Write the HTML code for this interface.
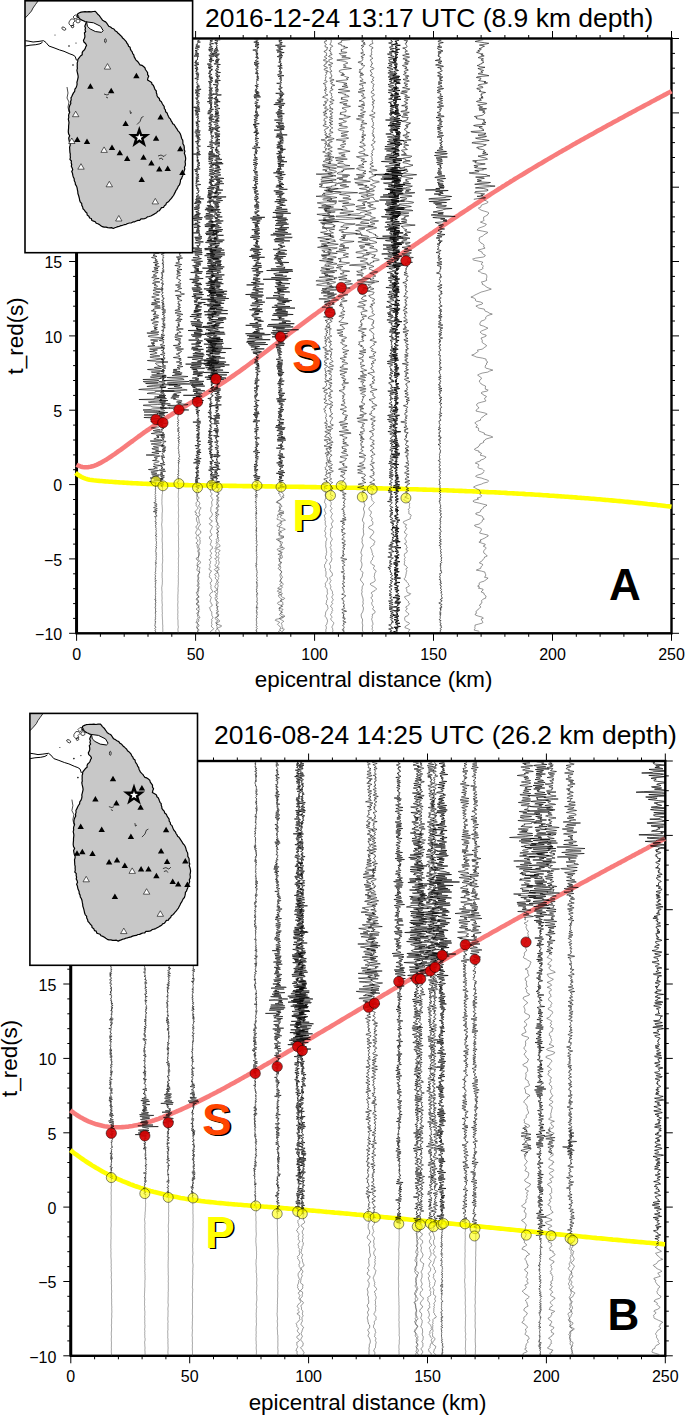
<!DOCTYPE html>
<html><head><meta charset="utf-8"><style>
html,body{margin:0;padding:0;background:#fff;overflow:hidden;width:685px;height:1415px;}
svg{display:block;}
text{font-family:"Liberation Sans", sans-serif;}
</style></head><body>
<svg width="685" height="1415" viewBox="0 0 685 1415" font-family='"Liberation Sans", sans-serif'>
<rect width="685" height="1415" fill="#fff"/>
<path d="M76.6 633.3v7.5M76.6 38.5v-7.5M100.4 633.3v3.5M100.4 38.5v-3.5M124.2 633.3v3.5M124.2 38.5v-3.5M148 633.3v3.5M148 38.5v-3.5M171.8 633.3v3.5M171.8 38.5v-3.5M195.6 633.3v7.5M195.6 38.5v-7.5M219.4 633.3v3.5M219.4 38.5v-3.5M243.2 633.3v3.5M243.2 38.5v-3.5M267 633.3v3.5M267 38.5v-3.5M290.8 633.3v3.5M290.8 38.5v-3.5M314.6 633.3v7.5M314.6 38.5v-7.5M338.4 633.3v3.5M338.4 38.5v-3.5M362.2 633.3v3.5M362.2 38.5v-3.5M385.9 633.3v3.5M385.9 38.5v-3.5M409.7 633.3v3.5M409.7 38.5v-3.5M433.5 633.3v7.5M433.5 38.5v-7.5M457.3 633.3v3.5M457.3 38.5v-3.5M481.1 633.3v3.5M481.1 38.5v-3.5M504.9 633.3v3.5M504.9 38.5v-3.5M528.7 633.3v3.5M528.7 38.5v-3.5M552.5 633.3v7.5M552.5 38.5v-7.5M576.3 633.3v3.5M576.3 38.5v-3.5M600.1 633.3v3.5M600.1 38.5v-3.5M623.9 633.3v3.5M623.9 38.5v-3.5M647.7 633.3v3.5M647.7 38.5v-3.5M671.5 633.3v7.5M671.5 38.5v-7.5M76.6 633.3h-7.5M671.5 633.3h7.5M76.6 618.4h-3.5M671.5 618.4h3.5M76.6 603.6h-3.5M671.5 603.6h3.5M76.6 588.7h-3.5M671.5 588.7h3.5M76.6 573.8h-3.5M671.5 573.8h3.5M76.6 558.9h-7.5M671.5 558.9h7.5M76.6 544.1h-3.5M671.5 544.1h3.5M76.6 529.2h-3.5M671.5 529.2h3.5M76.6 514.3h-3.5M671.5 514.3h3.5M76.6 499.5h-3.5M671.5 499.5h3.5M76.6 484.6h-7.5M671.5 484.6h7.5M76.6 469.7h-3.5M671.5 469.7h3.5M76.6 454.9h-3.5M671.5 454.9h3.5M76.6 440h-3.5M671.5 440h3.5M76.6 425.1h-3.5M671.5 425.1h3.5M76.6 410.2h-7.5M671.5 410.2h7.5M76.6 395.4h-3.5M671.5 395.4h3.5M76.6 380.5h-3.5M671.5 380.5h3.5M76.6 365.6h-3.5M671.5 365.6h3.5M76.6 350.8h-3.5M671.5 350.8h3.5M76.6 335.9h-7.5M671.5 335.9h7.5M76.6 321h-3.5M671.5 321h3.5M76.6 306.2h-3.5M671.5 306.2h3.5M76.6 291.3h-3.5M671.5 291.3h3.5M76.6 276.4h-3.5M671.5 276.4h3.5M76.6 261.5h-7.5M671.5 261.5h7.5M76.6 246.7h-3.5M671.5 246.7h3.5M76.6 231.8h-3.5M671.5 231.8h3.5M76.6 216.9h-3.5M671.5 216.9h3.5M76.6 202.1h-3.5M671.5 202.1h3.5M76.6 187.2h-7.5M671.5 187.2h7.5M76.6 172.3h-3.5M671.5 172.3h3.5M76.6 157.5h-3.5M671.5 157.5h3.5M76.6 142.6h-3.5M671.5 142.6h3.5M76.6 127.7h-3.5M671.5 127.7h3.5M76.6 112.9h-7.5M671.5 112.9h7.5M76.6 98h-3.5M671.5 98h3.5M76.6 83.1h-3.5M671.5 83.1h3.5M76.6 68.2h-3.5M671.5 68.2h3.5M76.6 53.4h-3.5M671.5 53.4h3.5M76.6 38.5h-7.5M671.5 38.5h7.5" stroke="#000" stroke-width="1" fill="none"/>
<rect x="76.6" y="38.5" width="594.9" height="594.8" fill="none" stroke="#000" stroke-width="2.4"/>
<path d="M76.6 38.5V633.3" stroke="#000" stroke-width="2.9"/>
<text x="76.6" y="659.8" text-anchor="middle" font-size="16">0</text>
<text x="195.6" y="659.8" text-anchor="middle" font-size="16">50</text>
<text x="314.6" y="659.8" text-anchor="middle" font-size="16">100</text>
<text x="433.5" y="659.8" text-anchor="middle" font-size="16">150</text>
<text x="552.5" y="659.8" text-anchor="middle" font-size="16">200</text>
<text x="671.5" y="659.8" text-anchor="middle" font-size="16">250</text>
<text x="62.2" y="640" text-anchor="end" font-size="16">−10</text>
<text x="62.2" y="565.6" text-anchor="end" font-size="16">−5</text>
<text x="62.2" y="491.3" text-anchor="end" font-size="16">0</text>
<text x="62.2" y="416.9" text-anchor="end" font-size="16">5</text>
<text x="62.2" y="342.6" text-anchor="end" font-size="16">10</text>
<text x="62.2" y="268.2" text-anchor="end" font-size="16">15</text>
<text x="373.6" y="687.2" text-anchor="middle" font-size="22.4">epicentral distance (km)</text>
<text transform="translate(22.5 335.8) rotate(-90)" text-anchor="middle" font-size="22.4">t_red(s)</text>
<path d="M70.8 1355.8v7.5M70.8 761v-7.5M94.6 1355.8v3.5M94.6 761v-3.5M118.4 1355.8v3.5M118.4 761v-3.5M142.1 1355.8v3.5M142.1 761v-3.5M165.9 1355.8v3.5M165.9 761v-3.5M189.7 1355.8v7.5M189.7 761v-7.5M213.5 1355.8v3.5M213.5 761v-3.5M237.3 1355.8v3.5M237.3 761v-3.5M261 1355.8v3.5M261 761v-3.5M284.8 1355.8v3.5M284.8 761v-3.5M308.6 1355.8v7.5M308.6 761v-7.5M332.4 1355.8v3.5M332.4 761v-3.5M356.2 1355.8v3.5M356.2 761v-3.5M379.9 1355.8v3.5M379.9 761v-3.5M403.7 1355.8v3.5M403.7 761v-3.5M427.5 1355.8v7.5M427.5 761v-7.5M451.3 1355.8v3.5M451.3 761v-3.5M475.1 1355.8v3.5M475.1 761v-3.5M498.8 1355.8v3.5M498.8 761v-3.5M522.6 1355.8v3.5M522.6 761v-3.5M546.4 1355.8v7.5M546.4 761v-7.5M570.2 1355.8v3.5M570.2 761v-3.5M594 1355.8v3.5M594 761v-3.5M617.7 1355.8v3.5M617.7 761v-3.5M641.5 1355.8v3.5M641.5 761v-3.5M665.3 1355.8v7.5M665.3 761v-7.5M70.8 1355.8h-7.5M665.3 1355.8h7.5M70.8 1340.9h-3.5M665.3 1340.9h3.5M70.8 1326.1h-3.5M665.3 1326.1h3.5M70.8 1311.2h-3.5M665.3 1311.2h3.5M70.8 1296.3h-3.5M665.3 1296.3h3.5M70.8 1281.5h-7.5M665.3 1281.5h7.5M70.8 1266.6h-3.5M665.3 1266.6h3.5M70.8 1251.7h-3.5M665.3 1251.7h3.5M70.8 1236.8h-3.5M665.3 1236.8h3.5M70.8 1222h-3.5M665.3 1222h3.5M70.8 1207.1h-7.5M665.3 1207.1h7.5M70.8 1192.2h-3.5M665.3 1192.2h3.5M70.8 1177.4h-3.5M665.3 1177.4h3.5M70.8 1162.5h-3.5M665.3 1162.5h3.5M70.8 1147.6h-3.5M665.3 1147.6h3.5M70.8 1132.8h-7.5M665.3 1132.8h7.5M70.8 1117.9h-3.5M665.3 1117.9h3.5M70.8 1103h-3.5M665.3 1103h3.5M70.8 1088.1h-3.5M665.3 1088.1h3.5M70.8 1073.3h-3.5M665.3 1073.3h3.5M70.8 1058.4h-7.5M665.3 1058.4h7.5M70.8 1043.5h-3.5M665.3 1043.5h3.5M70.8 1028.7h-3.5M665.3 1028.7h3.5M70.8 1013.8h-3.5M665.3 1013.8h3.5M70.8 998.9h-3.5M665.3 998.9h3.5M70.8 984h-7.5M665.3 984h7.5M70.8 969.2h-3.5M665.3 969.2h3.5M70.8 954.3h-3.5M665.3 954.3h3.5M70.8 939.4h-3.5M665.3 939.4h3.5M70.8 924.6h-3.5M665.3 924.6h3.5M70.8 909.7h-7.5M665.3 909.7h7.5M70.8 894.8h-3.5M665.3 894.8h3.5M70.8 880h-3.5M665.3 880h3.5M70.8 865.1h-3.5M665.3 865.1h3.5M70.8 850.2h-3.5M665.3 850.2h3.5M70.8 835.4h-7.5M665.3 835.4h7.5M70.8 820.5h-3.5M665.3 820.5h3.5M70.8 805.6h-3.5M665.3 805.6h3.5M70.8 790.7h-3.5M665.3 790.7h3.5M70.8 775.9h-3.5M665.3 775.9h3.5M70.8 761h-7.5M665.3 761h7.5" stroke="#000" stroke-width="1" fill="none"/>
<rect x="70.8" y="761" width="594.5" height="594.8" fill="none" stroke="#000" stroke-width="2.4"/>
<path d="M70.8 761V1355.8" stroke="#000" stroke-width="2.9"/>
<text x="70.8" y="1382.3" text-anchor="middle" font-size="16">0</text>
<text x="189.7" y="1382.3" text-anchor="middle" font-size="16">50</text>
<text x="308.6" y="1382.3" text-anchor="middle" font-size="16">100</text>
<text x="427.5" y="1382.3" text-anchor="middle" font-size="16">150</text>
<text x="546.4" y="1382.3" text-anchor="middle" font-size="16">200</text>
<text x="665.3" y="1382.3" text-anchor="middle" font-size="16">250</text>
<text x="56.4" y="1362.5" text-anchor="end" font-size="16">−10</text>
<text x="56.4" y="1288.2" text-anchor="end" font-size="16">−5</text>
<text x="56.4" y="1213.8" text-anchor="end" font-size="16">0</text>
<text x="56.4" y="1139.5" text-anchor="end" font-size="16">5</text>
<text x="56.4" y="1065.1" text-anchor="end" font-size="16">10</text>
<text x="56.4" y="990.8" text-anchor="end" font-size="16">15</text>
<text x="367.5" y="1409.7" text-anchor="middle" font-size="22.4">epicentral distance (km)</text>
<text transform="translate(16.7 1058.3) rotate(-90)" text-anchor="middle" font-size="22.4">t_red(s)</text>
<path d="M76.5 464.7 L78.5 465.7 L80.5 466.4 L82.5 466.9 L84.5 467.2 L86.5 467.2 L88.5 467.1 L90.5 466.8 L92.5 466.3 L94.5 465.6 L96.5 464.8 L98.5 463.9 L100.5 462.9 L102.5 461.8 L104.5 460.6 L106.6 459.4 L108.6 458.1 L110.6 456.8 L112.6 455.4 L114.6 454.1 L116.6 452.7 L118.6 451.2 L120.6 449.8 L122.6 448.3 L124.6 446.9 L126.6 445.4 L128.6 443.9 L130.6 442.4 L132.6 441.0 L134.6 439.5 L136.6 438.0 L138.6 436.5 L140.6 435.1 L142.6 433.7 L144.6 432.2 L146.6 430.8 L148.6 429.5 L150.6 428.1 L152.6 426.7 L154.6 425.4 L156.6 424.1 L158.6 422.7 L160.6 421.4 L162.6 420.2 L164.6 418.9 L166.7 417.6 L168.7 416.3 L170.7 415.1 L172.7 413.8 L174.7 412.6 L176.7 411.4 L178.7 410.1 L180.7 408.9 L182.7 407.7 L184.7 406.5 L186.7 405.2 L188.7 404.0 L190.7 402.8 L192.7 401.6 L194.7 400.4 L196.7 399.2 L198.7 397.9 L200.7 396.7 L202.7 395.5 L204.7 394.3 L206.7 393.0 L208.7 391.8 L210.7 390.5 L212.7 389.3 L214.7 388.0 L216.7 386.7 L218.7 385.4 L220.7 384.1 L222.7 382.8 L224.7 381.5 L226.8 380.1 L228.8 378.8 L230.8 377.4 L232.8 376.0 L234.8 374.6 L236.8 373.2 L238.8 371.8 L240.8 370.4 L242.8 368.9 L244.8 367.5 L246.8 366.0 L248.8 364.5 L250.8 363.0 L252.8 361.6 L254.8 360.1 L256.8 358.6 L258.8 357.0 L260.8 355.5 L262.8 354.0 L264.8 352.5 L266.8 351.0 L268.8 349.4 L270.8 347.9 L272.8 346.4 L274.8 344.8 L276.8 343.3 L278.8 341.7 L280.8 340.2 L282.8 338.6 L284.9 337.1 L286.9 335.6 L288.9 334.0 L290.9 332.5 L292.9 331.0 L294.9 329.4 L296.9 327.9 L298.9 326.4 L300.9 324.9 L302.9 323.4 L304.9 321.9 L306.9 320.4 L308.9 318.9 L310.9 317.4 L312.9 315.9 L314.9 314.5 L316.9 313.0 L318.9 311.5 L320.9 310.1 L322.9 308.6 L324.9 307.2 L326.9 305.7 L328.9 304.3 L330.9 302.8 L332.9 301.4 L334.9 300.0 L336.9 298.6 L338.9 297.1 L340.9 295.7 L342.9 294.3 L345.0 292.9 L347.0 291.5 L349.0 290.1 L351.0 288.7 L353.0 287.3 L355.0 285.9 L357.0 284.5 L359.0 283.1 L361.0 281.7 L363.0 280.3 L365.0 278.9 L367.0 277.5 L369.0 276.2 L371.0 274.8 L373.0 273.4 L375.0 272.0 L377.0 270.6 L379.0 269.3 L381.0 267.9 L383.0 266.5 L385.0 265.2 L387.0 263.8 L389.0 262.4 L391.0 261.0 L393.0 259.7 L395.0 258.3 L397.0 256.9 L399.0 255.6 L401.0 254.2 L403.0 252.8 L405.1 251.5 L407.1 250.1 L409.1 248.7 L411.1 247.4 L413.1 246.0 L415.1 244.6 L417.1 243.3 L419.1 241.9 L421.1 240.5 L423.1 239.2 L425.1 237.8 L427.1 236.4 L429.1 235.1 L431.1 233.7 L433.1 232.4 L435.1 231.0 L437.1 229.6 L439.1 228.3 L441.1 226.9 L443.1 225.6 L445.1 224.2 L447.1 222.9 L449.1 221.6 L451.1 220.2 L453.1 218.9 L455.1 217.5 L457.1 216.2 L459.1 214.9 L461.1 213.5 L463.1 212.2 L465.2 210.9 L467.2 209.6 L469.2 208.2 L471.2 206.9 L473.2 205.6 L475.2 204.3 L477.2 203.0 L479.2 201.7 L481.2 200.4 L483.2 199.1 L485.2 197.8 L487.2 196.5 L489.2 195.2 L491.2 193.9 L493.2 192.6 L495.2 191.4 L497.2 190.1 L499.2 188.8 L501.2 187.6 L503.2 186.3 L505.2 185.1 L507.2 183.8 L509.2 182.6 L511.2 181.3 L513.2 180.1 L515.2 178.8 L517.2 177.6 L519.2 176.4 L521.2 175.2 L523.3 174.0 L525.3 172.7 L527.3 171.5 L529.3 170.3 L531.3 169.1 L533.3 167.9 L535.3 166.7 L537.3 165.5 L539.3 164.3 L541.3 163.2 L543.3 162.0 L545.3 160.8 L547.3 159.6 L549.3 158.4 L551.3 157.3 L553.3 156.1 L555.3 154.9 L557.3 153.8 L559.3 152.6 L561.3 151.5 L563.3 150.3 L565.3 149.2 L567.3 148.0 L569.3 146.9 L571.3 145.7 L573.3 144.6 L575.3 143.5 L577.3 142.3 L579.3 141.2 L581.3 140.1 L583.4 138.9 L585.4 137.8 L587.4 136.7 L589.4 135.6 L591.4 134.5 L593.4 133.4 L595.4 132.2 L597.4 131.1 L599.4 130.0 L601.4 128.9 L603.4 127.8 L605.4 126.7 L607.4 125.6 L609.4 124.5 L611.4 123.4 L613.4 122.3 L615.4 121.2 L617.4 120.2 L619.4 119.1 L621.4 118.0 L623.4 116.9 L625.4 115.8 L627.4 114.7 L629.4 113.6 L631.4 112.6 L633.4 111.5 L635.4 110.4 L637.4 109.3 L639.4 108.3 L641.4 107.2 L643.5 106.1 L645.5 105.0 L647.5 104.0 L649.5 102.9 L651.5 101.8 L653.5 100.8 L655.5 99.7 L657.5 98.6 L659.5 97.6 L661.5 96.5 L663.5 95.4 L665.5 94.4 L667.5 93.3 L669.5 92.3 L671.5 91.2" fill="none" stroke="#f87c7c" stroke-width="4.6" stroke-linecap="butt" stroke-linejoin="round" stroke-opacity="1.0"/>
<path d="M75.5 472.9 L77.5 474.5 L79.5 475.8 L81.5 477.0 L83.5 477.9 L85.5 478.6 L87.5 479.2 L89.5 479.7 L91.5 480.0 L93.5 480.3 L95.5 480.5 L97.5 480.7 L99.5 480.9 L101.5 481.0 L103.5 481.2 L105.5 481.4 L107.5 481.5 L109.5 481.7 L111.5 481.8 L113.5 482.0 L115.5 482.1 L117.5 482.2 L119.5 482.4 L121.5 482.5 L123.5 482.6 L125.5 482.8 L127.5 482.9 L129.5 483.0 L131.5 483.1 L133.5 483.2 L135.5 483.3 L137.5 483.4 L139.5 483.5 L141.5 483.6 L143.5 483.7 L145.5 483.8 L147.5 483.9 L149.5 484.0 L151.5 484.0 L153.5 484.1 L155.5 484.2 L157.5 484.3 L159.5 484.3 L161.5 484.4 L163.5 484.5 L165.5 484.5 L167.5 484.6 L169.5 484.7 L171.5 484.7 L173.5 484.8 L175.5 484.8 L177.5 484.9 L179.5 484.9 L181.5 485.0 L183.5 485.0 L185.5 485.1 L187.5 485.1 L189.5 485.2 L191.5 485.2 L193.5 485.3 L195.5 485.3 L197.5 485.3 L199.5 485.4 L201.5 485.4 L203.5 485.4 L205.5 485.5 L207.5 485.5 L209.5 485.5 L211.5 485.6 L213.5 485.6 L215.5 485.6 L217.5 485.7 L219.5 485.7 L221.5 485.7 L223.5 485.8 L225.5 485.8 L227.5 485.8 L229.5 485.9 L231.5 485.9 L233.5 485.9 L235.5 485.9 L237.5 486.0 L239.5 486.0 L241.5 486.0 L243.5 486.1 L245.5 486.1 L247.5 486.1 L249.5 486.1 L251.5 486.2 L253.5 486.2 L255.5 486.2 L257.5 486.3 L259.5 486.3 L261.5 486.3 L263.5 486.3 L265.5 486.4 L267.5 486.4 L269.5 486.4 L271.5 486.4 L273.5 486.5 L275.5 486.5 L277.5 486.5 L279.5 486.6 L281.5 486.6 L283.5 486.6 L285.5 486.7 L287.5 486.7 L289.5 486.7 L291.5 486.7 L293.5 486.8 L295.5 486.8 L297.5 486.8 L299.5 486.9 L301.5 486.9 L303.5 486.9 L305.5 487.0 L307.5 487.0 L309.5 487.0 L311.5 487.1 L313.5 487.1 L315.5 487.1 L317.5 487.2 L319.5 487.2 L321.5 487.2 L323.5 487.3 L325.5 487.3 L327.5 487.3 L329.5 487.4 L331.5 487.4 L333.5 487.4 L335.5 487.5 L337.5 487.5 L339.5 487.5 L341.5 487.6 L343.5 487.6 L345.5 487.7 L347.5 487.7 L349.5 487.7 L351.5 487.8 L353.5 487.8 L355.5 487.8 L357.5 487.9 L359.5 487.9 L361.5 488.0 L363.5 488.0 L365.5 488.1 L367.5 488.1 L369.5 488.1 L371.5 488.2 L373.5 488.2 L375.5 488.3 L377.5 488.3 L379.5 488.4 L381.5 488.4 L383.5 488.5 L385.5 488.5 L387.5 488.6 L389.5 488.6 L391.5 488.7 L393.5 488.7 L395.5 488.8 L397.5 488.8 L399.5 488.9 L401.5 488.9 L403.5 489.0 L405.5 489.0 L407.5 489.1 L409.5 489.2 L411.5 489.2 L413.5 489.3 L415.5 489.3 L417.5 489.4 L419.5 489.5 L421.5 489.5 L423.5 489.6 L425.5 489.6 L427.5 489.7 L429.5 489.8 L431.5 489.8 L433.5 489.9 L435.5 490.0 L437.5 490.0 L439.5 490.1 L441.5 490.2 L443.5 490.2 L445.5 490.3 L447.5 490.4 L449.5 490.5 L451.5 490.5 L453.5 490.6 L455.5 490.7 L457.5 490.8 L459.5 490.9 L461.5 490.9 L463.5 491.0 L465.5 491.1 L467.5 491.2 L469.5 491.3 L471.5 491.3 L473.5 491.4 L475.5 491.5 L477.5 491.6 L479.5 491.7 L481.5 491.8 L483.5 491.9 L485.5 492.0 L487.5 492.1 L489.5 492.2 L491.5 492.2 L493.5 492.3 L495.5 492.4 L497.5 492.5 L499.5 492.6 L501.5 492.7 L503.5 492.8 L505.5 492.9 L507.5 493.1 L509.5 493.2 L511.5 493.3 L513.5 493.4 L515.5 493.5 L517.5 493.6 L519.5 493.7 L521.5 493.8 L523.5 493.9 L525.5 494.1 L527.5 494.2 L529.5 494.3 L531.5 494.4 L533.5 494.5 L535.5 494.7 L537.5 494.8 L539.5 494.9 L541.5 495.0 L543.5 495.2 L545.5 495.3 L547.5 495.4 L549.5 495.6 L551.5 495.7 L553.5 495.8 L555.5 496.0 L557.5 496.1 L559.5 496.2 L561.5 496.4 L563.5 496.5 L565.5 496.7 L567.5 496.8 L569.5 497.0 L571.5 497.1 L573.5 497.3 L575.5 497.4 L577.5 497.6 L579.5 497.7 L581.5 497.9 L583.5 498.0 L585.5 498.2 L587.5 498.3 L589.5 498.5 L591.5 498.7 L593.5 498.8 L595.5 499.0 L597.5 499.2 L599.5 499.3 L601.5 499.5 L603.5 499.7 L605.5 499.9 L607.5 500.0 L609.5 500.2 L611.5 500.4 L613.5 500.6 L615.5 500.8 L617.5 501.0 L619.5 501.1 L621.5 501.3 L623.5 501.5 L625.5 501.7 L627.5 501.9 L629.5 502.1 L631.5 502.3 L633.5 502.5 L635.5 502.7 L637.5 502.9 L639.5 503.1 L641.5 503.3 L643.5 503.5 L645.5 503.7 L647.5 504.0 L649.5 504.2 L651.5 504.4 L653.5 504.6 L655.5 504.8 L657.5 505.1 L659.5 505.3 L661.5 505.5 L663.5 505.7 L665.5 506.0 L667.5 506.2 L669.5 506.4 L671.5 506.7" fill="none" stroke="#ffff00" stroke-width="4.6" stroke-linecap="butt" stroke-linejoin="round" stroke-opacity="1.0"/>
<path d="M70.4 1110.3 L72.4 1111.8 L74.4 1113.3 L76.4 1114.7 L78.4 1116.0 L80.4 1117.2 L82.4 1118.3 L84.4 1119.4 L86.4 1120.4 L88.4 1121.3 L90.4 1122.1 L92.4 1122.9 L94.4 1123.6 L96.4 1124.3 L98.4 1124.8 L100.4 1125.3 L102.4 1125.8 L104.4 1126.2 L106.4 1126.5 L108.4 1126.8 L110.4 1127.0 L112.4 1127.1 L114.4 1127.2 L116.4 1127.3 L118.4 1127.3 L120.5 1127.2 L122.5 1127.1 L124.5 1127.0 L126.5 1126.8 L128.5 1126.6 L130.5 1126.3 L132.5 1126.0 L134.5 1125.6 L136.5 1125.2 L138.5 1124.8 L140.5 1124.3 L142.5 1123.8 L144.5 1123.3 L146.5 1122.7 L148.5 1122.1 L150.5 1121.5 L152.5 1120.8 L154.5 1120.2 L156.5 1119.5 L158.5 1118.8 L160.5 1118.0 L162.5 1117.3 L164.5 1116.5 L166.5 1115.7 L168.5 1114.9 L170.5 1114.1 L172.5 1113.2 L174.5 1112.4 L176.5 1111.5 L178.5 1110.7 L180.5 1109.8 L182.5 1108.9 L184.5 1108.0 L186.5 1107.1 L188.5 1106.2 L190.5 1105.2 L192.5 1104.3 L194.5 1103.3 L196.5 1102.4 L198.5 1101.4 L200.5 1100.4 L202.5 1099.4 L204.5 1098.4 L206.5 1097.4 L208.5 1096.4 L210.5 1095.3 L212.5 1094.3 L214.5 1093.2 L216.5 1092.2 L218.5 1091.1 L220.6 1090.1 L222.6 1089.0 L224.6 1087.9 L226.6 1086.8 L228.6 1085.7 L230.6 1084.6 L232.6 1083.5 L234.6 1082.4 L236.6 1081.3 L238.6 1080.2 L240.6 1079.1 L242.6 1077.9 L244.6 1076.8 L246.6 1075.7 L248.6 1074.5 L250.6 1073.4 L252.6 1072.3 L254.6 1071.1 L256.6 1070.0 L258.6 1068.8 L260.6 1067.7 L262.6 1066.5 L264.6 1065.3 L266.6 1064.2 L268.6 1063.0 L270.6 1061.9 L272.6 1060.7 L274.6 1059.5 L276.6 1058.4 L278.6 1057.2 L280.6 1056.0 L282.6 1054.9 L284.6 1053.7 L286.6 1052.5 L288.6 1051.3 L290.6 1050.2 L292.6 1049.0 L294.6 1047.8 L296.6 1046.6 L298.6 1045.4 L300.6 1044.3 L302.6 1043.1 L304.6 1041.9 L306.6 1040.7 L308.6 1039.5 L310.6 1038.4 L312.6 1037.2 L314.6 1036.0 L316.6 1034.8 L318.7 1033.6 L320.7 1032.4 L322.7 1031.2 L324.7 1030.0 L326.7 1028.8 L328.7 1027.7 L330.7 1026.5 L332.7 1025.3 L334.7 1024.1 L336.7 1022.9 L338.7 1021.7 L340.7 1020.5 L342.7 1019.3 L344.7 1018.1 L346.7 1016.9 L348.7 1015.7 L350.7 1014.6 L352.7 1013.4 L354.7 1012.2 L356.7 1011.0 L358.7 1009.8 L360.7 1008.6 L362.7 1007.4 L364.7 1006.2 L366.7 1005.0 L368.7 1003.8 L370.7 1002.7 L372.7 1001.5 L374.7 1000.3 L376.7 999.1 L378.7 997.9 L380.7 996.7 L382.7 995.5 L384.7 994.3 L386.7 993.2 L388.7 992.0 L390.7 990.8 L392.7 989.6 L394.7 988.4 L396.7 987.3 L398.7 986.1 L400.7 984.9 L402.7 983.7 L404.7 982.6 L406.7 981.4 L408.7 980.2 L410.7 979.0 L412.7 977.9 L414.7 976.7 L416.7 975.5 L418.8 974.4 L420.8 973.2 L422.8 972.0 L424.8 970.9 L426.8 969.7 L428.8 968.6 L430.8 967.4 L432.8 966.3 L434.8 965.1 L436.8 963.9 L438.8 962.8 L440.8 961.6 L442.8 960.5 L444.8 959.3 L446.8 958.2 L448.8 957.0 L450.8 955.9 L452.8 954.8 L454.8 953.6 L456.8 952.5 L458.8 951.3 L460.8 950.2 L462.8 949.1 L464.8 947.9 L466.8 946.8 L468.8 945.6 L470.8 944.5 L472.8 943.4 L474.8 942.3 L476.8 941.1 L478.8 940.0 L480.8 938.9 L482.8 937.7 L484.8 936.6 L486.8 935.5 L488.8 934.4 L490.8 933.2 L492.8 932.1 L494.8 931.0 L496.8 929.9 L498.8 928.8 L500.8 927.6 L502.8 926.5 L504.8 925.4 L506.8 924.3 L508.8 923.2 L510.8 922.1 L512.8 920.9 L514.8 919.8 L516.9 918.7 L518.9 917.6 L520.9 916.5 L522.9 915.4 L524.9 914.3 L526.9 913.2 L528.9 912.1 L530.9 911.0 L532.9 909.9 L534.9 908.8 L536.9 907.7 L538.9 906.6 L540.9 905.5 L542.9 904.4 L544.9 903.3 L546.9 902.2 L548.9 901.1 L550.9 900.0 L552.9 898.9 L554.9 897.8 L556.9 896.7 L558.9 895.6 L560.9 894.5 L562.9 893.4 L564.9 892.3 L566.9 891.2 L568.9 890.1 L570.9 889.1 L572.9 888.0 L574.9 886.9 L576.9 885.8 L578.9 884.7 L580.9 883.6 L582.9 882.5 L584.9 881.5 L586.9 880.4 L588.9 879.3 L590.9 878.2 L592.9 877.1 L594.9 876.1 L596.9 875.0 L598.9 873.9 L600.9 872.8 L602.9 871.7 L604.9 870.7 L606.9 869.6 L608.9 868.5 L610.9 867.4 L612.9 866.4 L614.9 865.3 L617.0 864.2 L619.0 863.1 L621.0 862.1 L623.0 861.0 L625.0 859.9 L627.0 858.8 L629.0 857.8 L631.0 856.7 L633.0 855.6 L635.0 854.6 L637.0 853.5 L639.0 852.4 L641.0 851.4 L643.0 850.3 L645.0 849.2 L647.0 848.2 L649.0 847.1 L651.0 846.0 L653.0 845.0 L655.0 843.9 L657.0 842.8 L659.0 841.8 L661.0 840.7 L663.0 839.6 L665.0 838.6" fill="none" stroke="#f87c7c" stroke-width="4.6" stroke-linecap="butt" stroke-linejoin="round" stroke-opacity="1.0"/>
<path d="M70.4 1150.2 L72.4 1151.7 L74.4 1153.3 L76.4 1154.7 L78.4 1156.2 L80.4 1157.6 L82.4 1159.0 L84.4 1160.4 L86.4 1161.7 L88.4 1163.0 L90.4 1164.3 L92.4 1165.6 L94.4 1166.8 L96.4 1168.0 L98.4 1169.1 L100.4 1170.3 L102.4 1171.4 L104.4 1172.5 L106.4 1173.5 L108.4 1174.5 L110.4 1175.6 L112.4 1176.5 L114.4 1177.5 L116.4 1178.4 L118.4 1179.3 L120.5 1180.2 L122.5 1181.1 L124.5 1181.9 L126.5 1182.7 L128.5 1183.5 L130.5 1184.3 L132.5 1185.0 L134.5 1185.8 L136.5 1186.5 L138.5 1187.2 L140.5 1187.9 L142.5 1188.5 L144.5 1189.2 L146.5 1189.8 L148.5 1190.4 L150.5 1191.0 L152.5 1191.5 L154.5 1192.1 L156.5 1192.6 L158.5 1193.1 L160.5 1193.6 L162.5 1194.1 L164.5 1194.6 L166.5 1195.0 L168.5 1195.5 L170.5 1195.9 L172.5 1196.3 L174.5 1196.7 L176.5 1197.1 L178.5 1197.5 L180.5 1197.9 L182.5 1198.2 L184.5 1198.6 L186.5 1198.9 L188.5 1199.2 L190.5 1199.5 L192.5 1199.8 L194.5 1200.1 L196.5 1200.4 L198.5 1200.7 L200.5 1200.9 L202.5 1201.2 L204.5 1201.4 L206.5 1201.7 L208.5 1201.9 L210.5 1202.1 L212.5 1202.3 L214.5 1202.5 L216.5 1202.8 L218.5 1203.0 L220.6 1203.1 L222.6 1203.3 L224.6 1203.5 L226.6 1203.7 L228.6 1203.9 L230.6 1204.0 L232.6 1204.2 L234.6 1204.4 L236.6 1204.5 L238.6 1204.7 L240.6 1204.8 L242.6 1205.0 L244.6 1205.2 L246.6 1205.3 L248.6 1205.5 L250.6 1205.6 L252.6 1205.8 L254.6 1205.9 L256.6 1206.1 L258.6 1206.2 L260.6 1206.4 L262.6 1206.5 L264.6 1206.7 L266.6 1206.8 L268.6 1207.0 L270.6 1207.1 L272.6 1207.3 L274.6 1207.5 L276.6 1207.6 L278.6 1207.8 L280.6 1207.9 L282.6 1208.1 L284.6 1208.3 L286.6 1208.4 L288.6 1208.6 L290.6 1208.8 L292.6 1208.9 L294.6 1209.1 L296.6 1209.3 L298.6 1209.4 L300.6 1209.6 L302.6 1209.8 L304.6 1209.9 L306.6 1210.1 L308.6 1210.3 L310.6 1210.5 L312.6 1210.6 L314.6 1210.8 L316.6 1211.0 L318.7 1211.1 L320.7 1211.3 L322.7 1211.5 L324.7 1211.7 L326.7 1211.9 L328.7 1212.0 L330.7 1212.2 L332.7 1212.4 L334.7 1212.6 L336.7 1212.7 L338.7 1212.9 L340.7 1213.1 L342.7 1213.3 L344.7 1213.5 L346.7 1213.6 L348.7 1213.8 L350.7 1214.0 L352.7 1214.2 L354.7 1214.4 L356.7 1214.6 L358.7 1214.7 L360.7 1214.9 L362.7 1215.1 L364.7 1215.3 L366.7 1215.5 L368.7 1215.7 L370.7 1215.9 L372.7 1216.1 L374.7 1216.2 L376.7 1216.4 L378.7 1216.6 L380.7 1216.8 L382.7 1217.0 L384.7 1217.2 L386.7 1217.4 L388.7 1217.6 L390.7 1217.8 L392.7 1218.0 L394.7 1218.1 L396.7 1218.3 L398.7 1218.5 L400.7 1218.7 L402.7 1218.9 L404.7 1219.1 L406.7 1219.3 L408.7 1219.5 L410.7 1219.7 L412.7 1219.9 L414.7 1220.1 L416.7 1220.3 L418.8 1220.5 L420.8 1220.7 L422.8 1220.9 L424.8 1221.1 L426.8 1221.3 L428.8 1221.5 L430.8 1221.7 L432.8 1221.9 L434.8 1222.1 L436.8 1222.2 L438.8 1222.4 L440.8 1222.6 L442.8 1222.8 L444.8 1223.0 L446.8 1223.2 L448.8 1223.4 L450.8 1223.6 L452.8 1223.8 L454.8 1224.0 L456.8 1224.2 L458.8 1224.4 L460.8 1224.6 L462.8 1224.8 L464.8 1225.0 L466.8 1225.2 L468.8 1225.4 L470.8 1225.6 L472.8 1225.8 L474.8 1226.0 L476.8 1226.2 L478.8 1226.4 L480.8 1226.6 L482.8 1226.8 L484.8 1227.0 L486.8 1227.2 L488.8 1227.4 L490.8 1227.6 L492.8 1227.8 L494.8 1228.0 L496.8 1228.2 L498.8 1228.4 L500.8 1228.6 L502.8 1228.8 L504.8 1229.0 L506.8 1229.2 L508.8 1229.4 L510.8 1229.6 L512.8 1229.8 L514.8 1230.0 L516.9 1230.2 L518.9 1230.4 L520.9 1230.6 L522.9 1230.8 L524.9 1231.0 L526.9 1231.2 L528.9 1231.4 L530.9 1231.6 L532.9 1231.8 L534.9 1232.0 L536.9 1232.2 L538.9 1232.4 L540.9 1232.6 L542.9 1232.8 L544.9 1233.0 L546.9 1233.2 L548.9 1233.4 L550.9 1233.6 L552.9 1233.8 L554.9 1234.0 L556.9 1234.2 L558.9 1234.4 L560.9 1234.6 L562.9 1234.8 L564.9 1235.0 L566.9 1235.2 L568.9 1235.4 L570.9 1235.6 L572.9 1235.8 L574.9 1235.9 L576.9 1236.1 L578.9 1236.3 L580.9 1236.5 L582.9 1236.7 L584.9 1236.9 L586.9 1237.1 L588.9 1237.3 L590.9 1237.5 L592.9 1237.7 L594.9 1237.9 L596.9 1238.1 L598.9 1238.2 L600.9 1238.4 L602.9 1238.6 L604.9 1238.8 L606.9 1239.0 L608.9 1239.2 L610.9 1239.4 L612.9 1239.6 L614.9 1239.7 L617.0 1239.9 L619.0 1240.1 L621.0 1240.3 L623.0 1240.5 L625.0 1240.7 L627.0 1240.9 L629.0 1241.0 L631.0 1241.2 L633.0 1241.4 L635.0 1241.6 L637.0 1241.8 L639.0 1242.0 L641.0 1242.1 L643.0 1242.3 L645.0 1242.5 L647.0 1242.7 L649.0 1242.8 L651.0 1243.0 L653.0 1243.2 L655.0 1243.4 L657.0 1243.6 L659.0 1243.7 L661.0 1243.9 L663.0 1244.1 L665.0 1244.2" fill="none" stroke="#ffff00" stroke-width="4.6" stroke-linecap="butt" stroke-linejoin="round" stroke-opacity="1.0"/>
<clipPath id="ca"><rect x="76.6" y="39.7" width="594.9" height="593.5999999999999"/></clipPath>
<g clip-path="url(#ca)">
<path d="M1562 4831l-10 5 0 5 4 5 4 5 -6 5 -5 5 9 5 0 5 -4 5 -3 5 7 5 1 5 -8 5 4 5 2 5 -6 5 3 5 0 5 -1 5 -1 5 5 5 -3 5 -6 5 5 5 5 5 -3 5 -3 5 5 5 1 5 -7 5 -1 5 4 5 7 5 -3 5 -8 5 5 5 3 5 -1 5 -18 5 4 5 22 5 2 5 2 5 -23 5 9 5 16 5 -6 5 -16 5 -14 5 20 5 18 5 -10 5 -15 5 -4 5 27 5 -3 5 -35 5 23 5 11 5 -16 5 12 5 -6 5 2 5 0 5 9 5 3 5 -26 5 9 5 3 5 2 5 -3 5 2 5 1 5 -1 5 2 5 -6 5 -5 5 11 5 5 5 -10 5 1 5 10 5 -5 5 -6 5 -1 5 6 5 1 5 -7 5 7 5 5 5 -4 5 -6 5 4 5 0 5 4 5 0 5 -3 5 0 5 -2 5 5 5 -3 5 -4 5 9 5 -6 5 -9 5 11 5 6 5 -4 5 -6 5 2 5 0 5 0 5 3 5 1 5 -6 5 3 5 4 5 0 5 0 5 2 5 -4 5 -3 5 2 5 4 5 -1 5 -3 5 -5 5 2 5 9 5 -7 5 -1 5 1 5 -2 5 -1 5 1 5 1 5 -5 5 5 5 3 5 -6 5 6 5 4 5 -8 5 1 5 0 5 2 5 2 5 -5 5 2 5 0 5 1 5 -2 5 3 5 -1 5 -5 5 0 5 3 5 -4 5 -3 5 14 5 -11 5 -4 5 6 5 -1 5 2 5 2 5 -2 5 -3 5 2 5 -3 5 2 5 3 5 -5 5 3 5 0 5 -6 5 4 5 0 5 -5 5 4 5 3 5 -4 5 -6 5 4 5 4 5 -3 5 3 5 -1 5 -7 5 7 5 -1 5 0 5 -6 5 6 5 10 5 -11 5 -4 5 6 5 6 5 -1 5 -7 5 -4 5 7 5 -2 5 2 5 1 5 -5 5 -4 5 9 5 1 5 2 5 -7 5 3 5 0 5 -2 5 -1 5 5 5 -5 5 6 5 -6 5 5 5 -1 5 -1 5 -1 5 -5 5 7 5 -1 5 -3 5 2 5 1 5 1 5 -9 5 0 5 14 5 -4 5 -8 5 6 5 2 5 3 5 -9 5 2 5 5 5 -7 5 0 5 7 5 0 5 -5 5 2 5 -8 5 4 5 7 5 -1 5 -7 5 6 5 -6 5 7 5 4 5 -11 5 3 5 -3 5 4 5 -2 5 6 5 -3 5 -1 5 2 5 -1 5 -2 5 -1 5 -2 5 6 5 -5 5 1 5 1 5 -6 5 6 5 3 5 -8 5 6 5 -4 5 2 5 2 5 -5 5 -2 5 1 5 4 5 -2 5 9 5 -3 5 -5 5 -4 5 5 5 5 5 -6 5 -2 5 3 5 4 5 -6 5 1 5 2 5" transform="scale(.1)" fill="none" stroke="#111" stroke-width="5.9"/>
<path d="M1573 385l-24 5 8 5 22 5 -5 5 -5 5 -20 5 0 5 14 5 4 5 10 5 -18 5 6 5 4 5 -35 5 4 5 20 5 35 5 -18 5 -24 5 -7 5 -4 5 6 5 14 5 -5 5 -7 5 9 5 -3 5 0 5 5 5 -11 5 0 5 -7 5 20 5 -6 5 3 5 2 5 -15 5 -10 5 3 5 41 5 4 5 -8 5 -48 5 9 5 35 5 13 5 -14 5 -13 5 -7 5 33 5 -28 5 -21 5 18 5 16 5 -27 5 -17 5 24 5 10 5 3 5 -8 5 -2 5 0 5 5 5 9 5 -15 5 5 5 -27 5 10 5 24 5 15 5 5 5 -29 5 -10 5 20 5 -3 5 -31 5 19 5 22 5 -2 5 -11 5 -10 5 4 5 27 5 -5 5 -26 5 -5 5 9 5 22 5 -26 5 3 5 14 5 13 5 -30 5 -3 5 9 5 15 5 -8 5 -10 5 -5 5 -4 5 25 5 -3 5 -17 5 -6 5 1 5 23 5 -1 5 -13 5 3 5 -5 5 4 5 4 5 9 5 6 5 -10 5 -14 5 3 5 -1 5 5 5 4 5 -25 5 -9 5 20 5 10 5 9 5 5 5 -16 5 9 5 -20 5 16 5 -1 5 -6 5 3 5 3 5 -4 5 -5 5 4 5 -8 5 0 5 6 5 -14 5 19 5 32 5 -30 5 -23 5 7 5 28 5 -18 5 5 5 14 5 -12 5 -8 5 3 5 3 5 9 5 -23 5 16 5 11 5 18 5 -10 5 -29 5 9 5 6 5 -5 5 1 5 -1 5 -1 5 -3 5 25 5 5 5 -2 5 -28 5 -11 5 19 5 -6 5 -28 5 15 5 9 5 -1 5 -1 5 4 5 15 5 -18 5 3 5 -6 5 7 5 -5 5 24 5 5 5 -16 5 3 5 -20 5 8 5 17 5 19 5 -7 5 -38 5 3 5 13 5 31 5 -6 5 -13 5 -8 5 4 5 4 5 14 5 -15 5 -10 5 -8 5 -8 5 9 5 3 5 14 5 -19 5 -14 5 11 5 8 5 -9 5 1 5 7 5 1 5 -5 5 2 5 1 5 -16 5 13 5 23 5 -5 5 -27 5 -4 5 46 5 -8 5 -25 5 -17 5 12 5 15 5 7 5 2 5 -22 5 5 5 8 5 5 5 -20 5 -15 5 23 5 -1 5 3 5 17 5 6 5 2 5 -5 5 -14 5 -25 5 11 5 25 5 0 5 -22 5 23 5 -2 5 -17 5 13 5 -5 5 -1 5 18 5 -12 5 2 5 -8 5 11 5 5 5 -22 5 6 5 -1 5 2 5 18 5 -13 5 -20 5 35 5 1 5 1 5 -12 5 -24 5 11 5 21 5 -2 5 8 5 -23 5 -11 5 -4 5 24 5 3 5 -16 5 12 5 -5 5 -25 5 2 5 38 5 -15 5 -20 5 -9 5 14 5 -3 5 16 5 7 5 4 5 -10 5 -24 5 -19 5 18 5 41 5 -19 5 -33 5 -7 5 40 5 14 5 -34 5 -26 5 39 5 15 5 -8 5 -20 5 19 5 2 5 -53 5 27 5 44 5 -11 5 -5 5 -2 5 -32 5 -28 5 25 5 45 5 1 5 -18 5 -15 5 -8 5 18 5 -4 5 18 5 7 5 -49 5 -11 5 25 5 25 5 -20 5 18 5 -7 5 8 5 -11 5 5 5 -8 5 8 5 -7 5 29 5 -1 5 -10 5 -19 5 -10 5 26 5 -3 5 -23 5 -14 5 35 5 20 5 -27 5 -29 5 6 5 26 5 17 5 -18 5 -14 5 38 5 -8 5 -6 5 -11 5 -16 5 8 5 -13 5 21 5 2 5 -6 5 3 5 3 5 -2 5 -6 5 -10 5 18 5 11 5 -1 5 -16 5 -5 5 9 5 24 5 -7 5 -22 5 33 5 -26 5 -31 5 15 5 29 5 7 5 -29 5 7 5 -9 5 -1 5 -1 5 11 5 27 5 -30 5 -38 5 11 5 49 5 6 5 -13 5 -17 5 14 5 -7 5 -24 5 5 5 24 5 0 5 0 5 1 5 3 5 -1 5 -13 5 -19 5 14 5 46 5 -30 5 -27 5 8 5 3 5 -16 5 29 5 11 5 -34 5 -21 5 22 5 23 5 -8 5 4 5 16 5 -22 5 2 5 25 5 -1 5 -42 5 29 5 22 5 -11 5 -25 5 22 5 -22 5 18 5 27 5 -10 5 -46 5 9 5 33 5 -37 5 4 5 19 5 17 5 -38 5 -23 5 27 5 32 5 -13 5 -11 5 -11 5 5 5 -20 5 15 5 22 5 -11 5 -32 5 -8 5 29 5 46 5 -44 5 -1 5 -8 5 -6 5 5 5 31 5 30 5 -52 5 -22 5 2 5 33 5 -1 5 -19 5 17 5 19 5 -2 5 -7 5 -26 5 -2 5 25 5 38 5 -28 5 -43 5 2 5 27 5 1 5 42 5 -12 5 -45 5 -16 5 6 5 31 5 25 5 -24 5 -9 5 -27 5 -15 5 12 5 26 5 15 5 26 5 -17 5 -41 5 20 5 -9 5 16 5 34 5 -67 5 -16 5 45 5 14 5 -62 5 33 5 40 5 16 5 -41 5 -16 5 32 5 28 5 -37 5 -29 5 -7 5 11 5 -26 5 -4 5 48 5 -3 5 -3 5 -13 5 16 5 -20 5 -9 5 44 5 14 5 -5 5 -44 5 4 5 41 5 1 5 -54 5 21 5 -26 5 -16 5 15 5 12 5 38 5 11 5 -45 5 -17 5 1 5 15 5 36 5 2 5 -15 5 -20 5 -6 5 10 5 28 5 -33 5 21 5 -19 5 30 5 -10 5 -15 5 -24 5 -16 5 82 5 -21 5 -100 5 39 5 68 5 9 5 -23 5 -57 5 -23 5 2 5 27 5 79 5 39 5 -11 5 -33 5 -56 5 -24 5 34 5 39 5 -42 5 5 5 1 5 -32 5 35 5 -23 5 11 5 -6 5 23 5 -70 5 -2 5 71 5 79 5 18 5 -57 5 -93 5 24 5 55 5 -39 5 7 5 -49 5 62 5 -1 5 16 5 -22 5 -19 5 -29 5 27 5 38 5 33 5 -55 5 -45 5 13 5 36 5 56 5 30 5 -65 5 -17 5 -79 5 39 5 107 5 61 5 -57 5 -66 5 -2 5 8 5 3 5 6 5 16 5 -2 5 28 5 -33 5 -38 5 24 5 48 5 -71 5 -70 5 48 5 86 5 34 5 -38 5 -91 5 22 5 62 5 -29 5 39 5 -52 5 -39 5 31 5 117 5 -84 5 -77 5 21 5 50 5 33 5 -23 5 -155 5 106 5 53 5 -23 5 -133 5 12 5 139 5 -3 5 -124 5 101 5 217 5 -132 5 -109 5 -43 5 -21 5 118 5 68 5 -80 5 -39 5 -107 5 -42 5 83 5 154 5 119 5 -187 5 2 5 -22 5 -51 5 -14 5 93 5 52 5 3 5 40 5 -38 5 -33 5 -43 5 108 5 -17 5 -94 5 1 5 -154 5 204 5 86 5 -64 5 -93 5 -38 5 7 5 123 5 71 5 19 5 -127 5 -140 5 -6 5 75 5 7 5 16 5 90 5 77 5 -48 5 -125 5 -22 5 -71 5 127 5 42 5 -4 5 -155 5 137 5 74 5 -82 5 12 5 -60 5 -80 5 105 5 70 5 -64 5 2 5 -115 5 99 5 53 5 -70 5 -14 5 60 5 27 5 -22 5 -64 5 53 5 22 5 8 5 -27 5 -3 5 14 5 54 5 -24 5 -5 5 -3 5 -5 5 -70 5 -9 5 29 5 20 5 25 5 18 5 -74 5 9 5 46 5 14 5 -49 5 -9 5 -30 5 61 5 47 5 17 5 -72 5 1 5 23 5 -18 5 20 5 -35 5 0 5 -18 5 26 5 50 5 -21 5 -91 5 37 5 71 5 3 5 -2 5 -75 5 -24 5 47 5 42 5 31 5 -53 5 -46 5 7 5 30 5 17 5 -67 5 1 5 19 5 47 5 -13 5 -20 5 54 5 -54 5 -36 5 43 5 29 5 -38 5 -21 5 -70 5 64 5 74 5 -21 5 -31 5 -6 5 34 5 -12 5 -10 5 10 5 2 5 -40 5 62 5 4 5 -7 5 -21 5 -18 5 -8 5 6 5 -4 5 34 5 33 5 -39 5 -35 5 21 5 0 5 22 5 -35 5 4 5 -60 5 33 5 69 5 -14 5 -32 5 -31 5 13 5 47 5 -4 5 -50 5 24 5 51 5 -17 5 -49 5 15 5 47 5 -25 5 -60 5 55 5 77 5 -58 5 -38 5 71 5 -47 5 -65 5 18 5 10 5 41 5" transform="scale(.1)" fill="none" stroke="#000" stroke-width="5.9"/>
<path d="M1626 4868l-1 10 0 10 0 10 1 10 -1 10 -1 10 1 10 -4 10 0 10 0 10 -1 10 0 10 -1 10 0 10 1 10 -1 10 0 10 1 10 2 10 0 10 1 10 0 10 1 10 0 10 0 10 -2 10 -1 10 0 10 0 10 0 10 -1 10 0 10 2 10 -1 10 -1 10 -1 10 -2 10 -1 10 2 10 1 10 1 10 0 10 1 10 1 10 1 10 -1 10 -1 10 2 10 0 10 0 10 -1 10 -1 10 0 10 1 10 0 10 2 10 0 10 1 10 -2 10 1 10 -1 10 1 10 2 10 -1 10 0 10 0 10 -1 10 2 10 0 10 1 10 -1 10 -1 10 2 10 0 10 -1 10 -1 10 -2 10 -1 10 1 10 1 10 -1 10 0 10 1 10 1 10 -1 10 -3 10 0 10 0 10 0 10 1 10 -1 10 3 10 -1 10 1 10 0 10 -1 10 0 10 -1 10 -2 10 -1 10 -2 10 1 10 0 10 1 10 2 10 0 10 -2 10 0 10 1 10 0 10 1 10 0 10 -1 10 -1 10 2 10 0 10 1 10 2 10 -1 10 -2 10 0 10 1 10 0 10 1 10 -1 10 2 10 0 10 -3 10 2 10 0 10 1 10 0 10 1 10 1 10 0 10 0 10 0 10 1 10 1 10 0 10 -1 10 1 10 0 10 0 10 0 10 1 10" transform="scale(.1)" fill="none" stroke="#555" stroke-width="5.5"/>
<path d="M1619 385l4 4 -12 4 4 4 0 4 8 4 11 4 -22 4 -8 4 19 4 2 4 1 4 2 4 -12 4 2 4 7 4 0 4 4 4 -8 4 3 4 5 4 3 4 -7 4 -9 4 -4 4 6 4 12 4 -1 4 -10 4 -4 4 1 4 -1 4 3 4 16 4 -8 4 -9 4 -7 4 2 4 17 4 -12 4 -3 4 8 4 -10 4 2 4 6 4 2 4 -1 4 -1 4 5 4 -1 4 -3 4 -3 4 0 4 -1 4 15 4 -5 4 -22 4 -10 4 17 4 18 4 -15 4 -6 4 8 4 13 4 3 4 -18 4 -2 4 0 4 5 4 4 4 9 4 -7 4 -13 4 -3 4 13 4 2 4 -2 4 -4 4 13 4 -10 4 2 4 2 4 3 4 -5 4 1 4 1 4 -2 4 -3 4 0 4 4 4 -2 4 -5 4 -1 4 -4 4 6 4 14 4 -7 4 -9 4 4 4 13 4 1 4 4 4 -11 4 -8 4 -8 4 24 4 -6 4 -1 4 -10 4 5 4 2 4 11 4 -2 4 -6 4 -7 4 -4 4 8 4 4 4 1 4 -6 4 5 4 -4 4 1 4 1 4 -4 4 4 4 -4 4 -7 4 3 4 8 4 3 4 3 4 -3 4 -15 4 13 4 4 4 -8 4 0 4 13 4 -4 4 -12 4 7 4 2 4 -21 4 1 4 23 4 -1 4 -15 4 4 4 7 4 -4 4 2 4 5 4 -6 4 -13 4 11 4 7 4 -7 4 -7 4 2 4 3 4 4 4 -13 4 4 4 12 4 -6 4 -12 4 -4 4 4 4 3 4 16 4 -14 4 2 4 13 4 -7 4 -8 4 -3 4 5 4 4 4 -1 4 -4 4 -6 4 13 4 -4 4 3 4 4 4 -13 4 6 4 -3 4 -5 4 9 4 -3 4 2 4 2 4 -7 4 -3 4 5 4 3 4 0 4 -6 4 9 4 8 4 1 4 -15 4 -2 4 14 4 -8 4 -13 4 -2 4 4 4 14 4 11 4 -17 4 -3 4 8 4 1 4 0 4 -10 4 0 4 14 4 -7 4 -8 4 -2 4 10 4 -1 4 -4 4 -7 4 19 4 -9 4 3 4 2 4 -7 4 3 4 10 4 5 4 -15 4 -1 4 15 4 -2 4 -14 4 -4 4 13 4 0 4 -2 4 3 4 -7 4 -6 4 0 4 6 4 3 4 6 4 0 4 -14 4 -2 4 24 4 -5 4 -12 4 7 4 -2 4 -4 4 -2 4 1 4 -8 4 15 4 0 4 -19 4 -3 4 19 4 13 4 -10 4 -8 4 -1 4 11 4 6 4 -7 4 -1 4 -10 4 11 4 5 4 3 4 -4 4 -10 4 6 4 6 4 0 4 4 4 -16 4 -3 4 13 4 3 4 0 4 -4 4 7 4 4 4 -12 4 2 4 5 4 4 4 -25 4 8 4 7 4 1 4 -3 4 3 4 3 4 -4 4 -3 4 1 4 2 4 9 4 -5 4 -13 4 7 4 13 4 -5 4 -13 4 3 4 6 4 -1 4 3 4 -7 4 -1 4 -8 4 4 4 13 4 7 4 -18 4 -2 4 9 4 9 4 -10 4 -15 4 9 4 9 4 -10 4 -23 4 17 4 19 4 -12 4 -7 4 12 4 1 4 -19 4 0 4 7 4 8 4 -13 4 -2 4 3 4 1 4 6 4 -7 4 -6 4 7 4 8 4 -9 4 7 4 -10 4 0 4 2 4 11 4 -13 4 1 4 8 4 -4 4 -13 4 17 4 -2 4 -11 4 6 4 -1 4 12 4 -1 4 -8 4 -2 4 8 4 9 4 -16 4 9 4 -4 4 -1 4 2 4 11 4 -11 4 -3 4 11 4 0 4 -5 4 -7 4 15 4 -1 4 8 4 -6 4 -21 4 0 4 19 4 2 4 -8 4 -9 4 1 4 7 4 1 4 7 4 -4 4 -15 4 16 4 13 4 -17 4 -12 4 23 4 -3 4 -8 4 -6 4 15 4 9 4 -21 4 1 4 2 4 0 4 -8 4 10 4 3 4 7 4 -9 4 -5 4 9 4 -2 4 -10 4 1 4 22 4 -9 4 -3 4 -13 4 18 4 16 4 -20 4 -19 4 1 4 9 4 12 4 -7 4 -7 4 -1 4 12 4 4 4 -13 4 -4 4 3 4 6 4 -4 4 -9 4 -5 4 24 4 -1 4 -26 4 15 4 18 4 -16 4 -18 4 14 4 18 4 4 4 -18 4 -1 4 -3 4 2 4 11 4 -4 4 -14 4 8 4 13 4 -10 4 1 4 11 4 -15 4 -5 4 3 4 18 4 -6 4 -6 4 -5 4 5 4 8 4 3 4 7 4 -29 4 0 4 15 4 5 4 2 4 -6 4 -10 4 12 4 3 4 -22 4 7 4 14 4 1 4 2 4 -18 4 5 4 11 4 2 4 -20 4 5 4 5 4 4 4 -6 4 8 4 -2 4 -5 4 -16 4 10 4 18 4 -10 4 -11 4 0 4 15 4 -7 4 -5 4 -1 4 2 4 5 4 -5 4 -2 4 5 4 8 4 -14 4 -10 4 20 4 13 4 -10 4 -25 4 24 4 -5 4 -12 4 2 4 27 4 -6 4 -25 4 4 4 8 4 11 4 2 4 -4 4 -5 4 6 4 4 4 -10 4 2 4 -1 4 2 4 -4 4 -3 4 11 4 -11 4 2 4 7 4 -1 4 4 4 -10 4 9 4 -3 4 -13 4 11 4 10 4 -7 4 -3 4 -1 4 9 4 -8 4 3 4 2 4 5 4 -15 4 -1 4 8 4 -2 4 2 4 10 4 -9 4 -12 4 3 4 17 4 0 4 -24 4 -8 4 7 4 10 4 2 4 -11 4 9 4 3 4 -9 4 -2 4 7 4 1 4 -16 4 3 4 18 4 -4 4 -2 4 -10 4 -10 4 18 4 4 4 0 4 0 4 3 4 0 4 -6 4 -10 4 -1 4 20 4 6 4 -13 4 -6 4 7 4 -8 4 3 4 4 4 4 4 -13 4 -8 4 6 4 17 4 -16 4 -14 4 29 4 -1 4 -14 4 0 4 7 4 -6 4 5 4 10 4 -1 4 -11 4 2 4 -3 4 -4 4 2 4 3 4 14 4 -4 4 -11 4 3 4 8 4 -2 4 14 4 0 4 -13 4 0 4 6 4 -9 4 -10 4 9 4 10 4 2 4 -6 4 -15 4 8 4 17 4 -11 4 -10 4 18 4 5 4 -19 4 -5 4 4 4 21 4 -10 4 -16 4 7 4 16 4 -1 4 -15 4 -9 4 31 4 10 4 -21 4 -10 4 6 4 14 4 11 4 -35 4 5 4 16 4 0 4 -11 4 -9 4 18 4 6 4 0 4 -13 4 4 4 -5 4 5 4 14 4 -1 4 -11 4 -24 4 11 4 9 4 15 4 -9 4 -17 4 4 4 10 4 -1 4 3 4 -8 4 -8 4 8 4 20 4 -23 4 -1 4 10 4 12 4 0 4 -33 4 1 4 12 4 22 4 -15 4 -4 4 0 4 -3 4 1 4 9 4 -25 4 6 4 16 4 -6 4 -5 4 3 4 -1 4 4 4 -3 4 -4 4 -14 4 20 4 15 4 -25 4 -13 4 12 4 6 4 14 4 -19 4 -5 4 8 4 -5 4 11 4 11 4 -30 4 -20 4 26 4 18 4 -1 4 4 4 -11 4 9 4 -3 4 -6 4 -6 4 -11 4 -9 4 32 4 15 4 -16 4 -14 4 -9 4 15 4 -1 4 10 4 7 4 2 4 -11 4 8 4 -7 4 -19 4 12 4 12 4 0 4 -13 4 1 4 17 4 8 4 -13 4 -17 4 -17 4 22 4 21 4 -7 4 0 4 -10 4 6 4 -6 4 15 4 7 4 -6 4 4 4 -40 4 24 4 -16 4 19 4 3 4 -13 4 1 4 5 4 2 4 -14 4 8 4 -6 4 17 4 -8 4 -9 4 3 4 28 4 4 4 -15 4 -26 4 15 4 16 4 10 4 -13 4 -10 4 5 4 -19 4 14 4 11 4 -12 4 -21 4 5 4 24 4 -9 4 3 4 2 4 -32 4 10 4 5 4 5 4 32 4 -7 4 -29 4 14 4 -18 4 42 4 -49 4 -13 4 45 4 -15 4 10 4 -17 4 11 4 -8 4 30 4 -16 4 -50 4 19 4 20 4 21 4 2 4 -10 4 -21 4 2 4 14 4 1 4 -22 4 -16 4 1 4 62 4 -15 4 -38 4 5 4 10 4 -5 4 -9 4 4 4 13 4 13 4 -20 4 0 4 -5 4 26 4 -34 4 -1 4 9 4 24 4 9 4 -11 4 4 4 -9 4 -41 4 39 4 21 4 -27 4 -52 4 35 4 31 4 28 4 -24 4 -41 4 12 4 8 4 -28 4 61 4 5 4 -28 4 -33 4 15 4 41 4 -18 4 -20 4 9 4 -7 4 3 4 28 4 -32 4 11 4 15 4 -21 4 -21 4 29 4 34 4 -40 4 -18 4 10 4 13 4 14 4 3 4 -8 4 -49 4 13 4 18 4 59 4 -53 4 -33 4 16 4 33 4 -25 4 -28 4 58 4 4 4 -35 4 3 4 3 4 -13 4 22 4 8 4 -15 4 2 4 8 4 -10 4 -22 4 31 4 5 4 -13 4 -26 4 34 4 -37 4 14 4 57 4 -34 4 -29 4 22 4 0 4 -15 4 0 4 22 4 17 4 -30 4 12 4 -9 4 5 4 12 4 -18 4 -9 4 12 4 2 4 -8 4 -2 4 5 4 -7 4 -16 4 33 4 7 4 -14 4 4 4 14 4 5 4 -12 4 -29 4 30 4 13 4 -21 4 -19 4 0 4 37 4 -4 4 -22 4 5 4 4 4 9 4 -17 4 -12 4 13 4 37 4 0 4 -24 4 -7 4 5 4 0 4 2 4 -4 4 -13 4 4 4 22 4 -2 4 -23 4 -5 4 44 4 -1 4 -18 4 -12 4 7 4 21 4 -26 4 -8 4 17 4 18 4 -28 4 -12 4 33 4 -6 4 -7 4 -5 4 -10 4 -2 4 7 4 7 4 4 4 3 4 -14 4 -19 4 13 4 19 4 10 4 -33 4 10 4 0 4 -11 4 14 4 -4 4 10 4 -8 4 0 4 8 4 5 4 -12 4 17 4 -5 4 -7 4 -32 4 25 4 25 4 -10 4 -29 4 1 4 5 4 -10 4 14 4 8 4 -12 4 1 4 -8 4 23 4 15 4 -26 4 -31 4 18 4 34 4 12 4 -33 4 -18 4 3 4 19 4 -16 4 -6 4 25 4 -15 4 -21 4 23 4 27 4 -18 4 -19 4 11 4 26 4 -9 4 -23 4 -5 4 20 4 -7 4 -3 4 -6 4 -3 4 4 4 11 4 -10 4 16 4 11 4 -2 4 -22 4 -25 4 35 4 6 4 3 4 -28 4 16 4 -8 4 -2 4 17 4" transform="scale(.1)" fill="none" stroke="#000" stroke-width="5.9"/>
<path d="M1785 4846l0 10 -1 10 0 10 1 10 1 10 0 10 -1 10 -1 10 -1 10 0 10 0 10 -1 10 1 10 3 10 -1 10 -1 10 -1 10 1 10 1 10 -2 10 0 10 1 10 1 10 0 10 1 10 -1 10 -1 10 -1 10 1 10 1 10 1 10 0 10 -1 10 -2 10 1 10 1 10 -1 10 -1 10 0 10 1 10 2 10 0 10 -1 10 0 10 0 10 1 10 1 10 -1 10 -3 10 0 10 0 10 2 10 0 10 1 10 0 10 -2 10 1 10 0 10 0 10 1 10 -1 10 0 10 1 10 1 10 -1 10 -2 10 -1 10 2 10 0 10 1 10 1 10 -1 10 -1 10 -2 10 1 10 1 10 0 10 -1 10 0 10 1 10 0 10 -1 10 0 10 1 10 -1 10 1 10 0 10 -2 10 1 10 1 10 -3 10 1 10 0 10 1 10 0 10 -1 10 0 10 1 10 -1 10 0 10 -1 10 0 10 -1 10 -1 10 1 10 1 10 -1 10 -1 10 0 10 -1 10 -1 10 1 10 0 10 -1 10 0 10 0 10 2 10 -1 10 -1 10 -1 10 0 10 1 10 1 10 0 10 -2 10 1 10 1 10 0 10 -1 10 -1 10 2 10 -1 10 0 10 -1 10 2 10 1 10 0 10 0 10 0 10 0 10 1 10 2 10 0 10 -3 10 -1 10 1 10 1 10 1 10 0 10" transform="scale(.1)" fill="none" stroke="#555" stroke-width="5.5"/>
<path d="M1764 385l2 5 14 5 14 5 -15 5 3 5 11 5 -24 5 19 5 7 5 -13 5 -32 5 -1 5 38 5 19 5 -11 5 -5 5 -2 5 -11 5 -27 5 32 5 39 5 -38 5 -30 5 38 5 -12 5 10 5 -9 5 -11 5 11 5 14 5 -11 5 -1 5 -9 5 -13 5 26 5 5 5 -21 5 -4 5 34 5 -8 5 -7 5 -7 5 20 5 -12 5 -6 5 -23 5 10 5 20 5 6 5 -20 5 0 5 11 5 26 5 -8 5 -28 5 17 5 30 5 -16 5 -45 5 9 5 12 5 25 5 -14 5 -17 5 11 5 5 5 -10 5 10 5 4 5 6 5 -21 5 -14 5 28 5 5 5 -25 5 17 5 1 5 -13 5 -6 5 -4 5 18 5 28 5 -13 5 -41 5 -3 5 47 5 16 5 -41 5 -15 5 11 5 31 5 6 5 -31 5 -26 5 19 5 43 5 -17 5 -27 5 9 5 20 5 -12 5 0 5 0 5 7 5 -15 5 5 5 9 5 9 5 -34 5 6 5 18 5 8 5 -10 5 -7 5 8 5 3 5 0 5 -17 5 9 5 17 5 4 5 -34 5 -20 5 38 5 10 5 -11 5 -9 5 -4 5 3 5 7 5 -9 5 -5 5 25 5 3 5 -40 5 22 5 24 5 -15 5 0 5 -4 5 15 5 -29 5 0 5 28 5 0 5 -12 5 -19 5 13 5 6 5 -7 5 -6 5 17 5 5 5 -11 5 -7 5 8 5 22 5 -26 5 -29 5 35 5 16 5 -9 5 -22 5 17 5 2 5 -22 5 4 5 13 5 20 5 -15 5 -16 5 7 5 -8 5 3 5 16 5 10 5 -34 5 10 5 39 5 -25 5 -1 5 1 5 -9 5 -8 5 -10 5 27 5 22 5 -30 5 -4 5 -5 5 -1 5 -1 5 10 5 8 5 4 5 1 5 -12 5 21 5 7 5 -7 5 -19 5 8 5 2 5 -10 5 -8 5 13 5 -18 5 9 5 7 5 -10 5 7 5 14 5 5 5 -13 5 -27 5 -5 5 39 5 23 5 -14 5 -40 5 -18 5 28 5 42 5 -5 5 -17 5 -11 5 2 5 12 5 -6 5 -17 5 -10 5 30 5 -10 5 -17 5 29 5 13 5 -19 5 -26 5 -8 5 44 5 -1 5 -35 5 4 5 4 5 6 5 9 5 -19 5 -13 5 33 5 -11 5 -17 5 8 5 20 5 -4 5 -38 5 24 5 -11 5 10 5 -20 5 6 5 4 5 -3 5 29 5 9 5 2 5 -19 5 -7 5 -5 5 28 5 8 5 -48 5 -9 5 46 5 26 5 -30 5 -26 5 -3 5 13 5 1 5 10 5 0 5 -30 5 27 5 -7 5 -8 5 -8 5 15 5 2 5 6 5 -3 5 2 5 0 5 -12 5 21 5 -19 5 -1 5 9 5 8 5 -6 5 -16 5 16 5 22 5 -1 5 -39 5 -8 5 14 5 8 5 -10 5 -9 5 9 5 15 5 -10 5 -7 5 8 5 10 5 -3 5 -3 5 -7 5 -6 5 3 5 -2 5 15 5 -8 5 -38 5 23 5 39 5 -7 5 -46 5 21 5 26 5 -18 5 -13 5 -8 5 24 5 -11 5 -13 5 25 5 23 5 7 5 -29 5 -17 5 3 5 19 5 -27 5 14 5 7 5 20 5 -31 5 -5 5 1 5 21 5 9 5 -21 5 -13 5 -7 5 19 5 -9 5 -3 5 24 5 24 5 -24 5 -16 5 -6 5 44 5 12 5 -34 5 -41 5 51 5 -1 5 -31 5 -7 5 23 5 12 5 -18 5 -5 5 1 5 3 5 18 5 -11 5 -22 5 0 5 42 5 -7 5 -26 5 -12 5 -14 5 25 5 27 5 19 5 -28 5 -51 5 4 5 40 5 37 5 -17 5 -47 5 1 5 35 5 3 5 -23 5 -1 5 8 5 6 5 2 5 6 5 7 5 -7 5 -6 5 15 5 19 5 -19 5 -18 5 -1 5 -14 5 -1 5 22 5 8 5 -19 5 5 5 5 5 -13 5 -2 5 20 5 27 5 -23 5 -26 5 16 5 15 5 7 5 -14 5 -4 5 10 5 -4 5 2 5 15 5 -21 5 -29 5 7 5 56 5 -20 5 -32 5 24 5 -18 5 9 5 1 5 -6 5 12 5 -14 5 -24 5 19 5 17 5 23 5 -30 5 -39 5 27 5 28 5 -2 5 -11 5 -4 5 -15 5 6 5 43 5 -31 5 -21 5 1 5 24 5 -23 5 19 5 16 5 -21 5 -17 5 2 5 11 5 26 5 -18 5 -18 5 4 5 0 5 -10 5 11 5 4 5 17 5 -1 5 13 5 -10 5 -5 5 -6 5 -3 5 16 5 9 5 1 5 -34 5 -21 5 19 5 32 5 -20 5 -11 5 1 5 29 5 12 5 -31 5 4 5 -9 5 -10 5 -22 5 45 5 17 5 -12 5 7 5 15 5 24 5 -19 5 -24 5 -46 5 35 5 21 5 -31 5 -10 5 15 5 2 5 -15 5 24 5 9 5 13 5 -21 5 -18 5 1 5 5 5 -8 5 0 5 19 5 -11 5 18 5 -11 5 -11 5 -4 5 19 5 10 5 -28 5 3 5 18 5 -4 5 -42 5 -3 5 43 5 17 5 -34 5 -16 5 -11 5 42 5 27 5 10 5 -51 5 -10 5 29 5 9 5 -17 5 4 5 -9 5 -11 5 32 5 17 5 -57 5 -8 5 53 5 -6 5 -13 5 -14 5 3 5 7 5 8 5 -17 5 16 5 -13 5 16 5 -26 5 -6 5 13 5 -9 5 28 5 36 5 -60 5 -9 5 25 5 0 5 6 5 13 5 0 5 -39 5 1 5 11 5 -16 5 -15 5 44 5 30 5 -16 5 -61 5 10 5 19 5 15 5 18 5 -58 5 12 5 28 5 14 5 -14 5 -5 5 12 5 13 5 -25 5 -7 5 20 5 -17 5 -49 5 42 5 35 5 -9 5 -31 5 -15 5 33 5 47 5 -32 5 -35 5 24 5 24 5 -3 5 -2 5 -11 5 -17 5 11 5 -32 5 10 5 10 5 12 5 4 5 0 5 -26 5 -39 5 35 5 43 5 -24 5 9 5 17 5 -9 5 -12 5 4 5 -33 5 54 5 -14 5 -8 5 24 5 -11 5 -3 5 -30 5 15 5 39 5 -23 5 -36 5 21 5 -2 5 12 5 -67 5 36 5 -16 5 -24 5 71 5 -42 5 -31 5 94 5 -48 5 -27 5 67 5 -65 5 -28 5 81 5 78 5 -49 5 -163 5 48 5 111 5 10 5 3 5 -81 5 -121 5 109 5 145 5 -66 5 -98 5 -56 5 168 5 92 5 -148 5 -97 5 116 5 -11 5 -51 5 30 5 50 5 -27 5 -116 5 118 5 57 5 19 5 -62 5 -174 5 98 5 69 5 8 5 -36 5 -26 5 -13 5 31 5 -39 5 66 5 -76 5 5 5 66 5 -62 5 -19 5 48 5 -23 5 29 5 13 5 32 5 14 5 -38 5 -19 5 49 5 -37 5 4 5 52 5 49 5 -20 5 -185 5 44 5 91 5 -11 5 -20 5 -90 5 37 5 5 5 128 5 28 5 -59 5 -56 5 11 5 -1 5 -4 5 -1 5 4 5 5 5 -3 5 -1 5 -2 5 -3 5 3 5 0 5 -4 5 4 5 -3 5 4 5 -2 5 2 5 5 5 -4 5 -9 5 5 5 10 5 -7 5 -7 5 2 5 6 5 1 5 -8 5 -2 5 6 5 0 5 5 5 9 5 -9 5 -12 5 7 5 11 5 -3 5 -15 5 7 5 13 5 0 5 -4 5 -4 5 0 5 6 5 -2 5 -9 5 4 5 8 5 6 5 -6 5 -16 5 3 5 12 5 4 5 -4 5 -10 5 -1 5 11 5 3 5 -8 5 -1 5 8 5 -5 5 -5 5 6 5 0 5 -5 5 0 5 3 5 -3 5 -1 5 -2 5 2 5 6 5 -2 5 -1 5 4 5 -1 5 -1 5 0 5 -5 5 7 5 2 5 0 5 2 5 -3 5 3 5 2 5 1 5 -6 5 -8 5 4 5 5 5 6 5 -5 5 -13 5 4 5 10 5 0 5 -13 5 -1 5 9 5 2 5 -6 5 3 5 -4 5 1 5 0 5 2 5 -1 5 2 5 -1 5 -1 5 -3 5 1 5 3 5 -8 5 9 5 -4 5 -1 5 -1 5 4 5 0 5 -11 5 7 5 8 5 -4 5 -4 5 -7 5 7 5 7 5 -6 5 2 5 0 5 0 5 3 5 -2 5 -2 5 -13 5 -1 5 6 5 6 5 4 5 -6 5" transform="scale(.1)" fill="none" stroke="#000" stroke-width="5.9"/>
<path d="M1958 4891l16 10 -1 10 -10 10 -4 10 12 10 7 10 -8 10 -1 10 -1 10 0 10 6 10 2 10 -9 10 -10 10 8 10 -6 10 6 10 9 10 7 10 -6 10 -11 10 -11 10 -4 10 19 10 -12 10 4 10 20 10 -9 10 -6 10 -2 10 4 10 -1 10 8 10 6 10 -3 10 -2 10 -13 10 -4 10 8 10 7 10 -2 10 -8 10 -3 10 -6 10 10 10 5 10 4 10 -11 10 -2 10 7 10 11 10 2 10 -10 10 -11 10 17 10 -4 10 -2 10 3 10 3 10 7 10 0 10 -8 10 8 10 1 10 1 10 0 10 1 10 -3 10 -20 10 0 10 8 10 16 10 -6 10 -9 10 4 10 -10 10 8 10 3 10 -4 10 -1 10 -6 10 14 10 20 10 -10 10 -8 10 0 10 -2 10 0 10 0 10 2 10 6 10 3 10 -7 10 -6 10 7 10 -15 10 2 10 9 10 12 10 -12 10 -7 10 7 10 -3 10 5 10 -8 10 -7 10 10 10 14 10 -20 10 -11 10 4 10 16 10 10 10 -18 10 -13 10 11 10 13 10 7 10 -19 10 -12 10 13 10 15 10 -5 10 1 10 -2 10 -5 10 -5 10 11 10 -3 10 -10 10 1 10 -1 10 -11 10 7 10 14 10 10 10 0 10 -16 10 -2 10 10 10 -7 10 3 10 -7 10 -3 10" transform="scale(.1)" fill="none" stroke="#333" stroke-width="5.0"/>
<path d="M1972 4891l0 10 7 10 11 10 -7 10 -10 10 -9 10 7 10 16 10 4 10 -9 10 -10 10 11 10 9 10 6 10 0 10 -7 10 -8 10 14 10 15 10 -12 10 -4 10 -2 10 0 10 -9 10 15 10 2 10 -14 10 -6 10 3 10 4 10 0 10 3 10 -2 10 5 10 11 10 -6 10 -8 10 -7 10 -4 10 6 10 6 10 14 10 1 10 -1 10 -12 10 -15 10 4 10 11 10 7 10 -7 10 5 10 3 10 -5 10 6 10 -9 10 -6 10 -2 10 0 10 2 10 12 10 -10 10 -5 10 6 10 4 10 -1 10 -1 10 -6 10 -5 10 2 10 -8 10 9 10 13 10 7 10 -4 10 -9 10 -16 10 -1 10 17 10 10 10 -12 10 2 10 -3 10 7 10 -5 10 -4 10 -4 10 -9 10 13 10 2 10 -9 10 -5 10 -4 10 8 10 10 10 1 10 -7 10 1 10 10 10 -11 10 -8 10 14 10 -6 10 -19 10 -3 10 11 10 7 10 8 10 -4 10 -14 10 -2 10 17 10 -5 10 3 10 -17 10 4 10 19 10 0 10 -1 10 -1 10 9 10 -10 10 5 10 -4 10 -20 10 5 10 12 10 6 10 8 10 -1 10 -12 10 2 10 3 10 -16 10 -2 10 11 10 -7 10 -8 10 -1 10 0 10 17 10 7 10 -10 10 -3 10 -6 10" transform="scale(.1)" fill="none" stroke="#333" stroke-width="5.0"/>
<path d="M1982 385l2 4 12 4 2 4 -2 4 -18 4 6 4 -10 4 14 4 16 4 -27 4 -3 4 -2 4 2 4 6 4 -10 4 -12 4 3 4 16 4 19 4 -38 4 8 4 29 4 -13 4 -32 4 16 4 13 4 5 4 -2 4 -10 4 -22 4 20 4 -11 4 -2 4 18 4 -12 4 -9 4 13 4 21 4 -39 4 9 4 30 4 -5 4 -31 4 -12 4 47 4 -4 4 -13 4 6 4 -5 4 4 4 -5 4 9 4 -9 4 -1 4 -11 4 9 4 -15 4 14 4 -8 4 -12 4 41 4 -10 4 -23 4 8 4 27 4 -25 4 -20 4 23 4 5 4 -8 4 -8 4 6 4 18 4 -17 4 -14 4 32 4 0 4 -21 4 9 4 -7 4 12 4 -19 4 7 4 11 4 4 4 6 4 -26 4 18 4 16 4 -11 4 -19 4 24 4 -6 4 9 4 -10 4 -12 4 13 4 6 4 -24 4 -13 4 23 4 14 4 -15 4 -3 4 5 4 0 4 -1 4 4 4 -6 4 -5 4 -1 4 14 4 5 4 -7 4 -4 4 -1 4 23 4 -3 4 -18 4 -5 4 30 4 -32 4 11 4 3 4 -11 4 11 4 32 4 -30 4 -30 4 35 4 9 4 -36 4 0 4 26 4 -12 4 -23 4 37 4 11 4 -33 4 4 4 12 4 -19 4 19 4 13 4 -16 4 -9 4 8 4 6 4 -29 4 18 4 8 4 -6 4 -11 4 12 4 12 4 -5 4 3 4 -20 4 2 4 22 4 8 4 -35 4 5 4 6 4 12 4 7 4 -19 4 0 4 0 4 18 4 -19 4 -37 4 46 4 17 4 -26 4 -18 4 41 4 3 4 -28 4 -22 4 43 4 10 4 -48 4 13 4 15 4 -23 4 -3 4 18 4 17 4 -22 4 -14 4 29 4 -6 4 -6 4 7 4 11 4 -26 4 4 4 17 4 1 4 2 4 -16 4 5 4 -3 4 10 4 -9 4 27 4 -10 4 -34 4 19 4 -11 4 18 4 -24 4 5 4 22 4 2 4 -15 4 -12 4 25 4 6 4 -16 4 -8 4 11 4 10 4 -14 4 -6 4 2 4 16 4 -33 4 13 4 37 4 -15 4 -31 4 -11 4 48 4 5 4 -28 4 -16 4 11 4 -2 4 39 4 -13 4 -32 4 -4 4 34 4 -21 4 -1 4 30 4 0 4 -26 4 2 4 29 4 4 4 -34 4 -1 4 18 4 4 4 -40 4 26 4 9 4 -6 4 -16 4 17 4 -8 4 1 4 -7 4 17 4 -9 4 28 4 -18 4 -12 4 -10 4 14 4 9 4 -8 4 -13 4 9 4 15 4 -9 4 -7 4 5 4 16 4 5 4 -32 4 15 4 -18 4 31 4 -11 4 -53 4 73 4 -7 4 -31 4 -2 4 10 4 -6 4 -2 4 15 4 -15 4 6 4 -3 4 6 4 -8 4 3 4 17 4 -22 4 20 4 -13 4 -6 4 19 4 9 4 -18 4 6 4 14 4 -24 4 2 4 -1 4 24 4 -10 4 -18 4 -1 4 20 4 1 4 -12 4 -12 4 -4 4 39 4 -12 4 -46 4 12 4 19 4 -4 4 -21 4 28 4 -4 4 0 4 -1 4 -10 4 -7 4 23 4 11 4 -27 4 3 4 16 4 6 4 -1 4 -21 4 -8 4 24 4 9 4 -4 4 -29 4 19 4 -9 4 1 4 -10 4 28 4 5 4 -34 4 15 4 -7 4 2 4 -12 4 8 4 5 4 39 4 -23 4 -29 4 13 4 3 4 -1 4 -12 4 16 4 3 4 0 4 -14 4 26 4 -14 4 -1 4 -1 4 -1 4 21 4 -8 4 4 4 -9 4 7 4 -9 4 -15 4 5 4 9 4 6 4 4 4 0 4 -18 4 1 4 -9 4 43 4 -6 4 -11 4 -28 4 38 4 40 4 -81 4 -1 4 32 4 10 4 -39 4 15 4 37 4 -61 4 25 4 37 4 -70 4 22 4 4 4 8 4 23 4 -20 4 8 4 -32 4 25 4 17 4 0 4 -56 4 13 4 40 4 -13 4 -38 4 38 4 2 4 9 4 -12 4 -8 4 -15 4 31 4 3 4 -28 4 8 4 34 4 -18 4 -31 4 40 4 -52 4 23 4 24 4 -1 4 -56 4 26 4 65 4 -36 4 -65 4 53 4 42 4 -23 4 -58 4 27 4 17 4 -11 4 -1 4 20 4 12 4 -25 4 -29 4 28 4 8 4 -49 4 9 4 50 4 -17 4 -7 4 35 4 -31 4 -34 4 50 4 4 4 -13 4 -12 4 23 4 -8 4 -21 4 14 4 21 4 -36 4 0 4 34 4 -4 4 -59 4 58 4 7 4 -11 4 3 4 13 4 -18 4 3 4 11 4 19 4 -26 4 -46 4 43 4 31 4 -46 4 -23 4 45 4 10 4 -10 4 -38 4 21 4 4 4 49 4 2 4 -75 4 -11 4 45 4 11 4 -11 4 2 4 6 4 -2 4 -32 4 2 4 16 4 -7 4 11 4 4 4 -67 4 61 4 32 4 -21 4 -48 4 -6 4 64 4 12 4 -50 4 -43 4 83 4 13 4 -79 4 20 4 3 4 49 4 6 4 -74 4 20 4 12 4 8 4 -6 4 12 4 -25 4 -40 4 32 4 53 4 -13 4 -12 4 -27 4 -46 4 42 4 14 4 55 4 -27 4 -62 4 37 4 29 4 4 4 -48 4 -5 4 36 4 18 4 -35 4 -49 4 49 4 15 4 -43 4 -8 4 24 4 -5 4 30 4 -41 4 16 4 26 4 -24 4 24 4 -46 4 2 4 82 4 -63 4 -56 4 65 4 46 4 -46 4 -19 4 10 4 -1 4 12 4 -22 4 -2 4 28 4 15 4 -34 4 -12 4 6 4 79 4 -58 4 -78 4 73 4 20 4 0 4 -61 4 11 4 38 4 -4 4 -55 4 27 4 66 4 -57 4 16 4 49 4 -28 4 -48 4 43 4 -1 4 -19 4 13 4 26 4 -54 4 -33 4 65 4 35 4 1 4 -96 4 11 4 51 4 19 4 -72 4 50 4 44 4 -35 4 30 4 -61 4 -16 4 -13 4 106 4 -37 4 -62 4 21 4 0 4 -40 4 56 4 47 4 -60 4 -20 4 60 4 -38 4 -7 4 20 4 -7 4 3 4 -34 4 14 4 16 4 -27 4 112 4 -74 4 0 4 35 4 -18 4 -52 4 18 4 32 4 -33 4 22 4 -27 4 61 4 -38 4 -27 4 21 4 3 4 -28 4 22 4 42 4 -33 4 -41 4 67 4 -63 4 43 4 -50 4 11 4 17 4 13 4 41 4 -48 4 -55 4 98 4 -46 4 20 4 -29 4 -59 4 104 4 11 4 -53 4 -6 4 7 4 -24 4 41 4 18 4 -10 4 -17 4 25 4 10 4 -99 4 26 4 91 4 6 4 -25 4 -90 4 -4 4 73 4 37 4 -68 4 -33 4 96 4 -64 4 50 4 44 4 -75 4 -10 4 21 4 -20 4 52 4 -43 4 53 4 -143 4 105 4 41 4 -48 4 -27 4 -12 4 67 4 7 4 -72 4 48 4 71 4 -149 4 88 4 18 4 -79 4 -13 4 86 4 -30 4 -8 4 -20 4 26 4 4 4 8 4 -12 4 -93 4 105 4 35 4 -42 4 -17 4 20 4 23 4 -53 4 50 4 -49 4 -44 4 62 4 17 4 0 4 -1 4 -37 4 65 4 -53 4 -49 4 21 4 38 4 3 4 -67 4 122 4 -78 4 -26 4 51 4 28 4 -4 4 -22 4 -11 4 -25 4 25 4 62 4 -107 4 26 4 63 4 27 4 -56 4 -59 4 26 4 78 4 -92 4 -65 4 63 4 90 4 -22 4 -36 4 -49 4 39 4 18 4 11 4 21 4 -26 4 -11 4 41 4 -99 4 9 4 175 4 -103 4 -141 4 106 4 54 4 -74 4 -30 4 50 4 47 4 -40 4 -69 4 49 4 99 4 -7 4 -125 4 55 4 -43 4 32 4 4 4 15 4 -7 4 -39 4 107 4 -53 4 -55 4 27 4 66 4 -76 4 -21 4 76 4 -29 4 51 4 -50 4 11 4 -10 4 -8 4 -26 4 -21 4 55 4 13 4 -37 4 12 4 19 4 -90 4 36 4 109 4 -21 4 -121 4 81 4 33 4 19 4 -12 4 -94 4 109 4 -77 4 -46 4 77 4 61 4 -122 4 -5 4 32 4 -19 4 30 4 -6 4 14 4 35 4 -74 4 -3 4 83 4 36 4 -120 4 47 4 -10 4 -7 4 56 4 8 4 -82 4 54 4 10 4 -25 4 -147 4 139 4 50 4 -60 4 40 4 -33 4 -41 4 43 4 14 4 -25 4 -37 4 39 4 17 4 57 4 -35 4 -67 4 31 4 17 4 45 4 -80 4 34 4 3 4 -23 4 10 4 -9 4 8 4 0 4 6 4 -8 4 15 4 -2 4 -23 4 23 4 0 4 -4 4 -12 4 -8 4 24 4 18 4 -17 4 -19 4 20 4 -16 4 20 4 -13 4 -14 4 13 4 14 4 -12 4 0 4 -1 4 14 4 -2 4 -10 4 3 4 4 4 -3 4 -1 4 -1 4 15 4 -21 4 4 4 -10 4 19 4 -9 4 30 4 -23 4 -54 4 44 4 35 4 -29 4 -2 4 -8 4 17 4 11 4 -23 4 -15 4 12 4 24 4 -21 4 2 4 22 4 -11 4 -22 4 8 4 11 4 13 4 -8 4 -26 4 9 4 15 4 5 4 -10 4 7 4 8 4 -2 4 -21 4 12 4 -20 4 30 4 -17 4 8 4 -22 4 13 4 13 4 6 4 -32 4 4 4 25 4 -15 4 5 4 -11 4 8 4 -16 4 18 4 24 4 -32 4 1 4 6 4 7 4 -5 4 -14 4 11 4 24 4 -15 4 -10 4 -31 4 46 4 -16 4 -3 4 8 4 4 4 -15 4 -15 4 28 4 11 4 7 4 -22 4 -8 4 27 4 -3 4 -35 4 10 4 38 4 -43 4 14 4 -11 4 4 4 23 4 -21 4 -19 4 12 4 15 4 6 4 0 4 -31 4 20 4 -5 4 37 4 -16 4 -52 4 19 4 18 4 16 4 -32 4 -8 4 46 4 -10 4 -33 4 -26 4 51 4 14 4 -33 4 7 4 5 4 1 4 9 4 -21 4 6 4 -9 4 20 4 5 4 -35 4 28 4 -19 4 8 4 -2 4 1 4 16 4 -10 4 -10 4 6 4 19 4 -35 4 15 4 -10 4 5 4 18 4 -9 4 -13 4 5 4 20 4 -25 4 14 4 -12 4 3 4 -14 4 37 4 7 4 -37 4 -7 4 23 4 4 4 -18 4 -11 4 27 4 -16 4 -9 4 22 4 -3 4 -1 4 -8 4 -1 4 0 4 -3 4 19 4 19 4 -17 4 -22 4 1 4 11 4 15 4 -4 4 8 4 -20 4" transform="scale(.1)" fill="none" stroke="#000" stroke-width="6.5"/>
<path d="M2113 4868l10 10 -9 10 -11 10 0 10 3 10 5 10 10 10 -2 10 -14 10 5 10 10 10 0 10 10 10 -8 10 -6 10 1 10 1 10 2 10 1 10 -6 10 -7 10 1 10 0 10 -2 10 3 10 8 10 5 10 1 10 -7 10 -4 10 -17 10 0 10 7 10 20 10 -5 10 -12 10 -14 10 8 10 20 10 4 10 -5 10 -4 10 -6 10 -7 10 1 10 3 10 9 10 4 10 -6 10 -19 10 1 10 2 10 14 10 6 10 -6 10 0 10 -7 10 -3 10 12 10 13 10 -3 10 -1 10 -16 10 -5 10 4 10 9 10 3 10 -12 10 -3 10 9 10 4 10 -10 10 -15 10 10 10 8 10 -6 10 1 10 -10 10 7 10 1 10 -2 10 -10 10 5 10 20 10 -2 10 -13 10 -1 10 -4 10 5 10 -9 10 15 10 5 10 7 10 1 10 -4 10 -14 10 4 10 4 10 5 10 -6 10 4 10 -2 10 9 10 6 10 5 10 -18 10 -11 10 -3 10 0 10 13 10 4 10 -6 10 -3 10 -2 10 -1 10 9 10 0 10 14 10 -5 10 -14 10 -13 10 8 10 2 10 2 10 13 10 0 10 -1 10 2 10 0 10 8 10 4 10 -12 10 -5 10 7 10 -4 10 -1 10 1 10 4 10 -8 10 3 10 13 10 9 10 -10 10 -16 10 -7 10 14 10" transform="scale(.1)" fill="none" stroke="#333" stroke-width="5.0"/>
<path d="M2103 385l7 4 19 4 -4 4 -13 4 -13 4 27 4 -6 4 -18 4 -2 4 2 4 0 4 16 4 18 4 -41 4 10 4 -8 4 11 4 1 4 -5 4 18 4 -2 4 -30 4 3 4 20 4 18 4 -19 4 -27 4 28 4 16 4 -41 4 6 4 7 4 19 4 -2 4 -3 4 0 4 -13 4 1 4 7 4 25 4 -27 4 -20 4 21 4 35 4 -37 4 -12 4 10 4 -1 4 19 4 -22 4 13 4 6 4 -31 4 39 4 11 4 -40 4 -8 4 27 4 -13 4 4 4 -4 4 2 4 -12 4 -23 4 36 4 7 4 -16 4 -15 4 15 4 27 4 -13 4 -33 4 31 4 -7 4 -17 4 22 4 17 4 -16 4 12 4 -14 4 -15 4 17 4 -17 4 -2 4 13 4 1 4 -22 4 15 4 12 4 9 4 -19 4 -8 4 12 4 0 4 -16 4 21 4 16 4 -31 4 0 4 34 4 -23 4 -7 4 17 4 -3 4 -5 4 22 4 -31 4 -15 4 27 4 8 4 -28 4 5 4 11 4 -12 4 4 4 15 4 -7 4 -11 4 7 4 6 4 -2 4 -18 4 9 4 30 4 -26 4 -6 4 24 4 -10 4 -18 4 -1 4 35 4 -15 4 -16 4 0 4 2 4 22 4 -23 4 2 4 42 4 -13 4 -41 4 15 4 24 4 -17 4 -3 4 -12 4 15 4 22 4 -48 4 33 4 11 4 -11 4 -11 4 -13 4 28 4 -10 4 -7 4 -29 4 51 4 -23 4 -5 4 -6 4 33 4 -5 4 -14 4 17 4 -17 4 10 4 -10 4 18 4 -14 4 -2 4 16 4 -20 4 7 4 -12 4 40 4 -29 4 -5 4 -17 4 38 4 -4 4 -19 4 -23 4 34 4 -8 4 -7 4 -20 4 29 4 24 4 -13 4 -17 4 3 4 33 4 -22 4 -21 4 -4 4 36 4 -14 4 -22 4 38 4 17 4 -44 4 -9 4 29 4 -4 4 1 4 11 4 -28 4 -7 4 21 4 -7 4 -21 4 10 4 21 4 -9 4 -2 4 11 4 -4 4 -25 4 14 4 15 4 11 4 -36 4 18 4 -13 4 41 4 -24 4 -28 4 18 4 30 4 -6 4 -24 4 16 4 -14 4 18 4 -8 4 -10 4 1 4 4 4 -2 4 9 4 -5 4 28 4 -17 4 -15 4 9 4 4 4 10 4 -11 4 -8 4 -3 4 3 4 -3 4 4 4 14 4 -13 4 3 4 -24 4 27 4 13 4 -17 4 -3 4 -17 4 2 4 30 4 -6 4 1 4 -27 4 -23 4 51 4 -8 4 26 4 -38 4 2 4 10 4 7 4 6 4 -12 4 7 4 -8 4 12 4 -37 4 34 4 6 4 -41 4 -6 4 46 4 18 4 -62 4 23 4 63 4 -43 4 -44 4 46 4 40 4 -77 4 7 4 -17 4 42 4 7 4 -47 4 19 4 13 4 12 4 -14 4 -31 4 8 4 28 4 -9 4 -3 4 16 4 -37 4 18 4 23 4 6 4 1 4 -34 4 6 4 16 4 -14 4 -18 4 17 4 28 4 7 4 -3 4 -13 4 -35 4 21 4 23 4 -7 4 -36 4 1 4 36 4 -3 4 18 4 -46 4 -6 4 41 4 5 4 -44 4 -7 4 8 4 7 4 24 4 -21 4 30 4 -26 4 3 4 -3 4 13 4 -28 4 -5 4 43 4 -24 4 -12 4 44 4 -36 4 -14 4 24 4 -28 4 19 4 12 4 -18 4 2 4 26 4 -22 4 37 4 -30 4 -2 4 -25 4 19 4 42 4 -46 4 -29 4 68 4 -23 4 -3 4 2 4 -37 4 39 4 10 4 -21 4 -29 4 73 4 8 4 -77 4 20 4 20 4 -45 4 33 4 3 4 -35 4 -6 4 93 4 -63 4 -28 4 45 4 -28 4 20 4 -25 4 29 4 2 4 19 4 -20 4 -32 4 35 4 -38 4 -12 4 37 4 -13 4 9 4 -1 4 1 4 -1 4 8 4 3 4 -44 4 39 4 21 4 -50 4 54 4 11 4 -86 4 11 4 77 4 7 4 -104 4 46 4 37 4 -59 4 8 4 70 4 10 4 -72 4 5 4 4 4 -39 4 28 4 27 4 13 4 -71 4 38 4 59 4 -53 4 -59 4 39 4 31 4 21 4 -23 4 -53 4 36 4 20 4 9 4 -18 4 -8 4 35 4 -45 4 1 4 47 4 -12 4 -47 4 -10 4 58 4 24 4 -99 4 30 4 77 4 -41 4 -64 4 50 4 35 4 -25 4 14 4 -35 4 42 4 -32 4 -9 4 -6 4 90 4 -31 4 -57 4 -20 4 60 4 16 4 -54 4 -34 4 92 4 25 4 -110 4 47 4 39 4 -7 4 -47 4 15 4 1 4 -24 4 19 4 54 4 2 4 -82 4 39 4 -12 4 14 4 -49 4 42 4 3 4 45 4 -102 4 -2 4 51 4 54 4 -53 4 -13 4 20 4 19 4 -33 4 21 4 -1 4 -29 4 -9 4 53 4 35 4 -67 4 -57 4 74 4 -36 4 -37 4 78 4 36 4 -19 4 -43 4 28 4 -23 4 3 4 27 4 -21 4 -50 4 17 4 71 4 -54 4 -48 4 -4 4 97 4 -6 4 -22 4 -43 4 16 4 47 4 50 4 -56 4 -56 4 41 4 3 4 -31 4 43 4 1 4 -51 4 23 4 16 4 6 4 -52 4 69 4 17 4 -48 4 -4 4 55 4 -86 4 60 4 -1 4 -50 4 41 4 27 4 -127 4 59 4 82 4 -22 4 -27 4 -26 4 -13 4 36 4 16 4 -67 4 38 4 31 4 0 4 -30 4 -41 4 75 4 -20 4 -1 4 24 4 -31 4 44 4 -64 4 -31 4 71 4 -18 4 4 4 -28 4 30 4 1 4 -25 4 32 4 -20 4 55 4 -69 4 6 4 -17 4 71 4 0 4 -92 4 45 4 14 4 27 4 -22 4 -55 4 46 4 8 4 5 4 -21 4 45 4 -58 4 8 4 44 4 -104 4 99 4 17 4 -60 4 -30 4 47 4 -26 4 27 4 46 4 -67 4 67 4 -58 4 18 4 -20 4 -7 4 53 4 -39 4 -36 4 20 4 31 4 18 4 -6 4 -25 4 9 4 24 4 -6 4 -60 4 23 4 59 4 1 4 -83 4 15 4 55 4 32 4 -55 4 -26 4 2 4 12 4 36 4 -109 4 89 4 75 4 -130 4 14 4 43 4 -12 4 -15 4 -3 4 67 4 -34 4 -34 4 54 4 -67 4 8 4 -11 4 22 4 53 4 -116 4 50 4 29 4 48 4 -42 4 -9 4 43 4 -94 4 -18 4 89 4 -35 4 -19 4 50 4 -12 4 12 4 -58 4 37 4 0 4 -23 4 41 4 3 4 -45 4 4 4 17 4 0 4 50 4 -2 4 -74 4 -9 4 49 4 -53 4 68 4 2 4 20 4 5 4 -75 4 5 4 -66 4 122 4 -46 4 -58 4 104 4 -4 4 -37 4 -33 4 -15 4 74 4 -54 4 23 4 2 4 -2 4 49 4 -49 4 -14 4 -40 4 101 4 -29 4 -33 4 -28 4 66 4 -12 4 -14 4 -27 4 19 4 18 4 -19 4 27 4 58 4 -126 4 -11 4 187 4 -70 4 -98 4 22 4 115 4 -123 4 37 4 8 4 -19 4 48 4 24 4 -132 4 45 4 75 4 -39 4 -14 4 23 4 -11 4 31 4 -6 4 -47 4 32 4 54 4 -88 4 -16 4 66 4 -15 4 -14 4 47 4 -31 4 -71 4 24 4 17 4 27 4 -32 4 32 4 -20 4 -47 4 42 4 5 4 -30 4 4 4 64 4 -29 4 -25 4 72 4 -15 4 -85 4 72 4 2 4 -50 4 -83 4 157 4 -2 4 -83 4 43 4 70 4 -123 4 7 4 107 4 -64 4 -7 4 9 4 -39 4 -11 4 63 4 13 4 -47 4 -6 4 49 4 -85 4 48 4 -2 4 18 4 28 4 -74 4 21 4 74 4 -35 4 12 4 -18 4 -16 4 -74 4 110 4 33 4 -52 4 -25 4 27 4 -1 4 -25 4 7 4 51 4 -9 4 -92 4 -13 4 86 4 22 4 -60 4 16 4 -46 4 98 4 -51 4 36 4 -15 4 -29 4 15 4 7 4 -19 4 3 4 25 4 -4 4 -24 4 13 4 2 4 -15 4 11 4 4 4 4 4 12 4 -30 4 23 4 -24 4 -6 4 26 4 7 4 -20 4 1 4 20 4 -26 4 -24 4 33 4 5 4 0 4 -7 4 -3 4 2 4 -3 4 -6 4 11 4 14 4 -11 4 5 4 -10 4 3 4 -11 4 -4 4 6 4 -33 4 30 4 -4 4 10 4 -17 4 6 4 2 4 1 4 8 4 -11 4 3 4 -1 4 18 4 -11 4 -20 4 20 4 -14 4 14 4 17 4 -36 4 22 4 -23 4 11 4 4 4 4 4 -8 4 7 4 -10 4 5 4 -13 4 0 4 19 4 -2 4 1 4 -18 4 -13 4 38 4 -10 4 -14 4 13 4 3 4 -11 4 14 4 0 4 1 4 -9 4 -23 4 37 4 -11 4 -9 4 33 4 -31 4 11 4 0 4 -9 4 -2 4 -10 4 18 4 6 4 -14 4 7 4 0 4 8 4 10 4 -15 4 -4 4 -10 4 1 4 15 4 -14 4 7 4 10 4 5 4 -1 4 -16 4 -7 4 -1 4 19 4 -2 4 -10 4 -6 4 7 4 -21 4 41 4 -32 4 3 4 15 4 -2 4 -16 4 12 4 -6 4 -12 4 39 4 -32 4 3 4 9 4 -6 4 -17 4 7 4 31 4 -20 4 -6 4 26 4 3 4 -10 4 -15 4 -17 4 26 4 23 4 -29 4 -22 4 40 4 -1 4 -13 4 5 4 -20 4 30 4 -5 4 -7 4 20 4 -5 4 -28 4 4 4 16 4 2 4 -25 4 -8 4 17 4 23 4 -3 4 -15 4 2 4 -17 4 21 4 -11 4 17 4 -8 4 -18 4 17 4 -2 4 23 4 -31 4 16 4 12 4 -21 4 7 4 15 4 -27 4 22 4 -3 4 -10 4 5 4 1 4 6 4 6 4 -6 4 17 4 -16 4 -25 4 19 4 -10 4 17 4 1 4 -25 4 17 4 -6 4 -3 4 9 4 5 4 -2 4 -5 4 -19 4 12 4 15 4 -4 4 10 4 -31 4 23 4 23 4 -58 4 9 4 18 4 7 4 -12 4 10 4 11 4 0 4 -19 4 10 4 -9 4 -9 4 52 4 -33 4 -14 4 -4 4 36 4 -7 4 1 4 2 4 -31 4 19 4 13 4 -18 4 4 4 15 4 -21 4 5 4 5 4 -15 4 -25 4 56 4 -22 4 -30 4 19 4 25 4 6 4 -19 4 -26 4 14 4 36 4 -16 4 -12 4" transform="scale(.1)" fill="none" stroke="#000" stroke-width="6.5"/>
<path d="M2171 4876l8 10 12 10 -16 10 -4 10 5 10 8 10 0 10 -10 10 -8 10 15 10 -8 10 -5 10 24 10 -9 10 -7 10 -7 10 -5 10 19 10 -7 10 -10 10 9 10 8 10 -6 10 -6 10 -20 10 20 10 20 10 -30 10 -7 10 17 10 0 10 -4 10 -3 10 -2 10 9 10 7 10 -6 10 -1 10 -9 10 10 10 1 10 -4 10 8 10 11 10 -20 10 -3 10 11 10 -2 10 1 10 5 10 -12 10 -6 10 7 10 -6 10 2 10 -4 10 10 10 -4 10 -9 10 0 10 -10 10 16 10 -7 10 -7 10 17 10 -3 10 -5 10 -3 10 13 10 4 10 -26 10 10 10 8 10 -4 10 2 10 -1 10 -10 10 -1 10 6 10 21 10 -22 10 -13 10 10 10 19 10 6 10 -22 10 -11 10 14 10 2 10 -8 10 2 10 11 10 4 10 -2 10 -1 10 -11 10 5 10 -8 10 -5 10 3 10 14 10 12 10 -13 10 -22 10 13 10 11 10 -10 10 -1 10 7 10 -10 10 -1 10 4 10 7 10 7 10 -2 10 -4 10 1 10 0 10 20 10 -15 10 5 10 -1 10 -9 10 10 10 -9 10 -3 10 16 10 12 10 -20 10 -19 10 -1 10 11 10 17 10 -6 10 -16 10 14 10 5 10 -13 10 11 10 -3 10 2 10 -7 10 -8 10 2 10 8 10 3 10" transform="scale(.1)" fill="none" stroke="#333" stroke-width="5.0"/>
<path d="M2186 4876l7 10 -4 10 -11 10 -3 10 5 10 13 10 -12 10 -17 10 14 10 11 10 -5 10 -6 10 -7 10 -1 10 -1 10 12 10 4 10 1 10 6 10 -22 10 -12 10 16 10 4 10 -1 10 -6 10 -7 10 -7 10 12 10 6 10 -11 10 -7 10 5 10 5 10 2 10 4 10 6 10 -1 10 8 10 7 10 -4 10 -5 10 -15 10 9 10 11 10 -16 10 4 10 3 10 1 10 -6 10 9 10 -2 10 2 10 5 10 -6 10 -8 10 6 10 9 10 12 10 -5 10 -30 10 -1 10 20 10 16 10 -8 10 -14 10 7 10 4 10 -8 10 -3 10 9 10 -1 10 -4 10 -4 10 12 10 -1 10 -3 10 -2 10 -10 10 3 10 10 10 -3 10 6 10 -22 10 2 10 6 10 4 10 4 10 3 10 -1 10 -8 10 6 10 -6 10 -4 10 2 10 9 10 -14 10 5 10 3 10 -1 10 -4 10 0 10 -7 10 5 10 3 10 -1 10 -4 10 0 10 -4 10 3 10 -4 10 10 10 -12 10 -3 10 9 10 14 10 -6 10 -13 10 -1 10 8 10 -2 10 0 10 6 10 2 10 7 10 -18 10 13 10 6 10 -10 10 -1 10 -13 10 14 10 4 10 15 10 -2 10 -22 10 -13 10 25 10 30 10 -2 10 -27 10 -13 10 7 10 13 10 0 10 -9 10 3 10" transform="scale(.1)" fill="none" stroke="#333" stroke-width="5.0"/>
<path d="M2155 385l4 4 -6 4 50 4 -38 4 -17 4 31 4 -7 4 0 4 0 4 -13 4 -14 4 31 4 -19 4 1 4 7 4 -4 4 6 4 8 4 -9 4 -4 4 6 4 -8 4 13 4 1 4 -23 4 13 4 15 4 -18 4 -23 4 21 4 26 4 -30 4 -18 4 12 4 22 4 -18 4 -36 4 46 4 32 4 -17 4 -45 4 13 4 38 4 -9 4 -24 4 15 4 9 4 -14 4 12 4 4 4 6 4 12 4 -36 4 17 4 12 4 -38 4 12 4 21 4 -28 4 13 4 16 4 -21 4 -22 4 1 4 62 4 -29 4 -2 4 0 4 9 4 -16 4 20 4 5 4 -18 4 -4 4 -7 4 17 4 7 4 -2 4 -32 4 8 4 -1 4 22 4 -16 4 6 4 34 4 -45 4 -5 4 12 4 1 4 13 4 -23 4 -2 4 6 4 38 4 -37 4 18 4 -6 4 -7 4 20 4 -5 4 -15 4 -6 4 -7 4 30 4 19 4 -55 4 27 4 5 4 -32 4 33 4 -7 4 6 4 3 4 2 4 -54 4 17 4 31 4 -3 4 -16 4 9 4 10 4 -12 4 -19 4 18 4 11 4 0 4 -22 4 29 4 1 4 -20 4 -15 4 22 4 9 4 -21 4 1 4 -5 4 14 4 4 4 -41 4 28 4 52 4 -28 4 -21 4 -2 4 -1 4 7 4 -17 4 18 4 -20 4 -14 4 33 4 13 4 -34 4 17 4 18 4 -25 4 5 4 39 4 -61 4 33 4 2 4 -16 4 -12 4 -8 4 20 4 19 4 -14 4 19 4 -5 4 -36 4 16 4 -7 4 2 4 25 4 21 4 -25 4 -26 4 17 4 10 4 3 4 -18 4 -12 4 16 4 24 4 -33 4 -2 4 32 4 -36 4 35 4 -13 4 -24 4 24 4 22 4 -10 4 -35 4 -7 4 42 4 0 4 9 4 -26 4 11 4 -22 4 2 4 25 4 -31 4 42 4 -3 4 -39 4 -21 4 30 4 17 4 -1 4 0 4 -27 4 -6 4 3 4 38 4 -18 4 -5 4 -9 4 24 4 24 4 -35 4 -42 4 60 4 0 4 -39 4 21 4 13 4 -21 4 22 4 16 4 -24 4 1 4 -12 4 -17 4 6 4 34 4 17 4 -52 4 8 4 29 4 8 4 -38 4 42 4 -16 4 -28 4 -7 4 35 4 -8 4 -3 4 -4 4 33 4 -44 4 25 4 -4 4 -21 4 -1 4 39 4 5 4 -68 4 25 4 44 4 -33 4 -20 4 11 4 36 4 -8 4 10 4 -17 4 -9 4 -11 4 13 4 -1 4 -11 4 -3 4 16 4 -24 4 35 4 -5 4 -27 4 27 4 14 4 1 4 -34 4 13 4 1 4 15 4 8 4 4 4 -16 4 5 4 -17 4 8 4 10 4 -25 4 14 4 7 4 13 4 -12 4 -32 4 63 4 -8 4 -66 4 11 4 16 4 4 4 -4 4 -14 4 63 4 -94 4 6 4 99 4 -33 4 -76 4 42 4 20 4 -34 4 17 4 27 4 -27 4 -1 4 32 4 -48 4 11 4 10 4 37 4 -1 4 -49 4 -13 4 46 4 -50 4 22 4 5 4 34 4 -15 4 -28 4 -20 4 16 4 43 4 10 4 -9 4 -25 4 -37 4 39 4 5 4 -29 4 0 4 67 4 19 4 -101 4 -5 4 68 4 -40 4 8 4 47 4 7 4 -51 4 13 4 15 4 -37 4 65 4 10 4 -91 4 29 4 19 4 -51 4 -3 4 29 4 21 4 -25 4 26 4 -16 4 -24 4 10 4 33 4 -36 4 6 4 64 4 -70 4 -1 4 17 4 -23 4 22 4 -21 4 59 4 -41 4 -28 4 23 4 25 4 -10 4 -4 4 1 4 -35 4 16 4 102 4 -66 4 -69 4 28 4 60 4 -25 4 -18 4 -8 4 15 4 49 4 -32 4 -72 4 32 4 38 4 9 4 -73 4 53 4 0 4 -38 4 6 4 39 4 -10 4 -25 4 -9 4 48 4 -30 4 -9 4 33 4 -16 4 -1 4 -13 4 -6 4 51 4 -93 4 53 4 25 4 0 4 -11 4 1 4 35 4 -55 4 9 4 -1 4 -22 4 43 4 15 4 -38 4 21 4 -2 4 -8 4 49 4 -43 4 -34 4 32 4 -25 4 20 4 5 4 18 4 -41 4 0 4 78 4 -27 4 -92 4 55 4 12 4 27 4 7 4 -52 4 12 4 1 4 -64 4 67 4 13 4 -1 4 -86 4 52 4 56 4 -21 4 -41 4 3 4 4 4 37 4 34 4 -68 4 -70 4 99 4 27 4 -89 4 62 4 -32 4 16 4 -40 4 38 4 1 4 -51 4 34 4 79 4 -68 4 -6 4 15 4 -5 4 -29 4 24 4 18 4 -43 4 30 4 -33 4 45 4 60 4 -83 4 -85 4 79 4 73 4 -27 4 -14 4 -2 4 -38 4 52 4 -31 4 -32 4 -5 4 27 4 35 4 -18 4 -25 4 29 4 -24 4 -1 4 55 4 10 4 -50 4 -69 4 73 4 70 4 -112 4 -35 4 112 4 0 4 -93 4 67 4 67 4 -58 4 -117 4 69 4 62 4 45 4 -130 4 -17 4 104 4 16 4 -110 4 -9 4 108 4 -14 4 -80 4 58 4 19 4 -67 4 41 4 28 4 18 4 -61 4 55 4 -47 4 -35 4 83 4 -46 4 -11 4 41 4 23 4 -45 4 38 4 -42 4 -43 4 61 4 58 4 -90 4 0 4 15 4 61 4 -6 4 -134 4 59 4 58 4 -8 4 -72 4 -17 4 62 4 41 4 -42 4 9 4 7 4 -58 4 9 4 56 4 51 4 -45 4 -81 4 13 4 -10 4 98 4 -14 4 -51 4 29 4 -27 4 -1 4 72 4 -83 4 31 4 -28 4 34 4 1 4 -91 4 125 4 -14 4 -97 4 96 4 33 4 -80 4 -50 4 97 4 2 4 -50 4 -49 4 100 4 -41 4 26 4 5 4 -60 4 -16 4 74 4 -3 4 37 4 -66 4 -71 4 102 4 80 4 -92 4 -97 4 159 4 -109 4 -27 4 75 4 85 4 -107 4 58 4 -106 4 121 4 -64 4 5 4 87 4 -158 4 3 4 128 4 56 4 -183 4 -98 4 182 4 62 4 -3 4 -136 4 -5 4 81 4 27 4 -67 4 10 4 83 4 -53 4 -42 4 57 4 -20 4 -53 4 81 4 -18 4 -11 4 -68 4 105 4 15 4 -60 4 -78 4 94 4 34 4 -66 4 45 4 73 4 -71 4 -74 4 57 4 25 4 -39 4 -34 4 70 4 68 4 -202 4 52 4 66 4 -7 4 -19 4 -29 4 -19 4 34 4 47 4 57 4 -29 4 -49 4 83 4 -18 4 -135 4 101 4 22 4 -65 4 -14 4 -29 4 69 4 44 4 -67 4 -17 4 49 4 -19 4 -38 4 28 4 19 4 -79 4 70 4 -41 4 -17 4 37 4 73 4 -64 4 -26 4 16 4 21 4 -3 4 -35 4 -6 4 -3 4 61 4 -45 4 91 4 -1 4 -149 4 -14 4 150 4 23 4 -40 4 -83 4 10 4 30 4 -4 4 -15 4 -18 4 64 4 7 4 -89 4 88 4 -30 4 -5 4 61 4 -36 4 -37 4 -83 4 158 4 -23 4 -83 4 -44 4 87 4 69 4 -115 4 -24 4 65 4 58 4 -60 4 -21 4 -57 4 86 4 61 4 -34 4 -135 4 115 4 139 4 -185 4 -6 4 66 4 28 4 -107 4 -48 4 144 4 -86 4 34 4 103 4 -110 4 -47 4 96 4 0 4 -32 4 -19 4 -27 4 2 4 11 4 74 4 -78 4 35 4 53 4 33 4 -52 4 -91 4 13 4 41 4 33 4 -48 4 -104 4 108 4 93 4 20 4 -117 4 -61 4 144 4 17 4 -207 4 138 4 119 4 -168 4 -75 4 160 4 35 4 -94 4 -33 4 85 4 -31 4 -89 4 37 4 37 4 28 4 45 4 -106 4 -16 4 37 4 34 4 30 4 79 4 -177 4 56 4 -21 4 -26 4 19 4 129 4 -118 4 -70 4 92 4 45 4 -57 4 -75 4 153 4 21 4 -141 4 8 4 111 4 -37 4 -31 4 13 4 -18 4 19 4 0 4 -5 4 4 4 -3 4 -8 4 24 4 -8 4 -20 4 14 4 -14 4 1 4 -3 4 10 4 -6 4 -15 4 26 4 -44 4 33 4 35 4 -47 4 -19 4 67 4 -10 4 -42 4 -21 4 56 4 6 4 -26 4 20 4 -11 4 -30 4 31 4 19 4 -14 4 -21 4 8 4 -1 4 22 4 24 4 -68 4 19 4 40 4 -13 4 -40 4 33 4 -7 4 -29 4 12 4 38 4 -23 4 3 4 -19 4 4 4 10 4 0 4 -9 4 -10 4 1 4 56 4 -67 4 -20 4 50 4 -5 4 15 4 -31 4 25 4 -24 4 19 4 10 4 -6 4 1 4 -3 4 -22 4 25 4 -6 4 -15 4 -4 4 -3 4 12 4 2 4 24 4 -19 4 -9 4 -4 4 42 4 -65 4 8 4 34 4 17 4 -40 4 -7 4 51 4 -47 4 -23 4 32 4 1 4 -23 4 11 4 38 4 -4 4 -37 4 -7 4 13 4 29 4 11 4 -58 4 18 4 10 4 4 4 -5 4 17 4 -16 4 -1 4 7 4 4 4 6 4 2 4 -22 4 -17 4 41 4 1 4 -10 4 -40 4 53 4 -16 4 -19 4 30 4 -14 4 -12 4 18 4 5 4 -12 4 2 4 5 4 7 4 -46 4 12 4 45 4 -23 4 -16 4 17 4 -5 4 -10 4 5 4 0 4 7 4 -2 4 -5 4 22 4 1 4 -16 4 -22 4 18 4 15 4 -7 4 1 4 -1 4 -2 4 -12 4 10 4 15 4 -1 4 5 4 -10 4 -16 4 -11 4 35 4 -6 4 -11 4 -10 4 8 4 13 4 -5 4 14 4 -18 4 4 4 2 4 15 4 -25 4 11 4 6 4 -9 4 12 4 -51 4 38 4 31 4 -3 4 -66 4 51 4 -12 4 4 4 -10 4 3 4 -4 4 -5 4 13 4 -10 4 7 4 3 4 0 4 7 4 -17 4 -23 4 47 4 12 4 -14 4 -28 4 -13 4 30 4 10 4 -27 4 27 4 3 4 -26 4 -37 4 50 4 14 4 -18 4 -2 4 34 4 -44 4 -14 4 30 4 -4 4 -3 4 -22 4 22 4 4 4 -29 4 22 4 14 4 -8 4 -14 4 -2 4 17 4 20 4 -22 4 -26 4 26 4 0 4 -34 4 24 4 17 4 -12 4 -2 4 4 4 -3 4 -5 4 2 4 6 4 29 4 -28 4 -25 4 37 4 -20 4 -7 4 34 4 0 4 -32 4 3 4 23 4 -8 4 -15 4 13 4 9 4 -18 4" transform="scale(.1)" fill="none" stroke="#000" stroke-width="6.5"/>
<path d="M2553 4868l11 5 0 5 4 5 -2 5 -12 5 7 5 6 5 2 5 -10 5 -4 5 12 5 -2 5 -6 5 -4 5 7 5 13 5 -23 5 -1 5 13 5 9 5 -19 5 2 5 3 5 5 5 -2 5 -5 5 4 5 5 5 -5 5 -12 5 9 5 9 5 -7 5 -4 5 4 5 3 5 -4 5 -2 5 7 5 1 5 -12 5 7 5 9 5 -9 5 -3 5 8 5 3 5 -7 5 -3 5 2 5 9 5 -12 5 -2 5 16 5 -9 5 -6 5 3 5 -1 5 1 5 6 5 -2 5 -9 5 10 5 2 5 -5 5 -3 5 5 5 -1 5 4 5 0 5 -9 5 5 5 7 5 -6 5 -2 5 5 5 -1 5 -6 5 -2 5 7 5 4 5 -8 5 0 5 10 5 -3 5 -9 5 10 5 -11 5 12 5 -4 5 -5 5 4 5 0 5 6 5 -6 5 -7 5 10 5 3 5 -8 5 5 5 -3 5 6 5 -10 5 0 5 8 5 -4 5 -3 5 1 5 11 5 -8 5 3 5 -4 5 -4 5 4 5 8 5 -1 5 -3 5 4 5 -3 5 -10 5 5 5 6 5 -2 5 -6 5 3 5 4 5 -10 5 9 5 -5 5 2 5 3 5 -3 5 -4 5 7 5 2 5 -1 5 -6 5 4 5 3 5 -2 5 -4 5 9 5 -3 5 -6 5 2 5 1 5 1 5 -4 5 2 5 -2 5 0 5 3 5 -1 5 -10 5 12 5 2 5 -5 5 -10 5 11 5 -3 5 -1 5 1 5 1 5 5 5 0 5 -7 5 4 5 5 5 -5 5 8 5 -1 5 -3 5 -4 5 4 5 -1 5 2 5 -7 5 4 5 -1 5 0 5 5 5 1 5 -1 5 -6 5 0 5 5 5 4 5 -5 5 -5 5 3 5 5 5 -13 5 6 5 9 5 -4 5 -1 5 5 5 -8 5 -2 5 10 5 -6 5 -3 5 5 5 -2 5 -8 5 4 5 6 5 0 5 -10 5 7 5 2 5 -2 5 9 5 -3 5 -10 5 11 5 -5 5 -4 5 -1 5 5 5 1 5 -2 5 3 5 0 5 1 5 -5 5 4 5 -1 5 0 5 -7 5 9 5 -3 5 1 5 6 5 -4 5 -5 5 1 5 1 5 -6 5 8 5 5 5 -18 5 10 5 6 5 -4 5 -1 5 -7 5 2 5 2 5 -3 5 10 5 -10 5 5 5 -2 5 2 5 5 5 -3 5 -7 5 0 5 4 5 6 5 -4 5 -8 5 3 5 0 5 -2 5 2 5 -3 5 2 5 4 5 -1 5 -2 5 4 5 -5 5 0 5 -1 5 0 5 5 5 4 5 -5 5 -5 5 4 5 4 5 2 5 -6 5 -3 5 -5 5 10 5 -1 5 2 5 -7 5 -6 5 6 5" transform="scale(.1)" fill="none" stroke="#111" stroke-width="5.9"/>
<path d="M2578 385l-37 4 16 4 26 4 -1 4 -19 4 -6 4 1 4 17 4 -37 4 35 4 17 4 -33 4 9 4 6 4 19 4 -40 4 27 4 5 4 -17 4 -16 4 17 4 23 4 -16 4 -5 4 9 4 2 4 -15 4 -14 4 -23 4 37 4 12 4 -9 4 -13 4 10 4 7 4 -10 4 19 4 -11 4 -13 4 20 4 4 4 -18 4 4 4 -5 4 6 4 12 4 -25 4 18 4 15 4 -18 4 -2 4 0 4 0 4 -2 4 -12 4 -2 4 32 4 -15 4 2 4 -31 4 14 4 38 4 -8 4 -44 4 29 4 13 4 -22 4 -8 4 27 4 5 4 -19 4 2 4 10 4 6 4 -14 4 -15 4 2 4 12 4 -6 4 17 4 1 4 -4 4 -11 4 -7 4 21 4 -5 4 -21 4 32 4 -6 4 -10 4 1 4 5 4 6 4 -14 4 2 4 19 4 -20 4 3 4 16 4 0 4 -17 4 -6 4 16 4 5 4 -18 4 3 4 -1 4 -5 4 0 4 5 4 -3 4 -1 4 -4 4 6 4 17 4 -6 4 -5 4 -24 4 23 4 11 4 -23 4 9 4 -2 4 1 4 6 4 -1 4 -20 4 7 4 10 4 -12 4 -10 4 12 4 24 4 -31 4 7 4 33 4 -33 4 19 4 6 4 -39 4 -2 4 53 4 -33 4 -27 4 34 4 35 4 -33 4 -33 4 19 4 1 4 7 4 -4 4 6 4 19 4 -18 4 -7 4 -1 4 -8 4 3 4 23 4 -3 4 -31 4 10 4 16 4 -3 4 2 4 -11 4 -10 4 51 4 -44 4 1 4 4 4 34 4 -34 4 6 4 -12 4 6 4 7 4 -9 4 4 4 -9 4 9 4 -11 4 25 4 -26 4 5 4 11 4 11 4 -11 4 -13 4 31 4 5 4 -52 4 11 4 31 4 -5 4 -5 4 -21 4 4 4 20 4 -9 4 -13 4 -13 4 23 4 12 4 -11 4 -19 4 10 4 8 4 -10 4 -9 4 23 4 27 4 -19 4 -44 4 31 4 -24 4 7 4 17 4 13 4 -31 4 18 4 -13 4 0 4 12 4 17 4 -8 4 -13 4 -1 4 22 4 -15 4 -15 4 28 4 -4 4 -34 4 51 4 1 4 -28 4 18 4 -18 4 -7 4 13 4 -14 4 15 4 5 4 -9 4 -3 4 -2 4 -7 4 35 4 -34 4 -3 4 8 4 6 4 11 4 -12 4 -11 4 3 4 22 4 6 4 0 4 -15 4 -16 4 14 4 13 4 -19 4 17 4 -4 4 -34 4 1 4 12 4 37 4 12 4 -78 4 12 4 29 4 5 4 -8 4 -11 4 21 4 7 4 -5 4 -23 4 -3 4 22 4 -16 4 17 4 0 4 -22 4 -9 4 10 4 -7 4 7 4 10 4 -5 4 -5 4 -6 4 30 4 -26 4 3 4 4 4 23 4 -15 4 -30 4 25 4 8 4 3 4 -1 4 -8 4 -24 4 28 4 -8 4 25 4 -27 4 -23 4 32 4 8 4 -12 4 -9 4 -8 4 6 4 19 4 -5 4 -12 4 -6 4 21 4 -4 4 -8 4 -7 4 -14 4 15 4 14 4 15 4 -35 4 26 4 9 4 -17 4 -8 4 -3 4 8 4 24 4 0 4 -13 4 -10 4 -10 4 -9 4 42 4 -15 4 -14 4 -11 4 17 4 23 4 -34 4 -8 4 -4 4 19 4 26 4 -27 4 11 4 -3 4 -9 4 11 4 20 4 -13 4 -22 4 12 4 -16 4 16 4 10 4 -3 4 -10 4 17 4 -47 4 41 4 3 4 -21 4 8 4 -19 4 10 4 13 4 21 4 -2 4 -38 4 12 4 11 4 -21 4 6 4 18 4 21 4 -22 4 3 4 -17 4 9 4 0 4 20 4 -23 4 -13 4 13 4 28 4 -12 4 5 4 -37 4 30 4 -7 4 5 4 -19 4 4 4 28 4 5 4 5 4 -32 4 5 4 10 4 -9 4 -9 4 30 4 -45 4 3 4 45 4 -7 4 -41 4 15 4 27 4 6 4 -11 4 -19 4 -9 4 9 4 4 4 8 4 20 4 -3 4 -26 4 -20 4 31 4 -9 4 -10 4 -8 4 22 4 4 4 10 4 -16 4 28 4 -30 4 -36 4 -1 4 120 4 -72 4 -74 4 69 4 47 4 -44 4 -54 4 -3 4 63 4 22 4 -35 4 17 4 -2 4 -56 4 27 4 42 4 -27 4 -23 4 26 4 6 4 -30 4 31 4 -11 4 -15 4 37 4 -41 4 0 4 10 4 8 4 29 4 -31 4 -47 4 47 4 30 4 -35 4 -20 4 38 4 -18 4 -13 4 42 4 10 4 -55 4 14 4 21 4 10 4 -53 4 -19 4 15 4 68 4 -9 4 -89 4 43 4 24 4 26 4 -18 4 -44 4 31 4 6 4 6 4 -17 4 27 4 -25 4 17 4 -24 4 8 4 13 4 -20 4 25 4 -9 4 -4 4 -32 4 16 4 43 4 -44 4 3 4 44 4 -11 4 -33 4 -41 4 26 4 86 4 -102 4 -23 4 83 4 10 4 -24 4 -37 4 51 4 24 4 -40 4 -22 4 32 4 -6 4 37 4 -67 4 -29 4 81 4 -14 4 -86 4 62 4 93 4 -102 4 -25 4 49 4 29 4 -26 4 17 4 -5 4 -46 4 23 4 19 4 1 4 5 4 -12 4 -16 4 53 4 -37 4 -21 4 9 4 9 4 -25 4 70 4 -88 4 8 4 33 4 47 4 -33 4 7 4 -74 4 58 4 9 4 -26 4 29 4 -19 4 -42 4 38 4 68 4 -26 4 -41 4 -4 4 44 4 -14 4 4 4 -25 4 -33 4 56 4 -30 4 10 4 7 4 -1 4 -28 4 -7 4 -12 4 38 4 33 4 -62 4 -11 4 54 4 -19 4 -12 4 28 4 22 4 -23 4 -66 4 51 4 -32 4 60 4 47 4 -90 4 -83 4 78 4 30 4 10 4 8 4 -46 4 15 4 -28 4 -1 4 50 4 52 4 -47 4 -61 4 34 4 26 4 -33 4 22 4 38 4 17 4 -100 4 -15 4 63 4 5 4 -45 4 -82 4 164 4 16 4 -117 4 -19 4 96 4 28 4 -43 4 -68 4 37 4 27 4 -31 4 -3 4 43 4 35 4 -60 4 23 4 -2 4 -34 4 101 4 -58 4 -67 4 -5 4 66 4 3 4 39 4 -86 4 -36 4 5 4 88 4 -26 4 5 4 -3 4 -2 4 3 4 -52 4 99 4 -4 4 -124 4 28 4 78 4 -33 4 -19 4 80 4 -88 4 2 4 8 4 10 4 32 4 -68 4 60 4 -25 4 -44 4 12 4 7 4 -8 4 10 4 41 4 30 4 -64 4 26 4 3 4 6 4 -37 4 72 4 -36 4 42 4 17 4 -53 4 0 4 -27 4 24 4 -2 4 -81 4 85 4 31 4 -5 4 -151 4 101 4 56 4 -15 4 -76 4 19 4 44 4 -10 4 19 4 36 4 -77 4 22 4 17 4 0 4 -29 4 13 4 -38 4 58 4 -70 4 44 4 74 4 -190 4 76 4 174 4 -41 4 -176 4 -19 4 152 4 -114 4 -17 4 100 4 -37 4 71 4 -125 4 -24 4 106 4 121 4 -134 4 -7 4 -48 4 -41 4 73 4 -81 4 193 4 -12 4 -122 4 -43 4 72 4 125 4 -184 4 10 4 42 4 17 4 34 4 -88 4 52 4 -5 4 20 4 -29 4 97 4 -106 4 -24 4 45 4 4 4 21 4 18 4 15 4 -88 4 76 4 -5 4 -66 4 36 4 -12 4 24 4 -3 4 6 4 -11 4 -1 4 -10 4 -1 4 25 4 -24 4 11 4 8 4 -8 4 -26 4 1 4 27 4 1 4 -25 4 -2 4 33 4 -2 4 -23 4 -15 4 26 4 22 4 -26 4 -4 4 32 4 -19 4 18 4 -25 4 17 4 11 4 -13 4 -28 4 10 4 30 4 1 4 -39 4 3 4 21 4 -9 4 7 4 26 4 -6 4 -32 4 -8 4 19 4 4 4 -9 4 -5 4 19 4 -17 4 11 4 -5 4 -12 4 8 4 7 4 -2 4 -11 4 14 4 -1 4 -25 4 9 4 8 4 25 4 -24 4 -23 4 17 4 13 4 -12 4 -16 4 27 4 -3 4 -28 4 13 4 4 4 10 4 -1 4 -9 4 29 4 -28 4 -3 4 16 4 -25 4 -11 4 36 4 -1 4 -14 4 13 4 3 4 -31 4 -6 4 28 4 -1 4 0 4 -14 4 -4 4 27 4 -1 4 -9 4 -4 4 17 4 -34 4 21 4 -5 4 5 4 -25 4 17 4 2 4 -1 4 -8 4 -3 4 16 4 -3 4 1 4 31 4 -32 4 -17 4 9 4 5 4 12 4 0 4 -19 4 7 4 -1 4 17 4 -18 4 9 4 20 4 -25 4 -22 4 34 4 6 4 -5 4 -11 4 8 4 -21 4 -6 4 27 4 3 4 -19 4 12 4 -9 4 5 4 28 4 -18 4 -31 4 21 4 32 4 -32 4 -31 4 50 4 -5 4 -34 4 8 4 27 4 -3 4 -23 4 22 4 -6 4 -8 4 7 4 5 4 -21 4 -13 4 15 4 47 4 -35 4 -35 4 35 4 1 4 12 4 -7 4 -9 4 0 4 9 4 -13 4 3 4 17 4 -19 4 4 4 -4 4 4 4 25 4 -29 4 -6 4 -8 4 24 4 17 4 -29 4 0 4 15 4 2 4 -30 4 26 4 -5 4 -4 4 -4 4 15 4 -1 4 -7 4 9 4 -8 4 1 4 3 4 -14 4 -7 4 24 4 19 4 5 4 -46 4 17 4 -7 4 10 4 -2 4 0 4 -4 4 -1 4 -7 4 18 4 3 4 -21 4 5 4 3 4 28 4 -26 4 -10 4 15 4 6 4 -15 4 15 4 -9 4 -17 4 -1 4 20 4 0 4 -10 4 10 4 -15 4 -5 4 33 4 -2 4 -40 4 -7 4 32 4 33 4 -35 4 -8 4 -5 4 29 4 -17 4 4 4 4 4 -17 4 3 4 25 4 5 4 -34 4 11 4 -6 4 11 4 15 4 -19 4 -3 4 -5 4 5 4 13 4 -12 4 -11 4 20 4 1 4 -4 4 -10 4 2 4 12 4 -31 4 19 4 12 4 7 4 -28 4 -12 4 29 4 -8 4 -14 4 7 4 3 4 -12 4 23 4 14 4 -39 4 18 4 13 4 -9 4 -11 4 -7 4 11 4 -1 4 15 4 -8 4 -2 4 -13 4 15 4 10 4 -39 4 16 4 30 4 22 4 -59 4 14 4 5 4 34 4 -28 4 -21 4 -1 4 41 4 -8 4 -10 4 -10 4 -6 4 9 4 2 4 19 4 -6 4 0 4 1 4 -10 4 7 4 -30 4 5 4 27 4 -3 4 -20 4" transform="scale(.1)" fill="none" stroke="#000" stroke-width="6.5"/>
<path d="M2789 4883l-8 10 9 10 1 10 4 10 -13 10 20 10 -4 10 8 10 8 10 -3 10 4 10 -17 10 -25 10 -9 10 31 10 14 10 -7 10 -9 10 -1 10 13 10 -2 10 -14 10 -7 10 18 10 39 10 -47 10 -22 10 11 10 1 10 -10 10 -2 10 34 10 13 10 0 10 -11 10 -22 10 -14 10 2 10 33 10 29 10 19 10 -26 10 -18 10 -21 10 2 10 6 10 -9 10 19 10 33 10 -15 10 -27 10 -19 10 18 10 29 10 -4 10 -8 10 1 10 -19 10 17 10 33 10 -12 10 -35 10 -6 10 19 10 0 10 3 10 5 10 4 10 2 10 -7 10 -28 10 5 10 1 10 11 10 5 10 -11 10 -1 10 -1 10 11 10 -3 10 -9 10 3 10 13 10 1 10 -8 10 2 10 5 10 7 10 4 10 -9 10 -2 10 -11 10 4 10 14 10 -13 10 -10 10 6 10 14 10 8 10 -15 10 -9 10 -23 10 -6 10 28 10 22 10 -3 10 -36 10 2 10 7 10 13 10 16 10 -13 10 4 10 -33 10 -6 10 8 10 26 10 20 10 -28 10 -12 10 6 10 -4 10 23 10 13 10 -20 10 -11 10 6 10 10 10 24 10 -19 10 -57 10 -7 10 25 10 20 10 -13 10 -10 10 10 10 14 10 7 10 4 10 -14 10 13 10 -22 10 0 10 -4 10" transform="scale(.1)" fill="none" stroke="#333" stroke-width="5.0"/>
<path d="M2814 4883l-4 10 5 10 -6 10 4 10 16 10 5 10 7 10 -19 10 19 10 -22 10 -11 10 -20 10 -14 10 -8 10 21 10 15 10 6 10 14 10 -21 10 -4 10 0 10 -3 10 41 10 1 10 -48 10 4 10 30 10 -20 10 1 10 12 10 28 10 12 10 -42 10 -15 10 12 10 10 10 -13 10 -12 10 3 10 -4 10 3 10 -15 10 23 10 11 10 -25 10 -2 10 17 10 33 10 -14 10 -31 10 -31 10 22 10 18 10 -1 10 1 10 9 10 -1 10 8 10 9 10 -32 10 -25 10 6 10 17 10 30 10 -15 10 -30 10 34 10 -19 10 19 10 -28 10 10 10 -1 10 -3 10 27 10 -15 10 -16 10 -3 10 18 10 -9 10 -13 10 8 10 18 10 9 10 2 10 -9 10 -7 10 -2 10 3 10 3 10 8 10 -6 10 -1 10 -11 10 18 10 14 10 7 10 -11 10 -18 10 -15 10 -14 10 35 10 1 10 0 10 -8 10 -19 10 10 10 19 10 -2 10 13 10 23 10 -9 10 -36 10 9 10 17 10 -2 10 6 10 -22 10 5 10 -10 10 -16 10 41 10 -8 10 -10 10 5 10 -15 10 9 10 24 10 14 10 -38 10 -19 10 9 10 21 10 15 10 -13 10 -13 10 5 10 4 10 -2 10 9 10 -11 10 27 10 -12 10 -6 10 -19 10 2 10" transform="scale(.1)" fill="none" stroke="#333" stroke-width="5.0"/>
<path d="M2805 385l-16 4 8 4 -5 4 28 4 -19 4 -14 4 14 4 -6 4 13 4 16 4 -30 4 4 4 2 4 21 4 -10 4 -32 4 -25 4 38 4 62 4 -33 4 -48 4 19 4 17 4 1 4 -24 4 6 4 35 4 -24 4 -39 4 28 4 8 4 14 4 -32 4 -12 4 72 4 -22 4 -21 4 -4 4 18 4 7 4 -30 4 -2 4 40 4 -16 4 -41 4 10 4 40 4 -16 4 -12 4 3 4 18 4 -23 4 8 4 5 4 -3 4 -9 4 18 4 -3 4 -22 4 4 4 18 4 8 4 -2 4 -13 4 12 4 -12 4 1 4 21 4 -45 4 28 4 -2 4 -8 4 23 4 6 4 -34 4 12 4 5 4 -6 4 8 4 -11 4 0 4 -11 4 31 4 -5 4 3 4 -22 4 8 4 13 4 -20 4 -14 4 -7 4 43 4 22 4 -42 4 -16 4 32 4 -11 4 5 4 11 4 -14 4 -11 4 17 4 6 4 -10 4 9 4 -9 4 -3 4 8 4 -5 4 8 4 2 4 -49 4 22 4 20 4 -1 4 1 4 -3 4 -9 4 12 4 0 4 -15 4 11 4 19 4 -5 4 -6 4 -29 4 19 4 -9 4 15 4 -5 4 10 4 3 4 -18 4 23 4 3 4 7 4 -75 4 27 4 58 4 -28 4 -21 4 5 4 32 4 -31 4 16 4 1 4 -16 4 14 4 -27 4 7 4 22 4 18 4 -33 4 -32 4 26 4 36 4 -14 4 -33 4 27 4 -25 4 -32 4 89 4 8 4 -61 4 -52 4 77 4 25 4 -34 4 -16 4 -5 4 35 4 -29 4 17 4 11 4 -5 4 -20 4 8 4 -20 4 5 4 36 4 -6 4 -40 4 -3 4 49 4 -30 4 -35 4 17 4 69 4 -60 4 -14 4 34 4 12 4 7 4 -50 4 35 4 17 4 -39 4 -7 4 13 4 31 4 4 4 -7 4 -17 4 -59 4 77 4 1 4 -5 4 2 4 -31 4 -25 4 55 4 18 4 -56 4 13 4 2 4 -8 4 51 4 -23 4 -57 4 41 4 48 4 -58 4 -19 4 69 4 -11 4 -33 4 47 4 -44 4 -57 4 31 4 44 4 -10 4 -1 4 -1 4 -6 4 21 4 1 4 -18 4 -35 4 60 4 45 4 -83 4 -22 4 61 4 -18 4 -52 4 34 4 40 4 -21 4 -20 4 44 4 -4 4 -16 4 -18 4 32 4 7 4 -36 4 13 4 -36 4 12 4 44 4 -19 4 -30 4 21 4 -6 4 -32 4 57 4 -20 4 2 4 -33 4 56 4 -21 4 -42 4 4 4 58 4 -27 4 54 4 -54 4 8 4 24 4 -16 4 -39 4 15 4 36 4 -40 4 13 4 12 4 -49 4 36 4 4 4 9 4 -28 4 19 4 15 4 -42 4 -7 4 79 4 -74 4 -3 4 23 4 23 4 -41 4 14 4 44 4 -6 4 -52 4 -1 4 93 4 -61 4 -10 4 10 4 -32 4 27 4 -23 4 60 4 -53 4 -3 4 28 4 25 4 -57 4 28 4 -4 4 -4 4 9 4 -34 4 38 4 2 4 -45 4 15 4 14 4 -7 4 -33 4 65 4 16 4 -66 4 -41 4 87 4 -44 4 -3 4 80 4 -24 4 -32 4 19 4 -31 4 -30 4 18 4 45 4 14 4 -57 4 23 4 5 4 25 4 -36 4 -12 4 0 4 6 4 25 4 -18 4 -1 4 -6 4 15 4 26 4 -18 4 -20 4 50 4 -28 4 -46 4 44 4 -20 4 30 4 -62 4 55 4 22 4 -28 4 -1 4 -17 4 85 4 -59 4 -16 4 -18 4 -43 4 43 4 44 4 -27 4 -41 4 59 4 27 4 -33 4 -53 4 72 4 -3 4 -35 4 17 4 7 4 -8 4 -33 4 39 4 -11 4 -2 4 45 4 7 4 -43 4 -47 4 107 4 0 4 -78 4 16 4 -60 4 99 4 -29 4 -22 4 -20 4 37 4 13 4 6 4 -36 4 60 4 -53 4 -1 4 -28 4 -10 4 29 4 28 4 -30 4 -25 4 41 4 67 4 -66 4 -57 4 1 4 49 4 76 4 -46 4 -48 4 -53 4 119 4 59 4 -149 4 29 4 42 4 5 4 -3 4 -19 4 -51 4 66 4 -1 4 -101 4 84 4 57 4 -83 4 -10 4 70 4 35 4 -70 4 -55 4 105 4 -45 4 -15 4 -22 4 57 4 36 4 -109 4 8 4 118 4 -55 4 -23 4 -56 4 83 4 -17 4 -6 4 7 4 -23 4 93 4 -38 4 -101 4 11 4 108 4 -91 4 6 4 55 4 14 4 -102 4 38 4 63 4 26 4 -92 4 -54 4 12 4 169 4 -115 4 -91 4 120 4 20 4 -83 4 9 4 17 4 133 4 -7 4 -96 4 -66 4 79 4 10 4 -104 4 7 4 88 4 65 4 -100 4 -52 4 70 4 16 4 7 4 -26 4 -5 4 -11 4 -11 4 -7 4 38 4 -22 4 53 4 0 4 -44 4 23 4 -7 4 -27 4 -12 4 13 4 -63 4 14 4 104 4 18 4 -58 4 -23 4 16 4 -27 4 16 4 55 4 -75 4 -12 4 108 4 -73 4 -26 4 -26 4 41 4 -20 4 93 4 -99 4 -9 4 34 4 49 4 -50 4 -43 4 71 4 -28 4 -14 4 10 4 41 4 -15 4 -25 4 17 4 93 4 -137 4 17 4 59 4 -29 4 1 4 35 4 -16 4 0 4 4 4 -59 4 10 4 77 4 -11 4 2 4 4 4 -137 4 111 4 105 4 -97 4 -162 4 248 4 15 4 -85 4 -53 4 92 4 -109 4 -16 4 -21 4 2 4 65 4 26 4 -3 4 -77 4 118 4 -17 4 -7 4 -39 4 -92 4 108 4 90 4 -156 4 -124 4 216 4 37 4 -128 4 46 4 4 4 4 4 -23 4 35 4 -67 4 111 4 34 4 -135 4 43 4 -24 4 -5 4 68 4 1 4 -99 4 11 4 30 4 95 4 -37 4 -80 4 39 4 57 4 -94 4 39 4 -24 4 52 4 -63 4 116 4 8 4 -157 4 6 4 50 4 -16 4 14 4 48 4 0 4 -58 4 -55 4 66 4 -8 4 42 4 10 4 -77 4 -103 4 139 4 83 4 -88 4 -28 4 58 4 94 4 -134 4 34 4 77 4 -72 4 35 4 -57 4 -27 4 47 4 26 4 2 4 -88 4 -16 4 29 4 -11 4 137 4 -93 4 -88 4 147 4 84 4 -169 4 -7 4 47 4 -66 4 103 4 -84 4 -23 4 49 4 77 4 -106 4 -5 4 112 4 -9 4 -134 4 119 4 78 4 -146 4 -63 4 152 4 -28 4 -33 4 -38 4 40 4 -28 4 16 4 -15 4 55 4 -39 4 -91 4 35 4 125 4 17 4 14 4 -83 4 -2 4 40 4 -40 4 -32 4 155 4 -174 4 -87 4 107 4 116 4 -56 4 -179 4 58 4 204 4 -66 4 -137 4 118 4 -44 4 -42 4 85 4 140 4 -62 4 -200 4 7 4 163 4 -116 4 27 4 -65 4 -31 4 166 4 -30 4 -119 4 67 4 4 4 -50 4 5 4 126 4 -142 4 -16 4 41 4 105 4 -104 4 -3 4 59 4 -20 4 12 4 -36 4 -2 4 30 4 -19 4 22 4 32 4 -30 4 -25 4 12 4 53 4 -50 4 -41 4 7 4 78 4 -62 4 -17 4 23 4 21 4 -4 4 -43 4 37 4 -2 4 19 4 -42 4 11 4 17 4 8 4 -37 4 16 4 29 4 6 4 -28 4 -17 4 21 4 6 4 -18 4 30 4 -17 4 -15 4 8 4 5 4 7 4 -9 4 -8 4 27 4 -5 4 -9 4 -14 4 -24 4 37 4 28 4 -8 4 9 4 -51 4 19 4 -18 4 14 4 34 4 -25 4 -23 4 49 4 -54 4 2 4 48 4 -6 4 -52 4 25 4 32 4 -48 4 6 4 39 4 -18 4 -30 4 50 4 2 4 -28 4 -12 4 42 4 -8 4 -36 4 31 4 30 4 -44 4 -22 4 24 4 32 4 -51 4 21 4 20 4 -36 4 23 4 1 4 2 4 1 4 -2 4 -9 4 -1 4 25 4 -10 4 -22 4 13 4 -15 4 52 4 -9 4 -50 4 -3 4 34 4 -1 4 -3 4 -37 4 60 4 0 4 -46 4 -1 4 20 4 -10 4 1 4 12 4 -3 4 -25 4 15 4 12 4 14 4 -18 4 2 4 -22 4 7 4 30 4 -29 4 -4 4 13 4 -21 4 35 4 33 4 -35 4 -29 4 9 4 27 4 18 4 -49 4 16 4 18 4 -15 4 -18 4 22 4 9 4 -28 4 -30 4 97 4 -23 4 -62 4 -1 4 69 4 1 4 -71 4 29 4 -8 4 12 4 20 4 -25 4 -14 4 21 4 26 4 -12 4 -15 4 -2 4 2 4 14 4 -16 4 22 4 -20 4 -23 4 19 4 -2 4 38 4 -44 4 3 4 19 4 11 4 -50 4 10 4 26 4 -15 4 -18 4 3 4 29 4 -24 4 26 4 4 4 -31 4 -8 4 38 4 -9 4 -25 4 -5 4 29 4 1 4 -13 4 29 4 15 4 -67 4 9 4 7 4 10 4 -7 4 -1 4 44 4 -50 4 15 4 32 4 4 4 -55 4 20 4 -3 4 -39 4 61 4 -10 4 -21 4 -36 4 98 4 -2 4 -37 4 -36 4 67 4 -18 4 -36 4 -22 4 25 4 32 4 -17 4 -14 4 19 4 17 4 -16 4 -29 4 22 4 21 4 -20 4 -30 4 -8 4 49 4 7 4 -15 4 36 4 -65 4 36 4 35 4 -55 4 -27 4 60 4 27 4 -65 4 -20 4 37 4 22 4 -2 4 -9 4 7 4 -8 4 -4 4 -12 4 3 4 14 4 -40 4 40 4 11 4 -4 4 -28 4 21 4 -16 4 -42 4 29 4 52 4 -32 4 1 4 -5 4 -8 4 -6 4 8 4 1 4 2 4 -9 4 -7 4 8 4 27 4 -1 4 6 4 -43 4 -8 4 37 4 18 4 -34 4 -7 4 55 4 -19 4 -44 4 26 4 -20 4 21 4 1 4 -7 4 1 4 23 4 -17 4 -25 4 18 4 18 4 -57 4 44 4 13 4 -17 4 -9 4 -18 4 60 4 -6 4 -42 4 3 4 36 4 -5 4 -7 4 -17 4 6 4 3 4 -18 4 13 4 7 4 2 4 23 4 -38 4 -19 4 20 4 49 4 -32 4 -54 4 30 4 36 4 -40 4 30 4 2 4 18 4 -33 4 -15 4 29 4 -10 4 -20 4 31 4 -19 4 1 4 1 4 -19 4 10 4 38 4 -27 4 -14 4 0 4 23 4 3 4 -16 4 -2 4 -2 4 20 4 1 4 9 4 -23 4 8 4 -17 4 17 4 33 4 -31 4 -22 4 -16 4 20 4" transform="scale(.1)" fill="none" stroke="#000" stroke-width="6.5"/>
<path d="M3244 4883l-1 10 3 10 6 10 5 10 -1 10 -3 10 -1 10 5 10 3 10 -4 10 -4 10 -3 10 -2 10 -3 10 8 10 6 10 0 10 2 10 -2 10 -5 10 -11 10 5 10 2 10 5 10 6 10 -5 10 -13 10 3 10 3 10 4 10 -3 10 0 10 6 10 -3 10 1 10 -1 10 5 10 7 10 -7 10 -4 10 1 10 -6 10 -1 10 8 10 3 10 -2 10 -5 10 2 10 5 10 9 10 0 10 -2 10 -6 10 0 10 -1 10 1 10 -2 10 0 10 2 10 3 10 1 10 0 10 3 10 1 10 -5 10 2 10 -3 10 -6 10 1 10 -3 10 13 10 5 10 -7 10 -6 10 -1 10 -10 10 -1 10 0 10 0 10 8 10 3 10 -4 10 6 10 1 10 0 10 0 10 -2 10 0 10 9 10 8 10 1 10 -2 10 -5 10 -8 10 -8 10 1 10 3 10 -6 10 7 10 8 10 6 10 1 10 -1 10 1 10 4 10 -4 10 -7 10 0 10 3 10 4 10 3 10 -9 10 -1 10 -1 10 -5 10 1 10 14 10 1 10 2 10 3 10 -6 10 -6 10 -7 10 -5 10 -1 10 -1 10 -3 10 -1 10 9 10 6 10 5 10 3 10 2 10 -4 10 -2 10 -3 10 -10 10 4 10 2 10 1 10 -5 10 0 10 -1 10 -1 10 3 10" transform="scale(.1)" fill="none" stroke="#333" stroke-width="5.0"/>
<path d="M3265 385l-15 6 2 6 11 6 5 6 -22 6 -5 6 8 6 -1 6 11 6 5 6 -6 6 -10 6 3 6 1 6 23 6 3 6 -10 6 1 6 2 6 -16 6 -12 6 -3 6 19 6 4 6 4 6 -7 6 4 6 7 6 -15 6 -9 6 -3 6 11 6 14 6 -10 6 -8 6 -18 6 8 6 31 6 6 6 -19 6 0 6 5 6 -16 6 0 6 -11 6 3 6 20 6 9 6 7 6 -28 6 -4 6 -4 6 20 6 15 6 9 6 -28 6 5 6 10 6 -7 6 -4 6 -1 6 -6 6 4 6 7 6 -9 6 -3 6 4 6 0 6 -5 6 -5 6 23 6 2 6 -6 6 -13 6 -19 6 8 6 16 6 -5 6 2 6 -4 6 13 6 -1 6 -11 6 13 6 0 6 -23 6 10 6 12 6 -6 6 -5 6 4 6 -2 6 10 6 15 6 -15 6 -20 6 -14 6 -5 6 26 6 10 6 12 6 8 6 0 6 -9 6 -25 6 -1 6 21 6 -11 6 4 6 -16 6 -14 6 19 6 8 6 11 6 -6 6 -18 6 8 6 32 6 -6 6 -14 6 -16 6 14 6 -30 6 3 6 33 6 -14 6 -15 6 -1 6 13 6 20 6 3 6 0 6 -20 6 -13 6 1 6 -2 6 -1 6 19 6 5 6 -13 6 -6 6 8 6 11 6 -21 6 -13 6 12 6 19 6 27 6 -11 6 -3 6 -22 6 -4 6 -4 6 9 6 3 6 -9 6 6 6 13 6 3 6 -20 6 2 6 19 6 9 6 -8 6 -15 6 12 6 -10 6 -9 6 -37 6 22 6 30 6 -5 6 9 6 -13 6 -8 6 27 6 -16 6 -1 6 -2 6 -2 6 -5 6 -1 6 13 6 10 6 -18 6 8 6 -1 6 -6 6 -25 6 19 6 11 6 18 6 20 6 -11 6 -30 6 -9 6 22 6 40 6 -10 6 -31 6 -14 6 47 6 -17 6 -40 6 -10 6 24 6 15 6 38 6 -16 6 -60 6 -11 6 23 6 7 6 23 6 18 6 7 6 -17 6 -26 6 -31 6 44 6 -20 6 17 6 43 6 14 6 -53 6 -110 6 66 6 113 6 20 6 -92 6 -53 6 7 6 1 6 -8 6 -4 6 3 6 107 6 5 6 -1 6 -24 6 -30 6 -61 6 -19 6 36 6 -18 6 10 6 -26 6 29 6 56 6 26 6 -5 6 -20 6 -17 6 -4 6 43 6 25 6 -33 6 -61 6 19 6 -28 6 8 6 -13 6 -58 6 70 6 56 6 27 6 -76 6 -10 6 8 6 109 6 24 6 -52 6 -104 6 -40 6 27 6 31 6 29 6 1 6 32 6 19 6 -68 6 -59 6 73 6 41 6 -60 6 33 6 -24 6 21 6 84 6 -25 6 -62 6 -24 6 -72 6 33 6 70 6 69 6 -40 6 -54 6 -14 6 4 6 21 6 -9 6 -19 6 30 6 14 6 23 6 26 6 -48 6 -56 6 26 6 -1 6 -7 6 -1 6 -14 6 29 6 4 6 3 6 3 6 9 6 6 6 -7 6 -16 6 -48 6 27 6 29 6 33 6 17 6 -15 6 14 6 -56 6 -22 6 -55 6 50 6 51 6 14 6 -53 6 -40 6 3 6 67 6 26 6 -18 6 -61 6 1 6 50 6 -29 6 41 6 -77 6 -27 6 38 6 63 6 31 6 -6 6 -83 6 8 6 24 6 -16 6 42 6 28 6 -20 6 13 6 -20 6 -50 6 -8 6 49 6 -6 6 -31 6 -6 6 100 6 -26 6 -105 6 39 6 13 6 85 6 -11 6 -20 6 -42 6 -8 6 -4 6 26 6 6 6 -34 6 -33 6 11 6 54 6 22 6 -87 6 -7 6 22 6 89 6 31 6 -81 6 -25 6 12 6 5 6 33 6 44 6 -99 6 -44 6 68 6 31 6 27 6 9 6 -150 6 -17 6 56 6 53 6 26 6 -54 6 -29 6 -42 6 -6 6 64 6 75 6 57 6 43 6 -134 6 -48 6 46 6 -43 6 -8 6 48 6 35 6 -33 6 -55 6 52 6 104 6 -24 6 -81 6 -27 6 70 6 43 6 5 6 -80 6 -83 6 75 6 28 6 8 6 -18 6 -36 6 -3 6 29 6 34 6 -59 6 25 6 -8 6 -8 6 -23 6 -14 6 76 6 12 6 -20 6 11 6 -15 6 -20 6 38 6 -4 6 -55 6 13 6 9 6 -2 6 35 6 6 6 -41 6 -26 6 28 6 26 6 6 6 -5 6 -20 6 -21 6 24 6 -1 6 -10 6 9 6 6 6 6 6 -11 6 -3 6 0 6 -12 6 31 6 6 6 -41 6 -4 6 0 6 21 6 7 6 -15 6 0 6 17 6 -16 6 -5 6 5 6 -4 6 10 6 -15 6 -10 6 8 6 4 6 -10 6 16 6 12 6 -15 6 -14 6 19 6 -8 6 5 6 -9 6 1 6 9 6 6 6 -8 6 2 6 -16 6 -19 6 15 6 20 6 2 6 -19 6 15 6 25 6 -11 6 -23 6 -4 6 21 6 18 6 -32 6 -4 6 -6 6 20 6 -4 6 -14 6 22 6 18 6 -13 6 -16 6 -12 6 3 6 -8 6 9 6 19 6 -9 6 -12 6 -3 6 18 6 14 6 -6 6 -6 6 -11 6 -6 6 5 6 -2 6 0 6 2 6 11 6 -13 6 7 6 6 6 1 6 -15 6 -1 6 20 6 -10 6 -7 6 9 6 -6 6 -4 6 5 6 0 6 21 6 5 6 -35 6 7 6 8 6 5 6 -7 6 6 6 0 6 -1 6 -11 6 -4 6 -5 6 -19 6 20 6 28 6 -8 6 -26 6 0 6 -2 6 12 6 26 6 -3 6 -15 6 -1 6 -5 6 -4 6 8 6 0 6 4 6 -8 6 -14 6 12 6 17 6 -8 6 -1 6 -5 6 -11 6 10 6 33 6 -2 6 -8 6 -7 6 -13 6 -1 6 6 6 -13 6 -6 6 -4 6 10 6 10 6 -12 6 3 6 2 6 3 6 6 6 4 6 1 6 -4 6 4 6 -1 6 -5 6 -7 6 9 6 3 6 -3 6 7 6 -3 6 9 6 -9 6 -15 6 -5 6 28 6 -3 6 6 6 -21 6 3 6 8 6 5 6 -16 6 5 6 8 6 15 6 10 6 -13 6 -31 6 7 6 18 6 15 6 -6 6 -19 6 -3 6 2 6 -15 6 2 6 38 6 -2 6 11 6 -12 6 -43 6 5 6 28 6 0 6 -5 6 2 6 7 6 2 6 -10 6 -11 6 -19 6 15 6 47 6 16 6 -32 6 -28 6 14 6 -4 6 5 6 2 6 14 6 -26 6 -11 6 1 6 17 6 16 6 -19 6 -6 6 10 6 1 6 0 6 -4 6 9 6 -5 6 -2 6 6 6 10 6 -13 6 -12 6 -2 6 14 6 -4 6 -2 6 3 6 -5 6 -8 6 -6 6 1 6 4 6 -4 6 13 6 13 6 -9 6 -9 6 4 6 -5 6 14 6 0 6 -17 6 -5 6 7 6 9 6 9 6 6 6 -14 6 -30 6 2 6 16 6 14 6 -9 6 12 6 9 6 -10 6 -28 6 -20 6 29 6 23 6 -15 6 -20 6 0 6 8 6 19 6" transform="scale(.1)" fill="none" stroke="#000" stroke-width="5.2"/>
<path d="M3302 4965l12 10 -2 10 -6 10 -8 10 5 10 8 10 0 10 1 10 -8 10 1 10 9 10 6 10 -6 10 -14 10 8 10 6 10 10 10 -3 10 -6 10 -4 10 -2 10 7 10 5 10 9 10 1 10 -12 10 -6 10 2 10 3 10 6 10 0 10 -17 10 -3 10 3 10 5 10 -6 10 0 10 -3 10 2 10 1 10 6 10 7 10 4 10 -7 10 -6 10 -5 10 0 10 4 10 4 10 -5 10 -7 10 7 10 2 10 3 10 7 10 -3 10 -7 10 1 10 1 10 -5 10 7 10 5 10 -1 10 -3 10 -2 10 -13 10 -6 10 3 10 7 10 1 10 1 10 -4 10 -5 10 6 10 3 10 13 10 4 10 1 10 0 10 -16 10 -10 10 1 10 3 10 9 10 -7 10 -3 10 -8 10 8 10 3 10 5 10 -2 10 -3 10 7 10 6 10 7 10 1 10 -1 10 7 10 -4 10 -7 10 -1 10 6 10 7 10 -4 10 -8 10 -4 10 12 10 -10 10 -7 10 -6 10 13 10 5 10 -1 10 5 10 -9 10 1 10 -6 10 -8 10 5 10 7 10 2 10 -10 10 0 10 7 10 10 10 10 10 1 10 -5 10 -5 10 -6 10 -1 10 6 10 1 10 2 10 -2 10 -5 10 -19 10" transform="scale(.1)" fill="none" stroke="#333" stroke-width="5.0"/>
<path d="M3295 385l-9 6 30 6 -5 6 3 6 -2 6 -3 6 1 6 -4 6 -7 6 0 6 13 6 12 6 3 6 -9 6 -12 6 2 6 -4 6 3 6 -1 6 -17 6 17 6 -1 6 6 6 -6 6 -3 6 20 6 -3 6 -18 6 -11 6 -5 6 17 6 15 6 6 6 0 6 -26 6 -11 6 7 6 -7 6 8 6 10 6 23 6 -2 6 -22 6 -19 6 19 6 12 6 -2 6 -15 6 1 6 3 6 -1 6 2 6 10 6 4 6 0 6 -21 6 9 6 2 6 5 6 -1 6 0 6 10 6 -5 6 4 6 -13 6 -13 6 7 6 23 6 17 6 -31 6 -11 6 7 6 21 6 -7 6 -13 6 10 6 17 6 14 6 -26 6 -2 6 -9 6 7 6 -11 6 14 6 11 6 -11 6 -18 6 -1 6 -4 6 0 6 11 6 10 6 -5 6 4 6 -4 6 1 6 9 6 -3 6 -2 6 -15 6 4 6 22 6 12 6 -13 6 -31 6 2 6 7 6 25 6 -10 6 -14 6 -15 6 1 6 8 6 3 6 2 6 -12 6 33 6 2 6 -13 6 -15 6 -10 6 17 6 18 6 0 6 -15 6 -12 6 15 6 0 6 10 6 -6 6 -25 6 4 6 28 6 -16 6 -14 6 -2 6 19 6 16 6 -9 6 -28 6 16 6 -8 6 25 6 -17 6 -13 6 5 6 7 6 8 6 13 6 -11 6 -6 6 -13 6 9 6 -12 6 8 6 26 6 -1 6 -33 6 -5 6 -2 6 13 6 11 6 -13 6 -33 6 11 6 49 6 16 6 -14 6 -48 6 -6 6 45 6 4 6 -24 6 -9 6 2 6 -12 6 17 6 6 6 -33 6 18 6 35 6 -4 6 -17 6 -25 6 4 6 21 6 5 6 16 6 -15 6 -32 6 12 6 21 6 6 6 -7 6 -28 6 -3 6 49 6 15 6 -20 6 -24 6 -8 6 22 6 13 6 -11 6 -24 6 17 6 -8 6 -16 6 22 6 52 6 16 6 -31 6 -103 6 -9 6 85 6 51 6 -27 6 -44 6 -3 6 36 6 32 6 6 6 -13 6 -13 6 -61 6 7 6 24 6 10 6 10 6 -12 6 -37 6 -57 6 48 6 32 6 58 6 0 6 -83 6 -35 6 -34 6 131 6 35 6 4 6 -26 6 -3 6 12 6 -49 6 3 6 -55 6 8 6 114 6 -30 6 -16 6 -94 6 21 6 80 6 62 6 5 6 -62 6 -23 6 -35 6 -42 6 -14 6 32 6 71 6 32 6 -29 6 -34 6 13 6 -35 6 -15 6 31 6 -3 6 67 6 -10 6 5 6 -17 6 -9 6 -96 6 -22 6 66 6 53 6 -73 6 -18 6 83 6 100 6 -65 6 -113 6 3 6 20 6 36 6 -25 6 -8 6 19 6 2 6 -72 6 114 6 9 6 -60 6 5 6 54 6 -14 6 -98 6 -47 6 49 6 150 6 -52 6 -129 6 16 6 44 6 69 6 3 6 16 6 -24 6 20 6 -44 6 -83 6 79 6 45 6 -47 6 -10 6 14 6 -2 6 21 6 13 6 -37 6 -59 6 38 6 6 6 51 6 -36 6 44 6 -23 6 -7 6 -28 6 -26 6 88 6 -8 6 19 6 -44 6 -14 6 -25 6 72 6 37 6 -48 6 -60 6 -66 6 22 6 49 6 93 6 -16 6 -41 6 -29 6 21 6 8 6 -39 6 -1 6 42 6 55 6 -54 6 -64 6 -44 6 63 6 52 6 36 6 -1 6 -50 6 -35 6 54 6 6 6 -15 6 -25 6 -31 6 60 6 10 6 32 6 2 6 -58 6 -35 6 16 6 -8 6 50 6 7 6 -12 6 -74 6 20 6 -9 6 104 6 -37 6 -36 6 -47 6 -35 6 32 6 21 6 13 6 -32 6 52 6 -9 6 41 6 39 6 -31 6 11 6 -65 6 -30 6 38 6 32 6 30 6 -9 6 -24 6 -56 6 17 6 33 6 -1 6 -23 6 30 6 11 6 -68 6 -11 6 33 6 74 6 -47 6 -65 6 -24 6 35 6 78 6 -35 6 -32 6 24 6 49 6 -37 6 0 6 -29 6 -3 6 46 6 10 6 41 6 11 6 -64 6 -77 6 35 6 61 6 4 6 -25 6 24 6 -40 6 -25 6 10 6 15 6 25 6 -50 6 -13 6 57 6 21 6 -30 6 -31 6 -30 6 32 6 37 6 33 6 -3 6 1 6 -30 6 -14 6 -18 6 -6 6 2 6 30 6 15 6 -29 6 -5 6 4 6 21 6 -6 6 -9 6 -20 6 1 6 0 6 0 6 11 6 -3 6 3 6 -13 6 4 6 13 6 11 6 -18 6 -4 6 10 6 -4 6 -3 6 3 6 3 6 -2 6 -9 6 4 6 11 6 13 6 -11 6 -30 6 -6 6 22 6 2 6 2 6 2 6 5 6 11 6 -31 6 15 6 10 6 0 6 5 6 -15 6 5 6 -9 6 2 6 2 6 4 6 10 6 13 6 -20 6 -17 6 4 6 20 6 4 6 -6 6 3 6 6 6 -16 6 8 6 -1 6 -11 6 10 6 1 6 5 6 -6 6 -6 6 9 6 6 6 12 6 -5 6 -17 6 -15 6 3 6 0 6 21 6 14 6 5 6 -37 6 -17 6 7 6 19 6 22 6 -7 6 -29 6 -21 6 31 6 10 6 -7 6 -16 6 -5 6 23 6 3 6 2 6 -2 6 -1 6 -3 6 -6 6 -11 6 28 6 -8 6 -29 6 -1 6 -2 6 13 6 26 6 1 6 -27 6 0 6 5 6 17 6 -11 6 4 6 -5 6 -24 6 21 6 0 6 12 6 12 6 2 6 -24 6 -6 6 8 6 -8 6 10 6 5 6 -24 6 -5 6 22 6 14 6 -4 6 -20 6 -5 6 -2 6 4 6 6 6 16 6 11 6 1 6 -18 6 -7 6 -7 6 35 6 -3 6 -10 6 -11 6 11 6 -19 6 -2 6 14 6 2 6 -8 6 7 6 1 6 -4 6 7 6 12 6 -2 6 -12 6 -2 6 -15 6 3 6 21 6 8 6 -3 6 0 6 -7 6 -4 6 -2 6 -5 6 3 6 -7 6 5 6 -1 6 8 6 22 6 -5 6 -22 6 -30 6 14 6 23 6 11 6 -8 6 -24 6 2 6 12 6 -8 6 -3 6 -10 6 -1 6 20 6 -4 6 -2 6 -2 6 4 6 3 6 12 6 -3 6 -3 6 -3 6 -18 6 1 6 24 6 11 6 5 6 -36 6 -13 6 28 6 11 6 -3 6 -15 6 -15 6 5 6 14 6 0 6 -2 6 -11 6 9 6 11 6 -2 6 -10 6 -16 6 -9 6 22 6 3 6 16 6 0 6 -12 6 -2 6 -7 6 -4 6 4 6 1 6 -1 6 -13 6 22 6 6 6 -24 6 -6 6 22 6 10 6 10 6 -2 6 -10 6 -27 6 -1 6 25 6 12 6 -16 6 -14 6 4 6 19 6 20 6 -9 6 -13 6 -32 6 6 6 22 6 -5 6 -4 6 3 6 -2 6 -5 6 4 6 7 6 11 6 -14 6 -10 6 4 6 9 6 8 6 12 6 -8 6 -6 6 -7 6 -8 6 2 6 12 6 5 6 3 6 8 6 -1 6 -11 6 -1 6 6 6 -5 6 -7 6 -5 6 5 6 2 6 -9 6 3 6 6 6 17 6 3 6" transform="scale(.1)" fill="none" stroke="#000" stroke-width="5.2"/>
<path d="M3422 4868l1 5 8 5 0 5 2 5 4 5 -10 5 -17 5 -8 5 26 5 7 5 -5 5 -5 5 27 5 10 5 -22 5 -15 5 7 5 12 5 7 5 -2 5 -16 5 -4 5 -3 5 27 5 4 5 -7 5 -8 5 2 5 -1 5 -3 5 -9 5 9 5 9 5 -5 5 -2 5 -7 5 -3 5 13 5 6 5 -2 5 -12 5 4 5 -14 5 -5 5 -5 5 19 5 5 5 -8 5 0 5 0 5 12 5 -9 5 -4 5 2 5 18 5 -4 5 -10 5 -6 5 5 5 2 5 15 5 5 5 -15 5 -21 5 17 5 22 5 -16 5 -22 5 -20 5 27 5 13 5 -14 5 -9 5 15 5 12 5 -14 5 -3 5 -7 5 -5 5 1 5 9 5 0 5 7 5 11 5 -17 5 -18 5 12 5 5 5 -11 5 -1 5 2 5 17 5 16 5 1 5 -13 5 -16 5 -3 5 9 5 6 5 5 5 1 5 -3 5 -13 5 -6 5 -2 5 12 5 17 5 4 5 -1 5 0 5 -11 5 -20 5 14 5 0 5 21 5 -1 5 -20 5 -4 5 16 5 -4 5 -8 5 -8 5 14 5 11 5 -10 5 0 5 -8 5 -7 5 3 5 12 5 -10 5 -2 5 1 5 11 5 4 5 -3 5 -20 5 17 5 -2 5 -7 5 -14 5 -8 5 17 5 25 5 19 5 -14 5 -34 5 -5 5 16 5 12 5 3 5 -8 5 -12 5 8 5 4 5 8 5 3 5 -8 5 -12 5 -7 5 9 5 0 5 5 5 -11 5 8 5 7 5 3 5 -4 5 1 5 -28 5 3 5 18 5 12 5 -5 5 1 5 -5 5 2 5 -8 5 -1 5 20 5 -4 5 -14 5 0 5 18 5 -10 5 -3 5 -1 5 -6 5 0 5 4 5 13 5 -2 5 -14 5 -8 5 10 5 2 5 1 5 0 5 14 5 -17 5 -7 5 -5 5 13 5 1 5 -2 5 5 5 -4 5 9 5 -2 5 3 5 -1 5 -4 5 -4 5 -4 5 -13 5 21 5 12 5 8 5 -6 5 -9 5 -4 5 -7 5 -1 5 -15 5 10 5 5 5 -1 5 3 5 10 5 -8 5 -1 5 -2 5 -3 5 12 5 2 5 -1 5 -2 5 5 5 -15 5 12 5 -1 5 1 5 5 5 -10 5 -19 5 1 5 18 5 21 5 8 5 -28 5 -10 5 -9 5 15 5 6 5 4 5 -12 5 8 5 -10 5 1 5 11 5 3 5 -20 5 9 5 20 5 -6 5 -7 5 -7 5 -5 5 2 5 24 5 4 5 -15 5 -14 5 6 5 8 5 -6 5 -12 5 5 5 5 5 2 5 1 5 5 5 -6 5 -7 5 5 5 -15 5 5 5 16 5 -1 5 -1 5 -13 5 4 5 22 5" transform="scale(.1)" fill="none" stroke="#111" stroke-width="5.9"/>
<path d="M3431 385l71 6 0 6 -71 6 -21 6 3 6 6 6 -19 6 -16 6 -4 6 33 6 2 6 -3 6 36 6 -12 6 41 6 -23 6 -11 6 -17 6 -18 6 12 6 -10 6 2 6 57 6 -6 6 -70 6 4 6 8 6 10 6 47 6 -21 6 -23 6 69 6 17 6 -28 6 -74 6 -34 6 38 6 39 6 15 6 12 6 7 6 -20 6 -14 6 -12 6 18 6 11 6 -7 6 -21 6 49 6 32 6 -41 6 -52 6 -21 6 -10 6 1 6 7 6 17 6 18 6 -12 6 23 6 -37 6 29 6 10 6 16 6 25 6 -14 6 -10 6 17 6 -11 6 -66 6 -45 6 25 6 35 6 33 6 18 6 -33 6 16 6 19 6 -26 6 -25 6 60 6 -20 6 -18 6 -9 6 -50 6 54 6 58 6 1 6 -58 6 -59 6 37 6 9 6 31 6 -10 6 33 6 7 6 4 6 -55 6 -26 6 13 6 -14 6 42 6 23 6 7 6 -40 6 -21 6 -23 6 38 6 36 6 -38 6 10 6 30 6 32 6 -21 6 -41 6 -23 6 12 6 13 6 13 6 5 6 -7 6 6 6 -43 6 -18 6 11 6 -14 6 30 6 28 6 -13 6 61 6 -21 6 -1 6 -44 6 -49 6 35 6 12 6 0 6 29 6 -7 6 -27 6 -23 6 -21 6 30 6 6 6 -31 6 25 6 55 6 3 6 -10 6 -66 6 -12 6 -7 6 6 6 35 6 64 6 -10 6 -39 6 -25 6 17 6 29 6 16 6 -59 6 -2 6 42 6 9 6 24 6 -20 6 -83 6 -22 6 46 6 48 6 -25 6 -6 6 18 6 5 6 11 6 -46 6 -9 6 4 6 35 6 -1 6 -19 6 -12 6 -35 6 36 6 35 6 30 6 24 6 -44 6 -34 6 -36 6 6 6 58 6 -6 6 -31 6 33 6 7 6 -70 6 -33 6 62 6 60 6 -70 6 -44 6 26 6 48 6 -30 6 -9 6 -18 6 65 6 3 6 14 6 42 6 -101 6 -30 6 42 6 31 6 104 6 -72 6 -45 6 12 6 -27 6 16 6 -40 6 -12 6 -8 6 15 6 99 6 14 6 -76 6 56 6 -5 6 -83 6 -22 6 63 6 -38 6 73 6 -37 6 -5 6 83 6 -78 6 -48 6 15 6 28 6 42 6 -65 6 15 6 73 6 -31 6 -16 6 -25 6 -69 6 -22 6 -46 6 22 6 36 6 141 6 98 6 -109 6 -39 6 -34 6 57 6 34 6 15 6 -11 6 -16 6 -46 6 64 6 19 6 -34 6 -38 6 -55 6 31 6 73 6 -5 6 -56 6 107 6 15 6 -47 6 -73 6 -9 6 37 6 3 6 6 6 7 6 -59 6 -2 6 22 6 102 6 -32 6 -76 6 -30 6 47 6 59 6 0 6 -26 6 -120 6 2 6 94 6 78 6 82 6 -80 6 -194 6 -112 6 90 6 53 6 33 6 34 6 11 6 103 6 -24 6 -96 6 1 6 -7 6 -19 6 79 6 -26 6 12 6 -18 6 -61 6 -1 6 32 6 11 6 -20 6 113 6 46 6 -71 6 -76 6 5 6 27 6 -47 6 38 6 -21 6 19 6 -38 6 -14 6 7 6 38 6 100 6 -18 6 -54 6 -38 6 -7 6 -21 6 31 6 12 6 -52 6 51 6 -15 6 60 6 -60 6 -41 6 15 6 53 6 -51 6 -45 6 61 6 17 6 27 6 20 6 -35 6 -21 6 23 6 5 6 26 6 -44 6 -25 6 -34 6 28 6 0 6 -10 6 14 6 -23 6 49 6 57 6 -28 6 -13 6 -73 6 -11 6 9 6 48 6 -35 6 -30 6 49 6 -8 6 -3 6 5 6 66 6 25 6 -72 6 13 6 1 6 -38 6 14 6 8 6 49 6 -20 6 -41 6 -28 6 53 6 33 6 -44 6 -36 6 87 6 35 6 -9 6 -42 6 -14 6 52 6 28 6 -32 6 -61 6 -30 6 12 6 40 6 22 6 25 6 -75 6 -51 6 1 6 46 6 30 6 -6 6 -20 6 -3 6 0 6 11 6 45 6 -19 6 -72 6 -11 6 55 6 5 6 6 6 -23 6 -9 6 15 6 45 6 -13 6 -43 6 -9 6 1 6 7 6 -15 6 25 6 -33 6 8 6 22 6 15 6 -2 6 0 6 -9 6 -1 6 3 6 10 6 13 6 -38 6 -2 6 -3 6 13 6 23 6 -2 6 -47 6 -6 6 24 6 26 6 -11 6 -6 6 -2 6 -7 6 -6 6 -6 6 -13 6 22 6 38 6 33 6 -23 6 -55 6 -3 6 16 6 14 6 -4 6 5 6 14 6 -1 6 -24 6 -52 6 31 6 21 6 10 6 -22 6 -33 6 22 6 23 6 10 6 -38 6 12 6 34 6 24 6 4 6 -15 6 -18 6 -16 6 0 6 31 6 -10 6 -21 6 -12 6 12 6 11 6 -2 6 23 6 22 6 -12 6 -11 6 -15 6 -6 6 -3 6 4 6 24 6 36 6 -13 6 -26 6 -21 6 17 6 22 6 5 6 -22 6 -12 6 -1 6 4 6 24 6 -32 6 -32 6 13 6 21 6 17 6 -9 6 -16 6 -8 6 42 6 11 6 6 6 -33 6 -18 6 -4 6 12 6 -13 6 -23 6 14 6 45 6 20 6 -41 6 -36 6 -4 6 32 6 39 6 -23 6 3 6 -38 6 -10 6 24 6 21 6 3 6 -7 6 -25 6 4 6 26 6 15 6 -7 6 -25 6 22 6 -10 6 -7 6 52 6 -19 6 -46 6 0 6 3 6 9 6 18 6 0 6 -22 6 13 6 4 6 -5 6 -30 6 -20 6 14 6 15 6 14 6 -6 6 14 6 9 6 -3 6 -21 6 -4 6 17 6 -2 6 -10 6 -7 6 15 6 12 6 -5 6 -18 6 4 6 21 6 -4 6 2 6 -3 6 -31 6 -4 6 32 6 9 6 11 6 2 6 -20 6 -10 6 -32 6 24 6 19 6 19 6 -21 6 -11 6 5 6 -15 6 7 6 16 6 29 6 2 6 -17 6 -7 6 17 6 -24 6 6 6 14 6 -20 6 7 6 -22 6 -33 6 -5 6 53 6 34 6 -26 6 -52 6 11 6 20 6 37 6 -31 6 -16 6 5 6 24 6 21 6 13 6 -46 6 -48 6 29 6 84 6 7 6 -61 6 -17 6 -36 6 32 6 -3 6 16 6 28 6 -1 6 -14 6 -27 6 14 6 -1 6 1 6 -15 6 18 6 20 6 -37 6 27 6 21 6 9 6 -20 6 -39 6 -9 6 11 6 -8 6 38 6 7 6 -16 6 -13 6 31 6 -27 6 -25 6 11 6 31 6 14 6 7 6 1 6 -56 6 -22 6 7 6 31 6 28 6 -8 6 -7 6 2 6 -14 6 -18 6 -27 6 23 6 7 6 19 6 -19 6 14 6 -6 6 22 6 17 6 -3 6 -54 6 -20 6 -10 6 48 6 34 6 -33 6 -26 6 15 6 27 6 -2 6 -8 6 1 6 -26 6 -12 6 24 6 -5 6 19 6 6 6 4 6 -5 6 -7 6 -11 6 0 6 -6 6 6 6 -31 6 -11 6 32 6 -4 6 22 6 3 6 7 6" transform="scale(.1)" fill="none" stroke="#000" stroke-width="5.2"/>
<path d="M3631 4980l0 10 1 10 5 10 2 10 3 10 1 10 7 10 -2 10 -8 10 -3 10 -4 10 5 10 2 10 5 10 -2 10 -2 10 -2 10 -1 10 -4 10 -4 10 -5 10 -1 10 1 10 8 10 8 10 -2 10 -3 10 -1 10 3 10 -5 10 -2 10 3 10 1 10 -2 10 3 10 2 10 -1 10 -8 10 -1 10 -8 10 0 10 3 10 0 10 -5 10 5 10 3 10 7 10 -2 10 -2 10 -5 10 -5 10 -4 10 -1 10 -5 10 0 10 5 10 6 10 1 10 -9 10 -1 10 4 10 -6 10 1 10 2 10 8 10 -2 10 3 10 -3 10 -3 10 -2 10 -9 10 0 10 12 10 10 10 6 10 -8 10 1 10 -2 10 -3 10 -7 10 -8 10 -1 10 8 10 9 10 7 10 8 10 -3 10 -8 10 -4 10 1 10 0 10 -5 10 2 10 4 10 -7 10 1 10 3 10 1 10 5 10 3 10 1 10 2 10 0 10 -5 10 6 10 -1 10 -6 10 -2 10 9 10 0 10 2 10 -4 10 -1 10 -4 10 -6 10 -7 10 -2 10 2 10 0 10 5 10 5 10 4 10 -3 10 -1 10 -2 10 4 10 2 10 1 10 -4 10 1 10 -1 10 1 10 1 10 6 10 -6 10" transform="scale(.1)" fill="none" stroke="#333" stroke-width="5.0"/>
<path d="M3635 385l-25 6 -3 6 27 6 1 6 -18 6 18 6 14 6 -17 6 21 6 -2 6 -27 6 -13 6 27 6 -11 6 -1 6 -10 6 -2 6 4 6 12 6 -3 6 -2 6 8 6 0 6 -26 6 3 6 27 6 13 6 -19 6 -1 6 -21 6 10 6 15 6 -17 6 8 6 3 6 -5 6 0 6 -12 6 -28 6 0 6 27 6 20 6 -16 6 0 6 31 6 -1 6 -7 6 -4 6 -6 6 -7 6 -1 6 -25 6 9 6 -5 6 6 6 -15 6 16 6 21 6 -25 6 34 6 -2 6 -33 6 4 6 -7 6 8 6 12 6 6 6 3 6 5 6 -27 6 -4 6 21 6 20 6 18 6 -38 6 -28 6 4 6 34 6 -4 6 -7 6 8 6 6 6 1 6 -37 6 -5 6 22 6 34 6 -30 6 -39 6 12 6 39 6 1 6 1 6 8 6 -27 6 6 6 3 6 27 6 5 6 -25 6 -5 6 -9 6 -3 6 -23 6 40 6 11 6 -2 6 3 6 -2 6 -25 6 35 6 -19 6 -47 6 28 6 24 6 -2 6 2 6 -19 6 -12 6 17 6 7 6 27 6 -10 6 -27 6 -15 6 14 6 25 6 -13 6 -50 6 40 6 16 6 -14 6 -25 6 -33 6 14 6 42 6 20 6 -6 6 -17 6 1 6 30 6 21 6 -51 6 -10 6 14 6 -10 6 -5 6 30 6 10 6 -37 6 -9 6 -3 6 35 6 4 6 2 6 -11 6 1 6 6 6 -10 6 -2 6 36 6 -18 6 -25 6 22 6 -21 6 18 6 12 6 -10 6 -19 6 17 6 -13 6 -6 6 -17 6 15 6 27 6 -5 6 2 6 17 6 -14 6 -47 6 6 6 26 6 7 6 0 6 15 6 4 6 -7 6 -23 6 -21 6 -15 6 10 6 51 6 -10 6 28 6 18 6 -62 6 -57 6 10 6 23 6 27 6 22 6 -20 6 -15 6 2 6 53 6 -30 6 -1 6 -8 6 -6 6 19 6 -39 6 -16 6 28 6 19 6 9 6 -66 6 -10 6 25 6 -1 6 47 6 24 6 -18 6 -3 6 -11 6 31 6 -27 6 -69 6 39 6 42 6 -3 6 -62 6 51 6 -22 6 -67 6 12 6 54 6 62 6 33 6 -51 6 -102 6 8 6 32 6 45 6 -57 6 94 6 -24 6 3 6 41 6 -37 6 -61 6 26 6 49 6 -2 6 32 6 -36 6 -2 6 -58 6 -14 6 32 6 58 6 -2 6 -17 6 -49 6 22 6 0 6 28 6 38 6 -9 6 -98 6 -15 6 49 6 46 6 -22 6 -23 6 -2 6 26 6 -16 6 17 6 -73 6 -20 6 31 6 67 6 -11 6 -50 6 -31 6 41 6 60 6 0 6 -22 6 -37 6 1 6 -16 6 -93 6 -20 6 86 6 89 6 -6 6 -20 6 -33 6 -39 6 40 6 80 6 22 6 -53 6 -27 6 -11 6 1 6 82 6 -78 6 -21 6 -34 6 69 6 108 6 -16 6 -87 6 -45 6 64 6 -11 6 -38 6 -45 6 28 6 14 6 9 6 0 6 5 6 -54 6 66 6 -12 6 58 6 18 6 -4 6 -98 6 54 6 28 6 -49 6 61 6 -49 6 -20 6 -31 6 50 6 63 6 12 6 -5 6 -58 6 -40 6 -10 6 58 6 -10 6 -37 6 20 6 11 6 12 6 28 6 -46 6 -40 6 -29 6 3 6 59 6 11 6 62 6 -25 6 -40 6 9 6 -20 6 -50 6 62 6 45 6 -2 6 -14 6 -31 6 -25 6 29 6 28 6 22 6 1 6 -39 6 -128 6 -21 6 116 6 51 6 -48 6 24 6 25 6 -6 6 -45 6 1 6 11 6 -57 6 14 6 1 6 46 6 8 6 -17 6 -51 6 58 6 -12 6 7 6 16 6 6 6 64 6 -58 6 -65 6 -12 6 35 6 47 6 92 6 -78 6 -62 6 -30 6 90 6 -19 6 -52 6 4 6 14 6 47 6 -30 6 56 6 -61 6 8 6 11 6 -31 6 -2 6 14 6 -7 6 -22 6 11 6 25 6 17 6 14 6 -24 6 -13 6 2 6 -13 6 0 6 15 6 12 6 26 6 -13 6 -54 6 -14 6 26 6 21 6 2 6 21 6 -6 6 -65 6 -10 6 37 6 30 6 -8 6 -8 6 9 6 27 6 11 6 -38 6 -22 6 -4 6 3 6 6 6 -8 6 37 6 16 6 2 6 -44 6 1 6 8 6 11 6 -3 6 -25 6 2 6 -15 6 9 6 -1 6 3 6 10 6 5 6 -20 6 14 6 0 6 -14 6 -13 6 -6 6 34 6 43 6 -30 6 -34 6 -17 6 24 6 14 6 22 6 -24 6 -1 6 11 6 19 6 13 6 -46 6 20 6 -19 6 17 6 -5 6 -4 6 -6 6 18 6 4 6 -26 6 -27 6 7 6 0 6 0 6 -10 6 16 6 23 6 -18 6 23 6 10 6 -7 6 -4 6 5 6 27 6 -16 6 -47 6 12 6 51 6 -31 6 -36 6 17 6 21 6 10 6 -8 6 -6 6 6 6 -20 6 -26 6 18 6 19 6 11 6 -11 6 12 6 -12 6 -18 6 1 6 5 6 -8 6 12 6 32 6 -18 6 -21 6 1 6 7 6 2 6 19 6 11 6 19 6 -27 6 -35 6 25 6 -4 6 9 6 -11 6 29 6 14 6 -62 6 0 6 44 6 7 6 -51 6 -24 6 37 6 31 6 5 6 -40 6 -8 6 33 6 -7 6 -8 6 0 6 -3 6 8 6 24 6 -3 6 -24 6 -38 6 38 6 35 6 -30 6 -33 6 8 6 50 6 -10 6 -24 6 -6 6 -10 6 29 6 14 6 7 6 -9 6 -24 6 14 6 -2 6 -7 6 5 6 -13 6 4 6 3 6 -13 6 1 6 3 6 16 6 15 6 -7 6 -3 6 -31 6 -17 6 38 6 -32 6 6 6 35 6 -31 6 -6 6 11 6 -8 6 27 6 -2 6 9 6 26 6 -13 6 -46 6 -8 6 41 6 -11 6 3 6 -35 6 -26 6 35 6 50 6 21 6 -45 6 -53 6 10 6 29 6 25 6 6 6 -23 6 0 6 1 6 13 6 -11 6 -19 6 2 6 22 6 12 6 -8 6 3 6 7 6 -19 6 -27 6 15 6 18 6 -6 6 -36 6 10 6 9 6 13 6 -17 6 20 6 -22 6 35 6 4 6 -32 6 -10 6 15 6 14 6 -4 6 -16 6 0 6 -6 6 14 6 -5 6 -4 6 14 6 18 6 -25 6 0 6 -5 6 -3 6 13 6 11 6 -12 6 -7 6 -10 6 -12 6 37 6 12 6 2 6 16 6 -29 6 -39 6 14 6 44 6 5 6 -8 6 4 6 -4 6 -5 6 2 6 -16 6 -10 6 -22 6 20 6 22 6 1 6 -21 6 -40 6 33 6 40 6 5 6 -19 6 -39 6 -21 6 31 6 8 6 11 6 -32 6 -16 6 36 6 34 6 0 6 10 6 -10 6 -2 6 -7 6 -24 6 13 6 15 6 10 6 -22 6 -7 6 9 6 11 6 16 6 -26 6 -37 6 -14 6 35 6 23 6 -10 6 -22 6 -32 6 25 6 36 6 9 6 2 6 8 6 -27 6 -9 6 7 6 16 6 -24 6 -8 6 3 6 17 6 -10 6 2 6 0 6 7 6 12 6" transform="scale(.1)" fill="none" stroke="#000" stroke-width="5.2"/>
<path d="M3714 4905l9 10 0 10 -1 10 -6 10 1 10 -6 10 4 10 4 10 -1 10 4 10 10 10 10 10 -7 10 -9 10 -9 10 -12 10 -12 10 -4 10 2 10 6 10 16 10 0 10 -2 10 -6 10 -6 10 5 10 13 10 5 10 -3 10 -5 10 12 10 3 10 -1 10 0 10 -15 10 -23 10 -5 10 5 10 21 10 19 10 6 10 1 10 -6 10 -5 10 -14 10 -2 10 -13 10 15 10 11 10 19 10 6 10 -2 10 -7 10 3 10 -14 10 -13 10 -11 10 4 10 5 10 4 10 2 10 1 10 6 10 -4 10 11 10 5 10 -11 10 -2 10 0 10 -10 10 -6 10 -1 10 3 10 10 10 22 10 1 10 -8 10 0 10 6 10 16 10 2 10 -7 10 -6 10 -1 10 -1 10 -4 10 4 10 2 10 4 10 1 10 -6 10 -18 10 -23 10 -1 10 12 10 22 10 12 10 14 10 -3 10 -10 10 -20 10 -16 10 -2 10 11 10 -1 10 1 10 -15 10 5 10 9 10 2 10 2 10 -9 10 -1 10 3 10 4 10 10 10 1 10 -8 10 2 10 16 10 5 10 1 10 -12 10 -18 10 4 10 -4 10 2 10 -5 10 -1 10 4 10 2 10 4 10 2 10 0 10 -7 10 -1 10 4 10 -3 10 0 10 8 10 -5 10 -4 10 -23 10" transform="scale(.1)" fill="none" stroke="#333" stroke-width="5.0"/>
<path d="M3720 385l-1 6 2 6 2 6 0 6 -1 6 0 6 7 6 2 6 -11 6 -19 6 -5 6 -3 6 12 6 12 6 11 6 3 6 -15 6 -3 6 3 6 -2 6 4 6 -1 6 -1 6 0 6 -3 6 3 6 4 6 -13 6 -10 6 6 6 12 6 7 6 7 6 -10 6 -12 6 -5 6 7 6 3 6 5 6 1 6 0 6 9 6 -14 6 3 6 -2 6 -6 6 -4 6 13 6 18 6 5 6 -7 6 -17 6 -11 6 -5 6 10 6 -1 6 9 6 5 6 -5 6 -1 6 -14 6 4 6 13 6 10 6 9 6 -5 6 -3 6 -8 6 5 6 9 6 -11 6 -13 6 0 6 7 6 8 6 10 6 4 6 -9 6 -3 6 3 6 1 6 -8 6 1 6 2 6 7 6 4 6 -15 6 -9 6 -2 6 -1 6 3 6 20 6 5 6 4 6 -4 6 -19 6 -6 6 3 6 4 6 3 6 0 6 0 6 19 6 1 6 -12 6 -13 6 15 6 2 6 -2 6 -16 6 6 6 2 6 3 6 10 6 -9 6 2 6 -2 6 -4 6 -1 6 -5 6 -6 6 15 6 6 6 15 6 -5 6 -11 6 -21 6 -20 6 16 6 24 6 12 6 -14 6 -11 6 -8 6 9 6 5 6 -2 6 -1 6 1 6 9 6 2 6 -5 6 0 6 3 6 -1 6 -13 6 -4 6 4 6 16 6 5 6 -4 6 -6 6 -3 6 4 6 -2 6 6 6 -8 6 -9 6 2 6 10 6 9 6 -16 6 6 6 12 6 7 6 -8 6 -7 6 -1 6 -6 6 -3 6 13 6 15 6 -6 6 -2 6 -12 6 -8 6 -11 6 0 6 12 6 7 6 -5 6 2 6 4 6 9 6 -4 6 -12 6 -7 6 -1 6 5 6 2 6 -9 6 -3 6 3 6 12 6 -10 6 -6 6 -2 6 5 6 4 6 0 6 1 6 -2 6 7 6 -9 6 -6 6 5 6 15 6 -7 6 -23 6 0 6 14 6 4 6 18 6 -25 6 -8 6 -3 6 -1 6 24 6 44 6 1 6 -57 6 -23 6 24 6 9 6 1 6 -6 6 9 6 34 6 -20 6 -9 6 -19 6 -17 6 -6 6 10 6 22 6 10 6 -5 6 58 6 10 6 -25 6 -23 6 -15 6 -11 6 -17 6 11 6 34 6 9 6 -17 6 -3 6 -11 6 -35 6 17 6 34 6 1 6 -25 6 -43 6 -11 6 18 6 29 6 31 6 -7 6 -57 6 -11 6 20 6 44 6 10 6 -5 6 9 6 2 6 8 6 33 6 -41 6 -45 6 -31 6 32 6 -6 6 36 6 -21 6 -34 6 27 6 -10 6 32 6 31 6 -3 6 -37 6 -20 6 -20 6 -13 6 2 6 43 6 5 6 -4 6 -64 6 24 6 25 6 15 6 1 6 21 6 22 6 -21 6 -32 6 1 6 33 6 50 6 -27 6 -59 6 13 6 19 6 18 6 -38 6 -7 6 -27 6 5 6 39 6 41 6 4 6 -33 6 -32 6 -25 6 -14 6 19 6 15 6 -5 6 31 6 6 6 8 6 23 6 -10 6 22 6 6 6 -2 6 -54 6 -37 6 -15 6 26 6 -4 6 26 6 25 6 17 6 10 6 -23 6 -36 6 -60 6 17 6 23 6 36 6 12 6 -27 6 -16 6 34 6 23 6 17 6 -5 6 11 6 -8 6 -52 6 -55 6 25 6 25 6 13 6 33 6 -15 6 7 6 -12 6 -21 6 22 6 18 6 30 6 7 6 -13 6 -51 6 12 6 -21 6 -17 6 5 6 -15 6 -19 6 32 6 23 6 10 6 -19 6 -27 6 2 6 -6 6 18 6 11 6 13 6 11 6 35 6 -20 6 -60 6 12 6 29 6 -3 6 13 6 11 6 -25 6 -7 6 7 6 7 6 -25 6 -16 6 25 6 31 6 34 6 -32 6 -12 6 -26 6 0 6 -42 6 3 6 5 6 22 6 -2 6 -21 6 34 6 21 6 -10 6 -27 6 -7 6 -23 6 42 6 27 6 -4 6 -5 6 1 6 -15 6 -27 6 -6 6 14 6 0 6 8 6 19 6 14 6 7 6 -9 6 -15 6 2 6 10 6 4 6 7 6 -13 6 -26 6 18 6 1 6 -17 6 -12 6 17 6 8 6 -2 6 1 6 -1 6 6 6 6 6 -12 6 -3 6 5 6 2 6 12 6 9 6 -7 6 -10 6 -27 6 -14 6 -1 6 -8 6 16 6 26 6 11 6 4 6 6 6 -10 6 -6 6 14 6 -8 6 -12 6 -1 6 -3 6 9 6 9 6 3 6 4 6 -10 6 -24 6 -7 6 -7 6 11 6 10 6 1 6 4 6 13 6 5 6 2 6 -4 6 -4 6 0 6 5 6 1 6 -7 6 14 6 -19 6 -20 6 -4 6 26 6 21 6 17 6 -22 6 -4 6 -3 6 11 6 -7 6 -17 6 -5 6 -12 6 -5 6 10 6 15 6 7 6 -10 6 -10 6 2 6 28 6 18 6 -10 6 -14 6 -8 6 5 6 9 6 7 6 -33 6 -27 6 9 6 33 6 13 6 5 6 8 6 -15 6 -18 6 0 6 13 6 4 6 -31 6 9 6 -1 6 2 6 9 6 -1 6 -6 6 -13 6 -3 6 13 6 4 6 16 6 -6 6 7 6 5 6 -41 6 -27 6 20 6 7 6 14 6 7 6 5 6 15 6 -11 6 -15 6 9 6 15 6 2 6 1 6 -13 6 -14 6 12 6 11 6 -13 6 -16 6 -15 6 -2 6 14 6 12 6 -14 6 2 6 10 6 19 6 31 6 -18 6 -33 6 -13 6 -5 6 25 6 5 6 0 6 3 6 -12 6 7 6 9 6 0 6 14 6 -4 6 -8 6 -31 6 -20 6 11 6 10 6 14 6 4 6 -5 6 3 6 20 6 2 6 20 6 -3 6 -35 6 -14 6 2 6 11 6 20 6 -3 6 -14 6 -8 6 -10 6 -3 6 -1 6 6 6 0 6 -24 6 12 6 7 6 9 6 16 6 15 6 -7 6 -21 6 -19 6 4 6 21 6 25 6 -6 6 -16 6 -11 6 5 6 3 6 -16 6 15 6 16 6 -8 6 -14 6 -5 6 9 6 1 6 17 6 -5 6 -3 6 -27 6 -16 6 22 6 5 6 2 6 12 6 -10 6 3 6 7 6 -11 6 -16 6 -1 6 -2 6 -8 6 16 6 9 6 18 6 3 6 -6 6 -15 6 2 6 11 6 9 6 -17 6 -18 6 -6 6 17 6 14 6 2 6 5 6 -15 6 -4 6 -11 6 -8 6 21 6 5 6 -8 6 15 6 9 6 5 6 -11 6 -24 6 -2 6 -5 6 13 6 3 6 8 6 -8 6 -4 6 -1 6 -5 6 -3 6 14 6 20 6 -7 6 -24 6 -13 6 6 6 16 6 9 6 -11 6 11 6 10 6 -6 6 -4 6 -26 6 13 6 13 6 0 6 11 6 -4 6 -11 6 16 6 -7 6 -1 6 -18 6 -21 6 8 6 16 6 6 6 10 6 3 6 7 6 -18 6 -6 6 -6 6 -20 6 14 6 32 6 2 6 -8 6 -1 6 -10 6 -23 6 -5 6 15 6 16 6 -1 6 12 6 -6 6" transform="scale(.1)" fill="none" stroke="#000" stroke-width="5.2"/>
<path d="M3922 385l-13 5 -4 5 1 5 11 5 -8 5 17 5 -6 5 -1 5 -33 5 24 5 8 5 18 5 -24 5 12 5 8 5 -7 5 -30 5 4 5 -2 5 49 5 -31 5 -13 5 15 5 15 5 4 5 -23 5 -22 5 8 5 22 5 -14 5 -33 5 6 5 42 5 -15 5 17 5 18 5 -19 5 -39 5 24 5 52 5 -37 5 -13 5 -23 5 7 5 1 5 0 5 40 5 -12 5 -26 5 -15 5 38 5 -1 5 -14 5 -16 5 33 5 -1 5 -14 5 -35 5 11 5 28 5 19 5 0 5 -29 5 -14 5 19 5 -4 5 34 5 -43 5 -14 5 43 5 30 5 -36 5 -22 5 46 5 -13 5 -36 5 -10 5 29 5 9 5 8 5 -5 5 -33 5 20 5 12 5 -1 5 -27 5 22 5 -4 5 32 5 -38 5 0 5 -25 5 12 5 42 5 -1 5 -45 5 5 5 14 5 15 5 46 5 -51 5 12 5 -46 5 15 5 53 5 -28 5 -10 5 -31 5 23 5 17 5 -7 5 16 5 -24 5 0 5 -3 5 29 5 -7 5 0 5 -22 5 17 5 -35 5 46 5 11 5 -11 5 6 5 -17 5 -15 5 -21 5 28 5 -12 5 15 5 6 5 -20 5 37 5 3 5 -43 5 29 5 17 5 -36 5 -5 5 25 5 4 5 -33 5 0 5 29 5 9 5 -38 5 54 5 -14 5 -18 5 -31 5 30 5 -18 5 4 5 -1 5 29 5 4 5 -15 5 -27 5 8 5 38 5 -30 5 -58 5 47 5 36 5 -10 5 -27 5 0 5 40 5 -7 5 -39 5 25 5 21 5 5 5 -17 5 -8 5 -17 5 38 5 5 5 -36 5 -6 5 44 5 -54 5 27 5 8 5 -26 5 7 5 20 5 -28 5 2 5 -47 5 54 5 25 5 -6 5 8 5 -36 5 -30 5 52 5 34 5 -16 5 -32 5 -25 5 7 5 82 5 -27 5 -75 5 19 5 19 5 44 5 -9 5 -57 5 -16 5 65 5 7 5 -14 5 -82 5 34 5 59 5 23 5 -53 5 -65 5 87 5 26 5 -85 5 -11 5 47 5 35 5 -8 5 -26 5 5 5 6 5 -48 5 -10 5 77 5 -42 5 -40 5 -11 5 117 5 -22 5 -40 5 -56 5 50 5 54 5 3 5 -55 5 -87 5 77 5 77 5 -34 5 -40 5 32 5 54 5 -16 5 -29 5 -78 5 -2 5 24 5 44 5 42 5 -53 5 -34 5 -12 5 103 5 30 5 -135 5 16 5 74 5 37 5 -55 5 -84 5 38 5 -143 5 56 5 153 5 22 5 -62 5 -93 5 56 5 135 5 -89 5 -116 5 57 5 144 5 -44 5 -45 5 7 5 41 5 -56 5 -78 5 14 5 76 5 -19 5 -22 5 83 5 37 5 -120 5 15 5 51 5 -13 5 -26 5 -62 5 44 5 58 5 -9 5 -22 5 11 5 -25 5 -3 5 50 5 -71 5 80 5 -82 5 -49 5 132 5 -24 5 -79 5 -56 5 85 5 73 5 32 5 -36 5 -43 5 -120 5 109 5 143 5 -38 5 -148 5 68 5 37 5 -61 5 -54 5 88 5 -46 5 -24 5 23 5 24 5 38 5 -22 5 -55 5 56 5 -45 5 -41 5 57 5 22 5 25 5 -78 5 -11 5 29 5 51 5 -22 5 -42 5 -25 5 71 5 75 5 -31 5 -152 5 2 5 78 5 28 5 7 5 -61 5 62 5 -17 5 3 5 12 5 -7 5 -66 5 -1 5 74 5 1 5 -5 5 -55 5 25 5 -5 5 37 5 -41 5 -38 5 98 5 -50 5 56 5 5 5 -61 5 -34 5 51 5 29 5 58 5 -41 5 31 5 -96 5 20 5 4 5 -11 5 55 5 -13 5 -125 5 5 5 125 5 11 5 -121 5 -80 5 189 5 -30 5 18 5 -87 5 25 5 70 5 -3 5 -36 5 14 5 63 5 26 5 -72 5 -111 5 56 5 74 5 -46 5 -50 5 6 5 74 5 14 5 -127 5 59 5 49 5 -13 5 -49 5 12 5 6 5 -5 5 86 5 -124 5 -35 5 92 5 47 5 4 5 -82 5 15 5 25 5 -11 5 -8 5 -55 5 22 5 69 5 -4 5 1 5 -23 5 -41 5 17 5 52 5 -23 5 -40 5 32 5 -14 5 40 5 25 5 -46 5 -47 5 51 5 45 5 -13 5 -58 5 17 5 9 5 6 5 15 5 18 5 -37 5 -21 5 -25 5 39 5 14 5 -21 5 33 5 2 5 -18 5 -18 5 30 5 3 5 -43 5 -11 5 35 5 22 5 10 5 -29 5 -34 5 32 5 -9 5 -8 5 1 5 54 5 1 5 0 5 -8 5 -54 5 -2 5 58 5 -24 5 5 5 -72 5 40 5 35 5 -1 5 -13 5 37 5 -29 5 4 5 -42 5 9 5 -6 5 28 5 15 5 -19 5 -40 5 43 5 8 5 -18 5 13 5 -38 5 67 5 -16 5 -29 5 -9 5 31 5 10 5 0 5 -23 5 -47 5 18 5 0 5 23 5 2 5 -1 5 22 5 -20 5 -21 5 16 5 9 5 -56 5 24 5 23 5 34 5 -36 5 -10 5 7 5 38 5 -27 5 -17 5 0 5 8 5 -32 5 25 5 14 5 -31 5 40 5 7 5 -30 5 -15 5 52 5 -15 5 -14 5 8 5 -8 5 -23 5 -14 5 43 5 41 5 -11 5 -52 5 -3 5 37 5 -3 5 -13 5 11 5 5 5 -4 5 2 5 27 5 -26 5 -13 5 -2 5 10 5 28 5 -30 5 -18 5 14 5 27 5 -22 5 -25 5 46 5 14 5 -34 5 0 5 2 5 -9 5 5 5 8 5 -30 5 23 5 17 5 -21 5 7 5 30 5 -3 5 -38 5 -9 5 17 5 7 5 -15 5 6 5 6 5 -6 5 1 5 -4 5 11 5 -1 5 -7 5 -2 5 14 5 -9 5 -8 5 16 5 8 5 1 5 -35 5 10 5 31 5 -24 5 -5 5 1 5 2 5 -16 5 24 5 23 5 -20 5 -33 5 0 5 29 5 -6 5 -10 5 14 5 33 5 -48 5 -2 5 42 5 -9 5 -43 5 -21 5 46 5 20 5 -21 5 -43 5 22 5 24 5 7 5 -7 5 -21 5 0 5 -4 5 6 5 6 5 -2 5 10 5 6 5 -21 5 14 5 13 5 9 5 -23 5 -10 5 13 5 13 5 -29 5 3 5 -10 5 24 5 -2 5 7 5 -14 5 1 5 -18 5 21 5 -11 5 8 5 21 5 5 5 -23 5 29 5 -23 5 -24 5 -8 5 12 5 7 5 -4 5 13 5 7 5 -11 5 4 5 5 5 12 5 -28 5 5 5 3 5 11 5 14 5 -6 5 -52 5 9 5 50 5 -7 5 -31 5 2 5 34 5 -17 5 -21 5 -2 5 18 5 -5 5 2 5 4 5 -13 5 30 5 -4 5 -27 5 -1 5 6 5 6 5 4 5 -1 5 1 5 -21 5 0 5 2 5 26 5 -12 5 9 5 7 5 -19 5 -19 5 23 5 18 5 -16 5 -3 5 -2 5 11 5 -1 5 -16 5 2 5 5 5 -1 5 4 5 11 5 9 5 -14 5 -27 5 -15 5 63 5 -4 5 -46 5 14 5 10 5 29 5 -31 5 -37 5 30 5 45 5 -24 5 -38 5 8 5 26 5 3 5 4 5 -3 5 -21 5 1 5 38 5 -14 5 -34 5 24 5 -8 5 -11 5 -7 5 18 5 27 5 -3 5 -9 5 -8 5 -39 5 25 5 28 5 -1 5 -16 5 -17 5 14 5 10 5 13 5 -3 5 0 5 -19 5 1 5 -8 5 1 5 -1 5 17 5 9 5 -13 5 -23 5 26 5 18 5 -23 5 3 5 -18 5 17 5 13 5 -19 5 3 5 -4 5 2 5 -2 5 -5 5 7 5 37 5 -45 5 -2 5 -7 5 29 5 3 5 -15 5 0 5 6 5 -4 5 0 5 -7 5 19 5 -14 5 -8 5 -5 5 3 5 13 5 27 5 -37 5 -8 5 7 5 25 5 1 5 1 5 -24 5 -18 5 28 5 3 5 -24 5 -12 5 43 5 6 5 -28 5 -1 5 -5 5 17 5 20 5 -21 5 -10 5 10 5 -17 5 -6 5 19 5 17 5 -18 5 -9 5 -9 5 30 5 0 5 -27 5 0 5 13 5 26 5 -43 5 -1 5 36 5 -13 5 -23 5 11 5 7 5 17 5 -3 5 -12 5 -5 5 -1 5 -5 5 6 5 15 5 -5 5 -17 5 -10 5 13 5 14 5 -6 5 1 5 -4 5 6 5 5 5 -12 5 -16 5 12 5 0 5 -13 5 -8 5 35 5 6 5 -38 5 12 5 22 5 -7 5 -9 5 20 5 -18 5 1 5 -5 5 2 5 28 5 -21 5 -14 5 13 5 7 5 -21 5 23 5 0 5 -18 5 -25 5 36 5 12 5 -6 5 0 5 -6 5 -6 5 1 5 -8 5 -1 5 7 5 21 5 2 5 -15 5 -11 5 9 5 9 5 -10 5 18 5 -32 5 8 5 7 5 20 5 -22 5 -2 5 23 5 -10 5 -20 5 14 5 -1 5 -15 5 2 5 16 5 4 5 10 5 -7 5 -19 5 12 5 12 5 28 5 -20 5 -32 5 4 5 27 5 -17 5 23 5 -10 5 3 5 -11 5 2 5 18 5 -3 5 -19 5 9 5 -8 5 9 5 -21 5 13 5 0 5 0 5 13 5 7 5 -5 5 -12 5 -12 5 1 5 27 5 -12 5 5 5 2 5 11 5 -9 5 -17 5 15 5 -7 5 -5 5 6 5 -12 5 14 5 8 5 -5 5 -23 5 -5 5 15 5 12 5 -19 5 -17 5 27 5 -19 5 -19 5 30 5 21 5 -31 5 7 5 0 5 -27 5 17 5 21 5 -5 5 -1 5 23 5 -18 5 -38 5 9 5 17 5 7 5 -3 5 -16 5 18 5 0 5 -16 5 -24 5 20 5 36 5 -10 5 -11 5 -1 5 -7 5 -5 5 -2 5 16 5 -19 5 8 5 -8 5 15 5 12 5 -16 5 -7 5 -8 5 19 5 3 5 -12 5 -22 5 18 5 8 5 -16 5 10 5 1 5 6 5 4 5 -12 5 12 5 -1 5 2 5 9 5 -5 5 -11 5 16 5 5 5 -1 5 -8 5 -4 5 -5 5 1 5 12 5 13 5 -11 5 -6 5 -15 5 14 5 10 5 -1 5 -18 5 6 5 3 5 -8 5 -12 5 15 5 -2 5 15 5 -29 5 1 5 -1 5 11 5 9 5 -3 5 9 5 -11 5 -14 5 -2 5 5 5 13 5 2 5 -5 5 -6 5 -11 5 22 5 0 5 -20 5 20 5 4 5 1 5 -5 5 -16 5 7 5 12 5 0 5 11 5 -13 5 -29 5 8 5 31 5 5 5 -29 5 -10 5 29 5 12 5 -18 5 -19 5 -2 5 16 5 35 5 -31 5 -22 5 34 5 -17 5 -14 5 34 5 18 5 -27 5 -17 5 19 5 13 5 -15 5 -10 5 16 5 18 5 -31 5 -10 5 21 5 9 5 -25 5 -8 5 27 5 5 5 -15 5 -8 5 3 5 6 5 10 5 -8 5 17 5 -19 5 -5 5 6 5 0 5 -16 5 -14 5 11 5 13 5 0 5 6 5 -2 5 19 5 -16 5 -32 5 21 5 6 5 2 5 -15 5 1 5 23 5 4 5 -9 5 -13 5" transform="scale(.1)" fill="none" stroke="#000" stroke-width="6.5"/>
<path d="M3995 385l-45 4 -21 4 61 4 0 4 -16 4 -10 4 -15 4 17 4 5 4 -11 4 2 4 -6 4 20 4 -33 4 -11 4 35 4 36 4 -35 4 -9 4 -9 4 9 4 14 4 -14 4 -9 4 6 4 -1 4 42 4 -38 4 -5 4 16 4 6 4 -14 4 -46 4 45 4 23 4 -35 4 2 4 -3 4 15 4 15 4 -25 4 10 4 4 4 -18 4 4 4 13 4 12 4 -28 4 2 4 15 4 -8 4 -28 4 18 4 20 4 -37 4 15 4 9 4 -13 4 20 4 -27 4 -11 4 39 4 0 4 11 4 -17 4 -17 4 20 4 -5 4 16 4 -17 4 1 4 14 4 -35 4 30 4 -14 4 -5 4 5 4 9 4 21 4 4 4 -28 4 -14 4 -1 4 12 4 -4 4 4 4 14 4 0 4 -25 4 16 4 -4 4 -26 4 4 4 57 4 8 4 -60 4 -14 4 67 4 -15 4 -22 4 -55 4 53 4 56 4 -21 4 -50 4 16 4 13 4 -30 4 59 4 -32 4 5 4 35 4 -50 4 -5 4 12 4 3 4 -8 4 2 4 -2 4 8 4 7 4 -37 4 38 4 15 4 -34 4 18 4 -31 4 3 4 29 4 29 4 -31 4 -39 4 17 4 3 4 17 4 -13 4 32 4 -44 4 4 4 41 4 -21 4 -59 4 22 4 56 4 17 4 -57 4 -6 4 43 4 -11 4 -24 4 -7 4 70 4 -51 4 -27 4 18 4 19 4 -17 4 -2 4 18 4 -17 4 -18 4 28 4 -2 4 -19 4 17 4 32 4 -39 4 -41 4 69 4 -1 4 -28 4 8 4 -6 4 31 4 -26 4 2 4 14 4 -2 4 18 4 -39 4 29 4 -13 4 -18 4 41 4 -19 4 -64 4 28 4 63 4 -30 4 -20 4 31 4 32 4 -20 4 -24 4 15 4 2 4 -28 4 -15 4 4 4 56 4 -21 4 -40 4 5 4 38 4 37 4 -77 4 -7 4 51 4 -20 4 37 4 7 4 -34 4 -52 4 12 4 69 4 -4 4 -70 4 -50 4 87 4 36 4 -57 4 18 4 0 4 26 4 6 4 -51 4 -6 4 39 4 -48 4 48 4 -29 4 35 4 14 4 -22 4 -20 4 52 4 -46 4 28 4 5 4 -34 4 41 4 -13 4 -12 4 -36 4 19 4 42 4 -18 4 1 4 -31 4 21 4 23 4 -18 4 -49 4 47 4 58 4 -44 4 -37 4 -16 4 32 4 31 4 -44 4 -54 4 63 4 54 4 -75 4 20 4 34 4 -21 4 -29 4 8 4 29 4 -12 4 1 4 -24 4 -36 4 48 4 23 4 -33 4 -7 4 45 4 3 4 -24 4 -38 4 25 4 -2 4 -27 4 56 4 -35 4 42 4 -52 4 -6 4 44 4 15 4 -17 4 -1 4 -32 4 -48 4 47 4 10 4 8 4 59 4 -58 4 -34 4 23 4 70 4 -43 4 -49 4 20 4 8 4 -19 4 43 4 23 4 -12 4 8 4 -28 4 -16 4 43 4 -37 4 -16 4 5 4 -3 4 55 4 -65 4 -20 4 47 4 13 4 -36 4 -37 4 25 4 116 4 -92 4 -75 4 70 4 64 4 -80 4 -16 4 72 4 43 4 -110 4 -84 4 111 4 72 4 -101 4 18 4 42 4 -26 4 -18 4 -16 4 67 4 -41 4 -107 4 117 4 44 4 -10 4 -51 4 71 4 -12 4 -49 4 -33 4 76 4 6 4 -16 4 -30 4 -11 4 109 4 -29 4 -106 4 -1 4 60 4 55 4 -88 4 1 4 14 4 30 4 37 4 -46 4 -107 4 41 4 123 4 -62 4 -72 4 118 4 1 4 -86 4 -32 4 98 4 35 4 -45 4 -56 4 3 4 25 4 30 4 -20 4 -30 4 46 4 -100 4 20 4 60 4 22 4 -15 4 -5 4 -45 4 -15 4 47 4 34 4 -74 4 22 4 54 4 -6 4 -69 4 23 4 -4 4 32 4 1 4 -49 4 3 4 72 4 -7 4 -7 4 -59 4 -23 4 110 4 35 4 -113 4 -33 4 86 4 55 4 -130 4 -54 4 25 4 70 4 22 4 32 4 -81 4 -14 4 73 4 28 4 -83 4 0 4 -33 4 59 4 51 4 -75 4 -2 4 63 4 -73 4 33 4 29 4 -76 4 30 4 24 4 -6 4 24 4 -31 4 -25 4 -12 4 29 4 58 4 -41 4 -15 4 -12 4 69 4 20 4 -37 4 -60 4 9 4 47 4 26 4 -37 4 -33 4 0 4 46 4 -26 4 46 4 -45 4 -69 4 52 4 30 4 -22 4 54 4 -60 4 -33 4 51 4 -17 4 31 4 65 4 -61 4 -42 4 60 4 -42 4 -12 4 40 4 8 4 -12 4 37 4 -81 4 -30 4 74 4 61 4 -92 4 -44 4 28 4 60 4 3 4 -57 4 12 4 26 4 -33 4 5 4 29 4 68 4 -77 4 -25 4 2 4 82 4 -69 4 -21 4 -15 4 77 4 0 4 -29 4 -40 4 58 4 -13 4 2 4 -11 4 -25 4 24 4 38 4 -17 4 -51 4 52 4 19 4 -40 4 36 4 -60 4 36 4 -49 4 46 4 19 4 -54 4 3 4 12 4 71 4 -35 4 -30 4 -25 4 21 4 45 4 -37 4 -18 4 29 4 19 4 -14 4 6 4 -31 4 -7 4 21 4 3 4 -21 4 30 4 49 4 -42 4 -50 4 13 4 99 4 -35 4 -82 4 -2 4 80 4 -65 4 8 4 21 4 25 4 -33 4 8 4 19 4 -30 4 20 4 -3 4 -19 4 -3 4 7 4 2 4 -16 4 19 4 21 4 -38 4 29 4 -5 4 1 4 -10 4 0 4 -42 4 28 4 31 4 -47 4 13 4 28 4 -21 4 45 4 -5 4 -45 4 7 4 -7 4 34 4 -1 4 -22 4 -7 4 -13 4 42 4 11 4 -72 4 2 4 49 4 5 4 -38 4 24 4 -21 4 0 4 52 4 -39 4 -25 4 15 4 42 4 -30 4 4 4 33 4 -56 4 3 4 49 4 -43 4 -15 4 65 4 -31 4 -19 4 15 4 15 4 -11 4 9 4 -40 4 40 4 -15 4 -21 4 52 4 -15 4 -14 4 -9 4 8 4 6 4 5 4 5 4 -12 4 -8 4 44 4 -33 4 -19 4 18 4 -8 4 9 4 -18 4 41 4 -6 4 -26 4 -30 4 69 4 -2 4 -50 4 35 4 -4 4 -5 4 -1 4 13 4 -32 4 -18 4 69 4 -25 4 -35 4 51 4 -21 4 -26 4 35 4 -29 4 -24 4 45 4 14 4 -25 4 -9 4 28 4 -4 4 -25 4 17 4 -1 4 -15 4 25 4 -11 4 2 4 -23 4 28 4 3 4 -28 4 -4 4 41 4 8 4 -48 4 12 4 22 4 40 4 -46 4 -19 4 17 4 4 4 -31 4 8 4 47 4 -29 4 0 4 20 4 -51 4 4 4 37 4 -18 4 4 4 2 4 -27 4 -18 4 37 4 18 4 -28 4 -1 4 15 4 -17 4 8 4 -17 4 28 4 34 4 -48 4 6 4 26 4 -27 4 6 4 2 4 -2 4 -15 4 28 4 15 4 -31 4 3 4 -1 4 5 4 -17 4 15 4 -3 4 8 4 21 4 -36 4 11 4 0 4 10 4 -17 4 -6 4 -1 4 -11 4 16 4 6 4 -12 4 33 4 -4 4 -28 4 -9 4 7 4 2 4 13 4 -20 4 -17 4 45 4 9 4 -51 4 7 4 19 4 7 4 -16 4 -5 4 16 4 -25 4 13 4 17 4 11 4 -10 4 0 4 -48 4 35 4 23 4 -45 4 -4 4 38 4 -22 4 4 4 35 4 -34 4 24 4 -22 4 -3 4 40 4 -40 4 11 4 4 4 -9 4 -10 4 8 4 -4 4 1 4 19 4 5 4 -28 4 7 4 26 4 -14 4 1 4 8 4 -28 4 35 4 9 4 -38 4 9 4 27 4 -11 4 -30 4 1 4 23 4 8 4 -6 4 -15 4 2 4 -15 4 14 4 37 4 -39 4 -14 4 54 4 1 4 -53 4 -4 4 44 4 -7 4 -6 4 -23 4 20 4 5 4 2 4 -4 4 -6 4 6 4 -19 4 2 4 16 4 -19 4 19 4 -13 4 2 4 -1 4 3 4 31 4 -33 4 1 4 19 4 -16 4 -1 4 2 4 4 4 20 4 -17 4 -34 4 26 4 36 4 -9 4 -46 4 13 4 13 4 -24 4 22 4 -3 4 11 4 -13 4 -27 4 10 4 36 4 -16 4 3 4 -19 4 7 4 20 4 4 4 -5 4 -14 4 -16 4 18 4 14 4 9 4 -43 4 1 4 30 4 -1 4 -14 4 -14 4 23 4 -6 4 -6 4 -2 4 30 4 -29 4 0 4 28 4 -7 4 -26 4 8 4 0 4 -16 4 14 4 13 4 -5 4 -34 4 43 4 2 4 -23 4 -1 4 32 4 -15 4 -41 4 37 4 14 4 -43 4 -10 4 46 4 1 4 -9 4 -17 4 -9 4 14 4 -8 4 11 4 42 4 -14 4 -36 4 1 4 28 4 -13 4 -3 4 2 4 17 4 -15 4 -27 4 -3 4 44 4 -13 4 -12 4 -6 4 18 4 3 4 -20 4 4 4 -3 4 22 4 9 4 -23 4 -23 4 15 4 8 4 -2 4 -5 4 -20 4 19 4 25 4 -22 4 -3 4 10 4 -4 4 1 4 13 4 -3 4 -31 4 19 4 55 4 -28 4 -36 4 16 4 6 4 -34 4 7 4 21 4 -7 4 14 4 -9 4 -19 4 6 4 26 4 -12 4 -5 4 9 4 -7 4 18 4 -31 4 3 4 -7 4 37 4 2 4 -32 4 -13 4 27 4 17 4 -24 4 -13 4 10 4 37 4 -32 4 15 4 -17 4 27 4 15 4 -69 4 20 4 30 4 0 4 -16 4 -12 4 23 4 -18 4 32 4 -19 4 -6 4 1 4 -17 4 27 4 7 4 -25 4 -3 4 47 4 4 4 -80 4 1 4 74 4 -19 4 -23 4 -26 4 23 4 24 4 8 4 -39 4 17 4 3 4 11 4 -4 4 -2 4 -14 4 8 4 8 4 4 4 -27 4 9 4 10 4 2 4 -1 4 -39 4 34 4 27 4 -47 4 18 4 5 4 0 4 5 4 -16 4 14 4 9 4 -38 4 5 4 18 4 1 4 -4 4 14 4 -18 4 1 4 1 4 -9 4 10 4 14 4 -2 4 -16 4 3 4 15 4 4 4 -5 4 -22 4 33 4 -18 4 -11 4 1 4 32 4 -18 4 -11 4 5 4 23 4 -21 4 8 4 -21 4 6 4 -9 4 33 4 14 4 -40 4 -4 4 17 4 9 4 -6 4 -18 4 25 4 19 4 -48 4 -13 4 20 4 35 4 2 4 -64 4 26 4 52 4 -34 4 -18 4 15 4 -4 4 16 4 -22 4 -2 4 28 4 0 4 -28 4 -20 4 21 4 15 4 -11 4 -10 4 0 4 10 4 10 4 2 4 6 4 -23 4 3 4 -11 4 9 4 12 4 -5 4 20 4 -4 4 -22 4 -9 4 15 4 7 4 -1 4 10 4 -25 4 11 4 -4 4 1 4 -9 4 4 4 -5 4 4 4 4 4 7 4 -12 4 -2 4 10 4 17 4 -11 4 -6 4 -5 4 -8 4 27 4 -24 4 19 4 11 4 -34 4 17 4 11 4 -13 4 -2 4 1 4 9 4 -5 4 -3 4 15 4 -3 4 -22 4 -11 4 19 4 -19 4 4 4 10 4 23 4 -10 4 -23 4 3 4 12 4 -3 4 37 4 -11 4 -17 4 -2 4 7 4 9 4 -14 4 -6 4 1 4 6 4 2 4 0 4 -3 4 1 4 -16 4 4 4 3 4 12 4 4 4 -55 4 20 4 47 4 -15 4 -22 4 21 4 5 4 -30 4 1 4 17 4 21 4 -26 4 -11 4 1 4 18 4 7 4 -23 4 -1 4 16 4 3 4 8 4 -35 4 23 4 12 4 -18 4 5 4 1 4 14 4 -24 4 -6 4 8 4 24 4 -2 4 -50 4 25 4 44 4 -28 4 -18 4 19 4 -12 4 -3 4 11 4 -1 4 -2 4 -3 4 18 4 -17 4 -9 4 -15 4 19 4 49 4 -46 4 -11 4 6 4 9 4 -9 4 17 4 4 4 -7 4 -24 4 19 4 19 4 -14 4 -6 4 -6 4 9 4 9 4 3 4 11 4 -12 4 -11 4 -26 4 29 4 7 4 -26 4 36 4 -8 4 -13 4 -12 4 0 4 13 4 1 4 -22 4 -2 4 32 4 20 4 -22 4 -29 4 -13 4 42 4 -2 4 -38 4 19 4 26 4 -6 4 -24 4 20 4 -1 4 -8 4 -3 4 -16 4 6 4 31 4 3 4 -23 4 -19 4 37 4 -33 4 -3 4 18 4 32 4 -12 4 -33 4 -3 4 13 4 -16 4 20 4 17 4 -37 4 36 4 2 4 -29 4 16 4 -6 4 -17 4 24 4 37 4 -42 4 -19 4 -2 4 14 4 14 4 -16 4 8 4 -3 4 0 4 -4 4 45 4 -37 4 -18 4 24 4 -5 4 -22 4 3 4 13 4 19 4 9 4 -14 4 0 4 5 4 -32 4 29 4 2 4 2 4 -22 4 -8 4 36 4 7 4 -25 4 11 4 -20 4 5 4 10 4 5 4 2 4 6 4 -7 4 -1 4 -6 4 -19 4 39 4 4 4 5 4 -20 4 -37 4 -14 4 56 4 14 4 -34 4 7 4 21 4 -12 4 -14 4 6 4 -21 4 2 4 53 4 -15 4 -46 4 24 4 27 4 -13 4 -2 4 -8 4 9 4 -12 4 -2 4 0 4 -27 4 31 4 22 4 -19 4 6 4 -18 4 11 4 -7 4 31 4 -26 4 -30 4 41 4 -5 4 -11 4 -6 4 -3 4 15 4 5 4 -13 4 14 4 -18 4 -32 4 26 4 34 4 -20 4 -14 4 -12 4 33 4 -10 4 6 4 9 4 -16 4 -26 4 13 4 35 4 -11 4 -20 4 18 4 -10 4 -14 4 13 4 35 4 -28 4 -15 4 18 4 7 4 -6 4 -3 4 0 4 33 4 -31 4 -34 4 41 4 0 4 -31 4 11 4 13 4 -7 4 -7 4 9 4 7 4 -20 4 -21 4 17 4 19 4 6 4 -6 4" transform="scale(.1)" fill="none" stroke="#000" stroke-width="8.5"/>
<path d="M4044 4987l-7 10 17 10 21 10 14 10 11 10 -6 10 0 10 -1 10 7 10 -13 10 -5 10 11 10 -7 10 3 10 -1 10 20 10 4 10 -6 10 -4 10 2 10 -24 10 -23 10 -22 10 -1 10 7 10 25 10 -5 10 -12 10 15 10 5 10 -13 10 -3 10 -9 10 1 10 17 10 10 10 -11 10 0 10 -9 10 -4 10 5 10 8 10 3 10 -2 10 -18 10 16 10 6 10 0 10 8 10 -15 10 1 10 15 10 -4 10 -5 10 -20 10 -2 10 -1 10 4 10 7 10 -9 10 -1 10 6 10 -7 10 3 10 -3 10 -2 10 18 10 7 10 10 10 -16 10 1 10 7 10 -2 10 -4 10 0 10 -3 10 -1 10 -4 10 -2 10 -10 10 2 10 20 10 0 10 10 10 11 10 -1 10 11 10 -13 10 -21 10 1 10 6 10 0 10 1 10 7 10 31 10 -8 10 -23 10 -30 10 3 10 8 10 8 10 11 10 11 10 -4 10 14 10 -7 10 -12 10 -18 10 -2 10 16 10 -12 10 -6 10 6 10 14 10 12 10 -1 10 -11 10 -24 10 -4 10 -2 10 2 10 4 10 10 10 27 10 6 10 -12 10 -19 10 -14 10 -1 10 30 10 20 10 -9 10 -7 10 -2 10 -9 10" transform="scale(.1)" fill="none" stroke="#333" stroke-width="5.0"/>
<path d="M4073 385l-26 6 -10 6 4 6 37 6 -10 6 -9 6 11 6 -16 6 -1 6 5 6 4 6 7 6 2 6 -1 6 -8 6 -35 6 21 6 7 6 -4 6 15 6 9 6 -24 6 0 6 6 6 1 6 34 6 -37 6 -29 6 17 6 27 6 26 6 -13 6 -46 6 -8 6 33 6 11 6 -21 6 41 6 -5 6 -39 6 -6 6 39 6 -4 6 -31 6 -23 6 10 6 29 6 -5 6 13 6 -24 6 15 6 19 6 1 6 -31 6 -9 6 0 6 24 6 -6 6 -18 6 -8 6 14 6 37 6 4 6 -36 6 10 6 17 6 -9 6 -41 6 10 6 46 6 7 6 -26 6 -20 6 -7 6 1 6 36 6 -16 6 -12 6 14 6 13 6 -21 6 -30 6 30 6 44 6 -6 6 -29 6 -21 6 -27 6 58 6 -13 6 -55 6 25 6 21 6 14 6 8 6 -27 6 5 6 45 6 -37 6 -15 6 12 6 24 6 -5 6 -18 6 -15 6 5 6 22 6 7 6 -22 6 5 6 -20 6 -24 6 59 6 -11 6 -13 6 28 6 -8 6 -16 6 17 6 -9 6 -50 6 -4 6 84 6 -13 6 -32 6 -17 6 37 6 8 6 -40 6 -20 6 4 6 64 6 -8 6 -8 6 8 6 -4 6 -35 6 -21 6 44 6 8 6 38 6 -16 6 1 6 -32 6 -5 6 28 6 -18 6 10 6 0 6 -24 6 -1 6 -6 6 16 6 6 6 3 6 -2 6 30 6 -31 6 2 6 4 6 -39 6 -2 6 58 6 -6 6 -32 6 5 6 12 6 15 6 29 6 -63 6 -17 6 14 6 25 6 -27 6 0 6 -6 6 34 6 16 6 -45 6 1 6 -8 6 18 6 1 6 14 6 6 6 -58 6 1 6 5 6 22 6 4 6 -11 6 23 6 6 6 -53 6 44 6 61 6 -5 6 -9 6 -61 6 -20 6 32 6 2 6 -2 6 47 6 -62 6 -10 6 -1 6 42 6 13 6 13 6 33 6 -15 6 -15 6 -61 6 7 6 -49 6 1 6 74 6 -33 6 10 6 32 6 -14 6 -9 6 -24 6 -6 6 74 6 65 6 -55 6 -79 6 -20 6 47 6 18 6 51 6 -31 6 -42 6 10 6 -10 6 23 6 8 6 -46 6 -11 6 76 6 -77 6 -45 6 88 6 52 6 -14 6 -38 6 -15 6 -90 6 131 6 10 6 -50 6 34 6 -12 6 -31 6 100 6 -31 6 -84 6 -58 6 67 6 70 6 8 6 -60 6 -61 6 53 6 15 6 -9 6 -38 6 -16 6 49 6 57 6 26 6 -5 6 -57 6 -84 6 5 6 30 6 59 6 29 6 -41 6 -28 6 5 6 -79 6 56 6 87 6 15 6 -111 6 -72 6 59 6 84 6 -63 6 -50 6 39 6 70 6 3 6 -43 6 -6 6 16 6 -14 6 -28 6 52 6 3 6 -13 6 -41 6 54 6 -29 6 -24 6 35 6 36 6 66 6 -57 6 -83 6 15 6 2 6 4 6 5 6 17 6 15 6 -23 6 4 6 15 6 41 6 -40 6 -16 6 18 6 -32 6 42 6 -31 6 -52 6 12 6 71 6 21 6 -73 6 42 6 -2 6 -35 6 -16 6 15 6 71 6 -3 6 -46 6 4 6 10 6 27 6 11 6 -33 6 -52 6 26 6 34 6 -36 6 30 6 43 6 -38 6 -41 6 42 6 33 6 -2 6 -93 6 37 6 43 6 -67 6 3 6 43 6 57 6 -26 6 -27 6 -6 6 -1 6 5 6 -4 6 -2 6 52 6 -52 6 -23 6 7 6 -2 6 7 6 1 6 18 6 -13 6 -8 6 7 6 -13 6 11 6 -10 6 5 6 1 6 4 6 -24 6 18 6 15 6 -31 6 -1 6 22 6 20 6 -4 6 -13 6 -6 6 3 6 -7 6 2 6 19 6 -14 6 -2 6 -19 6 -15 6 30 6 3 6 7 6 -7 6 -15 6 11 6 13 6 -14 6 0 6 6 6 -8 6 4 6 -3 6 17 6 3 6 -15 6 -6 6 -2 6 12 6 -9 6 -7 6 -8 6 -2 6 37 6 4 6 -8 6 -10 6 -11 6 -4 6 17 6 7 6 -7 6 -15 6 10 6 2 6 -4 6 16 6 -9 6 -13 6 6 6 -18 6 11 6 22 6 -17 6 -14 6 -9 6 6 6 27 6 2 6 7 6 -32 6 11 6 -3 6 0 6 11 6 4 6 -9 6 -17 6 6 6 9 6 14 6 6 6 -24 6 -13 6 17 6 25 6 -9 6 -11 6 -4 6 -17 6 12 6 6 6 2 6 -13 6 22 6 -9 6 -26 6 3 6 37 6 16 6 -16 6 -42 6 13 6 25 6 12 6 -18 6 -12 6 22 6 -15 6 -3 6 5 6 8 6 14 6 -21 6 -20 6 4 6 38 6 -11 6 -19 6 4 6 6 6 4 6 19 6 -21 6 -7 6 9 6 12 6 -12 6 4 6 16 6 -16 6 -14 6 17 6 -8 6 -7 6 1 6 16 6 6 6 -1 6 -33 6 8 6 28 6 -20 6 -16 6 7 6 18 6 4 6 -13 6 -15 6 19 6 -8 6 10 6 16 6 -18 6 -43 6 26 6 34 6 -8 6 -16 6 -1 6 13 6 1 6 -16 6 4 6 25 6 -10 6 -19 6 -13 6 14 6 21 6 5 6 -29 6 10 6 6 6 -10 6 -12 6 17 6 12 6 12 6 -23 6 -22 6 10 6 5 6 28 6 13 6 -19 6 -8 6 -5 6 -13 6 4 6 13 6 -7 6 8 6 4 6 0 6 -10 6 -2 6 9 6 -2 6 -24 6 -2 6 25 6 6 6 -2 6 -25 6 28 6 6 6 -11 6 -4 6 -21 6 16 6 28 6 -6 6 -12 6 -12 6 33 6 -19 6 -16 6 20 6 1 6 -9 6 8 6 -16 6 -9 6 -21 6 15 6 26 6 1 6 -9 6 -6 6 4 6 7 6 -18 6 8 6 12 6 -5 6 -19 6 -1 6 0 6 -1 6 16 6 10 6 -7 6 -16 6 14 6 4 6 -16 6 -5 6 7 6 11 6 -21 6 -37 6 25 6 34 6 -10 6 -3 6 -3 6 3 6 15 6 -10 6 -20 6 19 6 20 6 0 6 -32 6 -3 6 15 6 -12 6 0 6 36 6 -3 6 -11 6 -7 6 10 6 -13 6 -7 6 19 6 -10 6 2 6 -7 6 -12 6 8 6 9 6 23 6 -20 6 2 6 3 6 -5 6 -9 6 2 6 4 6 23 6 -1 6 5 6 -24 6 -12 6 13 6 14 6 -20 6 29 6 -18 6 -16 6 -4 6 32 6 1 6 -6 6 8 6 -16 6 -11 6 16 6 3 6 -10 6 12 6 -2 6 -7 6 10 6 5 6 -2 6 2 6 -25 6 5 6 25 6 -4 6 4 6 -10 6 -32 6 5 6 23 6 13 6 -17 6 -5 6 0 6 22 6 0 6 -18 6 -16 6 -9 6 23 6 24 6 -21 6 -10 6 6 6 3 6 20 6 -13 6 -22 6 1 6 -3 6 23 6 21 6 -16 6 -28 6 -3 6 40 6 7 6 -10 6 -17 6 0 6 2 6 -15 6 10 6 4 6 14 6 -18 6 -2 6 23 6 -8 6 -21 6 -6 6 12 6 13 6 -1 6 -13 6 1 6 8 6 -11 6 -14 6 3 6 21 6 15 6" transform="scale(.1)" fill="none" stroke="#000" stroke-width="5.9"/>
<path d="M4387 385l18 5 -13 5 21 5 -15 5 -13 5 -6 5 21 5 33 5 -21 5 -20 5 -9 5 7 5 9 5 0 5 -3 5 -19 5 42 5 -10 5 -36 5 4 5 5 5 2 5 28 5 -2 5 20 5 -31 5 -20 5 29 5 5 5 -23 5 -9 5 12 5 -10 5 -3 5 13 5 -8 5 18 5 5 5 -6 5 -10 5 11 5 -3 5 -31 5 -16 5 61 5 6 5 -33 5 -6 5 31 5 -3 5 -17 5 -17 5 -19 5 43 5 34 5 0 5 -35 5 -22 5 27 5 10 5 -13 5 7 5 8 5 7 5 0 5 -20 5 -1 5 -24 5 1 5 25 5 -5 5 16 5 -3 5 -32 5 -4 5 23 5 31 5 -11 5 -26 5 20 5 0 5 -14 5 -1 5 27 5 -20 5 -15 5 -7 5 4 5 34 5 -20 5 -19 5 11 5 8 5 10 5 10 5 0 5 -37 5 -9 5 14 5 48 5 -9 5 -41 5 -5 5 -9 5 33 5 -2 5 -24 5 -6 5 22 5 6 5 12 5 -3 5 -11 5 3 5 4 5 22 5 -35 5 -16 5 9 5 39 5 -27 5 -2 5 9 5 21 5 -8 5 -24 5 -13 5 -7 5 52 5 -3 5 -17 5 -15 5 -4 5 21 5 29 5 -24 5 -41 5 7 5 35 5 -2 5 4 5 -19 5 -3 5 13 5 0 5 -5 5 -15 5 -16 5 11 5 22 5 -4 5 4 5 -25 5 0 5 56 5 7 5 -39 5 -43 5 31 5 17 5 -6 5 -7 5 19 5 -37 5 9 5 38 5 -4 5 -12 5 -16 5 5 5 21 5 -4 5 -26 5 -12 5 20 5 31 5 -18 5 -36 5 24 5 9 5 -33 5 22 5 11 5 5 5 -9 5 -22 5 -4 5 31 5 21 5 -26 5 -18 5 1 5 2 5 48 5 -7 5 -43 5 -14 5 38 5 10 5 -9 5 8 5 -10 5 -12 5 17 5 8 5 5 5 -13 5 7 5 -24 5 11 5 -2 5 16 5 -6 5 -15 5 8 5 2 5 19 5 -20 5 -18 5 13 5 21 5 3 5 -42 5 -16 5 31 5 64 5 -43 5 -73 5 18 5 106 5 -4 5 -51 5 -25 5 -49 5 38 5 41 5 51 5 -66 5 -48 5 37 5 23 5 0 5 -52 5 25 5 32 5 -15 5 -27 5 -18 5 46 5 16 5 -42 5 -11 5 39 5 -4 5 -14 5 15 5 -9 5 8 5 9 5 -38 5 7 5 11 5 10 5 -17 5 -12 5 10 5 28 5 -25 5 -21 5 40 5 8 5 -37 5 6 5 43 5 19 5 -51 5 -40 5 -11 5 59 5 50 5 -54 5 -8 5 -25 5 49 5 8 5 8 5 -47 5 -14 5 20 5 -13 5 51 5 -44 5 -8 5 60 5 -44 5 -7 5 55 5 -47 5 43 5 -82 5 42 5 -52 5 -94 5 228 5 -73 5 -53 5 73 5 -33 5 23 5 14 5 -92 5 65 5 -21 5 18 5 75 5 39 5 -62 5 -1 5 -65 5 -82 5 -20 5 215 5 -32 5 -68 5 -26 5 -85 5 121 5 54 5 -131 5 53 5 29 5 -63 5 10 5 98 5 3 5 -9 5 -81 5 -13 5 26 5 133 5 -57 5 -28 5 -8 5 -26 5 -26 5 -14 5 -31 5 103 5 -7 5 -46 5 52 5 -93 5 -29 5 56 5 127 5 58 5 -180 5 -44 5 48 5 73 5 -44 5 28 5 35 5 -36 5 39 5 -26 5 -33 5 -60 5 16 5 9 5 20 5 33 5 6 5 -50 5 25 5 12 5 -4 5 -25 5 3 5 18 5 31 5 -44 5 -20 5 3 5 1 5 35 5 -15 5 3 5 1 5 -35 5 23 5 52 5 -20 5 -55 5 -1 5 43 5 2 5 -38 5 -19 5 33 5 -1 5 -1 5 4 5 -16 5 42 5 -11 5 -20 5 18 5 -21 5 9 5 -27 5 7 5 20 5 -7 5 -7 5 -8 5 5 5 7 5 1 5 -3 5 -14 5 3 5 14 5 20 5 -3 5 -8 5 -20 5 -17 5 34 5 5 5 -10 5 3 5 -1 5 -3 5 -10 5 20 5 -10 5 -2 5 -9 5 37 5 -5 5 -13 5 -13 5 8 5 2 5 10 5 15 5 -49 5 3 5 21 5 24 5 -2 5 -43 5 2 5 15 5 19 5 -3 5 6 5 -13 5 13 5 -9 5 -1 5 -5 5 2 5 1 5 1 5 -13 5 -2 5 -21 5 15 5 25 5 1 5 -3 5 4 5 -6 5 12 5 5 5 -21 5 5 5 -1 5 -6 5 -1 5 1 5 8 5 -1 5 3 5 -4 5 -3 5 -2 5 -4 5 5 5 9 5 15 5 -12 5 -21 5 -12 5 21 5 21 5 -10 5 -1 5 -20 5 -4 5 10 5 4 5 8 5 16 5 -14 5 6 5 -7 5 17 5 -7 5 -8 5 -10 5 -10 5 7 5 -3 5 9 5 5 5 6 5 -6 5 -15 5 0 5 11 5 -3 5 -2 5 6 5 -2 5 9 5 -8 5 -8 5 2 5 5 5 3 5 3 5 15 5 -19 5 -2 5 -13 5 1 5 12 5 0 5 2 5 14 5 -21 5 -3 5 23 5 -4 5 -9 5 6 5 -8 5 -4 5 18 5 -4 5 -23 5 -4 5 34 5 3 5 -33 5 0 5 20 5 -5 5 2 5 8 5 -4 5 -19 5 -1 5 -1 5 17 5 7 5 -16 5 -12 5 9 5 35 5 -10 5 -18 5 -9 5 -10 5 27 5 20 5 -13 5 -17 5 10 5 4 5 5 5 -21 5 -4 5 10 5 17 5 -6 5 -8 5 -18 5 27 5 -3 5 -2 5 -19 5 5 5 1 5 12 5 18 5 -12 5 -14 5 -13 5 13 5 0 5 8 5 -18 5 13 5 -9 5 -3 5 -3 5 8 5 5 5 8 5 -11 5 -7 5 -2 5 10 5 -1 5 5 5 -9 5 1 5 12 5 -4 5 4 5 -9 5 -10 5 2 5 4 5 3 5 0 5 -2 5 -8 5 -1 5 19 5 -5 5 3 5 -2 5 -3 5 -2 5 5 5 -7 5 9 5 8 5 -3 5 -12 5 -3 5 7 5 -2 5 13 5 -12 5 -7 5 5 5 -1 5 6 5 -7 5 6 5 4 5 10 5 -21 5 1 5 14 5 3 5 -10 5 -3 5 -10 5 0 5 8 5 -1 5 -3 5 3 5 7 5 0 5 4 5 -5 5 5 5 3 5 -23 5 0 5 21 5 1 5 -13 5 -9 5 11 5 6 5 5 5 -1 5 -10 5 3 5 -7 5 9 5 -4 5 -13 5 -1 5 17 5 0 5 4 5 -16 5 -3 5 10 5 23 5 -23 5 -10 5 11 5 21 5 -6 5 -18 5 -4 5 11 5 6 5 -7 5 -2 5 -10 5 -1 5 12 5 3 5 -6 5 9 5 12 5 -18 5 -7 5 18 5 3 5 -1 5 -13 5 11 5 -6 5 -12 5 0 5 12 5 13 5 -11 5 -7 5 3 5 2 5 5 5 2 5 3 5 1 5 -10 5 -7 5 9 5 -4 5 -3 5 5 5 1 5 -3 5 -8 5 9 5 8 5 4 5 -20 5 -7 5 3 5 21 5 0 5 -14 5 -7 5 6 5 -4 5 3 5 2 5 6 5 4 5 -3 5 -18 5 1 5 -1 5 4 5 -1 5 0 5 7 5 3 5 -1 5 -4 5 -3 5 2 5 -6 5 -3 5 18 5 -1 5 -13 5 -10 5 16 5 7 5 3 5 -5 5 2 5 -16 5 6 5 -4 5 4 5 6 5 -6 5 5 5 -15 5 6 5 16 5 7 5 -15 5 4 5 2 5 -16 5 -4 5 12 5 10 5 -7 5 -6 5 6 5 6 5 0 5 -9 5 -16 5 15 5 3 5 5 5 -1 5 -3 5 3 5 -6 5 -1 5 2 5 2 5 -1 5 8 5 -5 5 1 5 6 5 -9 5 1 5 -2 5 -2 5 -2 5 0 5 5 5 -1 5 -3 5 0 5 0 5 1 5 2 5 1 5 1 5 -3 5 -14 5 4 5 14 5 -1 5 1 5 -2 5 -1 5 -2 5 -4 5 10 5 2 5 -6 5 -6 5 -5 5 5 5 2 5 3 5 10 5 -8 5 -8 5 -2 5 12 5 7 5 -3 5 -3 5 2 5 -2 5 -5 5 -1 5 1 5 5 5 -4 5 -5 5 3 5 9 5 5 5 -4 5 -10 5 -3 5 2 5 -2 5 4 5 2 5 -8 5 6 5 8 5 -5 5 -8 5 -1 5 4 5 6 5 4 5 -6 5 -4 5 6 5 3 5 -6 5 1 5 -1 5 7 5 5 5 -12 5 -6 5 8 5 6 5 -8 5 -3 5 2 5 10 5 1 5 -8 5 -2 5 3 5 2 5 5 5 -9 5 -1 5 -5 5 6 5 8 5 -9 5 -9 5 3 5 9 5 -2 5 0 5 0 5 2 5 0 5 6 5 1 5 -6 5 4 5 -6 5 -2 5 10 5 1 5 -5 5 -3 5 -6 5 10 5 8 5 -7 5 -3 5 -7 5 5 5 12 5 3 5 -5 5 -11 5 4 5 5 5 5 5 0 5 -1 5 -11 5 0 5 4 5 0 5 -9 5 1 5 10 5 2 5 -8 5 -1 5 1 5 5 5 0 5 -5 5 -1 5 -2 5 7 5 -3 5 -2 5 6 5 -2 5 -13 5 2 5 10 5 -2 5 6 5 2 5 3 5 -8 5 -3 5 -8 5 8 5 6 5 -7 5 -5 5 -3 5 6 5 11 5 -6 5 -8 5 0 5 1 5 7 5 8 5 -1 5 -15 5 4 5 12 5 -5 5 -12 5 0 5 10 5 9 5 -8 5 -11 5 -3 5 14 5 0 5 2 5 -7 5 5 5 -4 5 6 5 5 5 -3 5 -5 5 -5 5 5 5 10 5 -5 5 2 5 -7 5 4 5 4 5 2 5 -3 5 1 5 -8 5 6 5 6 5 4 5 -9 5 -5 5 3 5 6 5 -1 5 -2 5 -6 5 5 5 5 5 -3 5 -10 5 -5 5 11 5 2 5 -4 5 -10 5 6 5 6 5 -3 5 -4 5 3 5 1 5 2 5 -6 5 1 5 12 5 -6 5 1 5 6 5 -2 5 -10 5 -11 5 6 5 6 5 -2 5 -6 5 -2 5 7 5 -4 5 2 5 2 5 -6 5 -4 5 16 5 -6 5 4 5 4 5 -12 5 3 5 12 5 0 5 -9 5 -8 5 9 5 -1 5 9 5 -1 5 -7 5 0 5 6 5 -7 5 5 5 6 5 -7 5 -3 5 5 5 5 5 4 5 -9 5 -5 5 7 5 3 5 5 5 -2 5 -6 5 -3 5 5 5 4 5 0 5 6 5 -11 5 0 5 -10 5 1 5 14 5 3 5 -8 5 -7 5 -7 5 -12 5 6 5 17 5 9 5 -5 5 -9 5 3 5 1 5 11 5 -10 5 -15 5 4 5 13 5 -11 5 9 5 -4 5 -2 5 -4 5 0 5 -3 5 14 5 -7 5 -10 5 13 5 2 5 -7 5 -2 5 0 5 1 5 0 5 2 5 -1 5 -6 5 -3 5 0 5 16 5 -4 5 -6 5 3 5 -4 5 9 5 1 5 -5 5 2 5 -8 5 9 5 9 5 -7 5 2 5 5 5 -8 5 -7 5 4 5 5 5 1 5 -10 5 0 5 -1 5 8 5 4 5 -8 5 2 5" transform="scale(.1)" fill="none" stroke="#000" stroke-width="6.5"/>
<path d="M4835 1991l12 10 19 10 16 10 -12 10 -30 10 -26 10 -4 10 -1 10 -25 10 12 10 15 10 30 10 34 10 15 10 -12 10 -3 10 -19 10 -20 10 2 10 -6 10 11 10 -14 10 -25 10 27 10 32 10 -4 10 -15 10 -26 10 -30 10 -11 10 -4 10 51 10 51 10 -2 10 -23 10 -12 10 -11 10 -24 10 -14 10 9 10 -10 10 3 10 13 10 6 10 22 10 9 10 -3 10 -1 10 14 10 -34 10 -37 10 18 10 24 10 -2 10 10 10 22 10 -1 10 -19 10 -75 10 -31 10 11 10 46 10 44 10 -4 10 -12 10 13 10 11 10 -11 10 7 10 -7 10 -27 10 -16 10 24 10 12 10 42 10 7 10 2 10 1 10 -4 10 -3 10 8 10 -20 10 -37 10 12 10 -5 10 21 10 15 10 8 10 25 10 24 10 -30 10 -34 10 -38 10 -21 10 -21 10 -21 10 -16 10 -23 10 32 10 15 10 -4 10 9 10 47 10 20 10 -7 10 -38 10 -24 10 18 10 11 10 55 10 3 10 5 10 28 10 13 10 31 10 -33 10 -22 10 -11 10 2 10 -4 10 -14 10 -30 10 -5 10 -7 10 0 10 1 10 36 10 20 10 23 10 -18 10 -24 10 -24 10 -12 10 10 10 15 10 35 10 0 10 -22 10 -29 10 5 10 7 10 2 10 -6 10 12 10 16 10 16 10 3 10 -15 10 -16 10 -8 10 -53 10 10 10 -8 10 -21 10 -8 10 -29 10 26 10 24 10 57 10 37 10 -1 10 4 10 15 10 -16 10 6 10 -13 10 -2 10 -4 10 8 10 37 10 33 10 -33 10 -17 10 -57 10 -27 10 -18 10 14 10 17 10 7 10 -2 10 -14 10 -4 10 1 10 12 10 6 10 20 10 23 10 -2 10 -1 10 0 10 29 10 -11 10 -49 10 -12 10 19 10 6 10 27 10 1 10 -16 10 -1 10 10 10 1 10 -39 10 -37 10 -13 10 -2 10 6 10 13 10 3 10 -15 10 -12 10 0 10 47 10 44 10 20 10 -23 10 -9 10 -18 10 -7 10 -11 10 3 10 -29 10 -21 10 -9 10 15 10 10 10 -2 10 -13 10 27 10 2 10 -6 10 10 10 26 10 28 10 -5 10 31 10 38 10 19 10 -37 10 -33 10 -7 10 -18 10 7 10 -18 10 -24 10 2 10 -15 10 -3 10 -21 10 -17 10 8 10 40 10 -6 10 28 10 -2 10 -11 10 39 10 21 10 -12 10 -13 10 -30 10 -4 10 -34 10 -15 10 30 10 7 10 -8 10 -3 10 5 10 40 10 11 10 9 10 -11 10 -4 10 -19 10 -34 10 -20 10 10 10 50 10 27 10 34 10 10 10 -12 10 -39 10 -21 10 -35 10 -28 10 -17 10 19 10 17 10 25 10 -1 10 13 10 -1 10 -11 10 15 10 5 10 -12 10 -33 10 15 10 -40 10 -17 10 14 10 48 10 39 10 40 10 -12 10 -23 10 -2 10 -10 10 -16 10 0 10 -8 10 -39 10 -3 10 25 10 36 10 12 10 -2 10 15 10 -21 10 2 10 -9 10 -10 10 -15 10 -44 10 3 10 24 10 34 10 7 10 -1 10 -6 10 -8 10 -2 10 41 10 42 10 2 10 -19 10 -16 10 -22 10 -25 10 12 10 -23 10 27 10 35 10 1 10 -20 10 20 10 11 10 -12 10 -8 10 -7 10 1 10 2 10 14 10 13 10 6 10 -28 10 1 10 -13 10 -6 10 -7 10 -20 10 -4 10 29 10 4 10 -12 10 -7 10 1 10 -22 10 -25 10 52 10 35 10 0 10 6 10 1 10 0 10 -13 10 37 10 -12 10 -16 10 -9 10 -35 10 -18 10 1 10 0 10 -16 10 21 10 -13 10 45 10 2 10 -14 10 -4 10 27 10 1 10 6 10 15 10 -6 10 2 10 -27 10 -10 10 -9 10 11 10 -13 10 1 10 -18 10 8 10 8 10 -14 10 -13 10 -5 10 -16 10 -2 10 9 10 -18 10 5 10 28 10 38 10 13 10 -23 10 6 10 5 10 8 10 -7 10 -37 10 -37 10 4 10 -8 10 8 10 -7 10 -5 10 44 10 11 10 4 10" transform="scale(.1)" fill="none" stroke="#333" stroke-width="5.0"/>
<path d="M4806 385l6 6 20 6 -31 6 -27 6 -23 6 45 6 47 6 45 6 -21 6 -40 6 -33 6 36 6 15 6 -21 6 -2 6 -13 6 -18 6 22 6 -8 6 -27 6 17 6 -3 6 -27 6 16 6 21 6 29 6 -22 6 5 6 28 6 -27 6 -23 6 -10 6 32 6 21 6 -20 6 -5 6 23 6 1 6 -8 6 11 6 -20 6 1 6 -22 6 0 6 -24 6 15 6 15 6 48 6 -29 6 -42 6 17 6 4 6 35 6 -3 6 -23 6 9 6 9 6 -36 6 -10 6 49 6 36 6 23 6 -68 6 -51 6 -7 6 45 6 2 6 -9 6 -2 6 -14 6 30 6 44 6 -19 6 36 6 -13 6 -38 6 -39 6 -6 6 12 6 29 6 9 6 -2 6 -59 6 0 6 28 6 9 6 -2 6 -14 6 32 6 34 6 -29 6 -12 6 7 6 -16 6 8 6 -1 6 15 6 -18 6 22 6 -37 6 -1 6 16 6 4 6 -35 6 -15 6 20 6 43 6 40 6 -2 6 -47 6 -41 6 21 6 -3 6 31 6 -13 6 -25 6 78 6 -28 6 -48 6 40 6 19 6 -21 6 -1 6 25 6 -9 6 -4 6 -5 6 -13 6 -34 6 -43 6 12 6 16 6 -10 6 14 6 66 6 6 6 -16 6 11 6 -1 6 18 6 -38 6 5 6 28 6 -86 6 -33 6 21 6 67 6 -34 6 11 6 11 6 21 6 -4 6 11 6 -33 6 -97 6 4 6 66 6 79 6 -14 6 8 6 -73 6 11 6 75 6 -16 6 -34 6 -61 6 17 6 43 6 52 6 25 6 -46 6 -38 6 -75 6 -14 6 44 6 58 6 42 6 -11 6 -17 6 -11 6 -45 6 -13 6 24 6 -5 6 42 6 17 6 3 6 -2 6 -16 6 32 6 -17 6 -19 6 55 6 -20 6 -30 6 -50 6 19 6 20 6 34 6 14 6 8 6 -31 6 -58 6 -60 6 38 6 -15 6 2 6 44 6 57 6 -31 6 -51 6 -31 6 38 6 -8 6 -24 6 35 6 85 6 -38 6 6 6 -85 6 37 6 4 6 -42 6 -56 6 23 6 87 6 68 6 2 6 29 6 -54 6 -90 6 72 6 16 6 -40 6 -31 6 8 6 33 6 -43 6 32 6 102 6 -26 6 -99 6 -33 6 81 6 68 6 55 6 -59 6 -97 6 -41 6 80 6 25 6 20 6 2 6 -12 6 -113 6 -1 6 -9 6 54 6 46 6 -12 6 -26 6 24 6 -62 6 35 6 48 6 1 6 -80 6 -36 6" transform="scale(.1)" fill="none" stroke="#000" stroke-width="5.9"/>
</g>
<clipPath id="cb"><rect x="70.8" y="762.2" width="594.5" height="593.5999999999999"/></clipPath>
<g clip-path="url(#cb)">
<path d="M1113 11788l1 10 0 10 -2 10 0 10 1 10 1 10 0 10 -2 10 -1 10 0 10 2 10 0 10 -1 10 -1 10 0 10 1 10 1 10 -1 10 0 10 1 10 -1 10 -1 10 1 10 0 10 -1 10 0 10 0 10 1 10 0 10 0 10 0 10 0 10 0 10 1 10 -1 10 1 10 -2 10 0 10 0 10 1 10 0 10 0 10 -2 10 1 10 1 10 0 10 0 10 -1 10 -1 10 -1 10 1 10 0 10 0 10 0 10 0 10 0 10 0 10 0 10 0 10 1 10 -2 10 0 10 0 10 0 10 0 10 -1 10 0 10 1 10 -1 10 2 10 0 10 -2 10 1 10 1 10 0 10 -1 10 0 10 0 10 1 10 1 10 1 10 0 10 0 10 -1 10 1 10 1 10 -1 10 -1 10 2 10 0 10 -2 10 1 10 1 10 1 10 1 10 -2 10 1 10 -2 10 0 10 2 10 1 10 0 10 -1 10 0 10 0 10 1 10 1 10 -1 10 0 10 0 10 0 10 2 10 0 10 -1 10 -1 10 0 10 1 10 0 10 -1 10 1 10 1 10 -1 10 1 10 -1 10 0 10 1 10 0 10 1 10 0 10 -1 10 1 10 0 10 1 10 -1 10 -1 10 0 10 1 10 0 10 -1 10 -1 10 -1 10 1 10 0 10 0 10 0 10 -2 10 0 10 1 10 0 10 1 10 0 10 -1 10 -1 10 -1 10 0 10 0 10 1 10 1 10 -1 10 -1 10 0 10 0 10 1 10 1 10 -1 10 0 10 0 10 0 10 -1 10 1 10 0 10 -1 10 0 10 1 10 1 10 0 10 -1 10" transform="scale(.1)" fill="none" stroke="#555" stroke-width="5.5"/>
<path d="M1105 7610l1 4 -2 4 4 4 -2 4 2 4 1 4 4 4 -8 4 7 4 -6 4 0 4 2 4 -2 4 0 4 -1 4 0 4 7 4 -11 4 10 4 2 4 -2 4 -13 4 8 4 10 4 3 4 -17 4 4 4 11 4 -5 4 -7 4 -2 4 19 4 6 4 -33 4 8 4 20 4 -6 4 -4 4 -5 4 -2 4 2 4 13 4 2 4 -10 4 0 4 5 4 -6 4 5 4 -5 4 0 4 0 4 2 4 10 4 -8 4 -9 4 6 4 1 4 3 4 -2 4 -6 4 12 4 3 4 -11 4 6 4 5 4 -12 4 -1 4 6 4 1 4 9 4 -4 4 -6 4 -4 4 9 4 5 4 -7 4 -1 4 1 4 6 4 -5 4 -12 4 19 4 -7 4 -6 4 3 4 16 4 -14 4 -1 4 3 4 0 4 -3 4 -5 4 8 4 -6 4 13 4 -7 4 -5 4 -4 4 11 4 -13 4 -2 4 10 4 -3 4 -5 4 14 4 2 4 -14 4 -6 4 13 4 2 4 -11 4 6 4 13 4 -5 4 -23 4 16 4 2 4 -10 4 12 4 5 4 -8 4 -3 4 -6 4 6 4 1 4 5 4 1 4 -6 4 -5 4 11 4 -1 4 -7 4 5 4 1 4 -5 4 -3 4 6 4 -4 4 -4 4 16 4 -6 4 -6 4 -13 4 12 4 14 4 -12 4 -9 4 8 4 -3 4 -1 4 1 4 -4 4 5 4 -6 4 13 4 -6 4 -16 4 18 4 9 4 -6 4 -13 4 11 4 -7 4 3 4 7 4 3 4 -9 4 6 4 -1 4 -14 4 8 4 9 4 -3 4 -13 4 9 4 7 4 -7 4 -4 4 9 4 -11 4 -3 4 19 4 6 4 -10 4 -16 4 10 4 8 4 -3 4 -15 4 15 4 9 4 -17 4 3 4 1 4 -8 4 23 4 -10 4 -8 4 6 4 12 4 -8 4 -13 4 10 4 13 4 -11 4 -8 4 13 4 0 4 -14 4 8 4 15 4 -6 4 -6 4 11 4 -8 4 -7 4 -2 4 11 4 4 4 -14 4 8 4 -10 4 5 4 6 4 -9 4 14 4 -6 4 -8 4 -1 4 19 4 -10 4 -12 4 14 4 5 4 -13 4 -6 4 -2 4 13 4 1 4 0 4 -9 4 6 4 -10 4 0 4 15 4 -9 4 -6 4 -3 4 -3 4 11 4 -2 4 -7 4 8 4 5 4 -15 4 -3 4 5 4 6 4 7 4 -12 4 -7 4 -7 4 12 4 8 4 -11 4 -5 4 2 4 13 4 -1 4 -19 4 21 4 -5 4 -10 4 -5 4 4 4 -5 4 16 4 4 4 -16 4 0 4 10 4 -3 4 -4 4 -5 4 11 4 5 4 -7 4 -7 4 2 4 1 4 11 4 -5 4 -11 4 9 4 3 4 2 4 -2 4 2 4 -25 4 27 4 3 4 -16 4 0 4 13 4 -7 4 1 4 -7 4 8 4 4 4 -11 4 -4 4 13 4 -1 4 2 4 0 4 6 4 -13 4 3 4 1 4 3 4 0 4 -1 4 -6 4 14 4 3 4 -8 4 -13 4 14 4 7 4 -3 4 -11 4 13 4 5 4 -7 4 -12 4 6 4 5 4 -7 4 1 4 4 4 -3 4 8 4 -4 4 -5 4 2 4 -5 4 8 4 4 4 -9 4 7 4 -1 4 -15 4 9 4 8 4 -3 4 -2 4 -6 4 18 4 -10 4 -15 4 7 4 22 4 -7 4 -20 4 10 4 4 4 -4 4 -1 4 1 4 7 4 5 4 -19 4 3 4 6 4 3 4 -1 4 4 4 -7 4 -8 4 7 4 7 4 1 4 -8 4 6 4 -8 4 4 4 6 4 -8 4 1 4 -4 4 -7 4 15 4 3 4 -3 4 -15 4 7 4 4 4 -6 4 -4 4 13 4 -4 4 -4 4 -5 4 1 4 13 4 -2 4 -21 4 9 4 23 4 -10 4 -13 4 -10 4 19 4 3 4 -13 4 7 4 5 4 -2 4 -12 4 3 4 3 4 1 4 -7 4 12 4 -3 4 -4 4 9 4 -12 4 -5 4 8 4 1 4 -7 4 1 4 12 4 -2 4 -12 4 -2 4 6 4 11 4 -13 4 5 4 -3 4 5 4 3 4 -2 4 4 4 -2 4 -8 4 4 4 2 4 -4 4 11 4 6 4 -25 4 2 4 23 4 -1 4 -21 4 2 4 16 4 -2 4 1 4 -9 4 1 4 12 4 -5 4 -10 4 -5 4 22 4 -8 4 -9 4 9 4 5 4 -10 4 2 4 -5 4 5 4 8 4 -7 4 -3 4 6 4 0 4 3 4 -6 4 -1 4 10 4 -19 4 7 4 7 4 5 4 -7 4 -5 4 6 4 2 4 -1 4 -16 4 12 4 13 4 -19 4 -2 4 13 4 -14 4 -6 4 18 4 0 4 -5 4 -7 4 11 4 -1 4 -9 4 -2 4 4 4 5 4 -8 4 -1 4 10 4 1 4 -2 4 -2 4 -5 4 15 4 -6 4 -7 4 3 4 0 4 4 4 1 4 -13 4 -5 4 15 4 3 4 -20 4 2 4 14 4 -15 4 14 4 0 4 -14 4 7 4 8 4 0 4 -4 4 -1 4 8 4 -4 4 -10 4 -6 4 18 4 4 4 -7 4 -6 4 5 4 3 4 -7 4 -10 4 11 4 9 4 2 4 -8 4 3 4 -10 4 -2 4 7 4 2 4 -4 4 9 4 6 4 -14 4 -3 4 16 4 -8 4 1 4 -3 4 11 4 -6 4 -8 4 -6 4 13 4 -12 4 8 4 4 4 -3 4 1 4 -15 4 18 4 2 4 -2 4 -3 4 5 4 -1 4 -5 4 7 4 -12 4 1 4 6 4 -2 4 3 4 0 4 -8 4 16 4 -3 4 -7 4 6 4 -5 4 -4 4 20 4 -14 4 7 4 -5 4 1 4 14 4 -10 4 -6 4 -6 4 6 4 14 4 -8 4 -10 4 13 4 0 4 -14 4 8 4 3 4 -15 4 13 4 4 4 1 4 -10 4 8 4 0 4 -2 4 -8 4 -4 4 12 4 2 4 -5 4 -1 4 -4 4 1 4 0 4 7 4 2 4 -17 4 -5 4 33 4 -10 4 -30 4 14 4 16 4 -1 4 -2 4 -6 4 -12 4 14 4 12 4 -6 4 -13 4 -1 4 13 4 -12 4 -8 4 14 4 -2 4 -1 4 2 4 0 4 3 4 -10 4 -19 4 25 4 -1 4 -4 4 2 4 -2 4 4 4 -8 4 -6 4 11 4 -4 4 1 4 10 4 -9 4 3 4 -7 4 -1 4 -3 4 2 4 20 4 -18 4 -12 4 19 4 2 4 -6 4 -9 4 8 4 14 4 -17 4 6 4 -1 4 -12 4 11 4 10 4 -10 4 1 4 -3 4 1 4 1 4 6 4 -5 4 -1 4 -11 4 10 4 8 4 -5 4 2 4 -8 4 5 4 2 4 -7 4 10 4 3 4 -19 4 0 4 24 4 -11 4 -10 4 2 4 13 4 -7 4 -11 4 23 4 -6 4 -16 4 8 4 11 4 -11 4 4 4 14 4 -14 4 -11 4 7 4 15 4 -3 4 -6 4 -3 4 -2 4 15 4 -6 4 -7 4 1 4 14 4 -4 4 -7 4 8 4 3 4 -9 4 -3 4 6 4 7 4 -20 4 5 4 -3 4 9 4 7 4 -10 4 -12 4 6 4 9 4 -5 4 1 4 3 4 -3 4 -7 4 9 4 2 4 11 4 -20 4 -6 4 22 4 1 4 -15 4 3 4 10 4 -17 4 -1 4 10 4 2 4 -4 4 2 4 -7 4 2 4 -11 4 5 4 -1 4 9 4 13 4 -21 4 -8 4 3 4 4 4 12 4 -6 4 -13 4 14 4 7 4 -17 4 9 4 5 4 -18 4 13 4 -1 4 -1 4 -4 4 0 4 12 4 -12 4 -5 4 -7 4 19 4 18 4 -18 4 4 4 -10 4 19 4 1 4 -12 4 -3 4 -3 4 11 4 11 4 -23 4 -3 4 2 4 3 4 -4 4 3 4 4 4 9 4 -11 4 -10 4 -5 4 30 4 -2 4 -27 4 13 4 20 4 -14 4 -23 4 19 4 6 4 -16 4 22 4 -5 4 -12 4 -3 4 15 4 -5 4 -2 4 -5 4 18 4 -21 4 -3 4 21 4 8 4 -25 4 8 4 9 4 -1 4 6 4 -19 4 0 4 10 4 10 4 -17 4 6 4 10 4 -7 4 -14 4 12 4 -7 4 0 4 23 4 -36 4 4 4 31 4 8 4 -41 4 8 4 19 4 -7 4 9 4 -4 4 -3 4 -15 4 6 4 -5 4 31 4 -15 4 -24 4 -10 4 30 4 23 4 -24 4 -21 4 45 4 -3 4 -13 4 -6 4 -10 4 34 4 -14 4 -14 4 12 4 16 4 -32 4 19 4 -21 4 12 4 26 4 -30 4 6 4 -20 4 4 4 9 4 -8 4 30 4 -19 4 -5 4 1 4 9 4 12 4 -16 4 -15 4 22 4 5 4 -17 4 12 4 1 4 -7 4 -6 4 0 4 5 4 4 4 4 4 -1 4 -5 4 7 4 -7 4 -4 4 3 4 6 4 -8 4 -8 4 11 4 1 4 -3 4 -2 4 -3 4 7 4 3 4 -3 4 -1 4 -5 4 7 4 9 4 -11 4 -6 4 -4 4 -1 4 9 4 3 4 0 4 -7 4 -1 4 8 4 -1 4 -9 4 9 4 -5 4 -3 4 -11 4 25 4 -1 4 -4 4 -12 4 5 4 8 4 -15 4 7 4 11 4 -14 4 -6 4 24 4 -8 4 -16 4 16 4 0 4 -6 4 6 4 -9 4 4 4 6 4 -2 4 -6 4 2 4 -6 4 5 4 5 4 -8 4 -4 4 7 4 1 4 -9 4 -7 4 17 4 7 4 2 4 -18 4 9 4 4 4 -13 4 11 4 3 4 -10 4 -3 4 4 4 4 4 -7 4 -11 4 23 4 -8 4 -8 4 2 4 10 4 -1 4 -6 4 -4 4 20 4 -9 4 -3 4 -11 4 9 4 15 4 -7 4 -10 4" transform="scale(.1)" fill="none" stroke="#000" stroke-width="5.9"/>
<path d="M1453 11945l1 10 0 10 -1 10 1 10 3 10 -2 10 0 10 0 10 2 10 -1 10 0 10 0 10 -2 10 0 10 0 10 0 10 -1 10 -2 10 0 10 0 10 -2 10 1 10 -1 10 -2 10 -2 10 2 10 1 10 1 10 2 10 -3 10 0 10 0 10 -1 10 2 10 -1 10 1 10 0 10 -1 10 3 10 0 10 -2 10 1 10 0 10 0 10 -1 10 0 10 0 10 -1 10 3 10 0 10 -1 10 -1 10 0 10 1 10 0 10 0 10 0 10 -1 10 0 10 -1 10 1 10 0 10 -2 10 1 10 0 10 -1 10 1 10 -1 10 1 10 2 10 -2 10 0 10 0 10 1 10 1 10 -2 10 -1 10 3 10 -1 10 1 10 0 10 1 10 -1 10 1 10 0 10 -2 10 0 10 0 10 -1 10 1 10 0 10 0 10 -1 10 -1 10 0 10 0 10 -1 10 0 10 -1 10 0 10 0 10 -2 10 2 10 1 10 1 10 -1 10 -1 10 1 10 -1 10 0 10 1 10 2 10 -1 10 -2 10 1 10 1 10 2 10 0 10 -1 10 1 10 -1 10 -2 10 1 10 1 10 -1 10 1 10 0 10 -1 10 1 10 0 10 2 10 -1 10 0 10 -2 10 -1 10 2 10 1 10 -2 10 1 10 -1 10 1 10 0 10 0 10 3 10 0 10 -1 10 -3 10 -1 10 1 10 1 10 0 10 1 10 1 10 0 10 -1 10 0 10 1 10 0 10 1 10 -1 10 -1 10" transform="scale(.1)" fill="none" stroke="#555" stroke-width="5.5"/>
<path d="M1451 7610l-11 4 10 4 7 4 -10 4 5 4 -2 4 3 4 -11 4 8 4 11 4 -9 4 -6 4 -7 4 11 4 8 4 -7 4 -7 4 4 4 6 4 -1 4 -10 4 11 4 9 4 -4 4 -23 4 11 4 23 4 -19 4 -15 4 14 4 7 4 1 4 -8 4 0 4 0 4 10 4 1 4 -15 4 8 4 1 4 6 4 -3 4 -11 4 8 4 -6 4 13 4 -2 4 -2 4 -7 4 -3 4 4 4 1 4 0 4 -4 4 0 4 4 4 0 4 -6 4 5 4 -7 4 16 4 -9 4 -3 4 13 4 -11 4 -7 4 6 4 5 4 -11 4 4 4 26 4 -29 4 1 4 9 4 12 4 -19 4 -2 4 9 4 6 4 -9 4 -3 4 2 4 1 4 -6 4 4 4 4 4 3 4 -9 4 4 4 5 4 -11 4 -3 4 10 4 -2 4 9 4 -16 4 3 4 0 4 0 4 1 4 7 4 -5 4 2 4 0 4 -4 4 4 4 -6 4 -5 4 6 4 -2 4 9 4 -3 4 1 4 4 4 -3 4 -13 4 16 4 5 4 -31 4 16 4 20 4 -1 4 -14 4 0 4 2 4 8 4 0 4 -12 4 2 4 7 4 2 4 -13 4 9 4 1 4 -6 4 9 4 -2 4 -16 4 12 4 12 4 -20 4 1 4 17 4 -21 4 -3 4 18 4 -6 4 -1 4 2 4 -3 4 1 4 -3 4 1 4 14 4 -11 4 -6 4 11 4 -7 4 -2 4 -5 4 -3 4 20 4 -5 4 -7 4 -4 4 7 4 8 4 3 4 -8 4 2 4 -8 4 8 4 1 4 -9 4 -1 4 3 4 4 4 8 4 1 4 -16 4 9 4 2 4 -12 4 -2 4 8 4 -1 4 -2 4 -1 4 8 4 -7 4 -7 4 6 4 7 4 -9 4 -3 4 16 4 -10 4 -11 4 9 4 7 4 -1 4 -6 4 9 4 7 4 -18 4 6 4 13 4 -9 4 -6 4 11 4 1 4 5 4 -14 4 -3 4 14 4 -2 4 -9 4 1 4 9 4 5 4 -5 4 -8 4 -3 4 0 4 12 4 -9 4 -9 4 -1 4 11 4 2 4 -6 4 -5 4 5 4 4 4 -2 4 4 4 -9 4 -6 4 4 4 14 4 -16 4 -4 4 9 4 0 4 2 4 -2 4 10 4 -2 4 -11 4 4 4 2 4 -8 4 2 4 9 4 3 4 -13 4 8 4 8 4 -12 4 -5 4 6 4 4 4 -5 4 -17 4 16 4 4 4 -11 4 -1 4 11 4 2 4 -13 4 8 4 8 4 -19 4 1 4 20 4 -4 4 -15 4 8 4 8 4 -14 4 2 4 1 4 -1 4 -4 4 5 4 9 4 0 4 -9 4 -10 4 7 4 9 4 -3 4 -10 4 6 4 11 4 -8 4 -9 4 11 4 -8 4 12 4 0 4 -14 4 4 4 4 4 0 4 -8 4 11 4 3 4 -11 4 -5 4 20 4 -4 4 -16 4 -1 4 12 4 1 4 8 4 -23 4 4 4 13 4 -7 4 -8 4 8 4 1 4 -2 4 1 4 6 4 -3 4 -6 4 9 4 -2 4 -11 4 4 4 6 4 3 4 -6 4 -8 4 3 4 1 4 2 4 -9 4 3 4 3 4 7 4 -3 4 -4 4 2 4 18 4 -9 4 -21 4 2 4 15 4 -3 4 -7 4 7 4 9 4 -18 4 8 4 -1 4 5 4 0 4 -3 4 10 4 -7 4 -14 4 9 4 19 4 -11 4 -5 4 9 4 -5 4 1 4 -3 4 9 4 5 4 -16 4 9 4 -3 4 -3 4 9 4 7 4 -15 4 -4 4 2 4 4 4 5 4 3 4 -11 4 7 4 -6 4 3 4 12 4 -18 4 -3 4 18 4 -1 4 1 4 5 4 -17 4 7 4 9 4 -8 4 -10 4 8 4 6 4 0 4 -3 4 -1 4 -5 4 10 4 -3 4 -5 4 1 4 7 4 -7 4 3 4 -11 4 7 4 10 4 -12 4 -9 4 14 4 -4 4 -2 4 -4 4 0 4 15 4 -6 4 -13 4 -4 4 19 4 -15 4 -6 4 -1 4 12 4 -3 4 -2 4 7 4 -2 4 -2 4 0 4 -4 4 10 4 3 4 -1 4 3 4 -4 4 -5 4 -7 4 1 4 -2 4 12 4 -1 4 -13 4 2 4 16 4 -12 4 -4 4 -1 4 1 4 16 4 -15 4 -11 4 18 4 0 4 -8 4 -4 4 18 4 -13 4 1 4 8 4 -8 4 -7 4 0 4 17 4 -17 4 -5 4 20 4 -6 4 -5 4 6 4 -7 4 4 4 0 4 -4 4 1 4 2 4 1 4 -4 4 5 4 2 4 0 4 -4 4 0 4 5 4 -1 4 -9 4 -4 4 11 4 3 4 4 4 -11 4 6 4 10 4 -17 4 -2 4 11 4 3 4 -15 4 2 4 15 4 -2 4 -4 4 -4 4 6 4 5 4 5 4 -10 4 -8 4 15 4 3 4 -9 4 1 4 7 4 -11 4 -4 4 -5 4 17 4 4 4 -9 4 1 4 1 4 -1 4 5 4 -3 4 6 4 -16 4 11 4 2 4 5 4 2 4 -5 4 -5 4 7 4 -11 4 15 4 4 4 -1 4 -8 4 6 4 -6 4 -10 4 12 4 13 4 -15 4 -10 4 10 4 3 4 -5 4 -1 4 5 4 -1 4 -7 4 0 4 17 4 -15 4 1 4 -6 4 10 4 2 4 7 4 -8 4 -5 4 1 4 15 4 -7 4 -6 4 4 4 2 4 7 4 -11 4 -13 4 12 4 1 4 -8 4 5 4 0 4 18 4 -22 4 5 4 -1 4 4 4 -1 4 -1 4 4 4 -6 4 -8 4 24 4 -6 4 -16 4 6 4 -1 4 9 4 -4 4 -4 4 3 4 -4 4 7 4 2 4 2 4 -3 4 -4 4 3 4 10 4 -4 4 -11 4 2 4 11 4 -1 4 -13 4 0 4 10 4 -7 4 2 4 -8 4 2 4 6 4 7 4 -11 4 10 4 -3 4 -6 4 -1 4 6 4 -1 4 -7 4 1 4 0 4 10 4 -10 4 -5 4 6 4 5 4 -4 4 3 4 -17 4 18 4 1 4 -10 4 -9 4 18 4 -3 4 2 4 -9 4 0 4 11 4 -2 4 -7 4 4 4 7 4 -2 4 -9 4 -11 4 12 4 9 4 -13 4 6 4 -17 4 14 4 2 4 0 4 -14 4 1 4 15 4 -10 4 2 4 2 4 3 4 -15 4 3 4 4 4 -10 4 14 4 9 4 -3 4 -16 4 3 4 14 4 -2 4 -2 4 -2 4 -5 4 -3 4 -16 4 30 4 9 4 -29 4 7 4 1 4 5 4 8 4 0 4 -10 4 2 4 8 4 3 4 -14 4 -2 4 7 4 0 4 -7 4 -3 4 3 4 9 4 -1 4 -12 4 8 4 -12 4 4 4 2 4 5 4 -14 4 12 4 9 4 -6 4 -14 4 7 4 9 4 3 4 -4 4 -7 4 2 4 14 4 -9 4 -16 4 14 4 15 4 -14 4 -3 4 5 4 3 4 -11 4 4 4 -4 4 7 4 3 4 1 4 -19 4 5 4 13 4 -2 4 -4 4 2 4 1 4 -7 4 4 4 5 4 0 4 -7 4 6 4 2 4 -2 4 -15 4 10 4 10 4 -14 4 10 4 4 4 -7 4 1 4 -6 4 0 4 9 4 -14 4 2 4 21 4 -8 4 -25 4 9 4 21 4 -11 4 -9 4 6 4 16 4 -14 4 -4 4 2 4 9 4 -1 4 -7 4 5 4 -3 4 -16 4 13 4 20 4 -28 4 7 4 10 4 5 4 -10 4 3 4 -8 4 9 4 -5 4 -10 4 5 4 11 4 2 4 -3 4 6 4 -2 4 -4 4 0 4 -4 4 4 4 -3 4 0 4 16 4 -24 4 -15 4 26 4 17 4 -16 4 -14 4 7 4 1 4 -6 4 7 4 -3 4 -16 4 15 4 11 4 -13 4 3 4 11 4 3 4 2 4 -7 4 -11 4 -3 4 23 4 -7 4 -38 4 14 4 43 4 9 4 -53 4 -24 4 54 4 34 4 -68 4 2 4 31 4 3 4 -39 4 22 4 18 4 33 4 -58 4 -16 4 17 4 18 4 -8 4 -18 4 35 4 -16 4 -16 4 29 4 -12 4 -26 4 37 4 8 4 -51 4 33 4 -13 4 -10 4 33 4 22 4 -73 4 8 4 57 4 5 4 -88 4 21 4 122 4 -52 4 -87 4 2 4 96 4 -18 4 -58 4 3 4 73 4 -19 4 -74 4 11 4 39 4 3 4 16 4 -24 4 -36 4 70 4 -80 4 31 4 42 4 -11 4 -41 4 -3 4 109 4 -71 4 -81 4 82 4 123 4 -161 4 18 4 29 4 16 4 -1 4 0 4 -39 4 -24 4 -38 4 107 4 -55 4 -15 4 -23 4 76 4 25 4 -117 4 74 4 33 4 -54 4 -82 4 98 4 15 4 -58 4 16 4 40 4 -8 4 1 4 -9 4 -8 4 25 4 -11 4 -6 4 -5 4 3 4 7 4 1 4 -11 4 3 4 3 4 10 4 -5 4 -16 4 14 4 5 4 -12 4 8 4 -6 4 -7 4 15 4 -1 4 -7 4 -7 4 25 4 -3 4 -30 4 7 4 21 4 -5 4 -4 4 9 4 2 4 -6 4 4 4 -7 4 7 4 -2 4 1 4 -9 4 -2 4 6 4 10 4 -13 4 2 4 1 4 -4 4 6 4 7 4 -9 4 9 4 -15 4 8 4 10 4 -7 4 -2 4 5 4 -2 4 0 4 -3 4 -1 4 4 4 -1 4 -4 4 5 4 7 4 4 4 -15 4 -6 4 12 4 3 4 -10 4 1 4 8 4 -4 4 2 4 -8 4 11 4 -3 4 2 4 -5 4 -3 4 0 4 6 4 4 4 -6 4 0 4 -25 4 20 4 11 4 -10 4 0 4 4 4 0 4 -9 4 1 4 6 4 5 4 -14 4 -8 4 19 4 -1 4 -10 4 8 4 -1 4 -9 4 6 4 14 4 -19 4 -2 4 11 4 -3 4 1 4 -5 4 -6 4 8 4 3 4 -11 4 3 4 -3 4 2 4 2 4 2 4 3 4 -3 4 -16 4 5 4 10 4 -2 4 3 4 -8 4 5 4 -3 4 -1 4 4 4 14 4 -16 4 -2 4 -2 4 1 4 10 4 11 4" transform="scale(.1)" fill="none" stroke="#000" stroke-width="5.9"/>
<path d="M1685 11974l1 10 1 10 0 10 0 10 0 10 -1 10 -1 10 2 10 -1 10 0 10 1 10 -1 10 1 10 0 10 -1 10 -1 10 1 10 1 10 0 10 -2 10 1 10 0 10 1 10 -1 10 0 10 -1 10 -1 10 -1 10 0 10 1 10 1 10 0 10 -2 10 -1 10 1 10 2 10 1 10 -1 10 -1 10 0 10 1 10 0 10 -1 10 0 10 0 10 0 10 0 10 -1 10 0 10 1 10 0 10 0 10 0 10 -1 10 0 10 0 10 -1 10 0 10 0 10 2 10 -1 10 0 10 -1 10 0 10 -1 10 1 10 -1 10 0 10 0 10 0 10 1 10 0 10 0 10 0 10 1 10 -1 10 0 10 1 10 1 10 0 10 -1 10 1 10 -1 10 -1 10 1 10 1 10 -1 10 0 10 0 10 0 10 0 10 1 10 -1 10 0 10 -2 10 1 10 0 10 0 10 0 10 -1 10 0 10 0 10 0 10 -1 10 0 10 1 10 2 10 0 10 -1 10 -2 10 -1 10 0 10 1 10 1 10 -1 10 0 10 0 10 0 10 0 10 -2 10 0 10 0 10 1 10 2 10 -1 10 -2 10 1 10 0 10 0 10 0 10 0 10 1 10 -2 10 -1 10 0 10 1 10 0 10 0 10 0 10 -1 10 2 10 1 10 -1 10 1 10 -1 10 0 10 1 10 0 10 0 10 1 10 0 10 -1 10 0 10 -1 10 0 10 1 10 0 10 2 10" transform="scale(.1)" fill="none" stroke="#555" stroke-width="5.5"/>
<path d="M1691 7610l8 4 -15 4 1 4 9 4 -12 4 -1 4 3 4 4 4 0 4 -4 4 2 4 4 4 6 4 -14 4 -6 4 14 4 -4 4 -15 4 12 4 6 4 -19 4 3 4 11 4 2 4 -12 4 -5 4 10 4 9 4 0 4 -7 4 -3 4 1 4 -8 4 0 4 6 4 4 4 -13 4 4 4 14 4 -8 4 -18 4 7 4 16 4 -14 4 4 4 8 4 -10 4 5 4 -5 4 6 4 0 4 -8 4 7 4 5 4 -3 4 -2 4 1 4 -5 4 0 4 6 4 7 4 -3 4 -20 4 9 4 3 4 8 4 -16 4 2 4 9 4 -3 4 -13 4 4 4 10 4 8 4 -6 4 -9 4 12 4 3 4 -3 4 -8 4 11 4 8 4 -20 4 4 4 13 4 -3 4 -13 4 0 4 8 4 -7 4 2 4 3 4 0 4 15 4 -13 4 -9 4 11 4 0 4 3 4 -9 4 1 4 16 4 -1 4 -21 4 0 4 18 4 0 4 -11 4 -9 4 14 4 5 4 -3 4 -11 4 -3 4 16 4 2 4 -5 4 -6 4 12 4 1 4 -4 4 -9 4 4 4 -3 4 15 4 1 4 -22 4 8 4 2 4 5 4 2 4 -15 4 4 4 20 4 -14 4 2 4 4 4 -4 4 -5 4 5 4 8 4 -13 4 -2 4 2 4 5 4 5 4 -4 4 -3 4 -6 4 7 4 3 4 5 4 -8 4 -9 4 4 4 14 4 -16 4 7 4 9 4 -11 4 -9 4 12 4 7 4 -11 4 -5 4 1 4 2 4 3 4 -9 4 -1 4 20 4 -3 4 -7 4 3 4 -3 4 -7 4 4 4 6 4 -10 4 3 4 1 4 13 4 -16 4 -13 4 24 4 -3 4 -4 4 4 4 9 4 -13 4 -7 4 23 4 -12 4 0 4 -10 4 8 4 7 4 -6 4 -13 4 18 4 -9 4 -5 4 9 4 -2 4 -10 4 10 4 1 4 -5 4 -6 4 22 4 -13 4 -16 4 10 4 3 4 9 4 -6 4 0 4 -2 4 6 4 4 4 -4 4 -4 4 6 4 -2 4 -10 4 14 4 -6 4 -5 4 5 4 -8 4 0 4 5 4 3 4 -2 4 9 4 -2 4 1 4 2 4 -12 4 -7 4 17 4 3 4 -9 4 5 4 -4 4 -2 4 -5 4 2 4 -2 4 8 4 -3 4 -3 4 -1 4 11 4 -10 4 -12 4 16 4 0 4 -6 4 7 4 -3 4 11 4 -12 4 0 4 15 4 -3 4 0 4 -4 4 -9 4 7 4 6 4 -5 4 0 4 -2 4 6 4 1 4 -8 4 -7 4 0 4 7 4 0 4 -7 4 -1 4 -3 4 18 4 -14 4 -5 4 22 4 -16 4 -6 4 13 4 3 4 -24 4 11 4 18 4 -8 4 -20 4 14 4 5 4 4 4 -2 4 -22 4 14 4 12 4 -16 4 -2 4 12 4 -1 4 -9 4 -3 4 3 4 4 4 -9 4 12 4 4 4 -2 4 -16 4 0 4 13 4 -4 4 -4 4 4 4 -11 4 -2 4 2 4 18 4 -16 4 0 4 -5 4 16 4 0 4 -6 4 0 4 3 4 -10 4 9 4 -7 4 0 4 1 4 10 4 0 4 -20 4 10 4 6 4 3 4 -16 4 12 4 2 4 0 4 -1 4 -1 4 9 4 -9 4 2 4 5 4 -6 4 -5 4 -1 4 14 4 -9 4 -9 4 10 4 -2 4 -5 4 4 4 -1 4 1 4 -3 4 9 4 -12 4 1 4 11 4 8 4 -15 4 5 4 1 4 8 4 -10 4 -8 4 5 4 9 4 -6 4 6 4 -4 4 6 4 -5 4 -3 4 -1 4 1 4 15 4 -8 4 -16 4 11 4 4 4 1 4 -4 4 1 4 2 4 3 4 4 4 -13 4 -4 4 14 4 9 4 -5 4 -10 4 4 4 -2 4 4 4 -1 4 9 4 -10 4 -9 4 10 4 0 4 4 4 -9 4 13 4 2 4 -13 4 5 4 21 4 -18 4 -5 4 13 4 -1 4 -12 4 -1 4 7 4 5 4 -10 4 1 4 8 4 -13 4 11 4 9 4 -14 4 6 4 -1 4 3 4 -7 4 3 4 0 4 4 4 4 4 -2 4 -9 4 10 4 -2 4 -8 4 9 4 -7 4 -8 4 6 4 22 4 -31 4 1 4 17 4 4 4 -25 4 14 4 14 4 -12 4 0 4 10 4 -5 4 -13 4 8 4 9 4 -15 4 -8 4 3 4 15 4 -7 4 9 4 -11 4 3 4 0 4 -2 4 4 4 4 4 -2 4 -12 4 7 4 -1 4 2 4 -3 4 5 4 -5 4 -5 4 3 4 14 4 -10 4 -8 4 -1 4 6 4 0 4 1 4 -1 4 4 4 -1 4 0 4 -4 4 8 4 -15 4 4 4 12 4 -7 4 -3 4 5 4 6 4 1 4 -5 4 -2 4 8 4 2 4 -19 4 12 4 16 4 -16 4 -1 4 7 4 -14 4 -8 4 9 4 4 4 6 4 -12 4 -4 4 19 4 7 4 -15 4 -13 4 11 4 -4 4 -1 4 20 4 -21 4 -4 4 3 4 13 4 -4 4 -7 4 8 4 -2 4 2 4 2 4 -14 4 5 4 7 4 -3 4 8 4 -6 4 -12 4 5 4 11 4 -4 4 -18 4 -3 4 25 4 -1 4 -17 4 6 4 4 4 -6 4 -12 4 15 4 9 4 -15 4 -8 4 8 4 7 4 -11 4 -1 4 8 4 -10 4 8 4 -6 4 12 4 -1 4 -1 4 -6 4 -1 4 2 4 -6 4 3 4 10 4 -5 4 -13 4 15 4 -1 4 -5 4 3 4 0 4 -1 4 -3 4 3 4 -4 4 -5 4 13 4 3 4 -12 4 -6 4 -2 4 15 4 -5 4 -9 4 13 4 1 4 -9 4 -1 4 12 4 0 4 -7 4 -10 4 5 4 10 4 1 4 -4 4 -3 4 5 4 -6 4 4 4 5 4 -7 4 -6 4 14 4 -3 4 -6 4 2 4 3 4 0 4 -3 4 2 4 -2 4 12 4 -15 4 7 4 5 4 -4 4 -3 4 -12 4 10 4 5 4 -16 4 4 4 20 4 -15 4 -13 4 15 4 13 4 -11 4 -13 4 16 4 13 4 -14 4 -7 4 7 4 -2 4 -2 4 15 4 2 4 -16 4 4 4 7 4 3 4 -2 4 -10 4 -7 4 20 4 -11 4 -11 4 15 4 -2 4 0 4 9 4 -4 4 -2 4 7 4 -12 4 11 4 -1 4 -9 4 5 4 6 4 0 4 -8 4 1 4 10 4 -15 4 6 4 7 4 -7 4 3 4 -4 4 -1 4 5 4 -2 4 -2 4 3 4 -6 4 5 4 -4 4 -11 4 9 4 13 4 -4 4 -17 4 8 4 6 4 -11 4 4 4 0 4 -6 4 5 4 8 4 -15 4 -4 4 24 4 -7 4 -16 4 14 4 5 4 -11 4 5 4 1 4 -5 4 1 4 6 4 -10 4 0 4 15 4 -13 4 -4 4 6 4 4 4 -4 4 -1 4 5 4 -7 4 5 4 -9 4 10 4 -1 4 -1 4 -9 4 4 4 6 4 -4 4 -5 4 13 4 3 4 -12 4 -13 4 18 4 14 4 -14 4 -10 4 5 4 23 4 -12 4 -10 4 17 4 0 4 -10 4 1 4 10 4 -9 4 -2 4 6 4 7 4 -15 4 -4 4 13 4 11 4 -10 4 -13 4 2 4 11 4 1 4 -10 4 3 4 6 4 -5 4 -4 4 10 4 0 4 -21 4 8 4 -5 4 9 4 7 4 -9 4 -2 4 6 4 -4 4 0 4 17 4 -10 4 -1 4 -14 4 8 4 -3 4 -6 4 9 4 10 4 -14 4 4 4 5 4 -17 4 15 4 7 4 -23 4 22 4 1 4 9 4 -14 4 -18 4 13 4 21 4 -40 4 21 4 7 4 -19 4 11 4 11 4 -31 4 13 4 2 4 -7 4 -13 4 54 4 4 4 -74 4 7 4 57 4 -16 4 -27 4 -7 4 58 4 -9 4 -42 4 -18 4 42 4 16 4 -7 4 -19 4 -22 4 17 4 49 4 -66 4 -11 4 54 4 36 4 -80 4 -46 4 66 4 55 4 -67 4 21 4 -12 4 1 4 -4 4 17 4 1 4 -13 4 6 4 1 4 24 4 -4 4 1 4 -9 4 16 4 -51 4 -5 4 50 4 -25 4 -57 4 83 4 18 4 -41 4 -1 4 29 4 -47 4 24 4 12 4 -40 4 26 4 11 4 -33 4 -27 4 50 4 38 4 12 4 -90 4 21 4 18 4 21 4 8 4 -56 4 51 4 28 4 -59 4 -42 4 20 4 31 4 1 4 0 4 -10 4 0 4 11 4 3 4 -10 4 -2 4 15 4 -15 4 8 4 4 4 -17 4 3 4 18 4 -12 4 6 4 -5 4 4 4 -14 4 13 4 2 4 -11 4 -8 4 21 4 -11 4 5 4 -6 4 -7 4 7 4 8 4 -4 4 -13 4 2 4 9 4 16 4 -18 4 3 4 2 4 -6 4 -8 4 21 4 -11 4 -2 4 -6 4 0 4 1 4 1 4 22 4 -15 4 -14 4 13 4 -5 4 2 4 6 4 -5 4 -9 4 1 4 21 4 2 4 -6 4 -16 4 2 4 19 4 -11 4 -1 4 12 4 -11 4 0 4 4 4 -16 4 5 4 4 4 9 4 -13 4 9 4 3 4 -2 4 -8 4 6 4 2 4 -12 4 9 4 7 4 -10 4 -7 4 5 4 16 4 -1 4 -20 4 -4 4 15 4 16 4 -12 4 -7 4 -3 4 3 4 -12 4 7 4 13 4 -1 4 -4 4 4 4 -2 4 13 4 -20 4 -2 4 10 4 5 4 -11 4 2 4 8 4 -8 4 -4 4 0 4 10 4 -12 4 3 4 0 4 -5 4 7 4 -2 4 2 4 2 4 1 4 -6 4 -4 4 19 4 -13 4 1 4 3 4 5 4 -4 4 -1 4 1 4 7 4 -5 4 2 4 0 4 0 4 -8 4 -4 4 16 4 4 4 -21 4 -8 4 25 4 -2 4 -6 4 2 4 -3 4 -1 4 -5 4 5 4 -1 4 0 4 8 4 -2 4 -2 4 -15 4 3 4 12 4 0 4 -6 4 2 4 2 4 -3 4 4 4 5 4 -17 4 3 4 16 4 -10 4 -2 4 -5 4 11 4 -6 4 0 4 10 4 -5 4 -3 4 0 4 -5 4 -7 4 2 4" transform="scale(.1)" fill="none" stroke="#000" stroke-width="5.9"/>
<path d="M1930 11982l-1 10 1 10 0 10 0 10 -2 10 0 10 1 10 0 10 0 10 1 10 -1 10 0 10 1 10 -1 10 0 10 1 10 1 10 0 10 -1 10 1 10 0 10 -1 10 1 10 1 10 -2 10 0 10 0 10 1 10 0 10 -1 10 -1 10 1 10 0 10 -1 10 1 10 -1 10 0 10 0 10 0 10 0 10 0 10 0 10 0 10 -1 10 0 10 -2 10 0 10 1 10 -1 10 2 10 0 10 -1 10 1 10 1 10 1 10 -1 10 -1 10 -2 10 0 10 1 10 0 10 0 10 -1 10 1 10 1 10 2 10 1 10 -1 10 0 10 -2 10 1 10 -1 10 -1 10 1 10 0 10 1 10 -2 10 0 10 0 10 0 10 -1 10 0 10 -1 10 1 10 -1 10 0 10 0 10 -1 10 -1 10 2 10 3 10 -1 10 0 10 -1 10 -2 10 0 10 0 10 1 10 1 10 -1 10 -1 10 1 10 0 10 1 10 -1 10 0 10 0 10 0 10 0 10 0 10 -1 10 0 10 0 10 0 10 -1 10 0 10 2 10 1 10 0 10 -1 10 -1 10 1 10 -1 10 -1 10 1 10 0 10 -1 10 0 10 -1 10 0 10 1 10 2 10 -1 10 -1 10 0 10 -1 10 -1 10 1 10 2 10 0 10 -1 10 0 10 0 10 1 10 1 10 -1 10 -1 10 1 10 0 10 -1 10 0 10 1 10 1 10 0 10 0 10 0 10 0 10 -1 10" transform="scale(.1)" fill="none" stroke="#555" stroke-width="5.5"/>
<path d="M1939 7610l12 4 -16 4 -2 4 6 4 -4 4 6 4 2 4 -5 4 -14 4 1 4 12 4 -2 4 0 4 -7 4 6 4 9 4 -7 4 -18 4 10 4 9 4 -10 4 -3 4 7 4 1 4 3 4 -3 4 -7 4 0 4 16 4 -9 4 -8 4 5 4 6 4 -3 4 -13 4 12 4 0 4 -2 4 0 4 2 4 -3 4 -3 4 4 4 -5 4 7 4 4 4 -15 4 12 4 9 4 -10 4 -2 4 -8 4 0 4 -1 4 3 4 13 4 -11 4 5 4 1 4 -6 4 -15 4 9 4 11 4 -5 4 0 4 3 4 -2 4 0 4 -9 4 5 4 12 4 -15 4 -6 4 9 4 8 4 -2 4 -14 4 12 4 0 4 -1 4 6 4 3 4 -12 4 -1 4 6 4 -5 4 -2 4 8 4 -11 4 3 4 5 4 -6 4 6 4 -2 4 1 4 3 4 0 4 -1 4 -7 4 5 4 5 4 -7 4 -1 4 1 4 1 4 -7 4 -3 4 12 4 2 4 -7 4 4 4 7 4 -12 4 1 4 5 4 6 4 -3 4 -19 4 19 4 2 4 -15 4 6 4 7 4 -6 4 2 4 9 4 -5 4 0 4 -5 4 2 4 15 4 -19 4 -10 4 8 4 12 4 -8 4 6 4 5 4 -5 4 -8 4 0 4 -2 4 15 4 -13 4 10 4 -3 4 -11 4 15 4 11 4 -16 4 -10 4 4 4 12 4 10 4 -18 4 -7 4 3 4 14 4 -4 4 -2 4 3 4 1 4 -6 4 6 4 0 4 1 4 3 4 -3 4 -6 4 12 4 -9 4 2 4 -4 4 5 4 -1 4 1 4 13 4 -16 4 -1 4 -1 4 23 4 -10 4 -23 4 17 4 18 4 -17 4 -11 4 2 4 8 4 6 4 -14 4 0 4 9 4 -6 4 0 4 -2 4 11 4 0 4 0 4 -2 4 0 4 -10 4 7 4 -3 4 4 4 -4 4 -6 4 7 4 3 4 -7 4 -6 4 18 4 3 4 -19 4 1 4 18 4 -3 4 -2 4 2 4 -10 4 0 4 4 4 -2 4 -10 4 8 4 4 4 7 4 -13 4 1 4 -1 4 2 4 9 4 -2 4 -13 4 8 4 6 4 -3 4 -4 4 -11 4 10 4 5 4 -6 4 -4 4 12 4 4 4 -14 4 2 4 14 4 9 4 -22 4 -9 4 18 4 0 4 -5 4 14 4 -5 4 -12 4 0 4 9 4 -2 4 4 4 -10 4 7 4 3 4 -10 4 3 4 15 4 -9 4 -3 4 -8 4 9 4 12 4 -16 4 -6 4 20 4 8 4 -18 4 -16 4 13 4 9 4 -8 4 4 4 -3 4 -3 4 4 4 -5 4 3 4 3 4 -17 4 5 4 9 4 -7 4 -15 4 19 4 5 4 1 4 -14 4 5 4 9 4 1 4 -11 4 -1 4 8 4 -2 4 -5 4 12 4 -5 4 -2 4 -1 4 1 4 -2 4 -7 4 19 4 -11 4 -6 4 4 4 1 4 -5 4 14 4 -2 4 -15 4 15 4 -9 4 -5 4 2 4 2 4 10 4 -13 4 -10 4 12 4 0 4 1 4 13 4 -6 4 -10 4 0 4 11 4 10 4 -18 4 0 4 19 4 -11 4 -15 4 7 4 13 4 -13 4 -2 4 10 4 -7 4 -7 4 10 4 2 4 6 4 -3 4 2 4 -7 4 13 4 -18 4 1 4 11 4 -2 4 -4 4 -10 4 6 4 5 4 -2 4 -7 4 -2 4 17 4 -2 4 -10 4 -6 4 4 4 2 4 -2 4 8 4 -4 4 -13 4 8 4 18 4 -18 4 2 4 8 4 -12 4 7 4 4 4 -12 4 10 4 1 4 1 4 -20 4 5 4 6 4 -4 4 4 4 -2 4 12 4 -14 4 -5 4 2 4 -1 4 0 4 -2 4 5 4 3 4 -6 4 -5 4 7 4 15 4 -17 4 4 4 -3 4 7 4 6 4 -13 4 1 4 0 4 4 4 -2 4 4 4 -9 4 3 4 12 4 -4 4 -2 4 -2 4 -11 4 15 4 4 4 -7 4 -1 4 10 4 -5 4 -4 4 3 4 16 4 -13 4 -15 4 -2 4 20 4 -4 4 -1 4 -11 4 3 4 6 4 0 4 -1 4 -5 4 1 4 7 4 9 4 -21 4 -2 4 18 4 -2 4 -12 4 2 4 -1 4 12 4 0 4 -7 4 -1 4 -1 4 1 4 0 4 -7 4 -1 4 13 4 -3 4 -10 4 6 4 7 4 -7 4 -8 4 3 4 4 4 11 4 -12 4 5 4 6 4 -5 4 -6 4 7 4 -16 4 19 4 -2 4 -9 4 -4 4 -7 4 16 4 14 4 -15 4 -6 4 13 4 2 4 -19 4 4 4 20 4 -15 4 -1 4 -2 4 4 4 3 4 13 4 -13 4 -1 4 -2 4 10 4 6 4 -20 4 8 4 3 4 -4 4 8 4 4 4 -5 4 -5 4 4 4 5 4 -13 4 9 4 14 4 -9 4 -17 4 4 4 19 4 -9 4 -5 4 -2 4 2 4 5 4 -6 4 -5 4 7 4 3 4 4 4 -13 4 5 4 3 4 -5 4 2 4 2 4 5 4 -18 4 25 4 -6 4 -6 4 2 4 6 4 -13 4 -15 4 25 4 -8 4 -9 4 11 4 2 4 -3 4 2 4 -4 4 4 4 -6 4 -1 4 3 4 0 4 -1 4 3 4 3 4 -8 4 6 4 -15 4 3 4 14 4 0 4 -6 4 -7 4 -1 4 8 4 8 4 -11 4 0 4 0 4 2 4 -2 4 -7 4 7 4 -2 4 -1 4 10 4 -8 4 -5 4 6 4 -9 4 11 4 5 4 -8 4 -3 4 9 4 -1 4 -2 4 2 4 -9 4 6 4 9 4 2 4 -14 4 0 4 12 4 1 4 -4 4 -5 4 -5 4 6 4 -5 4 16 4 -4 4 -15 4 2 4 17 4 -16 4 3 4 16 4 -13 4 -14 4 7 4 9 4 7 4 -4 4 -5 4 -4 4 7 4 -2 4 -1 4 -7 4 16 4 -1 4 -13 4 8 4 -3 4 11 4 -15 4 6 4 12 4 -20 4 14 4 6 4 -9 4 -2 4 3 4 -7 4 5 4 11 4 -1 4 -13 4 3 4 -4 4 7 4 -3 4 -1 4 -1 4 -8 4 6 4 0 4 8 4 2 4 -12 4 -5 4 12 4 8 4 -11 4 -8 4 8 4 1 4 -4 4 8 4 -2 4 -3 4 -2 4 -3 4 1 4 -6 4 21 4 -7 4 -5 4 0 4 5 4 -7 4 -10 4 12 4 9 4 -6 4 -2 4 -3 4 -2 4 12 4 -5 4 -1 4 -1 4 1 4 4 4 -13 4 10 4 1 4 -13 4 8 4 2 4 -2 4 -1 4 -6 4 6 4 -3 4 -6 4 6 4 -3 4 5 4 -4 4 4 4 -7 4 1 4 8 4 3 4 -13 4 -2 4 11 4 0 4 -5 4 -10 4 3 4 1 4 12 4 -7 4 -3 4 5 4 -2 4 4 4 -3 4 1 4 -3 4 1 4 9 4 -12 4 -10 4 16 4 1 4 -13 4 4 4 15 4 -11 4 -3 4 0 4 16 4 1 4 -17 4 6 4 1 4 -4 4 2 4 -5 4 7 4 -5 4 -3 4 -3 4 1 4 9 4 -4 4 1 4 5 4 -6 4 24 4 -24 4 -7 4 1 4 12 4 -1 4 0 4 -11 4 5 4 15 4 -5 4 -13 4 -2 4 13 4 7 4 -15 4 -6 4 17 4 9 4 -7 4 -9 4 -5 4 4 4 -8 4 13 4 1 4 -2 4 3 4 -2 4 -10 4 -4 4 6 4 6 4 -15 4 16 4 4 4 -13 4 5 4 1 4 -1 4 21 4 -22 4 -7 4 24 4 10 4 -38 4 -10 4 35 4 12 4 -13 4 -7 4 5 4 1 4 -10 4 -11 4 21 4 -3 4 2 4 9 4 -7 4 -20 4 12 4 19 4 -28 4 -17 4 44 4 5 4 -29 4 22 4 1 4 -11 4 1 4 13 4 -48 4 66 4 -6 4 -54 4 5 4 7 4 33 4 31 4 -17 4 -84 4 76 4 32 4 -59 4 -38 4 48 4 25 4 -34 4 -2 4 20 4 -5 4 -15 4 0 4 15 4 -4 4 -14 4 15 4 2 4 -12 4 7 4 -6 4 -1 4 4 4 -4 4 -9 4 11 4 -11 4 -1 4 10 4 -15 4 1 4 14 4 8 4 -10 4 -8 4 4 4 5 4 -6 4 6 4 -2 4 -3 4 1 4 -3 4 -6 4 16 4 9 4 -18 4 -9 4 13 4 9 4 -12 4 2 4 1 4 -7 4 7 4 -2 4 -17 4 24 4 -4 4 -9 4 10 4 -6 4 -2 4 15 4 -18 4 5 4 8 4 -9 4 -5 4 -2 4 15 4 10 4 -20 4 -8 4 21 4 19 4 -26 4 -5 4 23 4 -15 4 19 4 -21 4 -1 4 23 4 -16 4 -8 4 7 4 10 4 -16 4 6 4 1 4 -1 4 4 4 -4 4 -6 4 5 4 10 4 -1 4 -8 4 11 4 -11 4 -10 4 9 4 5 4 5 4 -8 4 3 4 4 4 3 4 -19 4 14 4 8 4 -11 4 5 4 9 4 -15 4 5 4 6 4 -10 4 -5 4 1 4 12 4 2 4 -23 4 3 4 17 4 3 4 -18 4 3 4 7 4 1 4 -12 4 9 4 4 4 -7 4 18 4 -27 4 8 4 12 4 1 4 -14 4 8 4 -2 4 -11 4 10 4 8 4 -21 4 4 4 12 4 -8 4 -1 4 13 4 3 4 -12 4 -2 4 11 4 -8 4 -5 4 13 4 5 4 -9 4 7 4 -12 4 -6 4 17 4 -1 4 -13 4 0 4 0 4 17 4 -9 4 -3 4 -1 4 -3 4 0 4 17 4 -4 4 -16 4 -10 4 28 4 7 4 -19 4 -10 4 16 4 11 4 -16 4 -6 4 7 4 6 4 8 4 -21 4 -4 4 16 4 11 4 -28 4 -5 4 25 4 -9 4 -17 4 12 4 4 4 -5 4 3 4 -8 4 6 4 10 4 -14 4 3 4 2 4 -8 4 7 4 -9 4 13 4 -12 4 4 4 -19 4 18 4 12 4 -20 4 0 4 0 4 11 4 -1 4 -9 4 -2 4 5 4 6 4 -17 4 10 4 14 4 -4 4 -12 4 10 4 -9 4 5 4 -4 4 14 4 -12 4 8 4 -10 4 4 4 8 4 -9 4 4 4" transform="scale(.1)" fill="none" stroke="#000" stroke-width="5.9"/>
<path d="M2560 12064l3 10 -1 10 0 10 1 10 0 10 -3 10 -2 10 -1 10 1 10 1 10 1 10 -1 10 0 10 0 10 2 10 0 10 0 10 -1 10 0 10 0 10 0 10 1 10 -1 10 1 10 0 10 1 10 1 10 0 10 -1 10 -1 10 -1 10 -2 10 1 10 0 10 -1 10 1 10 1 10 1 10 0 10 2 10 1 10 0 10 0 10 0 10 2 10 -1 10 0 10 1 10 -1 10 0 10 0 10 0 10 -3 10 -1 10 0 10 0 10 -2 10 1 10 1 10 1 10 1 10 0 10 1 10 -2 10 0 10 0 10 3 10 1 10 1 10 -2 10 1 10 2 10 0 10 0 10 -1 10 -1 10 0 10 1 10 2 10 -1 10 -1 10 0 10 0 10 -1 10 -1 10 -2 10 2 10 0 10 2 10 1 10 0 10 0 10 1 10 -1 10 -2 10 -1 10 -1 10 -1 10 1 10 3 10 1 10 -3 10 -1 10 -1 10 1 10 -1 10 -1 10 0 10 1 10 -1 10 1 10 1 10 0 10 -1 10 0 10 0 10 2 10 0 10 -1 10 -2 10 0 10 -1 10 0 10 -1 10 2 10 0 10 0 10 -2 10 1 10 1 10 -2 10 0 10 0 10 0 10 2 10 0 10 -1 10 2 10 1 10 -1 10 -1 10 0 10 1 10 1 10 1 10 -1 10 0 10 -1 10 -1 10" transform="scale(.1)" fill="none" stroke="#555" stroke-width="5.5"/>
<path d="M2549 7610l14 4 -2 4 0 4 -9 4 0 4 5 4 -10 4 14 4 -7 4 -1 4 1 4 -2 4 -3 4 0 4 13 4 -10 4 -1 4 4 4 13 4 -11 4 -7 4 6 4 12 4 0 4 -10 4 -11 4 13 4 6 4 -3 4 -6 4 10 4 -4 4 -14 4 3 4 15 4 0 4 -15 4 6 4 10 4 -15 4 8 4 2 4 -6 4 2 4 -2 4 7 4 -7 4 -7 4 5 4 13 4 -16 4 4 4 -7 4 2 4 0 4 -1 4 4 4 2 4 -5 4 8 4 -1 4 -7 4 12 4 3 4 -6 4 2 4 4 4 -4 4 1 4 3 4 6 4 -13 4 -3 4 7 4 11 4 -6 4 -13 4 9 4 0 4 1 4 -9 4 8 4 12 4 -14 4 -4 4 4 4 -3 4 2 4 5 4 -5 4 -6 4 1 4 3 4 8 4 3 4 -9 4 5 4 -1 4 -2 4 -7 4 3 4 12 4 -13 4 -5 4 16 4 -1 4 -10 4 7 4 -3 4 1 4 7 4 -1 4 2 4 -8 4 8 4 1 4 -7 4 -12 4 12 4 10 4 -12 4 -2 4 12 4 -2 4 -13 4 8 4 4 4 -6 4 5 4 -7 4 3 4 -3 4 3 4 -12 4 2 4 2 4 6 4 -15 4 1 4 21 4 -7 4 -8 4 4 4 -2 4 7 4 -7 4 -2 4 7 4 -7 4 3 4 1 4 1 4 -11 4 12 4 -1 4 0 4 2 4 1 4 -2 4 0 4 -3 4 -6 4 2 4 7 4 -1 4 -5 4 -1 4 10 4 -16 4 1 4 5 4 -2 4 2 4 5 4 -1 4 -14 4 5 4 7 4 -3 4 -4 4 9 4 -13 4 5 4 2 4 1 4 0 4 -1 4 -7 4 2 4 1 4 5 4 6 4 -8 4 4 4 6 4 -5 4 -7 4 9 4 -4 4 6 4 -4 4 -6 4 1 4 6 4 -2 4 -2 4 -2 4 4 4 -3 4 1 4 8 4 -13 4 -9 4 20 4 2 4 -6 4 -15 4 14 4 11 4 -4 4 -14 4 3 4 6 4 9 4 -12 4 11 4 -4 4 -4 4 5 4 9 4 -9 4 -5 4 6 4 6 4 -8 4 8 4 -8 4 0 4 -6 4 11 4 -12 4 -2 4 2 4 2 4 7 4 -2 4 -12 4 -2 4 20 4 -5 4 -15 4 8 4 15 4 -12 4 -1 4 1 4 1 4 0 4 8 4 -11 4 2 4 4 4 -7 4 4 4 -3 4 -2 4 5 4 -3 4 3 4 6 4 -8 4 0 4 1 4 -3 4 1 4 -1 4 9 4 -10 4 2 4 4 4 3 4 -1 4 -1 4 -3 4 4 4 -3 4 5 4 -13 4 4 4 10 4 -2 4 -5 4 -4 4 13 4 -6 4 -3 4 3 4 8 4 -5 4 -10 4 15 4 10 4 -24 4 5 4 15 4 4 4 -16 4 -12 4 17 4 5 4 -2 4 -10 4 -1 4 13 4 -6 4 -16 4 9 4 0 4 6 4 11 4 -12 4 -3 4 -2 4 8 4 0 4 -7 4 4 4 0 4 -2 4 6 4 -5 4 -6 4 -5 4 11 4 12 4 -25 4 1 4 13 4 2 4 -12 4 1 4 5 4 -4 4 2 4 1 4 5 4 -7 4 2 4 0 4 -5 4 -1 4 16 4 -8 4 -17 4 10 4 2 4 -14 4 1 4 9 4 -3 4 1 4 9 4 8 4 -19 4 1 4 11 4 -1 4 -5 4 -4 4 4 4 3 4 -6 4 -1 4 -7 4 14 4 5 4 -10 4 -6 4 7 4 0 4 -2 4 5 4 -1 4 -4 4 4 4 -14 4 5 4 15 4 -12 4 -7 4 1 4 16 4 -4 4 -5 4 7 4 -1 4 2 4 -11 4 -3 4 13 4 -5 4 -9 4 10 4 2 4 1 4 2 4 -8 4 -10 4 12 4 -8 4 9 4 9 4 2 4 -20 4 10 4 2 4 11 4 -10 4 -5 4 7 4 5 4 -6 4 -7 4 0 4 9 4 1 4 -7 4 0 4 8 4 -9 4 1 4 5 4 1 4 -5 4 0 4 5 4 -6 4 5 4 -1 4 0 4 -2 4 -2 4 5 4 -1 4 -11 4 -2 4 19 4 1 4 -10 4 -1 4 3 4 -2 4 -2 4 8 4 3 4 -2 4 -7 4 3 4 0 4 2 4 -2 4 8 4 -11 4 -2 4 -3 4 9 4 8 4 -6 4 -6 4 6 4 -5 4 15 4 -5 4 -18 4 11 4 13 4 -5 4 -8 4 0 4 5 4 -3 4 -3 4 4 4 1 4 -7 4 -8 4 4 4 23 4 -19 4 -2 4 13 4 4 4 -11 4 -16 4 10 4 9 4 -1 4 0 4 -4 4 7 4 -2 4 -6 4 -1 4 5 4 10 4 -5 4 -22 4 24 4 -8 4 -9 4 6 4 11 4 -11 4 -7 4 4 4 7 4 -3 4 2 4 -6 4 0 4 -2 4 -3 4 9 4 -2 4 -3 4 14 4 -13 4 -2 4 -6 4 3 4 12 4 0 4 -8 4 -8 4 5 4 3 4 -7 4 6 4 -8 4 3 4 1 4 -2 4 6 4 0 4 -7 4 -6 4 21 4 -13 4 0 4 2 4 5 4 -3 4 5 4 -5 4 0 4 11 4 -8 4 -11 4 7 4 3 4 -1 4 -12 4 13 4 7 4 -7 4 -7 4 13 4 -3 4 -7 4 10 4 0 4 -4 4 4 4 4 4 -2 4 1 4 4 4 -1 4 -5 4 -5 4 15 4 -15 4 -4 4 2 4 14 4 -5 4 0 4 0 4 -4 4 8 4 6 4 -14 4 -7 4 9 4 5 4 -10 4 10 4 -6 4 -3 4 9 4 0 4 -4 4 7 4 -9 4 5 4 5 4 -6 4 -21 4 28 4 -1 4 -10 4 6 4 3 4 -5 4 -7 4 7 4 2 4 5 4 -6 4 -3 4 4 4 -4 4 -5 4 6 4 12 4 -7 4 -14 4 13 4 1 4 -8 4 2 4 4 4 -6 4 5 4 -10 4 2 4 5 4 -5 4 -2 4 7 4 5 4 -9 4 -5 4 5 4 0 4 4 4 -6 4 -1 4 1 4 13 4 -5 4 -15 4 2 4 10 4 -3 4 0 4 -3 4 -15 4 5 4 15 4 -4 4 -10 4 9 4 7 4 -11 4 -3 4 19 4 0 4 -14 4 -15 4 11 4 6 4 -23 4 13 4 13 4 -7 4 -2 4 -5 4 -6 4 17 4 13 4 -15 4 -12 4 3 4 18 4 -13 4 -5 4 2 4 -5 4 -5 4 30 4 -12 4 -20 4 8 4 16 4 -3 4 -10 4 -10 4 21 4 4 4 -28 4 19 4 14 4 -18 4 8 4 -14 4 2 4 24 4 -25 4 2 4 -6 4 8 4 6 4 -7 4 -1 4 24 4 -2 4 -24 4 -7 4 30 4 0 4 -27 4 -17 4 29 4 -5 4 -10 4 11 4 8 4 7 4 2 4 -21 4 9 4 6 4 -19 4 11 4 14 4 -23 4 2 4 15 4 -8 4 -1 4 6 4 -7 4 7 4 12 4 -6 4 -6 4 0 4 -21 4 14 4 3 4 26 4 -25 4 -6 4 26 4 4 4 -29 4 11 4 -7 4 -18 4 10 4 27 4 4 4 -28 4 -14 4 26 4 -1 4 1 4 -7 4 22 4 -39 4 3 4 28 4 4 4 -32 4 12 4 -11 4 24 4 -19 4 0 4 20 4 -8 4 1 4 -3 4 4 4 13 4 -21 4 -3 4 8 4 1 4 2 4 -7 4 4 4 7 4 -1 4 -7 4 1 4 -7 4 3 4 3 4 8 4 -14 4 8 4 6 4 -9 4 -3 4 7 4 -4 4 10 4 -8 4 -16 4 15 4 9 4 -5 4 -9 4 5 4 0 4 -5 4 1 4 8 4 -1 4 -6 4 8 4 -6 4 -1 4 13 4 -3 4 -9 4 8 4 8 4 -5 4 -2 4 -4 4 1 4 -3 4 1 4 11 4 -11 4 6 4 -3 4 4 4 -1 4 4 4 -10 4 1 4 7 4 3 4 -8 4 -6 4 0 4 12 4 3 4 -17 4 5 4 1 4 -4 4 3 4 -4 4 3 4 9 4 -5 4 -3 4 -8 4 1 4 14 4 -14 4 -11 4 24 4 5 4 -19 4 9 4 14 4 -11 4 -20 4 19 4 -5 4 3 4 7 4 -7 4 -12 4 2 4 27 4 -19 4 -17 4 19 4 6 4 -12 4 -10 4 9 4 2 4 0 4 -6 4 8 4 0 4 -14 4 12 4 -3 4 7 4 -4 4 -10 4 17 4 -2 4 -13 4 1 4 7 4 -8 4 12 4 4 4 -14 4 1 4 11 4 -5 4 -11 4 7 4 14 4 -2 4 -6 4 -8 4 7 4 4 4 -3 4 -9 4 2 4 8 4 0 4 -5 4 3 4 -1 4 -3 4 0 4 6 4 -8 4 9 4 4 4 -18 4 4 4 8 4 10 4 -16 4 -2 4 8 4 4 4 1 4 -8 4 6 4 10 4 -8 4 -5 4 11 4 2 4 3 4 -17 4 -3 4 9 4 9 4 -10 4 -2 4 9 4 -2 4 -4 4 -5 4 6 4 -2 4 2 4 0 4 2 4 -3 4 -2 4 -6 4 9 4 10 4 -14 4 0 4 0 4 10 4 -6 4 2 4 -2 4 3 4 3 4 -3 4 2 4 -14 4 3 4 14 4 1 4 -10 4 -4 4 10 4 0 4 -4 4 -12 4 8 4 3 4 -5 4 -3 4 -2 4 3 4 0 4 9 4 -5 4 -12 4 19 4 3 4 -12 4 -7 4 0 4 16 4 -6 4 -12 4 -3 4 23 4 -4 4 -16 4 -2 4 4 4 6 4 -10 4 -10 4 9 4 14 4 -14 4 -5 4 9 4 -7 4 13 4 -3 4 -10 4 5 4 6 4 -4 4 -6 4 13 4 -6 4 -9 4 -3 4 10 4 8 4 -9 4 -4 4 7 4 4 4 -7 4 2 4 -2 4 8 4 2 4 -2 4 -4 4 -2 4 -1 4 8 4 -6 4 0 4 1 4 15 4 -8 4 -15 4 21 4 -4 4 -4 4 -6 4 3 4 7 4 -6 4 -4 4 5 4 4 4 -5 4 -2 4 2 4 4 4 -4 4 -2 4 7 4 0 4 -11 4 2 4 4 4 1 4 7 4 -3 4 -2 4 -9 4 10 4 1 4 -11 4 6 4 10 4 -8 4 0 4 -5 4 9 4 1 4 -7 4 1 4 7 4 -8 4 -1 4 -2 4 -5 4 0 4 6 4 10 4 -3 4 -2 4 1 4 -2 4 -3 4 -6 4 3 4 4 4 3 4" transform="scale(.1)" fill="none" stroke="#000" stroke-width="5.9"/>
<path d="M2771 12138l3 10 0 10 -3 10 0 10 2 10 1 10 0 10 -1 10 0 10 0 10 0 10 1 10 0 10 1 10 0 10 -2 10 1 10 1 10 0 10 0 10 1 10 0 10 1 10 0 10 0 10 -1 10 1 10 0 10 1 10 0 10 2 10 -2 10 0 10 2 10 0 10 1 10 0 10 -2 10 2 10 2 10 -1 10 -2 10 -2 10 1 10 0 10 -1 10 1 10 -1 10 0 10 0 10 0 10 0 10 -1 10 1 10 0 10 1 10 0 10 2 10 -1 10 1 10 -3 10 -2 10 1 10 1 10 -1 10 0 10 -1 10 2 10 0 10 0 10 -1 10 0 10 1 10 -1 10 1 10 -1 10 -2 10 1 10 1 10 0 10 0 10 0 10 0 10 -1 10 -1 10 0 10 0 10 -1 10 1 10 0 10 -2 10 1 10 0 10 -1 10 1 10 -1 10 0 10 0 10 -1 10 -2 10 2 10 0 10 2 10 1 10 1 10 -1 10 -3 10 1 10 1 10 2 10 -1 10 1 10 -2 10 -2 10 1 10 1 10 1 10 0 10 1 10 -1 10 2 10 2 10 0 10 -1 10 1 10 0 10 0 10 -1 10 1 10 0 10 0 10 0 10 -1 10 -1 10 2 10 0 10 2 10 -1 10 -1 10 0 10 1 10 1 10" transform="scale(.1)" fill="none" stroke="#555" stroke-width="5.5"/>
<path d="M2767 7610l16 4 -12 4 -14 4 5 4 18 4 -5 4 -10 4 -7 4 19 4 11 4 -14 4 -16 4 10 4 0 4 4 4 1 4 -4 4 5 4 4 4 -4 4 -2 4 -9 4 15 4 -15 4 -1 4 20 4 -5 4 -9 4 -1 4 15 4 -5 4 -7 4 -4 4 24 4 -15 4 -21 4 15 4 6 4 -12 4 -4 4 16 4 20 4 -22 4 -13 4 3 4 7 4 12 4 -20 4 -4 4 14 4 3 4 6 4 -12 4 4 4 9 4 -5 4 -5 4 5 4 -22 4 10 4 -1 4 2 4 8 4 -17 4 15 4 10 4 -11 4 -13 4 4 4 5 4 -8 4 17 4 4 4 -9 4 -7 4 13 4 12 4 -31 4 3 4 19 4 -19 4 -3 4 21 4 17 4 -15 4 -32 4 4 4 25 4 13 4 -34 4 21 4 4 4 -12 4 -7 4 19 4 0 4 -17 4 17 4 -17 4 7 4 8 4 -6 4 -13 4 15 4 -3 4 -9 4 20 4 14 4 -31 4 -2 4 10 4 -2 4 9 4 -15 4 4 4 2 4 -5 4 19 4 -7 4 -10 4 8 4 14 4 2 4 -25 4 2 4 17 4 -14 4 -16 4 17 4 14 4 -10 4 -22 4 1 4 24 4 17 4 -34 4 -10 4 17 4 15 4 -16 4 -21 4 6 4 43 4 -18 4 -19 4 8 4 20 4 -11 4 -10 4 5 4 -5 4 2 4 6 4 -7 4 1 4 9 4 -2 4 -10 4 -19 4 23 4 -6 4 14 4 -5 4 -10 4 20 4 -6 4 4 4 -24 4 -9 4 32 4 -10 4 -10 4 -1 4 17 4 2 4 5 4 -17 4 2 4 5 4 -5 4 -7 4 10 4 6 4 -13 4 -6 4 12 4 2 4 0 4 6 4 -8 4 -6 4 8 4 0 4 8 4 -2 4 -20 4 13 4 14 4 -22 4 6 4 24 4 -25 4 -23 4 35 4 20 4 -32 4 -17 4 24 4 11 4 -18 4 -9 4 10 4 1 4 -14 4 15 4 -1 4 7 4 -12 4 -1 4 13 4 5 4 -19 4 -2 4 6 4 5 4 -4 4 -6 4 12 4 -3 4 4 4 -9 4 4 4 -5 4 -8 4 19 4 3 4 -7 4 1 4 1 4 0 4 1 4 -9 4 3 4 -4 4 -6 4 10 4 11 4 -15 4 -8 4 -1 4 13 4 -2 4 -13 4 -2 4 6 4 15 4 -12 4 9 4 -19 4 21 4 -3 4 -7 4 -23 4 32 4 18 4 -37 4 -13 4 33 4 5 4 -43 4 21 4 20 4 -4 4 -16 4 -7 4 39 4 -23 4 -22 4 28 4 -14 4 20 4 -6 4 3 4 -21 4 4 4 11 4 17 4 -22 4 -5 4 14 4 3 4 -10 4 -7 4 12 4 -1 4 -17 4 25 4 -4 4 -12 4 18 4 6 4 -29 4 4 4 24 4 -4 4 -16 4 8 4 9 4 -4 4 13 4 -30 4 5 4 17 4 0 4 0 4 -3 4 -19 4 13 4 24 4 -11 4 -12 4 0 4 2 4 5 4 10 4 -44 4 24 4 12 4 4 4 -8 4 -3 4 16 4 -13 4 -12 4 25 4 -1 4 2 4 -24 4 9 4 26 4 -24 4 1 4 23 4 2 4 -17 4 -9 4 1 4 -8 4 34 4 -4 4 -31 4 13 4 -2 4 3 4 -14 4 21 4 -12 4 -5 4 -3 4 -5 4 10 4 2 4 16 4 -26 4 -4 4 34 4 -16 4 -8 4 3 4 41 4 -26 4 -20 4 -11 4 26 4 15 4 -11 4 6 4 -19 4 -10 4 11 4 3 4 8 4 -3 4 -23 4 22 4 -10 4 -3 4 22 4 -31 4 -8 4 21 4 -24 4 31 4 29 4 -30 4 -35 4 13 4 26 4 4 4 -22 4 9 4 2 4 -5 4 25 4 2 4 -32 4 -15 4 17 4 30 4 0 4 -37 4 -12 4 48 4 -8 4 -20 4 -10 4 33 4 -2 4 -15 4 -8 4 -9 4 18 4 -4 4 -4 4 39 4 -22 4 0 4 -32 4 44 4 -26 4 -3 4 -17 4 28 4 14 4 -17 4 -13 4 -9 4 34 4 -9 4 -11 4 -26 4 22 4 24 4 0 4 -53 4 54 4 5 4 -29 4 -13 4 19 4 30 4 -20 4 2 4 -14 4 13 4 -1 4 10 4 -8 4 -26 4 -6 4 45 4 -6 4 -1 4 -31 4 3 4 41 4 -22 4 -29 4 29 4 5 4 -30 4 44 4 -14 4 -70 4 62 4 12 4 -26 4 9 4 9 4 13 4 -10 4 -47 4 44 4 5 4 -3 4 -40 4 43 4 20 4 -13 4 -45 4 15 4 39 4 -32 4 -26 4 46 4 4 4 -38 4 3 4 4 4 46 4 -24 4 -53 4 -5 4 75 4 -46 4 -3 4 21 4 42 4 -47 4 -18 4 27 4 -15 4 15 4 1 4 5 4 -50 4 62 4 -10 4 -35 4 24 4 23 4 -44 4 12 4 4 4 -22 4 30 4 5 4 -40 4 37 4 5 4 -19 4 -32 4 67 4 11 4 -52 4 -3 4 40 4 -7 4 -28 4 24 4 -35 4 -6 4 9 4 52 4 -14 4 4 4 -67 4 7 4 67 4 -52 4 -15 4 43 4 4 4 12 4 -29 4 17 4 -61 4 1 4 72 4 -40 4 29 4 18 4 -28 4 -31 4 101 4 12 4 -132 4 -21 4 78 4 54 4 -48 4 -33 4 -13 4 21 4 -24 4 46 4 -59 4 13 4 104 4 -43 4 -62 4 48 4 -72 4 44 4 45 4 -51 4 -23 4 76 4 -105 4 27 4 85 4 -6 4 -27 4 38 4 55 4 -121 4 -35 4 -32 4 133 4 -35 4 30 4 -27 4 -12 4 51 4 -36 4 -4 4 -40 4 82 4 -55 4 -69 4 44 4 96 4 -48 4 -17 4 -80 4 90 4 59 4 -140 4 -14 4 141 4 -10 4 -119 4 -19 4 61 4 56 4 -42 4 30 4 -15 4 30 4 -44 4 -113 4 135 4 11 4 -39 4 29 4 -15 4 -41 4 50 4 45 4 -78 4 6 4 -18 4 15 4 71 4 -58 4 15 4 27 4 -22 4 4 4 -45 4 -10 4 70 4 -6 4 2 4 -18 4 11 4 2 4 -10 4 -50 4 48 4 6 4 -40 4 7 4 33 4 0 4 -20 4 15 4 51 4 -71 4 -39 4 59 4 20 4 -60 4 4 4 56 4 -21 4 -16 4 17 4 12 4 -35 4 -20 4 13 4 41 4 -30 4 -13 4 54 4 9 4 -43 4 -29 4 49 4 3 4 -53 4 2 4 34 4 -17 4 -17 4 23 4 -7 4 -4 4 22 4 7 4 -8 4 -6 4 9 4 25 4 -30 4 -35 4 33 4 -5 4 6 4 -24 4 6 4 44 4 -26 4 -25 4 29 4 -21 4 -15 4 64 4 -30 4 -9 4 5 4 8 4 -4 4 35 4 -31 4 1 4 5 4 0 4 -33 4 20 4 14 4 -12 4 -12 4 5 4 -26 4 46 4 17 4 -37 4 -13 4 9 4 13 4 -3 4 22 4 -18 4 8 4 -9 4 -2 4 9 4 -26 4 21 4 -8 4 -24 4 26 4 7 4 -9 4 0 4 -43 4 68 4 5 4 -44 4 -4 4 30 4 -8 4 7 4 -17 4 -13 4 28 4 -15 4 -1 4 7 4 -9 4 14 4 6 4 -18 4 -2 4 -3 4 16 4 12 4 -25 4 12 4 13 4 -20 4 -8 4 1 4 10 4 4 4 -3 4 -1 4 -4 4 -23 4 25 4 1 4 -7 4 0 4 15 4 -7 4 -16 4 24 4 12 4 -10 4 -25 4 8 4 31 4 -18 4 11 4 -12 4 -12 4 11 4 9 4 -10 4 -12 4 2 4 15 4 -7 4 -5 4 -3 4 12 4 1 4 7 4 -1 4 -21 4 11 4 22 4 -22 4 -3 4 3 4 20 4 2 4 -21 4 -13 4 28 4 0 4 -14 4 -14 4 50 4 -18 4 -49 4 13 4 36 4 -7 4 -6 4 3 4 -5 4 2 4 -2 4 1 4 -5 4 16 4 -2 4 -13 4 -8 4 14 4 0 4 -11 4 -3 4 8 4 9 4 -8 4 -10 4 8 4 -5 4 7 4 15 4 -27 4 2 4 16 4 -1 4 -16 4 3 4 15 4 6 4 -19 4 3 4 9 4 3 4 -11 4 -8 4 7 4 11 4 -9 4 -16 4 15 4 29 4 -24 4 -24 4 14 4 2 4 1 4 10 4 -7 4 -18 4 13 4 21 4 -12 4 -1 4 7 4 -13 4 9 4 -4 4 -8 4 3 4 3 4 9 4 0 4 10 4 -42 4 15 4 18 4 -1 4 -12 4 -6 4 6 4 -4 4 15 4 5 4 -40 4 22 4 31 4 -7 4 -30 4 -1 4 25 4 -16 4 -5 4 4 4 -12 4 28 4 3 4 -28 4 18 4 13 4 -6 4 -27 4 1 4 32 4 -8 4 -20 4 3 4 -2 4 18 4 -24 4 8 4 2 4 0 4 9 4 -3 4 -8 4 1 4 -2 4 13 4 5 4 -14 4 -15 4 19 4 8 4 -16 4 -11 4 18 4 15 4 -5 4 -7 4 11 4 9 4 -10 4 -7 4 -11 4 17 4 -1 4 -16 4 -4 4 19 4 -4 4 -6 4 4 4 -4 4 -2 4 18 4 -8 4 -11 4 9 4 12 4 -14 4 6 4 -1 4 8 4 -12 4 10 4 -13 4 -1 4 21 4 -3 4 -24 4 9 4 19 4 -14 4 -14 4 12 4 10 4 -19 4 4 4 17 4 -9 4 -9 4 11 4 2 4 -7 4 -5 4 1 4 -6 4 15 4 2 4 -19 4 6 4 15 4 -8 4 6 4 -17 4 13 4 7 4 -5 4 -10 4 11 4 2 4 -2 4 -3 4 -7 4 -5 4 11 4 -1 4 -5 4 12 4 15 4 -12 4 -17 4 11 4 13 4 -18 4 -7 4 -7 4 10 4 -2 4 -8 4 10 4 -8 4 13 4 -8 4 -12 4 3 4 14 4 -3 4 -2 4 10 4 -10 4 -7 4 10 4 -4 4 -13 4 13 4 13 4 -17 4 15 4 -15 4 13 4 -6 4 1 4 18 4 -20 4 3 4 7 4 -5 4 -3 4 4 4 11 4 -17 4 2 4 -2 4 2 4 -12 4 -1 4 27 4 -14 4 -12 4 12 4 10 4 -18 4 -19 4 22 4 -6 4 0 4 19 4 -6 4 -10 4 8 4 -4 4 -6 4 10 4 -2 4 12 4 -11 4 -13 4 12 4 -8 4 14 4 11 4 -19 4 -4 4 2 4 8 4 2 4 2 4 14 4 -9 4 -20 4 7 4 -4 4 12 4 4 4 -26 4 0 4 21 4 -4 4 -10 4 4 4 21 4 -16 4 -15 4 5 4 2 4 7 4 -2 4 -3 4" transform="scale(.1)" fill="none" stroke="#000" stroke-width="5.9"/>
<path d="M2991 12116l0 10 -2 10 -14 10 -3 10 10 10 7 10 11 10 -12 10 -10 10 2 10 -2 10 6 10 4 10 -1 10 6 10 -8 10 -9 10 -3 10 -9 10 13 10 2 10 10 10 1 10 -6 10 -3 10 6 10 -3 10 -1 10 10 10 5 10 -6 10 -7 10 -6 10 5 10 4 10 -4 10 9 10 6 10 -7 10 1 10 4 10 -3 10 2 10 -13 10 -9 10 6 10 -4 10 9 10 6 10 7 10 -1 10 -1 10 -8 10 4 10 0 10 9 10 3 10 5 10 -3 10 -12 10 -5 10 -7 10 -1 10 0 10 3 10 4 10 3 10 5 10 -9 10 1 10 -3 10 -2 10 -5 10 -3 10 4 10 -4 10 8 10 2 10 11 10 4 10 -16 10 0 10 9 10 7 10 -5 10 -6 10 0 10 8 10 5 10 6 10 -5 10 -10 10 -13 10 -5 10 -3 10 8 10 9 10 -8 10 0 10 10 10 0 10 -22 10 11 10 16 10 2 10 -2 10 -1 10 5 10 -8 10 -14 10 -7 10 -10 10 5 10 3 10 0 10 9 10 6 10 -4 10 -7 10 3 10 9 10 9 10 3 10 -16 10 -13 10 0 10 11 10 13 10 2 10 -10 10 -18 10 4 10 -2 10 4 10 6 10 -4 10 -7 10 -3 10 -5 10 15 10 -4 10 0 10 5 10 0 10" transform="scale(.1)" fill="none" stroke="#333" stroke-width="5.0"/>
<path d="M2981 7610l12 4 2 4 -25 4 8 4 -6 4 17 4 -23 4 6 4 12 4 -23 4 11 4 32 4 -24 4 -9 4 6 4 -12 4 15 4 3 4 3 4 -11 4 4 4 14 4 -40 4 24 4 2 4 15 4 -21 4 3 4 5 4 -17 4 25 4 -16 4 10 4 2 4 1 4 -27 4 24 4 13 4 -50 4 30 4 13 4 16 4 -25 4 -16 4 1 4 39 4 -31 4 -1 4 21 4 6 4 -37 4 13 4 25 4 -15 4 -20 4 31 4 -3 4 3 4 -14 4 5 4 17 4 0 4 -29 4 30 4 -29 4 3 4 20 4 -1 4 -18 4 -16 4 51 4 -18 4 0 4 14 4 -22 4 -18 4 30 4 3 4 5 4 -23 4 2 4 7 4 -7 4 -4 4 14 4 -3 4 -11 4 12 4 -13 4 15 4 -5 4 -22 4 -10 4 37 4 -4 4 -9 4 -26 4 20 4 13 4 -25 4 13 4 26 4 -13 4 -18 4 11 4 30 4 -52 4 30 4 -4 4 -17 4 8 4 3 4 17 4 -39 4 14 4 28 4 -11 4 -6 4 -3 4 9 4 -8 4 11 4 -1 4 -40 4 53 4 0 4 -24 4 -22 4 31 4 -18 4 7 4 11 4 -31 4 21 4 37 4 -46 4 10 4 1 4 -11 4 -14 4 30 4 -5 4 10 4 -6 4 -45 4 44 4 19 4 -16 4 -10 4 2 4 14 4 -35 4 -2 4 49 4 7 4 -40 4 -12 4 34 4 -15 4 -27 4 10 4 34 4 -9 4 4 4 -3 4 -28 4 -12 4 39 4 -5 4 -21 4 27 4 6 4 -26 4 2 4 10 4 -26 4 10 4 7 4 7 4 32 4 -25 4 -57 4 35 4 39 4 -27 4 -7 4 27 4 -31 4 10 4 13 4 12 4 -41 4 -4 4 4 4 33 4 -26 4 -6 4 17 4 5 4 3 4 -13 4 8 4 8 4 -10 4 4 4 -16 4 26 4 -8 4 -38 4 19 4 38 4 -20 4 -6 4 6 4 -11 4 -7 4 41 4 -8 4 -19 4 -23 4 13 4 19 4 -6 4 -7 4 -7 4 20 4 -22 4 -9 4 16 4 -3 4 9 4 1 4 5 4 -9 4 -5 4 -21 4 37 4 12 4 -6 4 -49 4 10 4 19 4 12 4 -20 4 4 4 13 4 -9 4 5 4 -5 4 11 4 -21 4 9 4 27 4 -22 4 -2 4 45 4 -57 4 6 4 8 4 -21 4 18 4 10 4 -38 4 12 4 32 4 14 4 -25 4 -11 4 20 4 -15 4 13 4 -12 4 -10 4 13 4 18 4 -20 4 0 4 -17 4 25 4 5 4 -32 4 18 4 50 4 -54 4 -4 4 27 4 26 4 -69 4 -7 4 52 4 -4 4 -43 4 13 4 7 4 2 4 -11 4 16 4 3 4 24 4 -26 4 -6 4 27 4 -18 4 -24 4 1 4 61 4 -40 4 -33 4 36 4 4 4 11 4 -38 4 26 4 15 4 -26 4 3 4 20 4 -26 4 3 4 4 4 39 4 -22 4 -5 4 -22 4 14 4 -10 4 38 4 -47 4 6 4 12 4 43 4 -29 4 -32 4 23 4 -10 4 -34 4 49 4 17 4 -43 4 0 4 -1 4 13 4 30 4 -21 4 -28 4 7 4 21 4 -15 4 -7 4 42 4 -13 4 -26 4 17 4 11 4 14 4 -37 4 -16 4 38 4 -27 4 21 4 25 4 -43 4 31 4 -29 4 -21 4 51 4 -2 4 -19 4 4 4 -17 4 -18 4 73 4 -30 4 -3 4 -47 4 43 4 33 4 -40 4 -11 4 5 4 28 4 9 4 -64 4 -2 4 83 4 -20 4 -42 4 25 4 18 4 -11 4 -36 4 29 4 21 4 -31 4 23 4 -2 4 -13 4 -36 4 52 4 -19 4 -14 4 17 4 20 4 -8 4 -10 4 -11 4 26 4 -40 4 5 4 39 4 -43 4 11 4 13 4 7 4 35 4 -87 4 20 4 83 4 -51 4 -54 4 47 4 -36 4 26 4 13 4 -60 4 40 4 96 4 -60 4 -73 4 38 4 38 4 -31 4 -44 4 61 4 -52 4 21 4 60 4 -15 4 -27 4 -55 4 2 4 62 4 2 4 -61 4 36 4 12 4 19 4 -34 4 18 4 9 4 -16 4 -14 4 -27 4 30 4 -6 4 48 4 -14 4 -26 4 -41 4 48 4 20 4 -32 4 11 4 -14 4 -5 4 25 4 -19 4 -8 4 36 4 20 4 -85 4 25 4 3 4 31 4 -17 4 27 4 -5 4 -27 4 5 4 57 4 -53 4 -27 4 36 4 26 4 -88 4 32 4 75 4 -40 4 -63 4 95 4 -10 4 -52 4 -29 4 0 4 60 4 -46 4 41 4 -35 4 62 4 -10 4 -49 4 40 4 33 4 -97 4 30 4 49 4 -26 4 17 4 -9 4 -24 4 16 4 17 4 -6 4 -26 4 -9 4 43 4 29 4 -75 4 -17 4 97 4 -76 4 -8 4 -2 4 29 4 10 4 -41 4 79 4 -36 4 -49 4 22 4 57 4 2 4 -83 4 -19 4 72 4 34 4 -56 4 -46 4 27 4 57 4 11 4 -28 4 -20 4 22 4 -34 4 25 4 -23 4 23 4 -18 4 97 4 -18 4 -107 4 17 4 17 4 -14 4 -34 4 51 4 7 4 -15 4 87 4 -44 4 -73 4 29 4 28 4 67 4 -115 4 40 4 62 4 -54 4 43 4 -35 4 31 4 -74 4 -26 4 89 4 -57 4 10 4 -24 4 52 4 8 4 -96 4 -4 4 37 4 82 4 48 4 -107 4 -51 4 -40 4 160 4 39 4 -140 4 -44 4 120 4 32 4 -103 4 -8 4 109 4 -2 4 -129 4 60 4 59 4 -127 4 -24 4 126 4 -6 4 29 4 -36 4 45 4 -64 4 -47 4 144 4 -64 4 -100 4 68 4 103 4 -14 4 -123 4 70 4 -11 4 -23 4 11 4 -40 4 53 4 90 4 -93 4 -78 4 18 4 101 4 -3 4 -55 4 -16 4 -11 4 -19 4 128 4 -52 4 -17 4 -18 4 -57 4 19 4 70 4 42 4 -93 4 52 4 -36 4 32 4 15 4 -48 4 9 4 17 4 -31 4 -55 4 98 4 -27 4 -20 4 44 4 -55 4 4 4 58 4 -56 4 11 4 19 4 -8 4 -36 4 34 4 -32 4 49 4 -19 4 -11 4 18 4 18 4 6 4 -100 4 78 4 61 4 -96 4 19 4 69 4 -75 4 -64 4 108 4 -24 4 -49 4 62 4 -21 4 -15 4 100 4 -50 4 -62 4 80 4 -46 4 -15 4 -37 4 107 4 46 4 -174 4 150 4 -3 4 -165 4 36 4 117 4 -61 4 -36 4 61 4 -5 4 -96 4 30 4 58 4 26 4 -143 4 52 4 33 4 53 4 -23 4 -25 4 5 4 19 4 -7 4 4 4 1 4 -9 4 -24 4 26 4 1 4 -15 4 26 4 13 4 -29 4 4 4 -8 4 13 4 -7 4 3 4 11 4 -4 4 -21 4 5 4 36 4 -42 4 -27 4 48 4 5 4 -18 4 5 4 -3 4 -10 4 18 4 0 4 -10 4 -3 4 -3 4 15 4 -15 4 32 4 -45 4 -12 4 30 4 14 4 -8 4 -37 4 9 4 21 4 14 4 -14 4 0 4 1 4 -11 4 -6 4 -4 4 39 4 -11 4 -16 4 12 4 -28 4 2 4 25 4 -1 4 9 4 -11 4 -27 4 27 4 17 4 -34 4 9 4 -7 4 17 4 11 4 -13 4 -15 4 13 4 4 4 -19 4 23 4 -5 4 -9 4 4 4 -24 4 1 4 32 4 9 4 -31 4 19 4 21 4 -32 4 -2 4 11 4 -14 4 17 4 -16 4 5 4 12 4 -15 4 -5 4 15 4 12 4 -21 4 4 4 10 4 1 4 -8 4 -15 4 31 4 5 4 1 4 -26 4 12 4 9 4 5 4 -24 4 -14 4 29 4 25 4 -40 4 10 4 -14 4 15 4 16 4 -21 4 6 4 6 4 -14 4 -2 4 5 4 7 4 -14 4 10 4 3 4 -1 4 -11 4 8 4 12 4 -2 4 0 4 -15 4 -3 4 17 4 -6 4 -17 4 0 4 22 4 24 4 -33 4 -18 4 29 4 16 4 -49 4 4 4 34 4 1 4 -27 4 -3 4 14 4 14 4 -22 4 17 4 28 4 -38 4 -2 4 24 4 -23 4 -13 4 18 4 12 4 -4 4 -16 4 12 4 6 4 -1 4 -19 4 -9 4 19 4 12 4 -25 4 16 4 -8 4 -14 4 29 4 2 4 -8 4 1 4 -6 4 0 4 -2 4 15 4 -4 4 -11 4 24 4 -16 4 3 4 11 4 -25 4 -13 4 7 4 36 4 -18 4 -9 4 10 4 -11 4 21 4 8 4 -37 4 15 4 9 4 -15 4 2 4 19 4 -13 4 -8 4 2 4 16 4 -32 4 5 4 11 4 3 4 -9 4 12 4 21 4 -30 4 -4 4 17 4 15 4 -23 4 1 4 19 4 -23 4 3 4 -1 4 10 4 -6 4 -11 4 8 4 5 4 7 4 -5 4 -17 4 31 4 9 4 -46 4 0 4 17 4 14 4 -32 4 10 4 32 4 -17 4 -17 4 4 4 5 4 2 4 2 4 -37 4 20 4 40 4 -34 4 -2 4 -3 4 -3 4 16 4 15 4 -24 4 -15 4 34 4 1 4 -11 4 -13 4 22 4 -6 4 -6 4 13 4 -12 4 2 4 11 4 -5 4 16 4 -14 4 -25 4 21 4 8 4 -11 4 -12 4 25 4 -27 4 -2 4 39 4 -14 4 -19 4 -7 4 17 4 12 4 -32 4 34 4 23 4 -23 4 -18 4 12 4 8 4 -30 4 24 4 4 4 -16 4 6 4 18 4 -31 4 -1 4 27 4 -14 4 5 4 -6 4 13 4 -11 4 -12 4 14 4 23 4 -38 4 9 4 24 4 -21 4 -30 4 27 4 22 4 -25 4 2 4 33 4 -15 4 3 4 -32 4 -5 4 25 4 -18 4 29 4 -5 4 -20 4 11 4 -1 4 1 4 -13 4 22 4 16 4 -28 4 4 4 -3 4 -1 4 5 4 1 4 -10 4 8 4 -4 4 -8 4 -4 4 34 4 -26 4 -3 4 0 4 21 4 -16 4 2 4 -17 4 17 4 16 4 -6 4 -6 4 -27 4 3 4 44 4 -19 4 -29 4 6 4 29 4 -15 4 -14 4 6 4 18 4 -21 4 -2 4 10 4 8 4 -9 4 -8 4 3 4 28 4 -35 4 -6 4 -5 4 45 4 -18 4 -19 4 -5 4 48 4 -25 4 -8 4 1 4 0 4 6 4 13 4 -18 4 -23 4 45 4 -17 4 -23 4 22 4 -2 4 -5 4 22 4 -5 4 -17 4 17 4 -11 4" transform="scale(.1)" fill="none" stroke="#000" stroke-width="6.5"/>
<path d="M3030 12138l2 10 1 10 -4 10 3 10 3 10 -1 10 7 10 6 10 -2 10 -14 10 -16 10 -4 10 8 10 15 10 3 10 -4 10 -8 10 -3 10 2 10 2 10 8 10 -6 10 -2 10 5 10 -2 10 -6 10 3 10 -3 10 12 10 -3 10 -1 10 -2 10 -9 10 1 10 0 10 -7 10 2 10 -5 10 -1 10 8 10 11 10 -8 10 -2 10 -5 10 5 10 8 10 -4 10 3 10 4 10 3 10 7 10 0 10 -16 10 -9 10 -2 10 4 10 10 10 2 10 -5 10 -8 10 1 10 8 10 -7 10 -5 10 -3 10 0 10 -3 10 0 10 -2 10 10 10 16 10 -2 10 -3 10 2 10 -5 10 -12 10 -8 10 20 10 3 10 0 10 -5 10 2 10 -2 10 -10 10 -10 10 2 10 13 10 13 10 6 10 -6 10 -14 10 -5 10 1 10 5 10 -1 10 1 10 10 10 3 10 -4 10 -2 10 3 10 6 10 -7 10 -7 10 3 10 -1 10 4 10 -3 10 -7 10 -3 10 -1 10 10 10 12 10 4 10 -9 10 -2 10 -5 10 -1 10 -6 10 -3 10 7 10 4 10 3 10 -9 10 -4 10 -4 10 6 10 8 10 11 10 -1 10 -1 10 -1 10 -15 10 -10 10 9 10 12 10 5 10 5 10 7 10 -7 10 -6 10 -8 10" transform="scale(.1)" fill="none" stroke="#333" stroke-width="5.0"/>
<path d="M3029 7610l-14 4 -13 4 18 4 0 4 -19 4 11 4 27 4 -24 4 -21 4 16 4 29 4 -25 4 -20 4 25 4 10 4 -14 4 -25 4 17 4 25 4 -7 4 -22 4 -13 4 17 4 4 4 -5 4 6 4 -1 4 -8 4 10 4 18 4 -20 4 -24 4 49 4 -6 4 -22 4 -11 4 47 4 -13 4 -16 4 -15 4 8 4 10 4 -14 4 17 4 2 4 9 4 3 4 -30 4 1 4 19 4 -6 4 -9 4 -1 4 0 4 10 4 16 4 -10 4 -14 4 20 4 2 4 -15 4 6 4 14 4 -10 4 -2 4 -8 4 11 4 -12 4 -3 4 12 4 4 4 -18 4 3 4 9 4 -9 4 11 4 -11 4 11 4 3 4 8 4 -16 4 2 4 20 4 -19 4 -3 4 4 4 -3 4 9 4 -25 4 16 4 4 4 -9 4 16 4 -6 4 -19 4 16 4 4 4 -14 4 21 4 -6 4 -14 4 7 4 13 4 19 4 -42 4 4 4 20 4 10 4 -10 4 -12 4 -6 4 16 4 3 4 -26 4 13 4 24 4 -12 4 -24 4 12 4 8 4 13 4 -41 4 19 4 32 4 -26 4 -36 4 35 4 23 4 -22 4 -4 4 -8 4 10 4 4 4 -24 4 21 4 3 4 17 4 -17 4 -12 4 20 4 -5 4 -2 4 -9 4 10 4 1 4 -6 4 3 4 10 4 -13 4 -5 4 7 4 -18 4 9 4 12 4 0 4 -24 4 21 4 -16 4 -4 4 12 4 -17 4 -7 4 9 4 18 4 -21 4 11 4 11 4 -11 4 -10 4 8 4 7 4 -5 4 -17 4 12 4 -3 4 16 4 -5 4 0 4 5 4 -21 4 -18 4 50 4 0 4 -34 4 11 4 3 4 -10 4 13 4 8 4 -25 4 11 4 3 4 -1 4 4 4 2 4 -9 4 19 4 -9 4 -4 4 -5 4 -18 4 36 4 4 4 -43 4 28 4 14 4 -31 4 0 4 12 4 18 4 -14 4 2 4 4 4 7 4 -46 4 35 4 20 4 -9 4 -29 4 3 4 30 4 -15 4 10 4 -6 4 -7 4 -11 4 13 4 5 4 1 4 9 4 -15 4 -5 4 14 4 -18 4 1 4 21 4 -4 4 -8 4 32 4 -18 4 -24 4 6 4 17 4 -8 4 -31 4 19 4 28 4 -13 4 -17 4 9 4 -3 4 7 4 -8 4 13 4 -33 4 25 4 9 4 -30 4 11 4 3 4 -12 4 37 4 -8 4 -4 4 -2 4 -42 4 48 4 1 4 -26 4 7 4 15 4 0 4 -34 4 24 4 29 4 -3 4 -41 4 6 4 25 4 5 4 -28 4 12 4 -19 4 15 4 12 4 -7 4 2 4 -1 4 -13 4 20 4 -12 4 2 4 11 4 -38 4 23 4 1 4 -1 4 -2 4 32 4 -2 4 -14 4 -3 4 2 4 -4 4 21 4 -49 4 29 4 0 4 -7 4 -14 4 41 4 -2 4 -23 4 1 4 2 4 5 4 -11 4 -5 4 -14 4 34 4 3 4 -32 4 33 4 0 4 -16 4 4 4 3 4 8 4 -32 4 11 4 19 4 -9 4 7 4 -21 4 25 4 -11 4 -14 4 -7 4 13 4 15 4 -7 4 18 4 -36 4 4 4 -23 4 42 4 15 4 -28 4 -40 4 38 4 5 4 -8 4 8 4 28 4 -51 4 -13 4 40 4 11 4 -4 4 -24 4 -7 4 74 4 -49 4 -6 4 -27 4 44 4 -5 4 -11 4 -10 4 10 4 -27 4 45 4 5 4 -47 4 3 4 42 4 -15 4 -17 4 -15 4 27 4 14 4 -20 4 9 4 6 4 -19 4 -2 4 29 4 -25 4 -2 4 19 4 6 4 -24 4 6 4 9 4 -33 4 5 4 39 4 -14 4 -4 4 -7 4 19 4 -18 4 24 4 -21 4 10 4 -23 4 20 4 -12 4 12 4 8 4 3 4 -25 4 28 4 -19 4 -14 4 25 4 -12 4 -25 4 13 4 -8 4 27 4 -10 4 -8 4 26 4 -32 4 2 4 22 4 56 4 -54 4 -28 4 13 4 34 4 -29 4 -2 4 -8 4 27 4 -26 4 -3 4 17 4 5 4 6 4 1 4 -30 4 -12 4 33 4 -11 4 8 4 -28 4 43 4 1 4 -10 4 -1 4 -18 4 -2 4 64 4 -68 4 -4 4 21 4 -36 4 40 4 6 4 3 4 -24 4 -4 4 26 4 -55 4 3 4 30 4 35 4 -30 4 -4 4 15 4 4 4 -15 4 39 4 -16 4 -26 4 -11 4 57 4 -41 4 -37 4 72 4 -48 4 -16 4 26 4 22 4 -2 4 -47 4 37 4 -7 4 19 4 -28 4 25 4 31 4 -31 4 -26 4 -9 4 59 4 -4 4 -44 4 -4 4 60 4 -13 4 -61 4 17 4 24 4 -5 4 -10 4 -36 4 65 4 -27 4 38 4 -52 4 28 4 2 4 -28 4 50 4 -6 4 -12 4 -23 4 -23 4 -14 4 82 4 4 4 -70 4 17 4 17 4 48 4 -44 4 -40 4 32 4 13 4 -37 4 -12 4 42 4 13 4 -32 4 41 4 -3 4 -20 4 -4 4 -7 4 8 4 -4 4 -21 4 24 4 -13 4 24 4 9 4 -42 4 -9 4 62 4 6 4 -78 4 16 4 66 4 -50 4 48 4 -43 4 1 4 20 4 16 4 -30 4 -40 4 -22 4 78 4 -39 4 62 4 -8 4 -67 4 23 4 -54 4 73 4 -12 4 70 4 -98 4 -70 4 103 4 64 4 -89 4 -6 4 62 4 -23 4 -84 4 51 4 52 4 -1 4 -97 4 51 4 10 4 76 4 -72 4 -33 4 105 4 35 4 -191 4 13 4 82 4 -37 4 107 4 -59 4 -117 4 22 4 165 4 -5 4 -140 4 66 4 43 4 -31 4 17 4 4 4 -115 4 7 4 125 4 -98 4 40 4 49 4 -35 4 -55 4 59 4 -34 4 -25 4 8 4 -4 4 9 4 101 4 -87 4 16 4 -40 4 57 4 -53 4 46 4 -51 4 41 4 -13 4 -19 4 -79 4 50 4 111 4 -39 4 23 4 -81 4 13 4 54 4 -57 4 27 4 38 4 -31 4 21 4 -51 4 46 4 -8 4 58 4 -91 4 -44 4 139 4 39 4 -108 4 -62 4 -64 4 175 4 42 4 -120 4 25 4 48 4 -62 4 -48 4 145 4 -9 4 -74 4 -1 4 63 4 -76 4 20 4 -43 4 93 4 -44 4 49 4 -80 4 -45 4 38 4 129 4 -76 4 -83 4 28 4 93 4 -46 4 -54 4 -34 4 124 4 26 4 -91 4 -16 4 23 4 34 4 50 4 -141 4 73 4 6 4 -53 4 -61 4 64 4 32 4 59 4 -66 4 17 4 -10 4 8 4 -21 4 36 4 -38 4 0 4 26 4 27 4 6 4 -26 4 -52 4 -5 4 17 4 107 4 -48 4 -77 4 22 4 21 4 12 4 -15 4 -5 4 -10 4 6 4 16 4 -3 4 -9 4 -20 4 -2 4 38 4 -10 4 -34 4 34 4 -5 4 -20 4 6 4 14 4 1 4 9 4 -32 4 32 4 -2 4 -17 4 8 4 -2 4 28 4 -23 4 -14 4 -7 4 38 4 -3 4 -35 4 17 4 15 4 -26 4 19 4 4 4 -23 4 27 4 6 4 -13 4 -2 4 19 4 -23 4 -7 4 18 4 -9 4 11 4 -18 4 7 4 9 4 -23 4 7 4 30 4 -3 4 -8 4 -24 4 13 4 37 4 -22 4 -9 4 10 4 0 4 0 4 5 4 0 4 -24 4 1 4 37 4 -8 4 -35 4 11 4 7 4 2 4 11 4 -31 4 3 4 14 4 0 4 -9 4 3 4 22 4 1 4 -26 4 -3 4 27 4 10 4 -33 4 -16 4 19 4 -14 4 9 4 -4 4 5 4 10 4 -9 4 -12 4 17 4 -2 4 -17 4 19 4 9 4 -28 4 29 4 -8 4 -12 4 2 4 -1 4 0 4 1 4 1 4 -2 4 -11 4 6 4 -3 4 20 4 -28 4 21 4 15 4 -29 4 -15 4 32 4 4 4 -44 4 5 4 5 4 12 4 1 4 8 4 16 4 -29 4 -18 4 35 4 2 4 -14 4 -2 4 3 4 -2 4 -13 4 12 4 -8 4 16 4 15 4 -17 4 4 4 5 4 -17 4 8 4 -2 4 -6 4 36 4 -27 4 -13 4 15 4 -3 4 7 4 -13 4 2 4 8 4 -8 4 1 4 7 4 -8 4 40 4 -53 4 -3 4 38 4 -16 4 -20 4 30 4 -4 4 -3 4 -16 4 7 4 5 4 -1 4 -8 4 0 4 41 4 -29 4 2 4 10 4 -39 4 31 4 23 4 -37 4 -4 4 21 4 29 4 -43 4 -16 4 34 4 13 4 -12 4 -25 4 8 4 15 4 -12 4 1 4 -2 4 7 4 3 4 -15 4 8 4 2 4 3 4 -3 4 7 4 1 4 7 4 -26 4 7 4 -4 4 1 4 7 4 12 4 2 4 -14 4 -10 4 12 4 2 4 1 4 -8 4 8 4 6 4 -21 4 2 4 14 4 22 4 -33 4 -15 4 16 4 14 4 -15 4 14 4 2 4 -5 4 -9 4 -14 4 24 4 -11 4 -4 4 37 4 -12 4 -7 4 -21 4 15 4 18 4 -14 4 -18 4 5 4 38 4 -36 4 -6 4 14 4 -10 4 45 4 -49 4 12 4 31 4 -24 4 -2 4 7 4 -6 4 5 4 5 4 -43 4 32 4 29 4 -56 4 -12 4 63 4 7 4 -33 4 -25 4 41 4 -18 4 -22 4 16 4 23 4 -11 4 -18 4 30 4 3 4 -24 4 -18 4 35 4 8 4 -17 4 5 4 -2 4 -9 4 4 4 1 4 15 4 -17 4 -4 4 4 4 9 4 -22 4 -3 4 29 4 14 4 -67 4 36 4 16 4 2 4 -19 4 4 4 -6 4 1 4 9 4 -7 4 -17 4 2 4 20 4 8 4 8 4 -22 4 -4 4 2 4 5 4 -1 4 21 4 -10 4 -31 4 25 4 10 4 -11 4 4 4 -8 4 8 4 -4 4 -2 4 17 4 2 4 -20 4 -6 4 7 4 10 4 -9 4 0 4 1 4 -28 4 15 4 18 4 -5 4 -7 4 -16 4 43 4 -10 4 -40 4 1 4 19 4 9 4 2 4 -13 4 17 4 -23 4 17 4 0 4 16 4 -26 4 -3 4 18 4 -12 4 -7 4 29 4 -39 4 19 4 -3 4 -5 4 6 4 1 4 2 4 5 4 -14 4 -7 4 22 4 9 4 -14 4 -15 4 19 4 0 4 0 4 17 4 -33 4 14 4 2 4 -15 4 16 4 8 4 -30 4 28 4 1 4 -28 4 -7 4 38 4 5 4 -16 4 -15 4 7 4 17 4 -7 4 -18 4 1 4 30 4" transform="scale(.1)" fill="none" stroke="#000" stroke-width="6.5"/>
<path d="M3682 12160l2 10 3 10 1 10 -4 10 4 10 5 10 -1 10 -10 10 0 10 1 10 -1 10 -1 10 4 10 7 10 5 10 1 10 -4 10 1 10 -12 10 -6 10 -5 10 0 10 10 10 10 10 13 10 2 10 -9 10 -6 10 -7 10 5 10 7 10 -2 10 1 10 -2 10 4 10 -3 10 3 10 4 10 2 10 -1 10 -2 10 -10 10 -8 10 7 10 -2 10 0 10 -1 10 4 10 2 10 -2 10 -8 10 -8 10 4 10 11 10 -2 10 -11 10 -2 10 -5 10 12 10 15 10 5 10 -8 10 -6 10 -10 10 0 10 7 10 7 10 1 10 -5 10 2 10 -4 10 -9 10 -5 10 1 10 6 10 0 10 2 10 -6 10 1 10 4 10 5 10 0 10 -4 10 4 10 3 10 -1 10 0 10 -5 10 -11 10 2 10 4 10 7 10 4 10 0 10 -7 10 -6 10 1 10 5 10 4 10 -5 10 -6 10 -1 10 1 10 6 10 -2 10 2 10 5 10 -1 10 12 10 0 10 2 10 -4 10 -9 10 -9 10 5 10 8 10 4 10 -6 10 -5 10 -3 10 9 10 6 10 4 10 3 10 2 10 0 10 -2 10 -4 10 -7 10 6 10 -5 10 -1 10 -1 10 4 10 -2 10 -2 10 2 10 -3 10 5 10 -4 10" transform="scale(.1)" fill="none" stroke="#333" stroke-width="5.0"/>
<path d="M3703 7610l-13 6 -19 6 2 6 22 6 8 6 -26 6 4 6 3 6 2 6 0 6 -6 6 19 6 11 6 -15 6 9 6 -2 6 -28 6 1 6 32 6 1 6 -1 6 -37 6 5 6 43 6 -2 6 -30 6 -10 6 -9 6 23 6 33 6 -23 6 -8 6 18 6 -27 6 10 6 -11 6 -14 6 35 6 16 6 -17 6 -5 6 -19 6 21 6 -4 6 -3 6 5 6 -21 6 1 6 20 6 20 6 -20 6 -18 6 10 6 26 6 -8 6 -16 6 -1 6 -8 6 28 6 -12 6 4 6 0 6 -17 6 17 6 9 6 1 6 -39 6 -18 6 45 6 29 6 -12 6 -20 6 9 6 14 6 -13 6 -33 6 36 6 -11 6 -6 6 3 6 19 6 -14 6 -23 6 7 6 9 6 -5 6 -1 6 -4 6 11 6 -16 6 -3 6 -5 6 2 6 18 6 27 6 -10 6 -21 6 -2 6 -10 6 -4 6 -4 6 33 6 3 6 -20 6 15 6 -10 6 -27 6 16 6 20 6 -28 6 -3 6 19 6 21 6 27 6 -26 6 -25 6 5 6 16 6 0 6 -3 6 -20 6 -8 6 28 6 22 6 -23 6 7 6 11 6 4 6 -25 6 -15 6 20 6 12 6 -18 6 -17 6 14 6 -5 6 1 6 8 6 -2 6 -1 6 12 6 2 6 -12 6 -15 6 1 6 8 6 10 6 5 6 -35 6 23 6 11 6 -9 6 10 6 20 6 -31 6 -13 6 1 6 23 6 -22 6 14 6 -6 6 3 6 15 6 -10 6 -29 6 44 6 -7 6 -22 6 -15 6 26 6 21 6 -47 6 -2 6 40 6 7 6 -21 6 -30 6 2 6 -9 6 7 6 51 6 47 6 -88 6 -21 6 0 6 33 6 3 6 -46 6 -9 6 49 6 62 6 -10 6 -79 6 -24 6 36 6 48 6 -20 6 -17 6 -14 6 13 6 5 6 -16 6 26 6 16 6 -17 6 -51 6 16 6 53 6 -19 6 -37 6 33 6 31 6 -20 6 -5 6 -36 6 39 6 9 6 9 6 -36 6 9 6 -3 6 2 6 -35 6 39 6 9 6 1 6 8 6 -31 6 -2 6 41 6 -3 6 -10 6 -46 6 -10 6 48 6 20 6 -35 6 -6 6 -1 6 43 6 21 6 -4 6 -28 6 -49 6 -33 6 27 6 -3 6 42 6 -5 6 -6 6 -32 6 -34 6 84 6 49 6 -13 6 -80 6 12 6 34 6 -9 6 9 6 20 6 -35 6 -13 6 37 6 -27 6 26 6 -7 6 -35 6 8 6 55 6 29 6 -66 6 -66 6 19 6 14 6 61 6 -16 6 -2 6 -112 6 27 6 44 6 8 6 19 6 13 6 -66 6 28 6 20 6 -78 6 61 6 63 6 -8 6 -80 6 -27 6 50 6 71 6 15 6 -67 6 7 6 -29 6 16 6 -3 6 63 6 -25 6 -61 6 -70 6 66 6 56 6 102 6 -116 6 -82 6 42 6 3 6 43 6 -26 6 62 6 29 6 -109 6 -12 6 44 6 37 6 1 6 -69 6 72 6 7 6 -45 6 -39 6 -23 6 80 6 58 6 -21 6 -66 6 -35 6 19 6 22 6 -5 6 28 6 -5 6 -3 6 -28 6 -14 6 41 6 -12 6 -2 6 -4 6 -62 6 36 6 58 6 -17 6 -59 6 -7 6 142 6 5 6 -101 6 -88 6 66 6 44 6 35 6 -34 6 -14 6 28 6 -36 6 -86 6 72 6 55 6 11 6 -7 6 -4 6 -118 6 51 6 71 6 9 6 -1 6 21 6 -38 6 -62 6 -16 6 83 6 18 6 -31 6 -108 6 90 6 110 6 -97 6 -131 6 44 6 165 6 28 6 -107 6 -36 6 6 6 -28 6 87 6 -3 6 -31 6 -92 6 -4 6 151 6 -14 6 -88 6 -11 6 47 6 -28 6 17 6 41 6 93 6 -85 6 -42 6 5 6 31 6 -60 6 35 6 35 6 -1 6 -28 6 -19 6 10 6 11 6 -1 6 4 6 6 6 -12 6 15 6 -16 6 -17 6 3 6 29 6 6 6 -34 6 -19 6 13 6 14 6 16 6 3 6 -28 6 -7 6 16 6 10 6 -4 6 -12 6 9 6 9 6 -16 6 4 6 -5 6 14 6 4 6 -14 6 14 6 -11 6 -5 6 14 6 11 6 1 6 -12 6 -27 6 -7 6 29 6 23 6 -5 6 -3 6 -7 6 -16 6 -11 6 10 6 20 6 -4 6 -23 6 0 6 30 6 15 6 -27 6 -17 6 13 6 9 6 -2 6 14 6 -16 6 -20 6 15 6 9 6 0 6 -3 6 -13 6 9 6 3 6 2 6 2 6 -12 6 0 6 7 6 -6 6 6 6 11 6 -18 6 -3 6 9 6 15 6 -12 6 -22 6 2 6 13 6 3 6 4 6 -16 6 13 6 2 6 -1 6 12 6 -10 6 -33 6 27 6 12 6 -1 6 -10 6 -13 6 4 6 11 6 3 6 -13 6 -13 6 4 6 13 6 4 6 -1 6 -7 6 -19 6 12 6 18 6 5 6 -7 6 -19 6 1 6 15 6 13 6 -14 6 -26 6 9 6 18 6 14 6 -19 6 -7 6 13 6 -10 6 -4 6 20 6 2 6 -26 6 1 6 34 6 4 6 -38 6 -11 6 21 6 2 6 2 6 -8 6 12 6 -3 6 -7 6 -2 6 13 6 16 6 -26 6 -14 6 7 6 1 6 7 6 7 6 -15 6 4 6 4 6 10 6 -3 6 -7 6 6 6 -4 6 9 6 -5 6 -11 6 -2 6 12 6 12 6 19 6 -25 6 -34 6 26 6 12 6 4 6 -19 6 -2 6 14 6 -5 6 -19 6 22 6 17 6 -15 6 -33 6 29 6 2 6 14 6 -8 6 -3 6 -15 6 5 6 8 6 -4 6 16 6 5 6 -10 6 -23 6 15 6 17 6 -22 6 6 6 11 6 16 6 -21 6 -18 6 11 6 1 6 6 6 -5 6 2 6 -1 6 -6 6 4 6 -6 6 1 6 17 6 -20 6 -7 6 14 6 11 6 8 6 -21 6 -7 6 1 6 23 6 -12 6 -4 6 -14 6 1 6 9 6 5 6 -1 6 14 6 -24 6 -14 6 13 6 19 6 -14 6 -1 6 -7 6 -1 6 9 6 16 6 -23 6 2 6 -7 6 4 6 8 6 10 6 -22 6 7 6 5 6 -10 6 -8 6 0 6 24 6 7 6 -14 6 -9 6 11 6 -10 6 -3 6 20 6 7 6 -11 6 -3 6 4 6 -10 6 -7 6 16 6 -5 6 -4 6 -2 6 2 6 4 6 5 6 2 6 -2 6 -9 6 10 6 -13 6 -7 6 -5 6 13 6 10 6 -5 6 -9 6 4 6 -6 6 14 6 2 6 -4 6 6 6 5 6 -3 6 3 6 -13 6 -15 6 9 6 10 6 2 6 -1 6 -11 6 -9 6 30 6 15 6 -35 6 -16 6 8 6 13 6 14 6 7 6 -27 6 -2 6 19 6 -10 6 2 6 6 6 0 6 -4 6 7 6 -1 6 8 6 -5 6 -8 6 8 6 -11 6 9 6 -6 6 -3 6 11 6 10 6 -6 6 -22 6 2 6 7 6 -3 6 0 6 7 6 -14 6 -7 6 30 6 9 6 0 6 -18 6" transform="scale(.1)" fill="none" stroke="#000" stroke-width="5.9"/>
<path d="M3735 12175l2 10 1 10 -1 10 6 10 3 10 -2 10 -6 10 -6 10 -8 10 4 10 0 10 4 10 2 10 5 10 -7 10 -4 10 -7 10 3 10 9 10 8 10 3 10 -2 10 -6 10 1 10 0 10 3 10 1 10 -4 10 2 10 2 10 9 10 4 10 -6 10 -7 10 -3 10 -1 10 3 10 4 10 11 10 -3 10 2 10 -7 10 6 10 -4 10 -1 10 5 10 -3 10 -3 10 -2 10 -6 10 1 10 12 10 7 10 -2 10 -3 10 -2 10 -4 10 -6 10 -4 10 -5 10 0 10 5 10 2 10 3 10 6 10 -4 10 3 10 -6 10 4 10 12 10 7 10 1 10 -8 10 -13 10 1 10 8 10 -3 10 4 10 5 10 2 10 -2 10 -4 10 -5 10 4 10 0 10 0 10 -3 10 5 10 2 10 -4 10 1 10 0 10 1 10 -6 10 -3 10 -8 10 1 10 8 10 9 10 3 10 -2 10 1 10 -7 10 -11 10 1 10 2 10 -4 10 -5 10 -1 10 1 10 8 10 7 10 1 10 2 10 4 10 -7 10 -2 10 0 10 -5 10 11 10 4 10 -2 10 -4 10 5 10 4 10 -3 10 -2 10 -1 10 -1 10 0 10 -8 10 -4 10 -5 10 1 10 12 10 -3 10 -1 10 3 10" transform="scale(.1)" fill="none" stroke="#333" stroke-width="5.0"/>
<path d="M3766 7610l-22 6 -22 6 27 6 23 6 -17 6 -26 6 12 6 7 6 11 6 -5 6 -12 6 27 6 0 6 -28 6 2 6 11 6 -3 6 3 6 -6 6 4 6 -4 6 15 6 -9 6 -21 6 17 6 9 6 -9 6 15 6 -8 6 -12 6 7 6 13 6 -10 6 1 6 -16 6 8 6 -2 6 3 6 8 6 -9 6 9 6 -18 6 3 6 10 6 8 6 2 6 -29 6 1 6 20 6 9 6 -8 6 -15 6 4 6 18 6 6 6 -32 6 -6 6 26 6 27 6 -21 6 -17 6 2 6 18 6 -21 6 3 6 -6 6 14 6 14 6 -13 6 -7 6 -1 6 -7 6 14 6 7 6 -10 6 -13 6 -1 6 13 6 -14 6 10 6 0 6 4 6 4 6 13 6 -13 6 -25 6 7 6 6 6 3 6 5 6 -3 6 12 6 -7 6 -12 6 13 6 -1 6 -15 6 -21 6 1 6 21 6 33 6 -28 6 -9 6 -2 6 12 6 -12 6 -4 6 2 6 13 6 -7 6 1 6 -3 6 19 6 16 6 -15 6 -35 6 5 6 22 6 8 6 -10 6 -5 6 12 6 3 6 -11 6 -9 6 -13 6 19 6 11 6 4 6 -34 6 12 6 12 6 -1 6 -22 6 10 6 26 6 -7 6 -15 6 -31 6 18 6 32 6 7 6 -26 6 -16 6 5 6 27 6 13 6 -47 6 -16 6 35 6 18 6 -17 6 -19 6 -7 6 25 6 3 6 13 6 -5 6 9 6 -13 6 3 6 -12 6 2 6 8 6 5 6 2 6 6 6 -15 6 -23 6 18 6 36 6 -24 6 -17 6 -3 6 16 6 15 6 -14 6 6 6 6 6 -34 6 15 6 -11 6 4 6 3 6 -17 6 32 6 -20 6 6 6 -10 6 6 6 -7 6 16 6 -4 6 -17 6 -7 6 31 6 17 6 -8 6 -19 6 -22 6 -3 6 13 6 8 6 7 6 -16 6 2 6 22 6 9 6 0 6 -18 6 10 6 -17 6 -21 6 -16 6 29 6 17 6 5 6 8 6 -25 6 -19 6 15 6 35 6 1 6 -64 6 -23 6 28 6 58 6 10 6 -29 6 -27 6 9 6 45 6 20 6 -38 6 -39 6 1 6 49 6 11 6 -1 6 -46 6 26 6 8 6 -23 6 3 6 0 6 13 6 0 6 -44 6 45 6 12 6 -4 6 -23 6 -17 6 24 6 -15 6 29 6 -27 6 -35 6 34 6 48 6 3 6 -30 6 -41 6 -15 6 35 6 47 6 -26 6 -22 6 7 6 25 6 25 6 -41 6 -45 6 5 6 71 6 47 6 -80 6 -62 6 54 6 -13 6 30 6 -20 6 7 6 -32 6 72 6 15 6 -12 6 -86 6 36 6 57 6 -35 6 -54 6 -6 6 58 6 9 6 1 6 -76 6 53 6 6 6 -1 6 -27 6 42 6 22 6 -34 6 -42 6 54 6 14 6 -57 6 -12 6 52 6 23 6 -61 6 -47 6 59 6 24 6 -42 6 18 6 26 6 4 6 -32 6 14 6 0 6 -20 6 -19 6 18 6 56 6 -33 6 -45 6 37 6 8 6 -36 6 -1 6 67 6 -4 6 -34 6 -33 6 66 6 34 6 -42 6 -67 6 17 6 36 6 36 6 -33 6 16 6 -7 6 -56 6 -33 6 77 6 75 6 -51 6 -70 6 -50 6 54 6 77 6 -40 6 -4 6 56 6 -46 6 11 6 -73 6 24 6 72 6 -60 6 -15 6 17 6 1 6 24 6 14 6 63 6 -39 6 -25 6 -67 6 31 6 59 6 12 6 -68 6 -15 6 74 6 -10 6 -55 6 -14 6 9 6 7 6 35 6 -55 6 16 6 8 6 14 6 -23 6 -43 6 53 6 15 6 -10 6 -7 6 3 6 4 6 18 6 -20 6 0 6 -29 6 48 6 14 6 -74 6 10 6 36 6 28 6 12 6 -27 6 -24 6 29 6 5 6 -3 6 -19 6 -6 6 -7 6 -3 6 16 6 14 6 -5 6 -6 6 5 6 -2 6 -13 6 -4 6 17 6 5 6 3 6 -3 6 -9 6 -6 6 -13 6 19 6 12 6 -8 6 12 6 19 6 -38 6 -3 6 15 6 22 6 -1 6 -19 6 -3 6 5 6 0 6 -13 6 1 6 21 6 1 6 -23 6 12 6 -7 6 -8 6 10 6 22 6 -2 6 -16 6 -15 6 4 6 16 6 -2 6 11 6 -24 6 -16 6 13 6 30 6 -4 6 -30 6 7 6 17 6 -4 6 -9 6 0 6 -17 6 6 6 27 6 1 6 4 6 -19 6 -1 6 -1 6 4 6 5 6 -2 6 -14 6 -12 6 4 6 3 6 40 6 -1 6 -19 6 -14 6 -7 6 14 6 16 6 -4 6 -29 6 -9 6 37 6 2 6 -29 6 -4 6 20 6 -1 6 -22 6 11 6 10 6 28 6 -28 6 -17 6 -11 6 28 6 30 6 -27 6 -27 6 7 6 25 6 1 6 -12 6 -15 6 12 6 2 6 14 6 -11 6 -21 6 -9 6 22 6 20 6 -9 6 -14 6 -7 6 6 6 11 6 -12 6 3 6 7 6 0 6 -4 6 -13 6 9 6 8 6 5 6 -10 6 5 6 13 6 -17 6 7 6 -3 6 4 6 -6 6 7 6 3 6 -28 6 6 6 13 6 -3 6 -13 6 13 6 23 6 -3 6 -11 6 -5 6 15 6 6 6 -28 6 -8 6 25 6 -5 6 -30 6 24 6 27 6 -4 6 -22 6 -3 6 8 6 8 6 -13 6 8 6 -1 6 2 6 -9 6 2 6 19 6 -18 6 -11 6 0 6 -7 6 23 6 12 6 3 6 -22 6 -2 6 1 6 14 6 11 6 -12 6 -14 6 5 6 3 6 6 6 4 6 -16 6 0 6 14 6 -1 6 0 6 -2 6 -4 6 4 6 -3 6 10 6 -14 6 -5 6 10 6 9 6 -14 6 -9 6 -12 6 26 6 5 6 -17 6 -17 6 3 6 26 6 1 6 -1 6 -11 6 9 6 -12 6 4 6 14 6 -5 6 -24 6 14 6 18 6 8 6 -23 6 -30 6 11 6 16 6 1 6 -20 6 2 6 21 6 11 6 -6 6 -13 6 0 6 -8 6 13 6 2 6 -3 6 -22 6 16 6 10 6 14 6 -13 6 -16 6 -13 6 14 6 9 6 -1 6 -11 6 -4 6 16 6 -6 6 2 6 7 6 1 6 -14 6 -22 6 30 6 15 6 -14 6 -21 6 19 6 -4 6 -9 6 6 6 19 6 -17 6 4 6 0 6 12 6 -14 6 -8 6 11 6 -4 6 -13 6 6 6 12 6 -13 6 -7 6 10 6 10 6 -8 6 10 6 -3 6 5 6 -15 6 -10 6 11 6 8 6 6 6 -3 6 -6 6 -19 6 16 6 21 6 1 6 -18 6 -19 6 -1 6 20 6 24 6 -3 6 -21 6 -18 6 10 6 12 6 -6 6 -5 6 7 6 12 6 11 6 -14 6 -7 6 -6 6 -10 6 10 6 12 6 11 6 -13 6 -20 6 4 6 3 6 6 6 4 6 -2 6 6 6 7 6 8 6 -16 6 -12 6 6 6 12 6 2 6 -9 6 5 6 0 6 -12 6 -2 6 10 6 -7 6 6 6 4 6 -5 6 6 6 -15 6 28 6" transform="scale(.1)" fill="none" stroke="#000" stroke-width="5.9"/>
<path d="M3992 12235l0 10 1 10 -1 10 1 10 0 10 -1 10 0 10 -1 10 1 10 0 10 0 10 0 10 -1 10 1 10 -1 10 1 10 0 10 -1 10 -1 10 0 10 1 10 -1 10 -1 10 0 10 -2 10 -1 10 1 10 0 10 2 10 0 10 0 10 -1 10 -1 10 1 10 0 10 -1 10 -2 10 0 10 3 10 -1 10 -1 10 -1 10 1 10 2 10 -1 10 -1 10 -1 10 2 10 -1 10 0 10 1 10 -1 10 -1 10 -1 10 0 10 0 10 1 10 1 10 -1 10 1 10 0 10 1 10 0 10 -1 10 -1 10 0 10 1 10 1 10 0 10 -1 10 0 10 1 10 1 10 0 10 1 10 0 10 0 10 -1 10 2 10 -1 10 0 10 1 10 1 10 -1 10 0 10 0 10 1 10 -1 10 0 10 0 10 -1 10 1 10 0 10 1 10 -1 10 -1 10 0 10 2 10 1 10 -2 10 0 10 0 10 0 10 1 10 1 10 0 10 0 10 0 10 0 10 1 10 -2 10 0 10 3 10 1 10 0 10 -1 10 -2 10 1 10 0 10 0 10 -2 10 -2 10 0 10 0 10 1 10 1 10 -2 10 1 10 0 10 1 10 -2 10 -2 10" transform="scale(.1)" fill="none" stroke="#555" stroke-width="5.5"/>
<path d="M3999 7610l-3 5 -14 5 2 5 -2 5 20 5 -7 5 -15 5 -16 5 13 5 9 5 7 5 15 5 -27 5 8 5 -11 5 -1 5 12 5 8 5 -8 5 19 5 -5 5 -5 5 -16 5 4 5 -16 5 18 5 0 5 -7 5 10 5 12 5 7 5 -23 5 -29 5 37 5 -6 5 2 5 -13 5 -9 5 30 5 5 5 -31 5 -5 5 36 5 -5 5 -23 5 3 5 6 5 12 5 -26 5 26 5 4 5 -17 5 -17 5 5 5 27 5 -9 5 0 5 -11 5 -9 5 17 5 -6 5 1 5 16 5 5 5 -15 5 1 5 -1 5 10 5 -10 5 -18 5 14 5 8 5 7 5 -57 5 36 5 36 5 -45 5 5 5 32 5 -10 5 -21 5 6 5 3 5 -3 5 5 5 21 5 -14 5 -37 5 31 5 6 5 -15 5 18 5 34 5 -41 5 -30 5 25 5 0 5 10 5 32 5 -60 5 -14 5 34 5 6 5 1 5 -17 5 18 5 18 5 -20 5 -10 5 8 5 13 5 -27 5 -5 5 37 5 -24 5 -16 5 17 5 15 5 5 5 5 5 -17 5 -42 5 22 5 35 5 9 5 -51 5 14 5 33 5 -27 5 -25 5 52 5 -44 5 -5 5 8 5 55 5 -38 5 -20 5 19 5 21 5 -51 5 25 5 21 5 -23 5 -23 5 33 5 16 5 -28 5 2 5 19 5 -30 5 -8 5 25 5 -22 5 27 5 29 5 -40 5 -6 5 10 5 4 5 9 5 10 5 -6 5 -36 5 27 5 4 5 -15 5 -9 5 -14 5 11 5 29 5 1 5 -13 5 -18 5 7 5 19 5 -26 5 -3 5 5 5 26 5 -1 5 -34 5 29 5 34 5 -53 5 -17 5 33 5 9 5 -28 5 46 5 -3 5 -40 5 -3 5 56 5 -15 5 -59 5 37 5 57 5 -60 5 -16 5 46 5 -30 5 10 5 -2 5 6 5 -2 5 15 5 -17 5 15 5 -32 5 27 5 -10 5 -3 5 -12 5 15 5 2 5 -15 5 6 5 18 5 3 5 -50 5 2 5 18 5 26 5 -9 5 -30 5 -12 5 47 5 -19 5 -1 5 24 5 -10 5 -8 5 -14 5 52 5 -27 5 -6 5 16 5 -52 5 52 5 13 5 -85 5 16 5 81 5 -11 5 -43 5 -16 5 16 5 48 5 -40 5 -40 5 27 5 47 5 -58 5 -4 5 32 5 7 5 -26 5 12 5 2 5 -14 5 29 5 -7 5 -24 5 41 5 -20 5 -23 5 21 5 -15 5 -25 5 50 5 11 5 -32 5 -16 5 54 5 -15 5 -24 5 -38 5 39 5 37 5 -49 5 -5 5 66 5 -50 5 -6 5 -8 5 39 5 44 5 -58 5 -45 5 35 5 21 5 7 5 -50 5 7 5 16 5 12 5 -14 5 4 5 -12 5 20 5 11 5 -15 5 -29 5 31 5 1 5 -23 5 -6 5 30 5 -19 5 -22 5 38 5 -6 5 -3 5 -3 5 15 5 35 5 -46 5 -32 5 62 5 21 5 -58 5 -1 5 14 5 -19 5 20 5 -5 5 3 5 52 5 -70 5 6 5 -8 5 -14 5 25 5 29 5 -37 5 10 5 16 5 -15 5 19 5 25 5 -77 5 -2 5 81 5 -11 5 -60 5 7 5 26 5 31 5 -24 5 5 5 20 5 -13 5 -12 5 4 5 6 5 -59 5 26 5 22 5 6 5 -36 5 17 5 -12 5 39 5 -9 5 -5 5 -34 5 30 5 4 5 -19 5 41 5 -51 5 7 5 16 5 22 5 -24 5 2 5 -24 5 11 5 -8 5 3 5 24 5 12 5 7 5 -36 5 -53 5 45 5 71 5 -30 5 -18 5 -58 5 106 5 -13 5 11 5 -50 5 15 5 9 5 18 5 -20 5 -13 5 24 5 -7 5 -33 5 -16 5 44 5 4 5 -23 5 17 5 23 5 -27 5 10 5 -51 5 9 5 62 5 16 5 -49 5 38 5 -28 5 -65 5 97 5 -7 5 -81 5 21 5 80 5 -34 5 -45 5 -22 5 74 5 9 5 19 5 -80 5 18 5 17 5 -26 5 -8 5 80 5 -37 5 -40 5 52 5 -21 5 -30 5 46 5 -38 5 4 5 14 5 -2 5 7 5 -9 5 -24 5 25 5 41 5 -38 5 -34 5 21 5 28 5 -21 5 -7 5 20 5 -10 5 0 5 -7 5 7 5 -1 5 -13 5 -15 5 24 5 13 5 -25 5 -8 5 13 5 14 5 18 5 -48 5 10 5 19 5 -13 5 4 5 21 5 -36 5 12 5 10 5 1 5 -4 5 -12 5 12 5 2 5 -16 5 15 5 1 5 -20 5 10 5 -15 5 28 5 -25 5 23 5 8 5 -19 5 -28 5 30 5 15 5 -22 5 -12 5 15 5 11 5 13 5 -23 5 -2 5 7 5 0 5 -3 5 14 5 -24 5 10 5 3 5 -3 5 4 5 0 5 -24 5 -1 5 44 5 15 5 -44 5 -8 5 18 5 12 5 -13 5 1 5 4 5 -15 5 7 5 12 5 9 5 -11 5 -17 5 3 5 32 5 -24 5 -20 5 23 5 -10 5 8 5 4 5 -4 5 0 5 10 5 -17 5 -3 5 22 5 6 5 -15 5 -18 5 18 5 -10 5 3 5 1 5 11 5 1 5 1 5 -23 5 -16 5 43 5 17 5 -41 5 6 5 11 5 -12 5 11 5 -7 5 8 5 -24 5 33 5 -33 5 -8 5 23 5 -2 5 -12 5 10 5 9 5 -11 5 -5 5 -4 5 4 5 20 5 -12 5 -10 5 6 5 35 5 -36 5 -18 5 24 5 18 5 -19 5 -10 5 20 5 -18 5 3 5 21 5 -27 5 7 5 14 5 -19 5 -3 5 24 5 2 5 -15 5 2 5 9 5 14 5 -33 5 -12 5 11 5 9 5 1 5 -24 5 18 5 -13 5 1 5 31 5 -22 5 -24 5 30 5 1 5 13 5 -21 5 -9 5 31 5 -22 5 -15 5 28 5 20 5 5 5 -40 5 -18 5 36 5 5 5 -8 5 9 5 -30 5 3 5 14 5 8 5 -1 5 -5 5 -4 5 -19 5 12 5 10 5 -1 5 -11 5 24 5 -2 5 -23 5 4 5 13 5 -7 5 5 5 -8 5 23 5 -25 5 -4 5 -7 5 35 5 9 5 -21 5 -24 5 24 5 -1 5 -5 5 15 5 10 5 -19 5 2 5 5 5 -2 5 -7 5 1 5 0 5 -20 5 0 5 14 5 32 5 -9 5 -29 5 0 5 29 5 -10 5 -8 5 -5 5 5 5 22 5 -6 5 -16 5 -17 5 17 5 19 5 -9 5 -19 5 10 5 9 5 -1 5 -6 5 19 5 -18 5 2 5 1 5 -9 5 -4 5 36 5 -25 5 2 5 -8 5 10 5 11 5 -14 5 -16 5 -9 5 36 5 -15 5 -9 5 14 5 -7 5 -28 5 47 5 -5 5 -20 5 1 5 -3 5 2 5 12 5 -13 5 4 5 0 5 14 5 -5 5 -21 5 17 5 5 5 -11 5 2 5 -4 5 -6 5 9 5 -2 5 -3 5 0 5 -5 5 14 5 -16 5 -2 5 6 5 6 5 -2 5 -9 5 12 5 13 5 -36 5 15 5 7 5 12 5 2 5 -38 5 11 5 28 5 -26 5 12 5 -15 5 18 5 -8 5 -13 5 9 5 17 5 -16 5 13 5 -3 5 -3 5 -21 5 16 5 20 5 -27 5 -7 5 -10 5 43 5 10 5 -21 5 -17 5 33 5 -3 5 -14 5 -20 5 12 5 13 5 3 5 -25 5 -4 5 19 5 16 5 -21 5 2 5 14 5 -22 5 8 5 15 5 -5 5 4 5 -6 5 2 5 1 5 -9 5 8 5 10 5 -19 5 7 5 8 5 -4 5 3 5 -5 5 -4 5 11 5 -17 5 5 5 13 5 -10 5 -2 5 -2 5 9 5 -5 5 9 5 -4 5 5 5 8 5 -13 5 -10 5 10 5 0 5 5 5 4 5 -9 5 -23 5 21 5 -3 5 -2 5 -23 5 17 5 47 5 -21 5 -48 5 31 5 23 5 -9 5 -4 5 7 5 -15 5 -2 5 20 5 -19 5 11 5 -16 5 30 5 -20 5 -11 5 -1 5 26 5 -15 5 5 5 -10 5 -8 5 9 5 17 5 -20 5 5 5 -1 5 20 5 -16 5 -8 5 -8 5 23 5 9 5 -35 5 -24 5 34 5 21 5 -10 5 -17 5 -7 5 3 5 20 5 -9 5 4 5 5 5 -14 5 1 5 3 5 8 5 4 5 -16 5 13 5 -18 5 -7 5 15 5 3 5 -2 5 6 5 -11 5 0 5 10 5 12 5 -37 5 15 5 19 5 -24 5 -10 5 41 5 -24 5 -32 5 52 5 -4 5 -47 5 33 5 11 5 5 5 -49 5 27 5 22 5 -39 5 24 5 20 5" transform="scale(.1)" fill="none" stroke="#000" stroke-width="6.5"/>
<path d="M4172 12264l1 10 -5 10 2 10 -1 10 -1 10 -2 10 -5 10 5 10 3 10 -2 10 0 10 8 10 9 10 -8 10 -4 10 -2 10 2 10 0 10 -8 10 2 10 9 10 2 10 -5 10 -11 10 -2 10 -2 10 7 10 6 10 0 10 -5 10 -8 10 2 10 -7 10 -3 10 4 10 11 10 2 10 1 10 2 10 -6 10 -11 10 -4 10 -1 10 8 10 12 10 16 10 2 10 -8 10 -4 10 -1 10 -2 10 -10 10 0 10 1 10 -3 10 3 10 3 10 2 10 -3 10 7 10 3 10 6 10 -7 10 -15 10 -1 10 -7 10 -3 10 7 10 7 10 -2 10 0 10 -6 10 1 10 2 10 -6 10 -8 10 4 10 6 10 4 10 4 10 -1 10 3 10 1 10 4 10 0 10 0 10 -2 10 0 10 0 10 6 10 -9 10 -10 10 3 10 9 10 0 10 -5 10 -4 10 1 10 13 10 6 10 -4 10 -4 10 -5 10 -7 10 -5 10 5 10 6 10 8 10 1 10 9 10 1 10 -10 10 -7 10 3 10 -2 10 1 10 11 10 3 10 -10 10 -8 10 3 10 10 10 7 10 3 10 0 10 -13 10 -12 10 -3 10 13 10" transform="scale(.1)" fill="none" stroke="#333" stroke-width="5.0"/>
<path d="M4179 12264l4 10 4 10 5 10 7 10 -2 10 -13 10 -17 10 1 10 -1 10 6 10 -1 10 -4 10 -1 10 0 10 4 10 7 10 2 10 -9 10 0 10 -4 10 7 10 -2 10 -1 10 3 10 5 10 2 10 -5 10 3 10 -7 10 -1 10 -5 10 2 10 -1 10 -1 10 4 10 -1 10 -1 10 -1 10 -3 10 -6 10 0 10 2 10 -1 10 -7 10 -6 10 6 10 3 10 11 10 9 10 -8 10 -8 10 1 10 -1 10 2 10 -1 10 0 10 1 10 -1 10 -8 10 1 10 7 10 5 10 7 10 -1 10 -7 10 -1 10 -9 10 -7 10 9 10 3 10 12 10 7 10 -1 10 -4 10 -17 10 -9 10 8 10 1 10 0 10 -2 10 3 10 2 10 3 10 2 10 -3 10 -6 10 -1 10 0 10 4 10 -1 10 12 10 12 10 -4 10 -16 10 -16 10 4 10 8 10 4 10 13 10 4 10 -7 10 -10 10 -10 10 -3 10 -7 10 11 10 6 10 -3 10 -3 10 3 10 9 10 7 10 7 10 1 10 -5 10 -11 10 4 10 8 10 3 10 -4 10 -8 10 0 10 2 10 -4 10 -5 10 6 10 12 10 6 10 4 10" transform="scale(.1)" fill="none" stroke="#333" stroke-width="5.0"/>
<path d="M4165 7610l-21 5 -12 5 26 5 28 5 -14 5 -15 5 -5 5 -22 5 38 5 23 5 -21 5 20 5 -3 5 -1 5 -16 5 -29 5 40 5 18 5 -12 5 -23 5 23 5 -8 5 6 5 -8 5 -1 5 -13 5 11 5 -3 5 12 5 -2 5 -17 5 7 5 33 5 -5 5 -43 5 4 5 22 5 32 5 -53 5 -12 5 26 5 11 5 3 5 -16 5 -36 5 46 5 21 5 -24 5 -39 5 37 5 5 5 22 5 -21 5 -51 5 24 5 9 5 11 5 -13 5 -1 5 16 5 -1 5 16 5 -15 5 -55 5 27 5 58 5 -30 5 -17 5 1 5 -8 5 -14 5 50 5 29 5 -63 5 -14 5 9 5 19 5 4 5 -2 5 -16 5 -4 5 32 5 -7 5 -14 5 -31 5 9 5 35 5 -10 5 17 5 10 5 -26 5 -61 5 19 5 43 5 14 5 -24 5 1 5 11 5 -4 5 2 5 14 5 12 5 -86 5 29 5 40 5 -16 5 -9 5 -7 5 -9 5 2 5 17 5 -13 5 30 5 -25 5 33 5 -16 5 17 5 -32 5 24 5 -11 5 -6 5 -39 5 40 5 29 5 -20 5 -33 5 11 5 6 5 0 5 10 5 20 5 -1 5 -40 5 12 5 -22 5 -11 5 30 5 40 5 1 5 -37 5 -16 5 12 5 9 5 -55 5 37 5 96 5 -53 5 -42 5 5 5 9 5 -1 5 18 5 -16 5 6 5 -42 5 40 5 27 5 14 5 -57 5 -25 5 85 5 8 5 -22 5 -59 5 38 5 27 5 -59 5 7 5 19 5 45 5 -12 5 -16 5 43 5 -42 5 -40 5 26 5 -15 5 33 5 -29 5 -24 5 12 5 7 5 24 5 19 5 5 5 16 5 -62 5 -53 5 51 5 37 5 10 5 -39 5 -72 5 54 5 28 5 -66 5 31 5 19 5 15 5 20 5 16 5 -48 5 27 5 -16 5 16 5 -41 5 10 5 23 5 51 5 44 5 -153 5 -12 5 35 5 102 5 -14 5 -56 5 -72 5 79 5 37 5 -65 5 -47 5 25 5 58 5 10 5 -54 5 9 5 -18 5 33 5 4 5 36 5 -43 5 5 5 16 5 19 5 -56 5 -54 5 112 5 11 5 -72 5 -46 5 59 5 -24 5 -55 5 95 5 7 5 47 5 -42 5 -39 5 118 5 5 5 -65 5 -84 5 33 5 49 5 4 5 -21 5 2 5 -92 5 57 5 63 5 -3 5 25 5 -44 5 -70 5 13 5 118 5 -30 5 -30 5 74 5 -73 5 -101 5 31 5 -13 5 127 5 6 5 -145 5 96 5 67 5 -122 5 -20 5 107 5 -5 5 -35 5 -83 5 102 5 33 5 3 5 -14 5 -122 5 1 5 -26 5 -19 5 64 5 139 5 19 5 -150 5 20 5 71 5 -15 5 -11 5 -99 5 44 5 87 5 -106 5 -17 5 91 5 43 5 -59 5 -76 5 -3 5 106 5 26 5 -109 5 4 5 115 5 19 5 -61 5 -35 5 -65 5 147 5 -10 5 -81 5 -66 5 33 5 104 5 -46 5 -58 5 51 5 23 5 -18 5 -39 5 -5 5 -43 5 74 5 97 5 51 5 -124 5 -88 5 37 5 41 5 84 5 -139 5 -84 5 113 5 57 5 -29 5 -38 5 -48 5 4 5 49 5 126 5 -48 5 -133 5 89 5 13 5 -115 5 13 5 108 5 -7 5 -47 5 -88 5 39 5 114 5 -10 5 -12 5 -75 5 -16 5 9 5 26 5 22 5 88 5 -61 5 -1 5 34 5 -39 5 -13 5 -32 5 -7 5 -18 5 3 5 18 5 105 5 -55 5 -58 5 -58 5 126 5 -5 5 -106 5 77 5 59 5 -16 5 -136 5 117 5 23 5 4 5 -68 5 -4 5 32 5 31 5 -33 5 -17 5 12 5 -126 5 63 5 75 5 35 5 -68 5 38 5 -26 5 75 5 -26 5 -112 5 19 5 79 5 -32 5 18 5 -72 5 -11 5 141 5 0 5 -58 5 -76 5 78 5 -18 5 2 5 68 5 -1 5 -124 5 -30 5 60 5 19 5 59 5 -27 5 -78 5 -10 5 71 5 52 5 -35 5 -33 5 -17 5 40 5 0 5 -25 5 -1 5 35 5 5 5 -37 5 1 5 22 5 2 5 -18 5 7 5 22 5 -16 5 -7 5 -10 5 12 5 -3 5 16 5 -2 5 -25 5 7 5 -19 5 26 5 18 5 -19 5 -28 5 26 5 -15 5 10 5 -19 5 34 5 14 5 -28 5 -1 5 -5 5 -32 5 38 5 46 5 -18 5 -61 5 34 5 27 5 -37 5 -10 5 21 5 5 5 -6 5 -6 5 -22 5 20 5 0 5 5 5 12 5 -21 5 -11 5 6 5 31 5 4 5 -16 5 -19 5 36 5 -30 5 -7 5 28 5 13 5 -38 5 -4 5 27 5 24 5 -36 5 -24 5 8 5 20 5 26 5 -25 5 9 5 -9 5 -8 5 2 5 9 5 -9 5 -24 5 9 5 11 5 26 5 -22 5 -10 5 -7 5 -15 5 45 5 40 5 -46 5 -46 5 17 5 44 5 0 5 -53 5 12 5 10 5 30 5 3 5 -6 5 -12 5 1 5 -18 5 -23 5 30 5 20 5 12 5 -11 5 -35 5 14 5 15 5 0 5 10 5 -12 5 3 5 -16 5 5 5 32 5 -48 5 -15 5 25 5 32 5 -19 5 6 5 -8 5 17 5 5 5 -35 5 -6 5 35 5 7 5 5 5 -27 5 -27 5 9 5 29 5 -4 5 -17 5 6 5 11 5 -6 5 21 5 -22 5 4 5 14 5 14 5 3 5 -23 5 -10 5 12 5 9 5 -14 5 -16 5 -4 5 12 5 4 5 -5 5 3 5 24 5 -2 5 -36 5 5 5 13 5 8 5 2 5 -9 5 -15 5 9 5 14 5 -24 5 16 5 -16 5 -11 5 20 5 24 5 -3 5 -41 5 1 5 24 5 16 5 11 5 1 5 -51 5 -9 5 28 5 11 5 -16 5 26 5 -3 5 -11 5 12 5 -5 5 -7 5 -16 5 2 5 38 5 -10 5 -36 5 20 5 2 5 7 5 -32 5 8 5 25 5 -23 5 -11 5 29 5 14 5 -31 5 2 5 8 5 -3 5 1 5 -24 5 7 5 22 5 21 5 -22 5 3 5 -7 5 6 5 -10 5 8 5 21 5 -19 5 -24 5 0 5 15 5 20 5 -25 5 -9 5 18 5 41 5 -26 5 -38 5 21 5 16 5 9 5 -24 5 -11 5 18 5 8 5 -7 5 -16 5 -8 5 40 5 -15 5 -8 5 5 5 1 5 -17 5 40 5 -1 5 -37 5 -10 5 32 5 -9 5 30 5 -19 5 -33 5 13 5 5 5 16 5 -24 5 3 5 -6 5 23 5 0 5 5 5 -23 5 6 5 16 5 0 5 -21 5 2 5 21 5 -4 5 -11 5 -4 5 1 5 -1 5 4 5 -5 5 -18 5 22 5 4 5 -4 5 -14 5 18 5 -5 5 4 5 -8 5 -7 5 6 5 29 5 -12 5 -24 5 6 5 28 5 -29 5 -28 5 35 5 35 5 -20 5 -31 5 24 5 -5 5 -19 5 -6 5 34 5 9 5 -21 5 -13 5 5 5 12 5 12 5 -10 5 -13 5 21 5 -11 5 -14 5 19 5 3 5 -15 5 -23 5 5 5 28 5 1 5 11 5 2 5 -32 5 -28 5 29 5 44 5 -24 5 -27 5 -14 5 30 5 5 5 2 5 -5 5 -15 5 15 5 2 5 -12 5 4 5 8 5 -4 5 -7 5 -13 5 10 5 27 5 13 5 -27 5 6 5 -20 5 7 5 19 5 2 5 -5 5 -21 5 -7 5 -3 5 31 5 2 5 -4 5 7 5 12 5 -24 5 -5 5 -11 5 19 5 21 5 -13 5 -25 5 12 5 11 5 -23 5 -9 5 26 5 37 5 -25 5 -35 5 28 5 29 5 -24 5 -25 5 6 5 36 5 4 5 -24 5 -31 5 7 5 25 5 17 5 -30 5 8 5 14 5 -2 5 -11 5 -31 5 29 5 14 5 10 5 -3 5 -36 5 -9 5 12 5 0 5 13 5 -20 5 -3 5 34 5 -2 5 -11 5 -9 5 8 5 8 5 -3 5 -3 5 -18 5 0 5 28 5 7 5 -13 5 12 5 -1 5 -15 5 -44 5 27 5 29 5 -6 5 1 5 -9 5 -1 5 9 5 -3 5 5 5 -3 5 -2 5 -3 5 -20 5 -2 5 45 5 1 5 -24 5 -10 5 -9 5 22 5 -7 5 -1 5 -26 5 24 5 18 5 0 5 -13 5 -8 5 -2 5 5 5 -11 5 9 5 8 5 -14 5 -2 5 13 5 3 5 13 5 -24 5 -5 5 22 5 -9 5 -37 5 17 5 41 5 -8 5 -39 5 9 5 49 5 -21 5 -32 5 1 5 33 5 5 5 -19 5 -6 5 -2 5 0 5 12 5" transform="scale(.1)" fill="none" stroke="#000" stroke-width="6.5"/>
<path d="M4204 12249l-5 10 0 10 4 10 0 10 -5 10 -2 10 4 10 8 10 18 10 -6 10 -2 10 -16 10 -8 10 7 10 16 10 9 10 0 10 0 10 -10 10 -9 10 0 10 3 10 6 10 -3 10 -4 10 2 10 3 10 8 10 5 10 4 10 -4 10 -3 10 -7 10 -10 10 -4 10 1 10 8 10 14 10 14 10 -6 10 -2 10 0 10 -8 10 5 10 -8 10 -5 10 -6 10 4 10 7 10 0 10 -2 10 2 10 -3 10 -5 10 -4 10 1 10 3 10 6 10 3 10 -2 10 -7 10 -5 10 7 10 8 10 5 10 -11 10 -10 10 -4 10 -2 10 -1 10 11 10 12 10 9 10 2 10 -7 10 -10 10 -7 10 -6 10 0 10 6 10 14 10 2 10 -6 10 -14 10 -6 10 -3 10 1 10 13 10 6 10 0 10 -2 10 -4 10 -5 10 6 10 6 10 6 10 -4 10 2 10 -6 10 0 10 -6 10 -3 10 10 10 7 10 1 10 0 10 2 10 -2 10 -4 10 2 10 4 10 7 10 -3 10 -1 10 0 10 -9 10 -3 10 9 10 4 10 -4 10 3 10 -4 10 -10 10 -7 10 6 10 9 10 4 10 -3 10 -10 10 -3 10 -4 10" transform="scale(.1)" fill="none" stroke="#333" stroke-width="5.0"/>
<path d="M4235 7610l-3 5 -19 5 -15 5 13 5 7 5 -18 5 16 5 4 5 -2 5 1 5 -32 5 -3 5 15 5 38 5 -2 5 -18 5 -16 5 -4 5 3 5 5 5 9 5 -19 5 -4 5 3 5 16 5 18 5 -29 5 -16 5 12 5 21 5 -8 5 -3 5 -11 5 3 5 1 5 16 5 -4 5 -2 5 -11 5 4 5 41 5 0 5 -33 5 4 5 -3 5 -6 5 -1 5 9 5 -4 5 -5 5 -18 5 18 5 4 5 -11 5 8 5 -2 5 14 5 -20 5 5 5 17 5 9 5 -17 5 2 5 -14 5 1 5 -7 5 -16 5 20 5 46 5 -6 5 -45 5 -9 5 0 5 36 5 10 5 -28 5 -29 5 28 5 14 5 -7 5 -12 5 5 5 -6 5 -3 5 24 5 2 5 -25 5 -8 5 20 5 15 5 14 5 -35 5 3 5 10 5 10 5 4 5 -2 5 -4 5 -40 5 4 5 16 5 22 5 -3 5 -12 5 4 5 -11 5 -12 5 25 5 9 5 -14 5 9 5 -21 5 -25 5 24 5 24 5 2 5 -11 5 -14 5 2 5 15 5 8 5 -13 5 7 5 -9 5 18 5 26 5 -40 5 -22 5 5 5 20 5 23 5 7 5 -46 5 -7 5 44 5 20 5 -39 5 -4 5 7 5 3 5 -19 5 -4 5 15 5 5 5 -15 5 13 5 -28 5 13 5 23 5 -15 5 -31 5 28 5 20 5 -30 5 -8 5 28 5 7 5 34 5 -10 5 -8 5 -58 5 -3 5 41 5 28 5 -11 5 -21 5 5 5 -31 5 -23 5 21 5 46 5 -6 5 -8 5 -12 5 -27 5 47 5 22 5 -22 5 -18 5 2 5 -29 5 18 5 40 5 -14 5 -46 5 -40 5 45 5 49 5 -9 5 9 5 -16 5 -50 5 30 5 18 5 -15 5 -20 5 -10 5 22 5 27 5 -11 5 -1 5 -20 5 31 5 -1 5 -3 5 16 5 -38 5 -46 5 59 5 26 5 0 5 -45 5 -19 5 5 5 58 5 8 5 -56 5 -11 5 17 5 15 5 -3 5 10 5 24 5 -31 5 -5 5 33 5 -1 5 -23 5 7 5 2 5 -2 5 6 5 -5 5 33 5 -45 5 -49 5 58 5 2 5 10 5 -20 5 -21 5 1 5 6 5 1 5 45 5 0 5 -52 5 16 5 32 5 1 5 -34 5 -21 5 52 5 19 5 -40 5 -50 5 -7 5 32 5 53 5 -16 5 -48 5 9 5 -3 5 54 5 -8 5 22 5 -45 5 5 5 28 5 -3 5 -25 5 46 5 -55 5 -17 5 -4 5 26 5 -19 5 0 5 -2 5 33 5 16 5 -23 5 -10 5 5 5 -14 5 40 5 -41 5 -9 5 9 5 -5 5 20 5 -1 5 28 5 7 5 -50 5 -30 5 22 5 -4 5 16 5 -4 5 -6 5 39 5 18 5 0 5 -63 5 -11 5 12 5 44 5 20 5 -50 5 -26 5 23 5 30 5 2 5 -2 5 32 5 -14 5 -44 5 2 5 43 5 -6 5 38 5 -39 5 -78 5 -41 5 153 5 -14 5 -56 5 -32 5 2 5 40 5 74 5 -17 5 -87 5 -8 5 -20 5 18 5 56 5 8 5 21 5 -27 5 -122 5 39 5 79 5 5 5 35 5 -67 5 -14 5 -6 5 71 5 0 5 -41 5 51 5 36 5 -20 5 -130 5 33 5 -12 5 -2 5 43 5 -5 5 75 5 -32 5 -80 5 -21 5 41 5 54 5 41 5 -84 5 -9 5 -16 5 -15 5 142 5 16 5 -80 5 -80 5 32 5 75 5 55 5 -109 5 -5 5 47 5 41 5 -5 5 -59 5 -18 5 13 5 -57 5 34 5 27 5 74 5 -1 5 -40 5 30 5 -33 5 -33 5 -45 5 -2 5 64 5 -11 5 7 5 44 5 -61 5 10 5 -18 5 -11 5 42 5 20 5 -26 5 16 5 -1 5 11 5 -37 5 -66 5 13 5 59 5 47 5 -65 5 26 5 21 5 -56 5 9 5 9 5 64 5 -18 5 -62 5 -47 5 12 5 127 5 -13 5 -54 5 -50 5 12 5 22 5 11 5 14 5 -30 5 -12 5 31 5 1 5 -1 5 -13 5 2 5 21 5 -15 5 -1 5 12 5 -3 5 -17 5 -10 5 7 5 2 5 14 5 -1 5 8 5 -5 5 13 5 -11 5 -15 5 -4 5 16 5 20 5 -21 5 -4 5 -10 5 16 5 31 5 -31 5 -31 5 -1 5 21 5 0 5 2 5 -11 5 -2 5 15 5 11 5 -9 5 -5 5 -8 5 17 5 4 5 -28 5 -3 5 16 5 16 5 -21 5 -15 5 23 5 3 5 9 5 4 5 -16 5 -7 5 11 5 -2 5 -16 5 5 5 12 5 -16 5 -15 5 38 5 9 5 -23 5 -20 5 -1 5 17 5 0 5 -5 5 -9 5 17 5 1 5 -7 5 2 5 3 5 -13 5 6 5 9 5 -9 5 -8 5 -6 5 1 5 13 5 5 5 9 5 0 5 3 5 -11 5 -3 5 0 5 -10 5 21 5 15 5 -53 5 -4 5 29 5 18 5 -6 5 -26 5 17 5 16 5 -11 5 -23 5 -3 5 25 5 16 5 -31 5 7 5 22 5 -32 5 1 5 13 5 -16 5 10 5 29 5 -25 5 -10 5 -1 5 8 5 19 5 -5 5 -11 5 -4 5 -15 5 34 5 -10 5 -22 5 18 5 31 5 -12 5 -32 5 -8 5 9 5 7 5 0 5 19 5 0 5 -26 5 6 5 -12 5 12 5 18 5 11 5 -25 5 -12 5 9 5 21 5 5 5 -15 5 -14 5 -6 5 13 5 16 5 -9 5 -8 5 9 5 12 5 -15 5 -10 5 -2 5 -2 5 12 5 20 5 -22 5 -23 5 16 5 20 5 -9 5 -1 5 -4 5 13 5 -1 5 -13 5 -20 5 3 5 27 5 0 5 -4 5 -13 5 20 5 10 5 -9 5 -3 5 0 5 -6 5 -21 5 10 5 9 5 3 5 1 5 -24 5 -12 5 25 5 17 5 -8 5 -11 5 1 5 10 5 5 5 15 5 -6 5 17 5 -22 5 -12 5 -14 5 1 5 9 5 12 5 3 5 -5 5 -14 5 7 5 19 5 -6 5 -7 5 -15 5 6 5 13 5 1 5 1 5 1 5 -6 5 16 5 20 5 -23 5 -8 5 -2 5 8 5 3 5 -10 5 -24 5 2 5 33 5 -1 5 -6 5 -10 5 13 5 -2 5 -13 5 -17 5 9 5 16 5 14 5 -11 5 0 5 6 5 -1 5 -8 5 4 5 3 5 13 5 -12 5 0 5 -15 5 5 5 -5 5 2 5 29 5 -3 5 -25 5 -17 5 14 5 10 5 10 5 -14 5 6 5 13 5 -3 5 -11 5 -8 5 -6 5 3 5 23 5 -6 5 -4 5 -13 5 -1 5 18 5 -4 5 6 5 -9 5 -6 5 8 5 -7 5 -12 5 11 5 5 5 -6 5 9 5 18 5 6 5 -29 5 -14 5 29 5 0 5 -29 5 -7 5 18 5 6 5 11 5 -16 5 -14 5 17 5 18 5 -2 5 -16 5 -22 5 8 5 16 5 -4 5 -11 5 -24 5 33 5 23 5 -14 5 -13 5 6 5 4 5 -23 5 11 5 28 5 1 5 -4 5 -10 5 -1 5 -9 5 -9 5 11 5 -1 5 -5 5 11 5 -17 5 -4 5 14 5 22 5 -15 5 -21 5 14 5 11 5 -8 5 4 5 1 5 5 5 -12 5 -6 5 19 5 -16 5 -3 5 -7 5 11 5 5 5 12 5 -3 5 -3 5 0 5 -2 5 -7 5 -6 5 13 5 -3 5 -6 5 11 5 -14 5 2 5 -12 5 16 5 18 5 8 5 -13 5 -12 5 0 5 -7 5 -3 5 12 5 1 5 14 5 -5 5 -15 5 0 5 3 5 -11 5 10 5 6 5 -4 5 -7 5 18 5 -5 5 -9 5 5 5 9 5 24 5 -15 5 -10 5 -30 5 18 5 20 5 1 5 0 5 -14 5 -2 5 -17 5 21 5 24 5 -12 5 -8 5 -18 5 1 5 16 5 -2 5 -4 5 12 5 -7 5 -15 5 -7 5 20 5 12 5 -11 5 -9 5 2 5 -11 5 -11 5 19 5 9 5 -12 5 5 5 20 5 1 5 -25 5 2 5 10 5 6 5 -4 5 -13 5 4 5 4 5 -3 5 -9 5 -1 5 11 5 10 5 -19 5 13 5 -24 5 -1 5 7 5 18 5 2 5 -5 5 -10 5 4 5 17 5 -4 5 -30 5 11 5 18 5 -2 5 -19 5 -3 5 29 5 12 5 -21 5 -14 5 -5 5 1 5 1 5 7 5 -8 5 5 5 -14 5 -5 5 11 5 12 5 -9 5 -5 5 16 5 -3 5 -15 5 13 5 -1 5 4 5 4 5 -7 5 6 5 -1 5 -6 5 2 5 -13 5 18 5" transform="scale(.1)" fill="none" stroke="#000" stroke-width="5.9"/>
<path d="M4318 12235l-11 10 -5 10 -8 10 0 10 9 10 6 10 12 10 -8 10 -11 10 -13 10 5 10 4 10 10 10 -1 10 2 10 -7 10 -7 10 -1 10 3 10 4 10 13 10 2 10 -12 10 -9 10 -1 10 7 10 2 10 -3 10 12 10 -2 10 -1 10 -1 10 -9 10 -3 10 -9 10 9 10 10 10 7 10 -11 10 -6 10 -4 10 -4 10 4 10 8 10 7 10 -1 10 -1 10 -7 10 -8 10 -8 10 4 10 8 10 0 10 -11 10 2 10 2 10 5 10 1 10 6 10 -4 10 3 10 -2 10 -3 10 7 10 6 10 -4 10 -4 10 9 10 1 10 -3 10 3 10 -3 10 -17 10 -12 10 5 10 -2 10 -2 10 5 10 11 10 2 10 2 10 -6 10 6 10 3 10 -15 10 -4 10 -5 10 12 10 0 10 3 10 3 10 -1 10 -4 10 -7 10 6 10 7 10 3 10 -7 10 -9 10 8 10 10 10 7 10 4 10 3 10 -3 10 6 10 -12 10 -6 10 -1 10 1 10 -7 10 8 10 1 10 11 10 10 10 -7 10 -4 10 5 10 1 10 -7 10 -6 10 -1 10 -4 10 2 10 -9 10 -7 10 3 10 3 10 9 10 13 10 -1 10 -3 10" transform="scale(.1)" fill="none" stroke="#333" stroke-width="5.0"/>
<path d="M4319 7610l-8 5 5 5 0 5 -19 5 -13 5 36 5 18 5 -43 5 -23 5 6 5 49 5 -10 5 -37 5 0 5 17 5 31 5 -20 5 -24 5 29 5 25 5 -31 5 -23 5 17 5 -20 5 -9 5 4 5 34 5 13 5 -36 5 -10 5 30 5 -29 5 33 5 5 5 -16 5 7 5 16 5 -12 5 2 5 4 5 -16 5 0 5 18 5 15 5 -6 5 -22 5 16 5 -3 5 -38 5 -2 5 19 5 19 5 -1 5 -13 5 -15 5 6 5 -3 5 3 5 29 5 -13 5 -12 5 18 5 -2 5 -6 5 -21 5 17 5 29 5 -23 5 -17 5 2 5 0 5 7 5 37 5 1 5 -16 5 -8 5 -18 5 32 5 -2 5 19 5 -35 5 24 5 -8 5 -23 5 -6 5 11 5 17 5 -19 5 15 5 16 5 -11 5 -20 5 -26 5 19 5 33 5 4 5 -19 5 -14 5 3 5 24 5 -8 5 -16 5 -6 5 -16 5 9 5 16 5 -9 5 -13 5 12 5 3 5 -11 5 -12 5 22 5 25 5 12 5 -19 5 -21 5 4 5 36 5 -15 5 -26 5 -26 5 17 5 24 5 15 5 -38 5 3 5 50 5 -7 5 -43 5 -19 5 10 5 22 5 -8 5 12 5 40 5 -37 5 -27 5 31 5 21 5 -39 5 0 5 -14 5 11 5 19 5 -16 5 46 5 -42 5 -11 5 38 5 6 5 -26 5 -28 5 13 5 11 5 13 5 26 5 -66 5 41 5 5 5 -11 5 -17 5 19 5 14 5 -53 5 1 5 55 5 -16 5 -23 5 8 5 22 5 -14 5 19 5 -7 5 -8 5 0 5 -35 5 23 5 23 5 -56 5 40 5 -6 5 28 5 2 5 -18 5 -9 5 -47 5 37 5 24 5 -3 5 -17 5 -38 5 49 5 19 5 -32 5 -3 5 45 5 -8 5 -9 5 -30 5 -20 5 5 5 24 5 41 5 -10 5 -39 5 -30 5 21 5 10 5 4 5 -16 5 0 5 35 5 -9 5 22 5 -40 5 42 5 24 5 -46 5 -21 5 17 5 0 5 -19 5 -21 5 34 5 14 5 4 5 -3 5 0 5 -57 5 22 5 22 5 32 5 -3 5 -47 5 22 5 27 5 -35 5 -28 5 43 5 -2 5 -10 5 -1 5 40 5 -54 5 -48 5 74 5 19 5 6 5 -41 5 -6 5 6 5 17 5 -7 5 -17 5 -1 5 -14 5 58 5 -18 5 3 5 -3 5 -20 5 -9 5 26 5 -30 5 12 5 36 5 -51 5 8 5 19 5 26 5 -64 5 68 5 -63 5 -34 5 52 5 30 5 -32 5 0 5 1 5 14 5 -43 5 32 5 -32 5 62 5 36 5 -53 5 -52 5 -42 5 33 5 53 5 18 5 -32 5 -17 5 41 5 35 5 -11 5 -27 5 0 5 38 5 -15 5 -99 5 8 5 70 5 60 5 -92 5 -68 5 81 5 95 5 -67 5 -74 5 10 5 34 5 61 5 -46 5 -64 5 35 5 86 5 0 5 -54 5 -29 5 -23 5 63 5 28 5 -16 5 12 5 -63 5 9 5 16 5 -15 5 36 5 -38 5 71 5 18 5 -65 5 -36 5 29 5 37 5 -21 5 -69 5 65 5 -27 5 6 5 -6 5 17 5 42 5 -18 5 7 5 -47 5 -29 5 3 5 61 5 8 5 -22 5 36 5 -44 5 -17 5 22 5 -64 5 39 5 12 5 -23 5 52 5 15 5 -6 5 -22 5 11 5 24 5 -30 5 -32 5 14 5 -38 5 85 5 -42 5 -19 5 46 5 67 5 -64 5 -29 5 -37 5 13 5 27 5 31 5 26 5 7 5 -109 5 -24 5 57 5 55 5 15 5 -109 5 -40 5 109 5 91 5 -114 5 -88 5 32 5 119 5 -12 5 -44 5 -2 5 61 5 -53 5 -72 5 -41 5 159 5 38 5 -101 5 -42 5 67 5 -32 5 47 5 21 5 15 5 -83 5 9 5 44 5 -4 5 -48 5 -20 5 9 5 21 5 26 5 -2 5 -6 5 2 5 -11 5 -9 5 21 5 -18 5 12 5 -15 5 5 5 18 5 19 5 -16 5 -8 5 -34 5 25 5 35 5 -25 5 -23 5 10 5 31 5 -6 5 -28 5 -12 5 9 5 15 5 16 5 -12 5 2 5 -8 5 28 5 -34 5 -27 5 37 5 30 5 -26 5 -30 5 7 5 -3 5 29 5 -14 5 -19 5 14 5 1 5 -2 5 3 5 -13 5 17 5 10 5 -30 5 16 5 4 5 -9 5 -3 5 -1 5 9 5 2 5 10 5 -19 5 -7 5 22 5 -13 5 -1 5 -2 5 -7 5 14 5 26 5 -5 5 -39 5 -13 5 11 5 21 5 -4 5 -24 5 6 5 24 5 8 5 -8 5 -23 5 0 5 20 5 -12 5 -6 5 11 5 16 5 2 5 -26 5 -2 5 3 5 9 5 7 5 3 5 -6 5 -21 5 24 5 -4 5 -13 5 -8 5 29 5 -14 5 -7 5 7 5 3 5 17 5 -27 5 3 5 14 5 0 5 5 5 -19 5 27 5 2 5 -11 5 19 5 -14 5 -24 5 20 5 25 5 -30 5 -8 5 1 5 10 5 8 5 -14 5 2 5 3 5 -7 5 -22 5 -4 5 29 5 23 5 -8 5 -40 5 8 5 26 5 8 5 -41 5 13 5 30 5 -8 5 -5 5 -10 5 -3 5 8 5 26 5 -23 5 -23 5 3 5 39 5 -20 5 -9 5 4 5 16 5 -13 5 1 5 5 5 13 5 -11 5 -4 5 3 5 8 5 -12 5 -6 5 23 5 6 5 -26 5 -23 5 32 5 -4 5 8 5 -26 5 8 5 2 5 19 5 6 5 -22 5 3 5 -4 5 6 5 7 5 2 5 -1 5 -12 5 -9 5 11 5 -3 5 -2 5 -5 5 1 5 18 5 -4 5 -33 5 13 5 16 5 -4 5 -5 5 2 5 -4 5 2 5 8 5 -2 5 -4 5 3 5 14 5 -16 5 -13 5 10 5 2 5 9 5 -1 5 -28 5 -6 5 7 5 29 5 22 5 -14 5 -14 5 -17 5 -11 5 5 5 15 5 8 5 -1 5 -26 5 19 5 -7 5 7 5 0 5 4 5 -31 5 29 5 3 5 -20 5 17 5 0 5 -24 5 -12 5 17 5 25 5 7 5 -23 5 -6 5 7 5 12 5 16 5 -9 5 -15 5 -1 5 0 5 -9 5 26 5 5 5 -5 5 -21 5 -11 5 5 5 31 5 3 5 3 5 -24 5 8 5 -6 5 -15 5 24 5 13 5 -13 5 -10 5 -6 5 17 5 0 5 -2 5 7 5 -21 5 -8 5 17 5 -6 5 -3 5 10 5 5 5 -3 5 -23 5 46 5 -13 5 -29 5 2 5 13 5 30 5 -13 5 -17 5 -9 5 15 5 3 5 -17 5 12 5 24 5 -1 5 -19 5 -16 5 -19 5 38 5 16 5 -6 5 -33 5 15 5 3 5 -3 5 -1 5 -15 5 18 5 9 5 -8 5 -8 5 -4 5 15 5 3 5 -6 5 -1 5 8 5 -1 5 -4 5 -1 5 1 5 1 5 9 5 -13 5 -15 5 13 5 -2 5 -4 5 17 5 4 5 -8 5 -16 5 9 5 22 5 -10 5 -15 5 -6 5 12 5 24 5 -20 5 -33 5 9 5 23 5 21 5 -1 5 -51 5 -17 5 33 5 27 5 10 5 -18 5 -9 5 -13 5 19 5 -12 5 -21 5 9 5 25 5 6 5 -35 5 17 5 14 5 0 5 -17 5 16 5 -11 5 -1 5 -1 5 -1 5 7 5 0 5 13 5 -19 5 5 5 23 5 -19 5 0 5 4 5 -27 5 -3 5 46 5 11 5 -44 5 -19 5 11 5 17 5 12 5 7 5 -6 5 -21 5 4 5 10 5 -4 5 -7 5 5 5 -10 5 0 5 20 5 -9 5 -1 5 6 5 -9 5 -1 5 20 5 -1 5 -14 5 -11 5 -14 5 45 5 -6 5 -16 5 6 5 12 5 -20 5 6 5 -4 5 10 5 -15 5 2 5 22 5 0 5 -14 5 5 5 -25 5 7 5 16 5 1 5 -16 5 2 5 1 5 7 5 9 5 11 5 -27 5 1 5 -5 5 -11 5 -8 5 38 5 3 5 -23 5 -23 5 14 5 16 5 2 5 -3 5 -6 5 8 5 9 5 -2 5 6 5 1 5 -32 5 24 5 8 5 -11 5 -25 5 9 5 21 5 -3 5 -12 5 3 5 11 5 -22 5 21 5 -23 5 -2 5 18 5 12 5 7 5 -29 5 -8 5 11 5 5 5 10 5 12 5 -1 5 -11 5 -11 5 -11 5 5 5 15 5 -2 5 -18 5 2 5 8 5 26 5 -24 5 -16 5 4 5 26 5 0 5 2 5 -20 5 6 5 4 5 9 5 -2 5 -11 5 13 5 1 5" transform="scale(.1)" fill="none" stroke="#000" stroke-width="5.9"/>
<path d="M4336 12264l1 10 3 10 -4 10 -6 10 -4 10 0 10 7 10 4 10 1 10 5 10 2 10 1 10 -3 10 -8 10 0 10 1 10 1 10 1 10 7 10 9 10 -5 10 -2 10 -10 10 -4 10 8 10 -1 10 -8 10 5 10 13 10 8 10 1 10 -8 10 -7 10 -1 10 -3 10 -2 10 -3 10 -9 10 0 10 7 10 9 10 2 10 0 10 10 10 2 10 -2 10 -9 10 -11 10 4 10 -1 10 -5 10 7 10 2 10 12 10 2 10 -6 10 -1 10 -3 10 -1 10 -10 10 -7 10 4 10 7 10 2 10 -5 10 1 10 -1 10 0 10 11 10 13 10 -5 10 -5 10 -2 10 7 10 -1 10 -7 10 -8 10 5 10 2 10 -7 10 5 10 -5 10 1 10 -1 10 1 10 -4 10 9 10 2 10 8 10 9 10 -3 10 -20 10 -10 10 0 10 0 10 -3 10 5 10 -8 10 5 10 -2 10 0 10 -1 10 1 10 3 10 0 10 -8 10 5 10 -2 10 1 10 -1 10 16 10 7 10 3 10 -12 10 -7 10 -3 10 -9 10 14 10 8 10 17 10 -3 10 -2 10 -13 10 0 10 -3 10 -4 10 12 10 9 10 3 10" transform="scale(.1)" fill="none" stroke="#333" stroke-width="5.0"/>
<path d="M4334 7610l0 5 10 5 3 5 3 5 4 5 -7 5 13 5 12 5 -21 5 9 5 -13 5 -22 5 20 5 19 5 -24 5 -5 5 3 5 -1 5 -8 5 28 5 6 5 -23 5 -9 5 1 5 16 5 7 5 4 5 -10 5 0 5 29 5 -13 5 -12 5 -17 5 -1 5 2 5 11 5 2 5 -12 5 1 5 3 5 7 5 1 5 -4 5 -10 5 -1 5 19 5 22 5 -11 5 -5 5 -14 5 -18 5 -6 5 22 5 14 5 0 5 -1 5 -16 5 -12 5 20 5 -10 5 6 5 1 5 0 5 -23 5 0 5 41 5 -8 5 -14 5 -11 5 13 5 -2 5 -9 5 -6 5 17 5 15 5 -14 5 0 5 -1 5 -17 5 16 5 -9 5 -4 5 12 5 0 5 -27 5 16 5 20 5 -33 5 4 5 20 5 0 5 -29 5 8 5 27 5 -2 5 19 5 -5 5 -25 5 1 5 9 5 -13 5 5 5 3 5 16 5 12 5 -14 5 -39 5 33 5 20 5 -24 5 16 5 1 5 -9 5 -19 5 8 5 11 5 5 5 6 5 -35 5 2 5 30 5 14 5 -31 5 -10 5 -6 5 3 5 49 5 12 5 -42 5 -25 5 19 5 -9 5 9 5 18 5 -3 5 -10 5 -17 5 1 5 28 5 6 5 -20 5 -24 5 45 5 4 5 -23 5 -28 5 11 5 27 5 1 5 -18 5 -5 5 -5 5 12 5 10 5 -23 5 -1 5 13 5 21 5 -9 5 -1 5 -8 5 12 5 -32 5 -15 5 24 5 43 5 -24 5 -34 5 9 5 16 5 7 5 4 5 3 5 -25 5 -23 5 25 5 19 5 -8 5 27 5 -29 5 -9 5 25 5 -20 5 3 5 8 5 -17 5 4 5 -20 5 -6 5 18 5 -15 5 20 5 22 5 -28 5 -5 5 16 5 -25 5 35 5 11 5 -26 5 -1 5 -23 5 18 5 41 5 -21 5 -1 5 -19 5 -2 5 -1 5 16 5 13 5 -33 5 -14 5 32 5 37 5 -11 5 -39 5 8 5 20 5 -6 5 -3 5 3 5 -5 5 22 5 -9 5 -42 5 -22 5 45 5 31 5 -9 5 -25 5 15 5 -27 5 18 5 -11 5 -7 5 -19 5 67 5 47 5 -54 5 -72 5 -1 5 89 5 29 5 -54 5 -43 5 -20 5 43 5 23 5 -6 5 0 5 -17 5 -4 5 25 5 -13 5 -12 5 20 5 -23 5 28 5 -12 5 -9 5 -30 5 26 5 55 5 -25 5 -27 5 32 5 13 5 -8 5 -37 5 -10 5 -24 5 40 5 49 5 11 5 -55 5 -43 5 -17 5 73 5 -26 5 35 5 -1 5 -33 5 -10 5 19 5 31 5 7 5 -10 5 -27 5 5 5 1 5 41 5 -22 5 -6 5 -2 5 -38 5 6 5 51 5 15 5 -17 5 -95 5 17 5 65 5 22 5 -34 5 -80 5 -16 5 72 5 6 5 -19 5 51 5 -3 5 -15 5 -49 5 27 5 36 5 -52 5 41 5 50 5 -78 5 -24 5 35 5 39 5 -3 5 -3 5 -48 5 -20 5 8 5 38 5 34 5 13 5 -65 5 16 5 -4 5 -31 5 34 5 34 5 14 5 -58 5 15 5 -5 5 -31 5 -49 5 26 5 81 5 -6 5 6 5 -31 5 27 5 -12 5 9 5 -42 5 14 5 20 5 -17 5 8 5 -18 5 47 5 1 5 -18 5 -49 5 -10 5 32 5 51 5 -36 5 9 5 43 5 -56 5 -46 5 16 5 43 5 -2 5 -17 5 11 5 10 5 -6 5 2 5 -8 5 -22 5 12 5 -41 5 -1 5 -39 5 66 5 74 5 4 5 -57 5 -22 5 -11 5 18 5 29 5 63 5 -17 5 -4 5 -58 5 -4 5 -27 5 59 5 -15 5 25 5 -40 5 4 5 9 5 -14 5 29 5 21 5 -52 5 -49 5 54 5 33 5 0 5 -45 5 33 5 -45 5 -24 5 53 5 10 5 -10 5 6 5 -13 5 11 5 9 5 -5 5 -7 5 -13 5 1 5 9 5 20 5 7 5 -21 5 -11 5 -9 5 23 5 2 5 5 5 7 5 -30 5 3 5 17 5 17 5 -26 5 21 5 17 5 -23 5 -38 5 2 5 48 5 -5 5 -26 5 5 5 25 5 -6 5 -21 5 0 5 24 5 9 5 -4 5 -24 5 -19 5 -5 5 19 5 12 5 -16 5 10 5 5 5 -14 5 7 5 8 5 -13 5 -21 5 14 5 30 5 1 5 -31 5 14 5 3 5 -9 5 -1 5 14 5 -4 5 -18 5 6 5 7 5 -1 5 -9 5 8 5 -13 5 17 5 6 5 -8 5 -26 5 4 5 33 5 6 5 -26 5 -18 5 17 5 6 5 12 5 -21 5 18 5 -11 5 6 5 -10 5 -4 5 24 5 2 5 -6 5 -4 5 -1 5 -4 5 -11 5 5 5 15 5 3 5 1 5 -16 5 1 5 -15 5 7 5 14 5 -19 5 0 5 -2 5 -2 5 14 5 20 5 6 5 -10 5 -28 5 1 5 26 5 9 5 -7 5 -21 5 -22 5 15 5 32 5 0 5 -14 5 -8 5 -1 5 -3 5 10 5 3 5 4 5 -17 5 -2 5 -8 5 29 5 -1 5 -9 5 -4 5 -1 5 -17 5 4 5 39 5 17 5 -46 5 -5 5 -11 5 7 5 27 5 -13 5 3 5 -4 5 4 5 -14 5 8 5 15 5 6 5 -29 5 -15 5 15 5 15 5 -9 5 -13 5 30 5 -5 5 -3 5 -17 5 17 5 -10 5 8 5 19 5 -19 5 -14 5 -7 5 5 5 29 5 2 5 -21 5 2 5 0 5 8 5 -2 5 -17 5 2 5 22 5 -1 5 -16 5 -7 5 -3 5 16 5 15 5 5 5 -12 5 -10 5 -22 5 12 5 27 5 12 5 0 5 -31 5 -36 5 15 5 41 5 -11 5 -2 5 10 5 -6 5 -1 5 -8 5 -6 5 -18 5 23 5 14 5 -22 5 -9 5 24 5 6 5 -14 5 -2 5 -6 5 6 5 7 5 -26 5 11 5 23 5 -2 5 -5 5 -2 5 -14 5 8 5 4 5 15 5 -8 5 -15 5 -4 5 -6 5 14 5 -3 5 12 5 8 5 -13 5 -2 5 3 5 -8 5 7 5 13 5 -23 5 5 5 -10 5 5 5 16 5 -7 5 5 5 15 5 -19 5 -22 5 -8 5 8 5 31 5 8 5 -26 5 3 5 17 5 -2 5 -16 5 4 5 -1 5 -2 5 1 5 17 5 13 5 -31 5 -5 5 9 5 11 5 -14 5 6 5 0 5 0 5 23 5 -24 5 -3 5 -1 5 22 5 -5 5 -18 5 4 5 -3 5 16 5 -3 5 -16 5 6 5 9 5 0 5 7 5 7 5 -27 5 11 5 9 5 2 5 -8 5 -16 5 -12 5 36 5 4 5 -1 5 -34 5 14 5 18 5 17 5 -35 5 -7 5 6 5 22 5 8 5 -18 5 -15 5 -9 5 30 5 14 5 -7 5 -4 5 -12 5 -8 5 17 5 16 5 -9 5 -8 5 9 5 20 5 -12 5 -30 5 -9 5 46 5 0 5 -21 5 -18 5 -1 5 11 5 9 5 15 5 -7 5 -9 5 -8 5 -11 5 5 5 28 5 -22 5 16 5 11 5 -14 5 -10 5 -23 5 8 5 12 5 19 5 16 5 -22 5 -21 5 -5 5 25 5 15 5 -32 5 -6 5 12 5 18 5 -6 5 -6 5 6 5 3 5 -19 5 -7 5 10 5 2 5 4 5 -13 5 -13 5 0 5 8 5 31 5 11 5 -18 5 -11 5 -6 5 -9 5 6 5 7 5 -11 5 -13 5 14 5 10 5 -1 5 -2 5 -1 5 -5 5 18 5 -5 5 -24 5 -9 5 18 5 32 5 -4 5 -24 5 -23 5 25 5 7 5 -10 5 -8 5 21 5 -11 5 -20 5 9 5 24 5 0 5 -24 5 -21 5 25 5 6 5 -27 5 5 5 25 5 18 5 -2 5 -26 5 -14 5 9 5 29 5 -2 5 -23 5 8 5 13 5 21 5 -7 5 -24 5 3 5 13 5 -20 5 1 5 12 5 -13 5 7 5 -4 5 -3 5 9 5 4 5 22 5 2 5 -5 5 -9 5 -23 5 -10 5 45 5 -6 5 -22 5 -7 5 13 5 14 5 -4 5 -14 5 10 5 -1 5 -12 5 -6 5 6 5 10 5 -2 5 -5 5 -10 5 27 5 -1 5 -15 5 -17 5 3 5 31 5 8 5 -26 5 -3 5 -14 5 9 5 13 5 -8 5 14 5 5 5 -21 5 -22 5 -4 5 21 5 22 5 -9 5 -1 5 -15 5 3 5 6 5 -15 5 6 5 1 5 6 5 8 5 -10 5 -1 5 32 5 -21 5 -4 5 14 5 2 5 -24 5 -8 5 21 5 -4 5 -16 5 4 5 25 5 9 5 -11 5 -29 5 -4 5 22 5" transform="scale(.1)" fill="none" stroke="#000" stroke-width="5.9"/>
<path d="M4420 12249l-18 5 9 5 3 5 6 5 -9 5 3 5 5 5 -6 5 10 5 -2 5 0 5 4 5 -5 5 6 5 -10 5 0 5 3 5 4 5 -3 5 -6 5 10 5 -1 5 -12 5 7 5 6 5 -14 5 2 5 0 5 8 5 -1 5 -7 5 7 5 1 5 0 5 -9 5 -4 5 11 5 8 5 -15 5 4 5 10 5 -10 5 -10 5 17 5 -6 5 3 5 4 5 0 5 -3 5 -8 5 8 5 -3 5 -6 5 -2 5 9 5 1 5 5 5 -18 5 6 5 15 5 -5 5 -8 5 2 5 6 5 4 5 -6 5 -5 5 -3 5 4 5 -1 5 -10 5 18 5 -1 5 -7 5 4 5 3 5 -9 5 2 5 5 5 1 5 -16 5 8 5 5 5 8 5 -6 5 3 5 3 5 -6 5 0 5 5 5 -4 5 1 5 4 5 -10 5 0 5 1 5 4 5 8 5 -15 5 3 5 6 5 2 5 -7 5 2 5 8 5 -8 5 -4 5 0 5 -2 5 11 5 2 5 -10 5 6 5 4 5 -13 5 5 5 3 5 -7 5 -3 5 19 5 -16 5 -14 5 13 5 17 5 -11 5 -7 5 0 5 1 5 -1 5 -6 5 21 5 -6 5 -13 5 10 5 3 5 -6 5 -5 5 15 5 -10 5 0 5 1 5 2 5 -3 5 -4 5 4 5 1 5 -5 5 1 5 1 5 4 5 0 5 6 5 7 5 -14 5 -3 5 5 5 1 5 -7 5 2 5 4 5 -2 5 -4 5 1 5 1 5 2 5 -1 5 -5 5 7 5 -2 5 0 5 7 5 2 5 -11 5 -6 5 2 5 -2 5 13 5 -5 5 3 5 -10 5 4 5 6 5 -2 5 14 5 -11 5 -12 5 9 5 5 5 -10 5 -3 5 14 5 2 5 -17 5 3 5 7 5 4 5 -2 5 1 5 -6 5 2 5 9 5 -7 5 -10 5 5 5 13 5 -11 5 -4 5 5 5 -4 5 -3 5 10 5 0 5 -9 5 7 5 1 5 -1 5 -2 5 -4 5 4 5 3 5 -7 5 7 5 -9 5 6 5 2 5 -1 5 0 5 3 5 5 5 -12 5 3 5 1 5 8 5 -9 5 -1 5 9 5 5 5 -8 5 1 5 9 5 -5 5 -7 5 11 5 6 5 -4 5 -7 5 -7 5 8 5 1 5 -8 5 12 5 -9 5 -1 5 7 5 3 5 -14 5 0 5 11 5 -8 5 -6 5 13 5 2 5" transform="scale(.1)" fill="none" stroke="#111" stroke-width="5.9"/>
<path d="M4410 7610l2 5 33 5 -16 5 -25 5 -13 5 58 5 -9 5 -13 5 1 5 25 5 -46 5 27 5 -17 5 15 5 -2 5 14 5 -19 5 4 5 16 5 -22 5 -9 5 18 5 19 5 -45 5 -9 5 36 5 45 5 -56 5 -20 5 12 5 -9 5 17 5 -7 5 19 5 -20 5 2 5 12 5 -3 5 -6 5 1 5 48 5 -41 5 -36 5 33 5 27 5 -23 5 -46 5 19 5 43 5 -22 5 20 5 -10 5 -53 5 35 5 29 5 -21 5 -14 5 10 5 12 5 3 5 -12 5 -40 5 -15 5 22 5 47 5 7 5 -11 5 25 5 -47 5 -8 5 -4 5 28 5 22 5 -16 5 -43 5 39 5 -43 5 11 5 44 5 -27 5 5 5 -32 5 5 5 56 5 -16 5 -58 5 26 5 -12 5 81 5 -32 5 -13 5 -48 5 67 5 17 5 -66 5 15 5 44 5 22 5 -64 5 -40 5 92 5 -3 5 -92 5 30 5 47 5 -3 5 -27 5 7 5 27 5 -49 5 13 5 9 5 17 5 -8 5 15 5 -31 5 18 5 4 5 17 5 -12 5 -30 5 41 5 -36 5 0 5 -18 5 53 5 -51 5 -35 5 56 5 19 5 25 5 -43 5 -42 5 41 5 20 5 0 5 -107 5 82 5 56 5 -60 5 18 5 -23 5 19 5 -23 5 -3 5 46 5 -23 5 -12 5 -55 5 64 5 20 5 -20 5 52 5 -16 5 -54 5 35 5 -16 5 22 5 -68 5 -1 5 66 5 27 5 -33 5 -15 5 -26 5 58 5 -13 5 -95 5 68 5 44 5 -30 5 -67 5 70 5 27 5 -42 5 5 5 -8 5 6 5 55 5 -102 5 18 5 76 5 -34 5 -27 5 -8 5 76 5 -115 5 43 5 86 5 -5 5 -34 5 -79 5 12 5 49 5 -34 5 52 5 -73 5 66 5 1 5 -21 5 -20 5 -6 5 47 5 -48 5 -29 5 30 5 34 5 -53 5 31 5 75 5 -52 5 -34 5 -51 5 40 5 61 5 -39 5 -15 5 -38 5 36 5 16 5 47 5 15 5 7 5 25 5 -120 5 5 5 134 5 -77 5 -75 5 83 5 6 5 -82 5 -11 5 111 5 -41 5 -65 5 71 5 84 5 -142 5 -26 5 99 5 145 5 -188 5 -71 5 67 5 39 5 -71 5 25 5 135 5 -158 5 47 5 36 5 -82 5 -25 5 130 5 -100 5 19 5 103 5 -167 5 -14 5 113 5 84 5 -98 5 -109 5 95 5 15 5 -53 5 16 5 94 5 -1 5 -134 5 -5 5 140 5 38 5 -145 5 11 5 75 5 -14 5 -62 5 68 5 10 5 -105 5 15 5 131 5 -34 5 -118 5 48 5 109 5 -12 5 -107 5 -3 5 46 5 -28 5 -81 5 110 5 34 5 -61 5 -3 5 83 5 -57 5 2 5 67 5 -83 5 -89 5 81 5 54 5 -5 5 -33 5 59 5 -54 5 -44 5 25 5 33 5 14 5 57 5 -80 5 -36 5 -17 5 54 5 31 5 -87 5 49 5 69 5 5 5 -91 5 -4 5 75 5 -50 5 -81 5 93 5 12 5 -34 5 -43 5 46 5 -32 5 -22 5 84 5 18 5 13 5 -149 5 105 5 -48 5 50 5 3 5 -79 5 75 5 2 5 -77 5 23 5 62 5 -21 5 -62 5 -29 5 115 5 21 5 -123 5 86 5 -33 5 39 5 71 5 -65 5 -39 5 -16 5 125 5 -97 5 -77 5 103 5 31 5 -56 5 -61 5 104 5 -80 5 107 5 -49 5 -32 5 28 5 -32 5 30 5 13 5 -30 5 -23 5 83 5 -11 5 -145 5 27 5 208 5 -127 5 -149 5 131 5 80 5 -89 5 -43 5 39 5 55 5 -8 5 -53 5 -24 5 42 5 28 5 -34 5 -7 5 33 5 -45 5 10 5 6 5 13 5 19 5 -13 5 -28 5 1 5 29 5 -12 5 17 5 -40 5 0 5 18 5 -15 5 42 5 -42 5 30 5 26 5 -42 5 -8 5 -2 5 38 5 -6 5 -56 5 38 5 72 5 -71 5 -38 5 -1 5 64 5 6 5 -49 5 -6 5 35 5 25 5 -27 5 5 5 -24 5 6 5 -16 5 33 5 31 5 -14 5 -58 5 8 5 35 5 -3 5 -31 5 24 5 -15 5 22 5 -25 5 24 5 3 5 -37 5 24 5 4 5 -22 5 20 5 18 5 -43 5 21 5 37 5 -14 5 -27 5 10 5 -13 5 50 5 -6 5 -54 5 -7 5 54 5 -10 5 -31 5 3 5 47 5 -48 5 -13 5 61 5 -13 5 -32 5 33 5 27 5 -66 5 9 5 16 5 11 5 -3 5 -33 5 34 5 15 5 -21 5 -17 5 46 5 -10 5 -15 5 -3 5 14 5 -17 5 10 5 -23 5 -6 5 31 5 0 5 -34 5 23 5 -3 5 -7 5 26 5 -18 5 -14 5 17 5 -3 5 14 5 -9 5 -34 5 23 5 7 5 -13 5 21 5 4 5 -22 5 12 5 9 5 -1 5 -14 5 4 5 15 5 -43 5 13 5 34 5 -35 5 -4 5 7 5 15 5 -2 5 -21 5 46 5 -37 5 -5 5 21 5 -15 5 -13 5 -8 5 26 5 13 5 -47 5 13 5 6 5 -13 5 13 5 31 5 -2 5 -45 5 7 5 38 5 -18 5 -42 5 63 5 0 5 -69 5 68 5 0 5 -30 5 12 5 -2 5 8 5 3 5 9 5 -27 5 6 5 -12 5 28 5 5 5 10 5 -59 5 21 5 2 5 20 5 2 5 -57 5 37 5 50 5 -41 5 -13 5 -7 5 9 5 40 5 -29 5 -13 5 7 5 -1 5 30 5 -34 5 -18 5 12 5 34 5 21 5 -78 5 16 5 52 5 -8 5 -25 5 11 5 -22 5 11 5 34 5 -25 5 -53 5 35 5 37 5 -37 5 22 5 -22 5 3 5 -12 5 49 5 -8 5 -3 5 -16 5 4 5 -7 5 -8 5 35 5 -15 5 -37 5 37 5 22 5 -46 5 12 5 -35 5 32 5 -1 5 2 5 -5 5 29 5 -3 5 -36 5 -11 5 17 5 -9 5 15 5 -6 5 12 5 -27 5 1 5 38 5 1 5 -67 5 16 5 64 5 -10 5 -52 5 22 5 30 5 -14 5 -26 5 31 5 -23 5 32 5 -18 5 -9 5 -20 5 26 5 24 5 -32 5 -16 5 3 5 53 5 -34 5 -10 5 5 5 5 5 18 5 -12 5 0 5 -22 5 19 5 -1 5 13 5 -29 5 -12 5 19 5 -2 5 5 5 -12 5 45 5 -12 5 -12 5 7 5 1 5 5 5 -33 5 -15 5 60 5 -6 5 -40 5 19 5 31 5 -68 5 -1 5 80 5 -12 5 -69 5 21 5 46 5 -40 5 -14 5 34 5 27 5 -48 5 8 5 19 5 18 5 -51 5 14 5 51 5 -63 5 0 5 21 5 18 5 -6 5 -16 5 -19 5 35 5 16 5 -42 5 -27 5 29 5 2 5 -11 5 15 5 8 5 -11 5 -29 5 1 5 48 5 7 5 -57 5 44 5 6 5 -27 5 25 5 -5 5 -48 5 35 5 -3 5 12 5 -31 5 5 5 21 5 -16 5 20 5 0 5 5 5 -17 5 18 5 -32 5 27 5 -11 5 18 5 1 5 14 5 -31 5 3 5 -25 5 2 5 35 5 10 5 -8 5 -25 5 -23 5 68 5 -19 5 -39 5 40 5 21 5 -41 5 -2 5 1 5 9 5 16 5 -13 5 -24 5 -8 5 23 5 6 5 7 5 -12 5 9 5 4 5 14 5 -51 5 45 5 11 5 -25 5 -31 5 67 5 -36 5 -23 5 33 5 1 5 -24 5 -1 5 14 5 9 5 -34 5 29 5 3 5 -10 5 -8 5 8 5 -20 5 20 5 -4 5 24 5 -17 5 -46 5 42 5 45 5 -56 5 -17 5 22 5 14 5 18 5 -23 5 -24 5 3 5 45 5 -15 5 -44 5 29 5 43 5 -29 5 -39 5 30 5 9 5 12 5 6 5 -48 5 13 5 6 5 -9 5 12 5 20 5 -28 5 -12 5 23 5 3 5 -30 5 20 5 49 5 -70 5 -10 5 38 5 13 5 5 5 -16 5 -25 5 16 5 26 5 -21 5 -9 5 11 5 -10 5 40 5 -33 5 1 5 27 5 -33 5 28 5 -19 5 -1 5 -17 5 23 5 5 5 -17 5 -15 5 48 5 -13 5 -26 5 10 5 3 5 19 5 -35 5 6 5 32 5 -38 5 -5 5 42 5 7 5 -24 5 -18 5 2 5 24 5 -23 5 18 5 -12 5 -1 5 18 5 -7 5 -3 5 -1 5 -13 5 34 5 -20 5 -53 5 22 5 45 5 -9 5 -28 5 -9 5 37 5 6 5 -19 5 0 5 16 5 6 5 -26 5 14 5 -13 5 16 5 -27 5 -2 5 20 5" transform="scale(.1)" fill="none" stroke="#000" stroke-width="7.2"/>
<path d="M4655 12235l1 10 1 10 0 10 0 10 -2 10 -1 10 0 10 -1 10 -3 10 1 10 1 10 0 10 1 10 -1 10 1 10 -1 10 0 10 -1 10 1 10 -1 10 0 10 0 10 -1 10 0 10 0 10 1 10 0 10 1 10 -2 10 -1 10 1 10 1 10 0 10 -1 10 -1 10 0 10 0 10 0 10 0 10 -1 10 1 10 1 10 0 10 0 10 0 10 1 10 -1 10 0 10 -2 10 1 10 1 10 1 10 -1 10 1 10 -3 10 -2 10 0 10 0 10 1 10 2 10 1 10 0 10 -2 10 1 10 2 10 1 10 -1 10 1 10 1 10 0 10 -1 10 -1 10 1 10 1 10 0 10 1 10 0 10 -1 10 -1 10 0 10 1 10 1 10 2 10 -1 10 -2 10 0 10 1 10 0 10 0 10 0 10 2 10 1 10 0 10 -2 10 -1 10 1 10 0 10 -1 10 0 10 0 10 0 10 0 10 -1 10 -1 10 1 10 1 10 -1 10 0 10 2 10 2 10 0 10 -2 10 -1 10 0 10 3 10 1 10 -2 10 -1 10 0 10 0 10 0 10 0 10 0 10 -1 10 -1 10 1 10 2 10 2 10 -2 10 0 10 0 10 -1 10" transform="scale(.1)" fill="none" stroke="#555" stroke-width="5.5"/>
<path d="M4654 7610l0 5 2 5 9 5 -1 5 -23 5 11 5 16 5 -10 5 -17 5 9 5 -3 5 12 5 5 5 -4 5 -31 5 2 5 8 5 -8 5 26 5 23 5 -52 5 -1 5 20 5 19 5 -12 5 12 5 -7 5 -14 5 -9 5 -4 5 22 5 12 5 4 5 -28 5 21 5 -16 5 -4 5 5 5 -4 5 -7 5 -15 5 14 5 21 5 4 5 -30 5 -28 5 32 5 31 5 27 5 -46 5 -19 5 -4 5 15 5 20 5 11 5 -32 5 6 5 -19 5 13 5 23 5 6 5 -15 5 -36 5 44 5 -1 5 2 5 -25 5 16 5 1 5 3 5 -27 5 -16 5 29 5 20 5 27 5 -50 5 -28 5 -11 5 45 5 41 5 -13 5 -54 5 -11 5 43 5 36 5 -26 5 -9 5 -20 5 -6 5 29 5 21 5 -18 5 -41 5 7 5 18 5 12 5 3 5 7 5 -37 5 10 5 16 5 -9 5 -1 5 -17 5 11 5 26 5 -16 5 -11 5 -5 5 14 5 13 5 -14 5 -5 5 -6 5 -3 5 22 5 21 5 -12 5 -8 5 20 5 -30 5 2 5 -9 5 10 5 6 5 -9 5 2 5 33 5 -15 5 -20 5 -5 5 21 5 -16 5 11 5 4 5 -18 5 -6 5 -6 5 12 5 46 5 -36 5 -21 5 0 5 39 5 15 5 -16 5 -43 5 27 5 53 5 -17 5 -69 5 27 5 31 5 29 5 -27 5 -22 5 -40 5 17 5 40 5 13 5 -20 5 -28 5 9 5 46 5 -13 5 -45 5 -12 5 14 5 43 5 -7 5 -8 5 15 5 -16 5 -10 5 17 5 2 5 -16 5 -37 5 24 5 40 5 -56 5 -9 5 41 5 -20 5 2 5 16 5 73 5 -22 5 -51 5 -28 5 12 5 15 5 15 5 -11 5 -23 5 12 5 -15 5 59 5 -29 5 -15 5 24 5 -3 5 -31 5 14 5 24 5 11 5 -54 5 -18 5 38 5 41 5 -57 5 -16 5 17 5 5 5 22 5 16 5 -17 5 -21 5 2 5 -31 5 -34 5 8 5 92 5 -5 5 12 5 -34 5 -49 5 24 5 0 5 37 5 47 5 -76 5 -47 5 22 5 79 5 4 5 19 5 -72 5 -7 5 13 5 43 5 -58 5 -13 5 31 5 35 5 34 5 -31 5 -20 5 -9 5 10 5 -42 5 -3 5 -3 5 -19 5 36 5 42 5 -11 5 4 5 -50 5 38 5 24 5 -71 5 81 5 -16 5 -23 5 1 5 37 5 -6 5 -43 5 -6 5 10 5 3 5 -47 5 61 5 27 5 -22 5 14 5 38 5 -33 5 -23 5 -3 5 -59 5 14 5 34 5 48 5 22 5 -82 5 6 5 3 5 -7 5 -18 5 3 5 16 5 14 5 -20 5 -47 5 51 5 59 5 63 5 -136 5 -15 5 83 5 -18 5 -87 5 -43 5 109 5 24 5 63 5 -58 5 -54 5 -34 5 42 5 32 5 -34 5 22 5 -4 5 13 5 -77 5 -6 5 29 5 81 5 -51 5 -53 5 -4 5 62 5 25 5 -10 5 -33 5 -15 5 -11 5 65 5 -19 5 -61 5 18 5 68 5 -30 5 12 5 47 5 -19 5 -30 5 -23 5 -60 5 12 5 81 5 5 5 13 5 -12 5 -12 5 -3 5 10 5 16 5 -59 5 -52 5 50 5 -29 5 51 5 26 5 33 5 -73 5 -18 5 11 5 45 5 -50 5 -2 5 51 5 15 5 8 5 28 5 -100 5 -3 5 25 5 16 5 -5 5 11 5 -15 5 -21 5 21 5 22 5 2 5 -14 5 -21 5 -3 5 6 5 11 5 0 5 -3 5 20 5 -19 5 -1 5 -17 5 16 5 4 5 -1 5 -16 5 -6 5 9 5 43 5 9 5 -50 5 -30 5 37 5 21 5 -21 5 -2 5 -14 5 1 5 12 5 15 5 -1 5 -28 5 21 5 -10 5 11 5 5 5 -8 5 -21 5 23 5 0 5 0 5 4 5 -12 5 -13 5 22 5 5 5 5 5 -16 5 -11 5 22 5 -7 5 -20 5 7 5 19 5 -8 5 10 5 5 5 -17 5 -8 5 7 5 22 5 -3 5 -12 5 -24 5 9 5 29 5 -10 5 -3 5 -2 5 15 5 -4 5 -9 5 -19 5 9 5 7 5 4 5 13 5 -14 5 5 5 -31 5 17 5 33 5 3 5 -28 5 -5 5 9 5 -4 5 2 5 10 5 -18 5 14 5 17 5 -18 5 -18 5 14 5 -4 5 31 5 -10 5 -3 5 -19 5 -13 5 19 5 6 5 -15 5 -4 5 8 5 -14 5 11 5 17 5 -10 5 -11 5 -3 5 0 5 26 5 -1 5 -13 5 -7 5 -6 5 4 5 17 5 -13 5 11 5 6 5 -7 5 -20 5 2 5 21 5 3 5 -18 5 -7 5 11 5 25 5 -18 5 -20 5 -11 5 18 5 23 5 -8 5 4 5 -27 5 -3 5 15 5 11 5 9 5 -6 5 -12 5 0 5 17 5 -19 5 -13 5 -1 5 33 5 -16 5 -2 5 7 5 16 5 2 5 3 5 -21 5 -16 5 1 5 24 5 -3 5 14 5 -9 5 -3 5 -4 5 2 5 -9 5 -1 5 18 5 8 5 -13 5 10 5 -20 5 12 5 -11 5 13 5 -24 5 1 5 5 5 0 5 17 5 -6 5 -10 5 -7 5 7 5 -1 5 -6 5 3 5 33 5 -8 5 -13 5 -9 5 12 5 -8 5 6 5 19 5 7 5 -9 5 -19 5 -24 5 2 5 44 5 -10 5 -21 5 4 5 27 5 -1 5 -16 5 -29 5 14 5 13 5 -4 5 -9 5 15 5 13 5 -8 5 -15 5 11 5 -2 5 -27 5 12 5 14 5 -1 5 8 5 -16 5 8 5 17 5 -4 5 -20 5 12 5 11 5 -6 5 -18 5 1 5 6 5 -7 5 3 5 10 5 -19 5 -13 5 12 5 18 5 -2 5 -8 5 1 5 0 5 6 5 15 5 -2 5 -13 5 -10 5 -7 5 6 5 0 5 -7 5 7 5 -25 5 9 5 15 5 -4 5 16 5 -13 5 -9 5 8 5 -4 5 -7 5 4 5 11 5 -2 5 -5 5 5 5 -11 5 -13 5 21 5 2 5 -9 5 7 5 14 5 -3 5 3 5 1 5 -6 5 -4 5 -1 5 -4 5 3 5 -2 5 16 5 -20 5 -17 5 16 5 15 5 -20 5 12 5 5 5 7 5 -2 5 -14 5 -20 5 10 5 34 5 -9 5 -33 5 1 5 20 5 19 5 -2 5 -20 5 -23 5 -2 5 31 5 8 5 -13 5 -23 5 -2 5 22 5 12 5 -19 5 14 5 11 5 20 5 -7 5 -22 5 0 5 8 5 7 5 -4 5 -17 5 4 5 9 5 -5 5 9 5 17 5 -30 5 -30 5 25 5 1 5 0 5 11 5 -10 5 1 5 -1 5 -8 5 -1 5 10 5 3 5 -25 5 16 5 23 5 12 5 -33 5 4 5 30 5 -26 5 -30 5 17 5 10 5 16 5 3 5 -27 5 1 5 -2 5 24 5 -4 5 -5 5 -6 5 -10 5 21 5 6 5 -15 5 -5 5 17 5 -15 5 -13 5 11 5 -1 5 13 5 -6 5 0 5 1 5 9 5 19 5 -9 5 -2 5 -11 5 4 5 -17 5 -27 5 22 5 24 5 -5 5 -19 5 -4 5 10 5 6 5 15 5 -8 5 -15 5 -10 5 2 5 33 5 8 5 -15 5 -15 5 -10 5 20 5 3 5 17 5 4 5 -31 5 -9 5 -4 5 20 5 10 5 -13 5 3 5 -3 5 0 5 19 5 -12 5 -2 5 -35 5 4 5 26 5 7 5 -14 5 11 5 18 5 -22 5 -18 5 -7 5 41 5 17 5 -22 5 -30 5 4 5 7 5 -9 5 25 5 -10 5 12 5 3 5 -15 5 -9 5 9 5 12 5 5 5 -15 5 0 5 5 5 -3 5 12 5 -32 5 6 5 21 5 -12 5 -2 5 19 5 8 5 -10 5 -23 5 11 5 14 5 -8 5 -3 5 10 5 -4 5 -6 5 -3 5 1 5 -6 5 -7 5 9 5 6 5 4 5 -15 5 -17 5 27 5 20 5 -17 5 -3 5 4 5 -11 5 3 5 8 5 3 5 -16 5 20 5 -6 5 -26 5 3 5 2 5 22 5 -1 5 -14 5 -5 5 -4 5 13 5 17 5 -12 5 -30 5 12 5 11 5 -9 5 4 5 24 5 -3 5 -31 5 -5 5 7 5 31 5 -10 5 -8 5 -20 5 -8 5 23 5 7 5 -7 5 12 5 -9 5 7 5 3 5 -24 5 -5 5 4 5 13 5 8 5 -6 5 0 5 -4 5 -3 5 -2 5 11 5 19 5 -8 5 -31 5 -5 5 30 5 -2 5 -22 5 -14 5 41 5 7 5 -18 5 -6 5" transform="scale(.1)" fill="none" stroke="#000" stroke-width="5.9"/>
<path d="M4759 12279l2 10 -1 10 0 10 0 10 1 10 -2 10 -1 10 0 10 0 10 0 10 0 10 -2 10 1 10 2 10 0 10 0 10 0 10 0 10 -1 10 1 10 -1 10 0 10 0 10 -1 10 0 10 0 10 1 10 0 10 -2 10 -1 10 1 10 1 10 1 10 -1 10 0 10 -1 10 1 10 0 10 -1 10 0 10 -1 10 0 10 0 10 1 10 0 10 1 10 -1 10 0 10 0 10 -1 10 0 10 1 10 1 10 0 10 -3 10 0 10 1 10 -1 10 -2 10 1 10 -1 10 1 10 0 10 1 10 -2 10 0 10 1 10 0 10 1 10 -2 10 -1 10 0 10 2 10 0 10 1 10 -2 10 -2 10 -1 10 2 10 0 10 2 10 -2 10 0 10 0 10 2 10 1 10 -1 10 -1 10 0 10 0 10 0 10 -1 10 0 10 1 10 1 10 -1 10 -1 10 0 10 0 10 1 10 2 10 1 10 0 10 -1 10 0 10 0 10 -1 10 0 10 0 10 0 10 -1 10 0 10 1 10 -1 10 2 10 0 10 0 10 2 10 0 10 -2 10 -1 10 1 10 1 10 -1 10 -1 10 0 10 -1 10 -2 10" transform="scale(.1)" fill="none" stroke="#555" stroke-width="5.5"/>
<path d="M4758 7610l-15 5 -8 5 24 5 11 5 -24 5 -21 5 12 5 33 5 -13 5 -29 5 -7 5 44 5 18 5 -39 5 -31 5 22 5 28 5 6 5 -23 5 -15 5 13 5 15 5 5 5 -21 5 -6 5 9 5 -5 5 18 5 -12 5 -21 5 -3 5 14 5 23 5 -11 5 4 5 -1 5 -6 5 -3 5 -12 5 14 5 9 5 0 5 -16 5 0 5 2 5 15 5 -7 5 0 5 -1 5 -40 5 35 5 25 5 -13 5 -24 5 8 5 18 5 -15 5 -13 5 11 5 20 5 -1 5 7 5 -11 5 -16 5 9 5 -10 5 34 5 -11 5 -3 5 -8 5 -14 5 16 5 16 5 3 5 -36 5 -2 5 20 5 -15 5 25 5 16 5 -32 5 -6 5 31 5 -4 5 -22 5 -1 5 -9 5 36 5 7 5 -12 5 -8 5 -14 5 -7 5 2 5 20 5 -17 5 25 5 1 5 -23 5 -23 5 0 5 28 5 -1 5 -2 5 6 5 15 5 -13 5 -7 5 -2 5 -1 5 -33 5 23 5 33 5 -7 5 7 5 -54 5 -2 5 35 5 17 5 -36 5 24 5 17 5 -25 5 -13 5 4 5 11 5 40 5 -23 5 -16 5 -2 5 -13 5 -5 5 52 5 -31 5 0 5 7 5 -1 5 -23 5 3 5 6 5 21 5 -2 5 -14 5 31 5 -14 5 -44 5 -4 5 69 5 -28 5 -13 5 -3 5 16 5 32 5 -12 5 -53 5 1 5 29 5 0 5 -9 5 9 5 18 5 -26 5 10 5 9 5 -16 5 23 5 -2 5 -14 5 -7 5 10 5 40 5 -17 5 -20 5 -17 5 18 5 8 5 3 5 -22 5 -30 5 42 5 14 5 -2 5 -31 5 -2 5 22 5 -3 5 3 5 -26 5 27 5 6 5 -26 5 2 5 31 5 -6 5 38 5 -21 5 -62 5 -9 5 46 5 -42 5 16 5 17 5 30 5 -21 5 -6 5 22 5 -12 5 -6 5 -22 5 -17 5 10 5 58 5 -34 5 -7 5 1 5 21 5 -27 5 -16 5 33 5 -20 5 24 5 -25 5 -6 5 42 5 14 5 -17 5 -76 5 18 5 67 5 3 5 -31 5 -42 5 -9 5 21 5 22 5 -11 5 9 5 6 5 23 5 -46 5 2 5 12 5 -43 5 32 5 30 5 12 5 -10 5 -12 5 -53 5 23 5 66 5 -30 5 -14 5 -6 5 3 5 -16 5 23 5 8 5 -30 5 6 5 -8 5 40 5 -17 5 -38 5 28 5 43 5 -14 5 -12 5 20 5 -41 5 -14 5 48 5 -20 5 12 5 18 5 20 5 -61 5 6 5 0 5 0 5 4 5 -3 5 -6 5 24 5 -28 5 0 5 35 5 -1 5 -62 5 7 5 58 5 12 5 -49 5 -14 5 19 5 40 5 -32 5 6 5 15 5 -21 5 -7 5 -25 5 39 5 40 5 -54 5 -23 5 -4 5 37 5 57 5 -41 5 -35 5 -49 5 10 5 86 5 44 5 -63 5 -40 5 -12 5 46 5 6 5 -7 5 12 5 -25 5 8 5 26 5 -10 5 -41 5 5 5 2 5 49 5 26 5 -67 5 -3 5 33 5 -13 5 -27 5 4 5 59 5 -42 5 -37 5 8 5 45 5 51 5 -20 5 -40 5 -13 5 -7 5 17 5 -18 5 17 5 -34 5 55 5 -24 5 -8 5 3 5 25 5 -6 5 -55 5 16 5 46 5 19 5 -3 5 -34 5 -35 5 40 5 47 5 -57 5 -40 5 25 5 8 5 -3 5 28 5 13 5 -69 5 -3 5 35 5 69 5 13 5 -35 5 -73 5 32 5 46 5 1 5 -32 5 -54 5 16 5 39 5 13 5 -30 5 -4 5 -8 5 75 5 -63 5 39 5 -14 5 29 5 -59 5 10 5 -25 5 28 5 26 5 -30 5 -6 5 -6 5 3 5 11 5 22 5 -6 5 -15 5 -11 5 4 5 9 5 6 5 -3 5 -9 5 -1 5 5 5 -6 5 -12 5 -3 5 29 5 -8 5 6 5 5 5 -10 5 -12 5 -3 5 7 5 2 5 7 5 -8 5 6 5 -18 5 5 5 2 5 -1 5 -5 5 5 5 5 5 17 5 6 5 -13 5 -4 5 17 5 -15 5 -5 5 8 5 -13 5 5 5 6 5 -10 5 11 5 2 5 4 5 -7 5 -18 5 22 5 8 5 -9 5 -4 5 9 5 -6 5 -2 5 -7 5 22 5 -20 5 2 5 -5 5 -10 5 4 5 14 5 20 5 -12 5 -19 5 4 5 6 5 17 5 -16 5 -18 5 15 5 0 5 -22 5 28 5 18 5 -26 5 -18 5 12 5 13 5 -24 5 5 5 21 5 9 5 -28 5 1 5 2 5 12 5 -4 5 -1 5 5 5 -3 5 -19 5 7 5 8 5 4 5 14 5 -15 5 -6 5 10 5 -3 5 -18 5 6 5 14 5 18 5 0 5 -23 5 -34 5 31 5 25 5 -28 5 -5 5 7 5 5 5 6 5 -8 5 -17 5 2 5 21 5 18 5 -29 5 -10 5 23 5 -1 5 -21 5 -3 5 35 5 -9 5 -22 5 -9 5 24 5 34 5 -38 5 -23 5 14 5 30 5 -7 5 -11 5 0 5 6 5 12 5 -16 5 -7 5 -6 5 17 5 11 5 -1 5 -8 5 -8 5 3 5 -7 5 4 5 -4 5 20 5 -22 5 -1 5 -5 5 29 5 -20 5 5 5 -9 5 -1 5 15 5 3 5 -9 5 -9 5 -1 5 26 5 9 5 -33 5 -9 5 23 5 7 5 -13 5 -4 5 -5 5 8 5 0 5 15 5 -20 5 -12 5 8 5 17 5 6 5 -21 5 -10 5 22 5 3 5 -21 5 -1 5 20 5 4 5 -21 5 -4 5 27 5 -3 5 -19 5 -7 5 2 5 34 5 -1 5 -7 5 -8 5 16 5 -22 5 -6 5 -15 5 12 5 24 5 -5 5 3 5 -19 5 4 5 -10 5 10 5 9 5 5 5 4 5 -15 5 -3 5 8 5 -3 5 9 5 16 5 -7 5 -21 5 -8 5 12 5 24 5 10 5 -15 5 -21 5 25 5 8 5 -11 5 -30 5 -14 5 27 5 27 5 -15 5 -27 5 -7 5 22 5 21 5 5 5 -15 5 -27 5 14 5 38 5 7 5 -23 5 -29 5 -2 5 16 5 29 5 -14 5 -25 5 5 5 6 5 12 5 -13 5 -4 5 2 5 29 5 -14 5 6 5 -19 5 -7 5 8 5 17 5 -18 5 0 5 23 5 -18 5 6 5 8 5 -5 5 2 5 -17 5 -4 5 4 5 16 5 -16 5 -10 5 34 5 3 5 -21 5 2 5 4 5 -22 5 8 5 11 5 -8 5 -2 5 2 5 5 5 2 5 11 5 -16 5 -14 5 22 5 4 5 -15 5 -6 5 1 5 -8 5 7 5 25 5 -16 5 -5 5 8 5 -10 5 -16 5 25 5 0 5 -21 5 7 5 12 5 13 5 -18 5 -14 5 18 5 6 5 -14 5 -32 5 28 5 22 5 -8 5 -28 5 8 5 30 5 -9 5 -3 5 -18 5 -4 5 13 5 16 5 -10 5 -19 5 14 5 6 5 -7 5 -18 5 9 5 -3 5 14 5 10 5 -3 5 -10 5 8 5 0 5 22 5 -9 5 -37 5 4 5 13 5 5 5 9 5 -17 5 9 5 8 5 -9 5 1 5 10 5 -2 5 -9 5 -13 5 4 5 7 5 2 5 -4 5 -5 5 7 5 22 5 -28 5 -2 5 18 5 2 5 -18 5 -9 5 16 5 -12 5 4 5 9 5 -16 5 -9 5 15 5 20 5 -2 5 -12 5 -7 5 3 5 -23 5 23 5 39 5 -26 5 -37 5 16 5 31 5 -3 5 -11 5 -11 5 -5 5 22 5 -9 5 -3 5 1 5 -7 5 -3 5 9 5 -3 5 2 5 -7 5 -32 5 34 5 17 5 -8 5 -24 5 29 5 -3 5 1 5 -19 5 14 5 -1 5 -17 5 2 5 14 5 -18 5 -3 5 26 5 18 5 -19 5 -37 5 12 5 32 5 14 5 -25 5 -11 5 0 5 20 5 3 5 -15 5 -10 5 10 5 27 5 -3 5 -28 5 3 5 -9 5 27 5 -6 5 -10 5 -7 5 -7 5 8 5 25 5 -16 5 -14 5 27 5 3 5 -41 5 9 5 16 5 19 5 -11 5 -18 5 -2 5 6 5 14 5 0 5 -23 5 28 5 4 5 -27 5 -17 5 29 5 13 5 -1 5 -21 5 -10 5 8 5 26 5 -13 5 -2 5 -8 5 10 5 -6 5 -8 5 0 5 10 5 -4 5 -13 5 6 5 9 5 4 5 -12 5 -10 5 20 5 14 5 -2 5 -18 5 7 5 3 5 -11 5 -9 5 7 5 2 5 -12 5 11 5 23 5 6 5 -38 5 -8 5 13 5 29 5 2 5 -15 5 -15 5 2 5 30 5 4 5 -4 5 -24 5 -4 5 20 5 13 5" transform="scale(.1)" fill="none" stroke="#000" stroke-width="5.9"/>
<path d="M5277 9201l3 10 -15 10 -24 10 11 10 19 10 -8 10 -4 10 4 10 6 10 0 10 16 10 -2 10 -9 10 8 10 0 10 -4 10 14 10 -19 10 -18 10 -1 10 15 10 -10 10 -15 10 -2 10 4 10 7 10 7 10 -4 10 4 10 6 10 -3 10 -14 10 -6 10 1 10 2 10 -7 10 -7 10 7 10 24 10 13 10 19 10 17 10 -9 10 1 10 -6 10 -5 10 -3 10 -16 10 -22 10 23 10 3 10 0 10 0 10 4 10 9 10 -6 10 -14 10 -18 10 0 10 -2 10 16 10 -2 10 -4 10 6 10 -6 10 15 10 -9 10 -14 10 4 10 14 10 -8 10 6 10 4 10 22 10 -3 10 -27 10 -28 10 -6 10 2 10 15 10 8 10 16 10 4 10 -16 10 -11 10 -10 10 0 10 6 10 3 10 3 10 -3 10 -3 10 6 10 21 10 21 10 2 10 -1 10 -4 10 -15 10 -17 10 -13 10 2 10 10 10 11 10 -4 10 -2 10 -22 10 2 10 7 10 4 10 4 10 4 10 -21 10 -21 10 -1 10 23 10 38 10 11 10 -15 10 -10 10 -9 10 -2 10 5 10 -5 10 3 10 -4 10 -10 10 -4 10 4 10 11 10 9 10 -4 10 -10 10 -8 10 4 10 13 10 2 10 9 10 15 10 -2 10 -5 10 -3 10 -19 10 -20 10 -8 10 12 10 28 10 5 10 3 10 2 10 1 10 -12 10 -10 10 4 10 1 10 -1 10 -2 10 -3 10 -2 10 17 10 14 10 -4 10 7 10 3 10 8 10 -14 10 -29 10 -12 10 7 10 4 10 1 10 1 10 -1 10 21 10 19 10 1 10 -25 10 4 10 -16 10 -10 10 -7 10 -5 10 10 10 12 10 6 10 6 10 4 10 -7 10 7 10 0 10 7 10 1 10 5 10 -14 10 -10 10 -3 10 4 10 -8 10 -11 10 -8 10 10 10 -6 10 4 10 24 10 22 10 5 10 -10 10 -30 10 -9 10 9 10 15 10 -3 10 -1 10 1 10 -4 10 -8 10 -6 10 10 10 -20 10 4 10 12 10 6 10 8 10 5 10 8 10 -1 10 -1 10 28 10 2 10 -17 10 -16 10 -12 10 -7 10 1 10 0 10 -13 10 1 10 -1 10 5 10 7 10 12 10 -1 10 -11 10 -7 10 -10 10 9 10 10 10 -1 10 1 10 -13 10 5 10 26 10 9 10 -4 10 3 10 -8 10 1 10 -10 10 -18 10 -7 10 3 10 14 10 24 10 20 10 -8 10 -4 10 -18 10 -14 10 -13 10 13 10 23 10 -14 10 -8 10 10 10 -1 10 -5 10 -4 10 11 10 -11 10 -6 10 1 10 1 10 -6 10 -15 10 -14 10 -10 10 14 10 26 10 0 10 -9 10 -4 10 1 10 16 10 2 10 -3 10 0 10 -1 10 -6 10 -14 10 -21 10 6 10 19 10 8 10 8 10 7 10 -6 10 -1 10 -5 10 3 10 -10 10 -2 10 -3 10 10 10 13 10 -3 10 -4 10 -2 10 -13 10 -4 10 0 10 10 10 -5 10 5 10 15 10 4 10 -10 10 -26 10 -3 10 -9 10 27 10 19 10 9 10 6 10 18 10 -14 10 -20 10 2 10 -13 10 -4 10 8 10 9 10 -2 10 9 10 -3 10 15 10 -10 10 6 10 -15 10 -16 10 -3 10 13 10 14 10 6 10 -10 10 3 10 -7 10 -7 10 9 10 14 10 -10 10 -2 10 2 10 13 10 -13 10 -23 10 9 10 7 10 -7 10 -6 10 -15 10 -14 10 10 10 11 10 8 10 21 10 13 10 8 10 -11 10 -16 10 -11 10 2 10 11 10 2 10 3 10 2 10 7 10 -20 10 -14 10 -7 10 -3 10 7 10 16 10 13 10 -6 10 -3 10 -11 10 -14 10 -3 10 3 10 0 10 -6 10 -15 10 6 10 22 10 8 10 9 10 13 10 -11 10 -11 10 1 10 6 10 -2 10 -5 10 -6 10 9 10 23 10 4 10 7 10 -3 10 -16 10 3 10 6 10 -9 10 -12 10 1 10 -5 10 -1 10 8 10 -18 10 13 10 13 10 -6 10 -30 10 -9 10 7 10 17 10" transform="scale(.1)" fill="none" stroke="#333" stroke-width="5.0"/>
<path d="M5277 7610l-83 5 40 5 59 5 7 5 -73 5 34 5 -18 5 26 5 55 5 4 5 -83 5 -36 5 37 5 44 5 9 5 -51 5 -3 5 -19 5 48 5 40 5 20 5 -79 5 9 5 22 5 -45 5 14 5 -8 5 -44 5 -31 5 56 5 50 5 -7 5 -32 5 49 5 -11 5 -30 5 3 5 17 5 39 5 -13 5 -47 5 -32 5 30 5 64 5 -18 5 -4 5 -37 5 -28 5 -22 5 41 5 82 5 -41 5 -30 5 21 5 -10 5 -15 5 64 5 -52 5 -22 5 25 5 26 5 -40 5 -19 5 17 5 61 5 -41 5 -67 5 8 5 67 5 17 5 4 5 -2 5 -65 5 -3 5 59 5 21 5 -35 5 -45 5 -8 5 91 5 -40 5 -45 5 -40 5 55 5 56 5 -3 5 -29 5 -51 5 3 5 89 5 -26 5 5 5 -1 5 1 5 -3 5 -9 5 -26 5 37 5 13 5 -8 5 -94 5 26 5 50 5 -40 5 30 5 113 5 -1 5 -117 5 -41 5 -9 5 113 5 -34 5 -80 5 15 5 14 5 14 5 100 5 -63 5 -103 5 38 5 98 5 48 5 -46 5 -6 5 4 5 -76 5 8 5 1 5 -25 5 5 5 -19 5 115 5 -29 5 -12 5 -57 5 -44 5 43 5 57 5 -49 5 -18 5 56 5 -77 5 72 5 17 5 43 5 -93 5 -58 5 52 5 103 5 -45 5 -30 5 -102 5 -58 5 130 5 118 5 -109 5 -23 5 100 5 -34 5 -87 5 137 5 -44 5 -72 5 6 5 60 5 15 5 71 5 -64 5 -53 5 3 5 -37 5 49 5 -12 5 39 5 28 5 -40 5 1 5 -45 5 -7 5 11 5 49 5 -9 5 -47 5 -30 5 143 5 83 5 -162 5 -35 5 37 5 -70 5 90 5 68 5 -63 5 -19 5 -29 5 53 5 -23 5 28 5 -105 5 -58 5 107 5 62 5 -15 5 -50 5 74 5 -27 5 -86 5 28 5 55 5 -11 5 -111 5 0 5 159 5 -13 5 -104 5 -12 5 126 5 -68 5 -19 5 16 5 50 5 -48 5 -37 5 15 5 -29 5 60 5 -41 5 12 5 125 5 -55 5 16 5 61 5 -52 5 -84 5 65 5 -105 5 15 5 -23 5 99 5 14 5 -20 5 -26 5 -15 5 0 5 9 5 39 5 -27 5 -53 5 114 5 -44 5 -17 5 61 5 -15 5 -94 5 -15 5 26 5 -8 5 21 5 50 5 -72 5 11 5 81 5 1 5 43 5 -103 5 -117 5 61 5 12 5 -25 5 89 5 85 5 -34 5 -116 5 57 5 -17 5 -9 5 39 5 28 5 -3 5 -42 5 41 5 -91 5 -42 5 79 5 9 5 -84 5 93 5 66 5 -143 5 -7 5 67 5 11 5 -21 5 -12 5 34 5 1 5 -40 5 88 5 -21 5 -42 5 -70 5 73 5 -3 5 25 5 -6 5 24 5 -44 5 -12 5 60 5 16 5 25 5 -50 5 -40 5 10 5 -3 5 -6 5 3 5 9 5" transform="scale(.1)" fill="none" stroke="#000" stroke-width="5.9"/>
<path d="M5411 12354l-9 5 -9 5 10 5 -3 5 -8 5 8 5 16 5 -22 5 10 5 7 5 2 5 -12 5 10 5 -2 5 -1 5 6 5 -9 5 0 5 -3 5 6 5 -3 5 -6 5 17 5 7 5 -21 5 -1 5 0 5 6 5 3 5 -9 5 7 5 0 5 -9 5 4 5 9 5 -6 5 -4 5 12 5 -14 5 -8 5 7 5 10 5 -1 5 -13 5 4 5 9 5 -3 5 -6 5 2 5 -1 5 2 5 7 5 -9 5 -7 5 4 5 2 5 -8 5 10 5 4 5 -23 5 11 5 -2 5 9 5 2 5 -7 5 -1 5 6 5 1 5 -16 5 15 5 -3 5 -3 5 5 5 5 5 -7 5 -2 5 0 5 0 5 7 5 3 5 5 5 -17 5 -4 5 14 5 2 5 -9 5 -7 5 7 5 16 5 -2 5 -10 5 -8 5 17 5 0 5 2 5 -7 5 -1 5 -6 5 4 5 4 5 3 5 -18 5 13 5 2 5 -2 5 -5 5 -11 5 12 5 3 5 0 5 -3 5 -6 5 13 5 6 5 -9 5 -11 5 16 5 4 5 -8 5 -10 5 19 5 5 5 -12 5 -6 5 5 5 5 5 0 5 -3 5 -7 5 -3 5 7 5 9 5 -7 5 -12 5 5 5 4 5 11 5 -17 5 -1 5 5 5 12 5 -7 5 -12 5 13 5 7 5 -15 5 1 5 3 5 13 5 -18 5 -4 5 4 5 12 5 -14 5 -9 5 15 5 -3 5 -3 5 4 5 -4 5 8 5 -4 5 9 5 2 5 -13 5 7 5 -1 5 -1 5 -3 5 0 5 -4 5 2 5 1 5 -13 5 11 5 9 5 -12 5 -4 5 9 5 -1 5 -7 5 -4 5 17 5 6 5 -20 5 1 5 2 5 5 5 2 5 1 5 -2 5 -8 5 7 5 -2 5 4 5 -2 5 1 5 -1 5 -3 5 -5 5 13 5 0 5 -11 5 8 5 0 5 -4 5 8 5 -4 5 -9 5 -2 5 11 5 -11 5 -5 5 18 5 12 5 -16 5 -7 5 -1 5 20 5 -11 5 -16 5 5 5 17 5 3 5 -17 5 3 5 15 5 -6 5 -3 5 -4 5 9 5 0 5 -3 5 1 5 6 5 -9 5 -2 5 11 5 -13 5 9 5 13 5" transform="scale(.1)" fill="none" stroke="#111" stroke-width="5.9"/>
<path d="M5356 7610l5 5 11 5 54 5 13 5 -22 5 6 5 46 5 -108 5 -24 5 36 5 78 5 8 5 -92 5 6 5 74 5 45 5 -139 5 40 5 43 5 -27 5 -44 5 60 5 -21 5 -4 5 -39 5 93 5 -48 5 -47 5 51 5 1 5 8 5 -44 5 -13 5 42 5 -6 5 -14 5 -34 5 67 5 18 5 -36 5 -22 5 55 5 19 5 -111 5 30 5 28 5 39 5 -1 5 -106 5 64 5 27 5 -63 5 -7 5 97 5 -77 5 -34 5 62 5 -2 5 -28 5 18 5 -11 5 40 5 34 5 -46 5 -57 5 16 5 101 5 -49 5 -138 5 75 5 81 5 25 5 -92 5 -4 5 18 5 -7 5 -3 5 116 5 -59 5 -90 5 -27 5 58 5 89 5 -47 5 -55 5 -7 5 85 5 -45 5 24 5 6 5 -118 5 43 5 162 5 -99 5 -20 5 -13 5 23 5 136 5 -158 5 -99 5 115 5 99 5 -127 5 -19 5 54 5 3 5 -37 5 57 5 -11 5 -7 5 -45 5 56 5 8 5 -45 5 39 5 -15 5 1 5 64 5 -69 5 -39 5 60 5 5 5 -47 5 -37 5 75 5 43 5 -45 5 18 5 -26 5 -14 5 83 5 -80 5 -43 5 57 5 1 5 9 5 48 5 -109 5 41 5 -11 5 -22 5 13 5 25 5 58 5 -42 5 -51 5 143 5 -61 5 -93 5 -11 5 47 5 21 5 -30 5 37 5 -114 5 87 5 107 5 -110 5 -57 5 82 5 66 5 -13 5 -83 5 128 5 -198 5 86 5 43 5 -78 5 -64 5 110 5 120 5 -155 5 -123 5 204 5 101 5 -229 5 10 5 82 5 74 5 -39 5 -141 5 16 5 148 5 -70 5 -45 5 81 5 -69 5 49 5 67 5 -44 5 -157 5 105 5 66 5 -71 5 49 5 -26 5 -2 5 -84 5 104 5 7 5 -11 5 85 5 -127 5 -22 5 64 5 59 5 0 5 -150 5 -46 5 195 5 -80 5 -14 5 53 5 -39 5 -50 5 52 5 -101 5 59 5 77 5 59 5 -58 5 -146 5 53 5 17 5 28 5 41 5 -96 5 48 5 -138 5 136 5 13 5 25 5 -9 5 4 5 -75 5 90 5 1 5 -1 5 9 5 -98 5 57 5 67 5 -70 5 -51 5 82 5 -67 5 48 5 46 5 -78 5 -111 5 148 5 85 5 -42 5 -91 5 -28 5 9 5 164 5 1 5 -216 5 50 5 120 5 10 5 -188 5 45 5 90 5 -26 5 44 5 10 5 -175 5 108 5 72 5 -26 5 -142 5 136 5 -91 5 101 5 -12 5 65 5 -69 5 -67 5 -24 5 89 5 48 5 -127 5 -50 5 169 5 9 5 -87 5 106 5 -57 5 -93 5 42 5 15 5 107 5 -127 5 -26 5 9 5 67 5 -21 5 -60 5 43 5 69 5 4 5 -94 5 56 5 -22 5 70 5 3 5 -129 5 0 5 93 5 -74 5 -3 5 44 5 -2 5 -8 5 31 5 -20 5 -63 5 67 5 9 5 -56 5 82 5 -30 5 -29 5 26 5 -9 5 -15 5 48 5 -23 5 14 5 -17 5 -3 5 -27 5 23 5 35 5 -20 5 -15 5 11 5 -19 5 21 5 -17 5 3 5 -2 5 17 5 -17 5 6 5 2 5 -12 5 7 5 -4 5 28 5 -23 5 -54 5 41 5 47 5 -15 5 0 5 -42 5 10 5 25 5 2 5 -23 5 0 5 13 5 -35 5 65 5 -16 5 -54 5 38 5 -9 5 3 5 -6 5 21 5 -1 5 -6 5 2 5 -9 5 -7 5 13 5 -12 5 3 5 20 5 11 5 -53 5 32 5 17 5 -13 5 -28 5 26 5 -13 5 -18 5 38 5 -7 5 16 5 -11 5 -47 5 60 5 -41 5 1 5 -9 5 36 5 5 5 5 5 -32 5 36 5 -15 5 8 5 -16 5 8 5 0 5 -13 5 -9 5 5 5 2 5 25 5 -5 5 10 5 -39 5 30 5 -9 5 6 5 -34 5 -14 5 38 5 17 5 -27 5 0 5 7 5 -21 5 23 5 3 5 -3 5 -39 5 14 5 27 5 -24 5 11 5 30 5 4 5 -35 5 1 5 -10 5 7 5 -5 5 2 5 -5 5 11 5 11 5 -24 5 -3 5 34 5 -29 5 9 5 15 5 -26 5 11 5 3 5 -22 5 6 5 -17 5 32 5 0 5 0 5 -20 5 7 5 12 5 47 5 -60 5 6 5 -5 5 -3 5 35 5 -19 5 3 5 -4 5 5 5 22 5 2 5 -30 5 -10 5 13 5 8 5 1 5 -9 5 7 5 7 5 -5 5 -2 5 2 5 44 5 -56 5 -20 5 12 5 7 5 2 5 17 5 -23 5 9 5 18 5 -17 5 -14 5 43 5 0 5 -44 5 35 5 -2 5 -9 5 -15 5 22 5 15 5 -36 5 -5 5 7 5 17 5 -1 5 -40 5 33 5 24 5 -28 5 8 5 -10 5 19 5 -11 5 -1 5 -36 5 33 5 22 5 -8 5 -49 5 30 5 39 5 -15 5 -63 5 40 5 36 5 -24 5 -15 5 6 5 11 5 -27 5 -6 5 39 5 -24 5 -31 5 9 5 41 5 -22 5 17 5 -2 5 -24 5 -3 5 37 5 -15 5 -39 5 15 5 36 5 0 5 -20 5 -17 5 51 5 -10 5 -65 5 39 5 33 5 -44 5 -2 5 27 5 -14 5 21 5 -8 5 -29 5 69 5 -52 5 -2 5 21 5 -15 5 -6 5 35 5 -36 5 9 5 13 5 -23 5 12 5 -9 5 -1 5 6 5 -15 5 4 5 21 5 -5 5 -10 5 11 5 1 5 -8 5 3 5 -21 5 0 5 50 5 -3 5 -27 5 2 5 11 5 -3 5 9 5 -14 5 21 5 -27 5 25 5 -8 5 -19 5 -18 5 46 5 -13 5 -12 5 38 5 -34 5 -24 5 18 5 0 5 38 5 -32 5 -22 5 17 5 4 5 -6 5 11 5 10 5 -28 5 -7 5 46 5 -24 5 -17 5 5 5 10 5 -3 5 14 5 -10 5 -8 5 4 5 28 5 -46 5 -2 5 60 5 -10 5 -11 5 -2 5 1 5 -10 5 -19 5 -32 5 89 5 -15 5 -58 5 34 5 57 5 -58 5 -56 5 62 5 19 5 -34 5 -35 5 30 5 36 5 -5 5 -54 5 16 5 48 5 -22 5 -36 5 35 5 4 5 -17 5 -1 5 19 5 -5 5 0 5 -3 5 3 5 -24 5 11 5 -5 5 35 5 -29 5 4 5 12 5 -2 5 -16 5 34 5 2 5 -30 5 -1 5 21 5 -11 5 -10 5 7 5 29 5 -15 5 -42 5 23 5 5 5 11 5 -9 5 10 5 1 5 -34 5 16 5 12 5 -16 5 42 5 -21 5 -21 5 -3 5 14 5 9 5 20 5 -31 5 -17 5 28 5 7 5 -10 5 5 5 -19 5 -2 5 4 5 17 5 24 5 -37 5 -17 5 17 5 17 5 11 5 -29 5 31 5 -32 5 -6 5 12 5 -2 5 46 5 -30 5 -33 5 10 5 14 5 -10 5 18 5 -28 5 -32 5 44 5 44 5 -27 5 -28 5 -24 5 45 5 26 5 -29 5 -18 5 7 5 33 5 -46 5 -3 5 18 5 14 5 -14 5 -41 5 58 5 11 5 -65 5 -2 5 53 5 16 5 -15 5 -45 5 3 5 25 5 5 5 0 5 -6 5 0 5 5 5 7 5 -18 5 -4 5 5 5 15 5 4 5 -46 5 11 5 30 5 -3 5 -4 5 -15 5 14 5 -14 5 16 5 -2 5 2 5 9 5 -14 5 -4 5 8 5 -14 5 -6 5 12 5 38 5 -18 5 -42 5 21 5 -1 5 3 5 13 5 -5 5 10 5 -32 5 2 5 3 5 12 5 1 5 -3 5 5 5 14 5 -28 5 4 5 5 5 17 5 -37 5 7 5 52 5 -28 5 -28 5 13 5 13 5 -9 5 29 5 -23 5 -24 5 38 5 -4 5 4 5 -27 5 -11 5 32 5 14 5 -35 5 -6 5 31 5 -8 5 -28 5 12 5 18 5 -2 5 3 5 -35 5 36 5 21 5 -40 5 -7 5 19 5 32 5 -44 5 9 5 30 5 -30 5 -7 5 21 5 12 5 6 5 -30 5 -11 5 3 5 2 5 -1 5 -17 5 42 5 -20 5 -13 5 14 5 19 5 -24 5 -11 5 44 5 -32 5 -20 5 15 5 13 5 2 5 -20 5 34 5 7 5 -42 5 8 5 -4 5 -3 5 29 5 -10 5 0 5 -1 5 -1 5 24 5 -4 5 -34 5 18 5 -13 5 18 5 -26 5 -22 5 26 5 47 5 -35 5 -13 5 -12 5 35 5 50 5 -39 5 -55 5 26 5 21 5 7 5 -31 5 -3 5 41 5 -14 5 -15 5 8 5 17 5 -5 5 -38 5 -4 5 36 5 38 5 -50 5 -11 5 32 5 -5 5 -37 5 3 5 21 5 -6 5 16 5 12 5 -23 5 -33 5 29 5 33 5 -36 5 -8 5 21 5 11 5 1 5 -63 5" transform="scale(.1)" fill="none" stroke="#000" stroke-width="6.5"/>
<path d="M5501 9543l-8 10 -14 10 -9 10 22 10 24 10 3 10 -13 10 -11 10 -12 10 -6 10 33 10 0 10 -21 10 3 10 6 10 14 10 28 10 13 10 -34 10 -48 10 7 10 4 10 11 10 20 10 21 10 -16 10 -20 10 -27 10 21 10 19 10 6 10 -22 10 -23 10 29 10 11 10 2 10 -21 10 -1 10 0 10 15 10 -2 10 9 10 -17 10 -9 10 -3 10 2 10 17 10 9 10 7 10 -7 10 -7 10 8 10 -12 10 -21 10 1 10 21 10 19 10 5 10 -3 10 -10 10 -9 10 -1 10 -14 10 -23 10 17 10 22 10 13 10 -9 10 -7 10 15 10 -11 10 -5 10 7 10 23 10 -3 10 -5 10 0 10 -20 10 -11 10 1 10 -2 10 19 10 -7 10 6 10 4 10 5 10 -9 10 2 10 -7 10 -15 10 30 10 19 10 -19 10 -34 10 -20 10 10 10 44 10 27 10 -3 10 -19 10 -28 10 -34 10 -5 10 20 10 26 10 11 10 4 10 -9 10 -9 10 -2 10 -11 10 -15 10 22 10 9 10 11 10 -11 10 -23 10 12 10 -7 10 -9 10 13 10 5 10 17 10 2 10 -12 10 -3 10 12 10 -4 10 -16 10 3 10 8 10 15 10 -2 10 6 10 -8 10 -9 10 2 10 0 10 7 10 4 10 10 10 -2 10 -17 10 3 10 -20 10 13 10 23 10 0 10 -9 10 -23 10 -3 10 25 10 6 10 -1 10 -4 10 -3 10 -1 10 -1 10 -6 10 1 10 0 10 0 10 7 10 -23 10 -6 10 27 10 31 10 -32 10 -8 10 14 10 -1 10 19 10 -4 10 -7 10 -31 10 -4 10 10 10 17 10 25 10 -13 10 -19 10 -8 10 4 10 14 10 1 10 9 10 -12 10 -18 10 -14 10 13 10 15 10 -1 10 18 10 -16 10 -19 10 1 10 -13 10 15 10 31 10 0 10 2 10 -21 10 -10 10 -8 10 -6 10 21 10 25 10 7 10 -20 10 6 10 -21 10 -13 10 -5 10 8 10 33 10 12 10 -9 10 -26 10 -12 10 4 10 17 10 13 10 6 10 -23 10 -15 10 14 10 6 10 1 10 -25 10 -17 10 8 10 21 10 3 10 10 10 0 10 0 10 0 10 3 10 -7 10 -18 10 12 10 4 10 2 10 5 10 -20 10 -7 10 19 10 -9 10 -4 10 -18 10 6 10 22 10 2 10 -3 10 1 10 7 10 7 10 12 10 -21 10 -9 10 -24 10 -24 10 4 10 31 10 27 10 2 10 -31 10 -34 10 5 10 20 10 34 10 6 10 -22 10 -14 10 1 10 24 10 29 10 13 10 -32 10 -25 10 9 10 -7 10 -5 10 12 10 11 10 -12 10 -21 10 12 10 25 10 -5 10 8 10 -3 10 -15 10 -7 10 8 10 -4 10 35 10 -6 10 15 10 8 10 -4 10 -17 10 -13 10 -20 10 -1 10 21 10 24 10 0 10 -17 10 -9 10 -10 10 13 10 -9 10 11 10 3 10 -12 10 -8 10 10 10 -9 10 17 10 0 10 9 10 -4 10 2 10 -2 10 2 10 -17 10 -4 10 15 10 -16 10 -1 10 20 10 -7 10 -3 10 -19 10 15 10 12 10 6 10 -16 10 -5 10 -2 10 14 10 21 10 12 10 -16 10 -13 10 -9 10 -13 10 6 10 9 10 10 10 -6 10 -20 10 -2 10 -8 10 27 10 30 10 -12 10 -25 10 11 10 -9 10 0 10 -12 10 -20 10 5 10 15 10 16 10 3 10 -11 10 1 10 -16 10 23 10 23 10 -3 10 -10 10 -18 10 7 10 -1 10 23 10 -1 10 -17 10 -2 10 -20 10 -12 10 19 10 7 10 2 10 -3 10 7 10 -16 10 -1 10 -3 10 -19 10 -1 10 26 10 28 10 -15 10 3 10 -23 10 12 10 2 10" transform="scale(.1)" fill="none" stroke="#333" stroke-width="5.0"/>
<path d="M5548 7610l-20 5 -17 5 -15 5 12 5 13 5 -37 5 23 5 26 5 -8 5 -27 5 27 5 -16 5 -41 5 9 5 51 5 -1 5 -9 5 0 5 -14 5 22 5 39 5 -24 5 -45 5 -16 5 39 5 27 5 -52 5 6 5 20 5 17 5 -19 5 -18 5 -29 5 58 5 8 5 -11 5 -3 5 15 5 -40 5 2 5 6 5 20 5 -8 5 15 5 -12 5 -71 5 23 5 26 5 30 5 -7 5 -31 5 -1 5 26 5 15 5 -14 5 8 5 -9 5 4 5 -47 5 -9 5 7 5 89 5 -45 5 -45 5 31 5 -19 5 21 5 1 5 28 5 29 5 -27 5 -63 5 -32 5 38 5 56 5 49 5 -49 5 -47 5 -29 5 49 5 -2 5 -26 5 6 5 2 5 19 5 38 5 14 5 -78 5 -30 5 36 5 30 5 12 5 -3 5 -15 5 -43 5 7 5 74 5 3 5 -44 5 -10 5 -12 5 3 5 3 5 24 5 -31 5 -3 5 28 5 14 5 -54 5 -12 5 24 5 5 5 59 5 16 5 -34 5 -17 5 -24 5 17 5 -16 5 21 5 12 5 -3 5 -18 5 -3 5 18 5 -22 5 -29 5 11 5 45 5 -38 5 4 5 70 5 38 5 -59 5 -84 5 6 5 30 5 40 5 42 5 -38 5 -64 5 -4 5 54 5 49 5 -66 5 -22 5 84 5 -28 5 -3 5 -38 5 -16 5 12 5 1 5 28 5 27 5 -83 5 -57 5 56 5 75 5 28 5 -62 5 -21 5 16 5 80 5 -53 5 -29 5 -19 5 39 5 5 5 -21 5 -1 5 34 5 -17 5 -39 5 34 5 -6 5 -19 5 29 5 25 5 23 5 -47 5 6 5 -24 5 5 5 46 5 -14 5 17 5 -14 5 -41 5 -30 5 52 5 12 5 -4 5 27 5 -39 5 -49 5 26 5 30 5 -6 5 -73 5 33 5 83 5 1 5 -58 5 -2 5 -33 5 9 5 0 5 52 5 -21 5 2 5 1 5 -25 5 9 5 37 5 68 5 -33 5 -46 5 -8 5 28 5 -24 5 -34 5 -8 5 31 5 24 5 -36 5 -9 5 -6 5 49 5 -39 5 -38 5 15 5 70 5 -29 5 -46 5 2 5 64 5 -20 5 1 5 12 5 22 5 -11 5 -16 5 -10 5 -29 5 43 5 -10 5 16 5 -39 5 62 5 24 5 -46 5 18 5 -43 5 22 5 0 5 22 5 -5 5 -5 5 9 5 -48 5 -24 5 49 5 78 5 -83 5 -89 5 36 5 57 5 28 5 19 5 -37 5 -12 5 -3 5 -6 5 24 5 22 5 -39 5 -12 5 -34 5 62 5 24 5 -43 5 1 5 -1 5 8 5 12 5 -44 5 9 5 51 5 -11 5 0 5 -4 5 5 5 -19 5 -46 5 69 5 22 5 -40 5 -60 5 15 5 84 5 -29 5 -24 5 -12 5 15 5 26 5 -43 5 -20 5 34 5 41 5 -29 5 -5 5 -2 5 22 5 -20 5 -2 5 25 5 -101 5 39 5 61 5 31 5 -60 5 -56 5 47 5 15 5 37 5 -5 5 -52 5 -42 5 71 5 38 5 -42 5 -36 5 59 5 -28 5 -18 5 0 5 19 5 -3 5 -23 5 53 5 -13 5 -50 5 34 5 40 5 -26 5 -69 5 11 5 22 5 14 5 -13 5 27 5 -17 5 11 5 -19 5 13 5 -16 5 14 5 47 5 -23 5 -48 5 -10 5 14 5 43 5 -10 5 -35 5 12 5 6 5 -11 5 -1 5 -14 5 11 5 34 5 -6 5 17 5 -40 5 -17 5 14 5 20 5 -16 5 -27 5 30 5 28 5 -15 5 -17 5 20 5 8 5" transform="scale(.1)" fill="none" stroke="#000" stroke-width="5.9"/>
<path d="M5700 12383l-1 10 5 10 4 10 4 10 -5 10 -2 10 -1 10 -2 10 1 10 -10 10 4 10 10 10 3 10 1 10 -2 10 7 10 -10 10 6 10 -12 10 1 10 8 10 0 10 -6 10 -2 10 -8 10 -1 10 6 10 0 10 -10 10 -6 10 6 10 7 10 12 10 10 10 -6 10 -9 10 0 10 -7 10 -1 10 -4 10 -1 10 7 10 2 10 -4 10 -9 10 0 10 7 10 7 10 -6 10 -2 10 12 10 6 10 -1 10 4 10 2 10 -10 10 2 10 -8 10 -6 10 4 10 4 10 0 10 11 10 3 10 -12 10 -4 10 1 10 2 10 6 10 -13 10 0 10 15 10 9 10 -19 10 -16 10 -4 10 8 10 1 10 5 10 1 10 5 10 1 10 -3 10 3 10 6 10 -8 10 7 10 1 10 1 10 7 10 12 10 -8 10 -16 10 -6 10 2 10 -11 10 6 10 9 10 -5 10 8 10 2 10 -4 10 10 10 16 10 1 10 -6 10 2 10 -1 10 -13 10 -3 10 5 10 6 10 4 10 1 10 -6 10 -7 10 -4 10" transform="scale(.1)" fill="none" stroke="#333" stroke-width="5.0"/>
<path d="M5734 7610l-14 5 -17 5 -11 5 4 5 23 5 23 5 -6 5 -49 5 -26 5 24 5 22 5 0 5 -34 5 0 5 -10 5 1 5 30 5 -9 5 2 5 33 5 20 5 -16 5 -57 5 -21 5 26 5 59 5 -11 5 -25 5 -11 5 0 5 7 5 -7 5 29 5 -10 5 -32 5 -12 5 11 5 55 5 12 5 -52 5 26 5 18 5 -11 5 -17 5 40 5 10 5 -34 5 -40 5 3 5 18 5 32 5 -12 5 -14 5 -8 5 3 5 -34 5 27 5 10 5 -23 5 15 5 5 5 30 5 4 5 -42 5 5 5 -22 5 15 5 20 5 15 5 7 5 -33 5 -10 5 -8 5 -11 5 55 5 -16 5 -4 5 4 5 -3 5 -3 5 -28 5 77 5 -1 5 -37 5 -10 5 -16 5 2 5 65 5 -35 5 -21 5 -52 5 42 5 53 5 -10 5 -3 5 -46 5 -5 5 66 5 23 5 -36 5 -35 5 -8 5 -24 5 39 5 40 5 11 5 7 5 3 5 -40 5 -36 5 5 5 16 5 32 5 -69 5 9 5 43 5 21 5 14 5 -62 5 10 5 -31 5 -43 5 97 5 76 5 -56 5 -52 5 -29 5 90 5 -27 5 -75 5 -1 5 21 5 26 5 36 5 -73 5 -42 5 28 5 81 5 -4 5 -60 5 24 5 77 5 -16 5 -36 5 -70 5 -12 5 38 5 33 5 24 5 -25 5 -26 5 46 5 -13 5 -12 5 22 5 -8 5 16 5 -64 5 -25 5 89 5 35 5 -3 5 -74 5 3 5 40 5 -15 5 -81 5 65 5 76 5 -64 5 -29 5 -114 5 110 5 89 5 82 5 -78 5 -98 5 -17 5 76 5 79 5 -117 5 -30 5 -48 5 112 5 114 5 -71 5 -119 5 23 5 68 5 32 5 -149 5 -54 5 127 5 65 5 -79 5 -1 5 16 5 -13 5 33 5 35 5 -34 5 -62 5 51 5 37 5 -7 5 39 5 5 5 -50 5 -67 5 11 5 -4 5 42 5 56 5 -67 5 -98 5 5 5 76 5 22 5 61 5 -35 5 6 5 -49 5 -48 5 9 5 93 5 -2 5 -69 5 35 5 18 5 -14 5 -20 5 -30 5 11 5 38 5 -13 5 15 5 5 5 26 5 -84 5 28 5 58 5 13 5 -41 5 -20 5 -24 5 1 5 46 5 -37 5 10 5 33 5 -62 5 20 5 94 5 -65 5 -77 5 10 5 26 5 56 5 -21 5 6 5 10 5 -89 5 14 5 52 5 33 5 -48 5 -14 5 -9 5 41 5 -16 5 6 5 31 5 4 5 -24 5 -3 5 41 5 -21 5 -26 5 -3 5 -7 5 10 5 18 5 -5 5 29 5 -36 5 -28 5 5 5 -6 5 43 5 -5 5 -19 5 18 5 22 5 5 5 -43 5 -23 5 20 5 29 5 -17 5 -20 5 4 5 13 5 14 5 14 5 -14 5 -32 5 13 5 5 5 -1 5 10 5 15 5 -12 5 -16 5 11 5 14 5 -29 5 -14 5 23 5 34 5 -17 5 -8 5 -1 5 -1 5 9 5 -23 5 10 5 -3 5 12 5 -26 5 7 5 8 5 5 5 -3 5 -9 5 4 5 1 5 -6 5 13 5 4 5 -6 5 -19 5 14 5 21 5 -20 5 -17 5 7 5 17 5 18 5 -26 5 -18 5 19 5 13 5 -17 5 -17 5 -2 5 9 5 14 5 3 5 1 5 6 5 -9 5 -9 5 -11 5 13 5 18 5 -1 5 -18 5 -7 5 14 5 6 5 1 5 -3 5 0 5 -12 5 21 5 -3 5 -4 5 -3 5 0 5 -7 5 5 5 13 5 -6 5 -9 5 5 5 -7 5 -8 5 -17 5 23 5 46 5 -2 5 -41 5 -24 5 16 5 12 5 -5 5 -2 5 5 5 -4 5 11 5 -1 5 -5 5 7 5 0 5 3 5 -26 5 10 5 15 5 -8 5 6 5 7 5 -7 5 1 5 5 5 -9 5 -10 5 37 5 0 5 -17 5 2 5 -7 5 -11 5 2 5 12 5 13 5 12 5 -4 5 -31 5 -23 5 7 5 24 5 6 5 -13 5 -5 5 2 5 4 5 10 5 6 5 -19 5 -2 5 15 5 12 5 -19 5 3 5 -9 5 -1 5 -3 5 19 5 -2 5 8 5 -19 5 -26 5 16 5 31 5 7 5 -16 5 -5 5 -20 5 -10 5 16 5 45 5 -24 5 -20 5 10 5 2 5 6 5 1 5 -8 5 -8 5 0 5 9 5 12 5 -29 5 -5 5 14 5 -2 5 14 5 8 5 5 5 -28 5 -21 5 12 5 22 5 -14 5 -3 5 28 5 2 5 -14 5 -16 5 -20 5 33 5 7 5 -21 5 -1 5 10 5 11 5 -11 5 -16 5 0 5 15 5 24 5 -6 5 -27 5 -4 5 3 5 29 5 -12 5 3 5 -20 5 -9 5 18 5 17 5 -15 5 -2 5 5 5 -20 5 -5 5 13 5 21 5 5 5 -12 5 -6 5 -5 5 -3 5 5 5 2 5 4 5 1 5 -3 5 -1 5 -17 5 11 5 16 5 -12 5 3 5 -3 5 -2 5 19 5 -16 5 -10 5 -2 5 15 5 15 5 -14 5 -8 5 -9 5 -11 5 2 5 37 5 -2 5 -12 5 -4 5 -7 5 -3 5 24 5 -9 5 -14 5 -2 5 -1 5 9 5 -2 5 -15 5 15 5 19 5 -11 5 0 5 3 5 -5 5 -2 5 1 5 -13 5 -24 5 31 5 13 5 -11 5 -5 5 -10 5 1 5 16 5 26 5 -15 5 -20 5 -5 5 -8 5 2 5 20 5 6 5 0 5 -20 5 -11 5 9 5 20 5 -3 5 -12 5 -2 5 19 5 -4 5 -11 5 11 5 1 5 -2 5 -16 5 7 5 12 5 -6 5 -17 5 -5 5 4 5 33 5 -1 5 -31 5 0 5 29 5 -9 5 -6 5 13 5 11 5 -7 5 -19 5 4 5 2 5 -16 5 4 5 5 5 7 5 12 5 -12 5 -7 5 -4 5 11 5 4 5 13 5 -23 5 -5 5 -7 5 9 5 8 5 7 5 -4 5 0 5 11 5 4 5 -10 5 5 5 -26 5 -1 5 29 5 -5 5 -15 5 4 5 23 5 -11 5 -6 5 -13 5 0 5 5 5 -10 5 3 5 18 5 0 5 6 5 -15 5 8 5 4 5 -3 5 -9 5 10 5 15 5 -17 5 -24 5 17 5 16 5 -3 5 5 5 -9 5 -13 5 3 5 -1 5 8 5 -17 5 16 5 23 5 -38 5 -5 5 16 5 15 5 -16 5 3 5 -4 5 6 5 -11 5 -22 5 17 5 15 5 25 5 -23 5 -14 5 -2 5 8 5 0 5 12 5 0 5 -2 5 -20 5 6 5 26 5 -11 5 -24 5 12 5 10 5 -10 5 19 5 6 5 -16 5 -8 5 -2 5 21 5 -10 5 -10 5 17 5 -19 5 -8 5 -3 5 24 5 10 5 -7 5 -22 5 3 5 13 5 5 5 10 5 -2 5 -1 5 -25 5 -8 5 22 5 2 5 2 5 5 5 -19 5 9 5 -6 5 1 5 18 5 -14 5 9 5 -13 5 -12 5 17 5 14 5 -21 5 -6 5 28 5 -7 5 -10 5 -8 5 5 5 3 5 -24 5 10 5 16 5 12 5 -4 5 -10 5 -15 5 2 5 20 5 13 5 7 5 -16 5 -13 5 -11 5 2 5 3 5 22 5 1 5 -8 5 2 5 -12 5 -21 5 31 5 11 5 0 5 -10 5 -13 5 4 5 24 5 -14 5 -9 5 8 5 -2 5 12 5 -5 5 -22 5 6 5 15 5 10 5 -18 5 -1 5 -4 5 6 5 8 5 -4 5 -7 5 16 5 -15 5 -5 5 4 5 -7 5 -19 5 33 5 23 5 -22 5 -17 5 -5 5 12 5 2 5 -2 5 -7 5 11 5 7 5 -16 5 -2 5 -10 5 9 5 5 5 -1 5 -3 5 -7 5 30 5 10 5 -18 5 -44 5 9 5 18 5 5 5 9 5 -6 5 -8 5 -4 5 11 5 37 5 -14 5 -38 5 3 5 10 5 25 5 2 5 -28 5 -9 5 10 5 6 5 -18 5 -21 5 32 5 9 5 -11 5 3 5 -6 5 8 5 6 5 0 5 -12 5 0 5 4 5 -2 5 25 5 -12 5 -21 5 -10 5 8 5 20 5 14 5 -24 5 6 5 -11 5 -1 5 23 5 11 5 -11 5 -1 5 -3 5 17 5 -3 5 -2 5 -15 5 -17 5 21 5 8 5 -13 5 4 5 0 5 -2 5 -8 5 -12 5 22 5 24 5 -6 5 -19 5 -7 5 -1 5 24 5 18 5 -21 5 -6 5 2 5 -10 5 6 5 20 5 8 5 -16 5 -19 5 6 5 31 5 2 5 -26 5 -22 5 17 5 7 5 0 5 -2 5 -17 5 7 5 31 5 -6 5 -15 5 -19 5 -5 5 15 5 19 5 -10 5 -17 5 4 5 -7 5 19 5 2 5 -33 5 -12 5 24 5 19 5 2 5 -18 5 3 5 -8 5 6 5 14 5 -2 5 0 5 -12 5 -4 5 17 5 20 5 -29 5 -21 5 2 5" transform="scale(.1)" fill="none" stroke="#000" stroke-width="5.9"/>
<path d="M5722 12398l9 10 -1 10 -10 10 -6 10 12 10 2 10 2 10 -15 10 -3 10 4 10 16 10 8 10 -13 10 5 10 -6 10 -4 10 12 10 2 10 6 10 -3 10 -6 10 -12 10 -12 10 13 10 13 10 6 10 2 10 -9 10 -6 10 -2 10 -13 10 0 10 3 10 3 10 -3 10 12 10 1 10 -17 10 -3 10 -5 10 7 10 8 10 1 10 -13 10 5 10 13 10 9 10 -4 10 -17 10 -4 10 2 10 20 10 17 10 -3 10 -10 10 -3 10 -5 10 -21 10 -4 10 4 10 11 10 8 10 -9 10 -2 10 -5 10 6 10 9 10 1 10 -1 10 -10 10 -3 10 1 10 8 10 4 10 -12 10 -1 10 -3 10 -9 10 -6 10 -11 10 6 10 24 10 17 10 1 10 -12 10 -22 10 0 10 27 10 21 10 -9 10 -14 10 -17 10 3 10 1 10 -4 10 1 10 -8 10 0 10 -3 10 6 10 5 10 -5 10 5 10 -6 10 5 10 12 10 -1 10 0 10 5 10 -3 10 3 10 -4 10 8 10 5 10 -1 10 -7 10" transform="scale(.1)" fill="none" stroke="#333" stroke-width="5.0"/>
<path d="M5249 11253l0 6 16 6 -9 6 -17 6 -12 6 24 6 -7 6 26 6 -5 6 4 6 -25 6 -7 6 -23 6 67 6 29 6 -27 6 -59 6 -14 6 23 6 55 6 18 6 -45 6 26 6 21 6 -33 6 -16 6 0 6 -7 6 2 6 -14 6 -2 6 -15 6 58 6 27 6 -35 6 -36 6 1 6 70 6 -29 6 -26 6 -27 6 -17 6 18 6 32 6 20 6 -23 6 -2 6 -6 6 -7 6 3 6 6 6 3 6" transform="scale(.1)" fill="none" stroke="#000" stroke-width="5.9"/>
<path d="M5706 11283l8 6 8 6 -5 6 -17 6 -14 6 23 6 18 6 13 6 -24 6 -11 6 15 6 -13 6 31 6 -21 6 -2 6 -12 6 10 6 5 6 -14 6 -19 6 6 6 76 6 -52 6 -30 6 22 6 -10 6 -2 6 16 6 -29 6 41 6 -97 6 34 6 36 6 -24 6 44 6 20 6 6 6 -58 6 -10 6 25 6 24 6 -7 6 -38 6 3 6 31 6 -10 6 -2 6 3 6 -5 6 -2 6" transform="scale(.1)" fill="none" stroke="#000" stroke-width="5.9"/>
<path d="M5499 11268l0 6 -2 6 -4 6 0 6 -12 6 5 6 19 6 -5 6 -14 6 -26 6 19 6 13 6 34 6 -10 6 -44 6 -30 6 39 6 70 6 -37 6 -56 6 41 6 25 6 21 6 -45 6 -11 6 24 6 15 6 -25 6 -26 6 20 6 21 6 21 6 -29 6 -31 6 11 6 18 6 4 6 -8 6 2 6 13 6 -14 6 -18 6 24 6 9 6 -12 6 -1 6 0 6" transform="scale(.1)" fill="none" stroke="#000" stroke-width="5.2"/>
<path d="M6592 12443l-16 10 -4 10 -20 10 21 10 5 10 22 10 15 10 -26 10 -34 10 11 10 4 10 17 10 8 10 10 10 22 10 -26 10 -22 10 -5 10 -6 10 -16 10 -20 10 8 10 19 10 5 10 20 10 23 10 12 10 -20 10 -22 10 12 10 6 10 8 10 -33 10 -31 10 2 10 18 10 -6 10 4 10 8 10 4 10 13 10 14 10 1 10 -15 10 -3 10 0 10 -10 10 3 10 0 10 11 10 9 10 18 10 -3 10 -11 10 -31 10 -19 10 -6 10 24 10 11 10 -10 10 14 10 11 10 12 10 -12 10 -14 10 -29 10 -9 10 20 10 0 10 -13 10 -10 10 4 10 -1 10 5 10 22 10 20 10 25 10 18 10 -14 10 -14 10 0 10 -9 10 7 10 11 10 -13 10 -18 10 -6 10 -6 10 -9 10 0 10 10 10 -2 10 -1 10 8 10 4 10 10 10 -7 10 5 10 11 10 -7 10 -25 10 -8 10 -5 10 -1 10 -22 10 -2 10 -5 10 2 10 31 10 32 10 13 10 2 10" transform="scale(.1)" fill="none" stroke="#333" stroke-width="5.0"/>
<path d="M6568 7610l-59 6 41 6 -21 6 10 6 0 6 72 6 40 6 -94 6 25 6 13 6 -46 6 62 6 18 6 -139 6 34 6 142 6 -16 6 -115 6 -12 6 -106 6 189 6 31 6 -39 6 -110 6 68 6 95 6 -40 6 -86 6 -15 6 53 6 -15 6 -5 6 -4 6 36 6 60 6 32 6 -42 6 -47 6 -11 6 26 6 16 6 -22 6 -72 6 9 6 92 6 -33 6 -38 6 86 6 50 6 -74 6 -170 6 -76 6 258 6 103 6 -107 6 -127 6 75 6 94 6 -73 6 -127 6 68 6 46 6 -17 6 -71 6 50 6 54 6 52 6 12 6 -71 6 -38 6 31 6 -6 6 33 6 17 6 -34 6 -23 6 -48 6 149 6 -14 6 -104 6 -38 6 42 6 120 6 53 6 -57 6 -125 6 38 6 70 6 -78 6 -34 6 6 6 18 6 111 6 -34 6 -39 6 -1 6 -97 6 112 6 19 6 28 6 -41 6 -54 6 -92 6 4 6 127 6 111 6 -107 6 -95 6 19 6 107 6 -58 6 16 6 6 6 -32 6 6 6 -47 6 -12 6 160 6 -68 6 18 6 -1 6 -80 6 -155 6 135 6 192 6 56 6 -178 6 -123 6 24 6 159 6 42 6 -124 6 -16 6 -104 6 74 6 79 6 -71 6 0 6 95 6 12 6 -135 6 1 6 81 6 17 6 47 6 -71 6 11 6 -34 6 -2 6 21 6 -16 6 43 6 5 6 -16 6 -18 6 -16 6 -6 6 14 6 -9 6 19 6 -7 6 9 6 27 6 -11 6 8 6 -19 6 17 6 -31 6 -13 6 9 6 19 6 11 6 -4 6 -8 6 -10 6 1 6 9 6 -28 6 36 6 10 6 -10 6 5 6 -18 6 1 6 14 6 -11 6 21 6 12 6 5 6 -35 6 -16 6 19 6 16 6 -30 6 -14 6 6 6 12 6 -1 6 18 6 13 6 4 6 -20 6 -1 6 -11 6 8 6 -7 6 9 6 -31 6 29 6 18 6 -14 6 -11 6 26 6 13 6 -8 6 -9 6 -34 6 -9 6 43 6 -3 6 -4 6 -21 6 -17 6 36 6 -30 6 24 6 15 6 -36 6 -2 6 17 6 20 6 3 6 -25 6 11 6 -25 6 6 6 8 6 24 6 6 6 -53 6 7 6 26 6 40 6 -53 6 -14 6 12 6 36 6 -5 6 -16 6 -13 6 10 6 6 6 -20 6 -9 6 33 6 2 6 -31 6 -2 6 -27 6 35 6 -13 6 -33 6 48 6 6 6 -18 6 -7 6 22 6 -10 6 16 6 18 6 -18 6 -20 6 9 6 23 6 9 6 -43 6 -6 6 11 6 -1 6 11 6 9 6 -19 6 10 6 19 6 -29 6 30 6 -9 6 -33 6 4 6 7 6 -5 6 15 6 -12 6 21 6 1 6 -23 6 3 6 42 6 9 6 -20 6 -43 6 2 6 -2 6 10 6 10 6 15 6 3 6 -37 6 0 6 -12 6 41 6 -1 6 -7 6 -15 6 -8 6 -34 6 21 6 74 6 -1 6 -33 6 -35 6 3 6 32 6 25 6 -5 6 -30 6 -35 6 6 6 36 6 -4 6 -1 6 4 6 11 6 -28 6 -40 6 13 6 33 6 24 6 2 6 -13 6 -15 6 -12 6 10 6 35 6 20 6 -50 6 7 6 -1 6 12 6 -13 6 -14 6 18 6 34 6 -23 6 -55 6 12 6 39 6 32 6 -32 6 -11 6 16 6 -16 6 0 6 2 6 8 6 -17 6 34 6 5 6 -48 6 -6 6 26 6 16 6 0 6 -10 6 2 6 -33 6 26 6 -17 6 4 6 3 6 2 6 43 6 -7 6 -48 6 14 6 -25 6 10 6 33 6 47 6 -50 6 -18 6 4 6 -22 6 14 6 39 6 -23 6 -7 6 1 6 -20 6 1 6 56 6 17 6 -82 6 9 6 52 6 8 6 -64 6 -15 6 16 6 42 6 11 6 -26 6 -16 6 19 6 4 6 2 6 -8 6 8 6 -9 6 12 6 7 6 -34 6 -13 6 34 6 39 6 -13 6 -12 6 7 6 -1 6 -2 6 -10 6 3 6 -61 6 11 6 51 6 25 6 -26 6 -48 6 8 6 3 6 70 6 -15 6 -72 6 -15 6 78 6 30 6 -29 6 -34 6 -1 6 12 6 6 6 -21 6 -36 6 45 6 6 6 17 6 -26 6 -28 6 6 6 8 6 31 6 9 6 0 6 -17 6 2 6 0 6 -14 6 10 6 6 6 -4 6 -8 6 14 6 7 6 -31 6 -15 6 37 6 -11 6 -22 6 11 6 30 6 2 6 -5 6 -26 6 2 6 7 6 32 6 -2 6 -43 6 7 6 31 6 11 6 -67 6 9 6 31 6 35 6 -30 6 -13 6 12 6 0 6 -5 6 18 6 -7 6 -46 6 -2 6 33 6 21 6 -14 6 -25 6 -6 6 25 6 44 6 2 6 -44 6 4 6 5 6 7 6 -11 6 -8 6 -34 6 8 6 34 6 17 6 -3 6 -39 6 2 6 57 6 -5 6 -26 6 -34 6 -6 6 30 6 19 6 -7 6 -21 6 8 6 -6 6 -10 6 18 6 -8 6 7 6 16 6 8 6 -1 6 -24 6 -12 6 10 6 8 6 -28 6 17 6 1 6 17 6 -25 6 -8 6 26 6 -31 6 16 6 22 6 2 6 37 6 -21 6 -16 6 -50 6 20 6 60 6 12 6 -36 6 -37 6 -16 6 31 6 17 6 -21 6 -2 6 24 6 11 6 -31 6 -38 6 20 6 16 6 11 6 15 6 10 6 -39 6 -34 6 16 6 52 6 17 6 -21 6 -34 6 -18 6 35 6 7 6 -24 6 19 6 3 6 26 6 -13 6 -12 6 -17 6 28 6 0 6 -9 6 -11 6 20 6 -10 6 -36 6 -4 6 43 6 16 6 -38 6 -28 6 25 6 40 6 1 6 -15 6 -9 6 26 6 -20 6 -7 6 3 6 -21 6 16 6 -34 6 14 6 33 6 16 6 -19 6 -1 6 -22 6 -15 6 27 6 11 6 -23 6 29 6 -16 6 -34 6 1 6 10 6 5 6 32 6 8 6 -44 6 6 6 -20 6 29 6 38 6 3 6 -23 6 -26 6 -24 6 31 6 8 6 3 6 -7 6 -33 6 12 6 47 6 29 6 -30 6 -75 6 21 6 19 6 0 6 31 6 -20 6 -26 6 8 6 32 6 -11 6 -11 6 29 6 -35 6 -7 6 20 6 20 6 -38 6 -15 6 37 6 -2 6 -15 6 -22 6 56 6 6 6 -17 6 -9 6 3 6 -8 6 3 6 22 6 -7 6 -42 6 14 6 15 6 24 6 -10 6 -24 6 3 6 15 6 9 6 -29 6 -6 6 -26 6 42 6 13 6 -2 6 16 6 -50 6 6 6 -5 6 -14 6 32 6 1 6 -9 6 -9 6 33 6 -10 6 14 6 3 6 -22 6 -26 6 -6 6 30 6 10 6 11 6 12 6 -33 6 -21 6 4 6 -1 6 15 6 5 6 10 6 -10 6 8 6 17 6 -54 6 -16 6 19 6 43 6 -39 6 -32 6 16 6 45 6 17 6 -23 6 -34 6 53 6 18 6 -20 6 -27 6 2 6 5 6 7 6 20 6 -15 6 -41 6 15 6 35 6 -9 6 30 6 -41 6 -43 6 48 6 3 6 -31 6 6 6 33 6 -6 6 -12 6 -3 6 7 6 20 6 -4 6 -21 6 -15 6 0 6 55 6 -18 6 -31 6 23 6 -14 6 10 6 -16 6 -31 6 14 6 8 6 17 6 7 6 -6 6 16 6 16 6 -21 6 -31 6 25 6 12 6 -4 6 -39 6 16 6 15 6 7 6 -5 6 -6 6 6 6 -1 6 1 6 -21 6" transform="scale(.1)" fill="none" stroke="#000" stroke-width="7.2"/>
</g>
<circle cx="155.9" cy="481.2" r="5.0" fill="#ffff00" fill-opacity="0.6" stroke="#000" stroke-width="0.6" stroke-opacity="0.8"/>
<circle cx="162.9" cy="485.8" r="5.0" fill="#ffff00" fill-opacity="0.6" stroke="#000" stroke-width="0.6" stroke-opacity="0.8"/>
<circle cx="178.9" cy="483.6" r="5.0" fill="#ffff00" fill-opacity="0.6" stroke="#000" stroke-width="0.6" stroke-opacity="0.8"/>
<circle cx="197.5" cy="487.7" r="5.0" fill="#ffff00" fill-opacity="0.6" stroke="#000" stroke-width="0.6" stroke-opacity="0.8"/>
<circle cx="211.8" cy="485.1" r="5.0" fill="#ffff00" fill-opacity="0.6" stroke="#000" stroke-width="0.6" stroke-opacity="0.8"/>
<circle cx="217.2" cy="487.3" r="5.0" fill="#ffff00" fill-opacity="0.6" stroke="#000" stroke-width="0.6" stroke-opacity="0.8"/>
<circle cx="257.0" cy="485.5" r="5.0" fill="#ffff00" fill-opacity="0.6" stroke="#000" stroke-width="0.6" stroke-opacity="0.8"/>
<circle cx="281.0" cy="487.0" r="5.0" fill="#ffff00" fill-opacity="0.6" stroke="#000" stroke-width="0.6" stroke-opacity="0.8"/>
<circle cx="326.2" cy="487.0" r="5.0" fill="#ffff00" fill-opacity="0.6" stroke="#000" stroke-width="0.6" stroke-opacity="0.8"/>
<circle cx="330.5" cy="495.5" r="5.0" fill="#ffff00" fill-opacity="0.6" stroke="#000" stroke-width="0.6" stroke-opacity="0.8"/>
<circle cx="341.2" cy="485.7" r="5.0" fill="#ffff00" fill-opacity="0.6" stroke="#000" stroke-width="0.6" stroke-opacity="0.8"/>
<circle cx="362.3" cy="497.0" r="5.0" fill="#ffff00" fill-opacity="0.6" stroke="#000" stroke-width="0.6" stroke-opacity="0.8"/>
<circle cx="372.2" cy="489.4" r="5.0" fill="#ffff00" fill-opacity="0.6" stroke="#000" stroke-width="0.6" stroke-opacity="0.8"/>
<circle cx="405.9" cy="498.0" r="5.0" fill="#ffff00" fill-opacity="0.6" stroke="#000" stroke-width="0.6" stroke-opacity="0.8"/>
<circle cx="155.9" cy="419.4" r="5.2" fill="#d40000" fill-opacity="0.92" stroke="#000" stroke-width="0.6" stroke-opacity="0.8"/>
<circle cx="162.9" cy="422.7" r="5.2" fill="#d40000" fill-opacity="0.92" stroke="#000" stroke-width="0.6" stroke-opacity="0.8"/>
<circle cx="178.9" cy="409.6" r="5.2" fill="#d40000" fill-opacity="0.92" stroke="#000" stroke-width="0.6" stroke-opacity="0.8"/>
<circle cx="197.5" cy="401.9" r="5.2" fill="#d40000" fill-opacity="0.92" stroke="#000" stroke-width="0.6" stroke-opacity="0.8"/>
<circle cx="216.0" cy="379.0" r="5.2" fill="#d40000" fill-opacity="0.92" stroke="#000" stroke-width="0.6" stroke-opacity="0.8"/>
<circle cx="280.5" cy="336.8" r="5.2" fill="#d40000" fill-opacity="0.92" stroke="#000" stroke-width="0.6" stroke-opacity="0.8"/>
<circle cx="329.9" cy="312.6" r="5.2" fill="#d40000" fill-opacity="0.92" stroke="#000" stroke-width="0.6" stroke-opacity="0.8"/>
<circle cx="341.2" cy="287.5" r="5.2" fill="#d40000" fill-opacity="0.92" stroke="#000" stroke-width="0.6" stroke-opacity="0.8"/>
<circle cx="362.7" cy="289.0" r="5.2" fill="#d40000" fill-opacity="0.92" stroke="#000" stroke-width="0.6" stroke-opacity="0.8"/>
<circle cx="405.9" cy="260.8" r="5.2" fill="#d40000" fill-opacity="0.92" stroke="#000" stroke-width="0.6" stroke-opacity="0.8"/>
<circle cx="111.3" cy="1177.6" r="5.0" fill="#ffff00" fill-opacity="0.6" stroke="#000" stroke-width="0.6" stroke-opacity="0.8"/>
<circle cx="144.8" cy="1193.6" r="5.0" fill="#ffff00" fill-opacity="0.6" stroke="#000" stroke-width="0.6" stroke-opacity="0.8"/>
<circle cx="168.2" cy="1197.4" r="5.0" fill="#ffff00" fill-opacity="0.6" stroke="#000" stroke-width="0.6" stroke-opacity="0.8"/>
<circle cx="193.0" cy="1198.0" r="5.0" fill="#ffff00" fill-opacity="0.6" stroke="#000" stroke-width="0.6" stroke-opacity="0.8"/>
<circle cx="255.8" cy="1205.9" r="5.0" fill="#ffff00" fill-opacity="0.6" stroke="#000" stroke-width="0.6" stroke-opacity="0.8"/>
<circle cx="277.2" cy="1213.8" r="5.0" fill="#ffff00" fill-opacity="0.6" stroke="#000" stroke-width="0.6" stroke-opacity="0.8"/>
<circle cx="297.7" cy="1211.5" r="5.0" fill="#ffff00" fill-opacity="0.6" stroke="#000" stroke-width="0.6" stroke-opacity="0.8"/>
<circle cx="302.3" cy="1213.8" r="5.0" fill="#ffff00" fill-opacity="0.6" stroke="#000" stroke-width="0.6" stroke-opacity="0.8"/>
<circle cx="368.6" cy="1216.3" r="5.0" fill="#ffff00" fill-opacity="0.6" stroke="#000" stroke-width="0.6" stroke-opacity="0.8"/>
<circle cx="375.2" cy="1217.4" r="5.0" fill="#ffff00" fill-opacity="0.6" stroke="#000" stroke-width="0.6" stroke-opacity="0.8"/>
<circle cx="398.8" cy="1223.9" r="5.0" fill="#ffff00" fill-opacity="0.6" stroke="#000" stroke-width="0.6" stroke-opacity="0.8"/>
<circle cx="417.2" cy="1226.6" r="5.0" fill="#ffff00" fill-opacity="0.6" stroke="#000" stroke-width="0.6" stroke-opacity="0.8"/>
<circle cx="420.4" cy="1224.7" r="5.0" fill="#ffff00" fill-opacity="0.6" stroke="#000" stroke-width="0.6" stroke-opacity="0.8"/>
<circle cx="430.4" cy="1223.4" r="5.0" fill="#ffff00" fill-opacity="0.6" stroke="#000" stroke-width="0.6" stroke-opacity="0.8"/>
<circle cx="433.5" cy="1226.8" r="5.0" fill="#ffff00" fill-opacity="0.6" stroke="#000" stroke-width="0.6" stroke-opacity="0.8"/>
<circle cx="441.4" cy="1224.7" r="5.0" fill="#ffff00" fill-opacity="0.6" stroke="#000" stroke-width="0.6" stroke-opacity="0.8"/>
<circle cx="443.5" cy="1223.4" r="5.0" fill="#ffff00" fill-opacity="0.6" stroke="#000" stroke-width="0.6" stroke-opacity="0.8"/>
<circle cx="465.0" cy="1223.9" r="5.0" fill="#ffff00" fill-opacity="0.6" stroke="#000" stroke-width="0.6" stroke-opacity="0.8"/>
<circle cx="475.0" cy="1228.7" r="5.0" fill="#ffff00" fill-opacity="0.6" stroke="#000" stroke-width="0.6" stroke-opacity="0.8"/>
<circle cx="474.5" cy="1236.0" r="5.0" fill="#ffff00" fill-opacity="0.6" stroke="#000" stroke-width="0.6" stroke-opacity="0.8"/>
<circle cx="526.3" cy="1235.2" r="5.0" fill="#ffff00" fill-opacity="0.6" stroke="#000" stroke-width="0.6" stroke-opacity="0.8"/>
<circle cx="551.0" cy="1235.8" r="5.0" fill="#ffff00" fill-opacity="0.6" stroke="#000" stroke-width="0.6" stroke-opacity="0.8"/>
<circle cx="570.1" cy="1238.4" r="5.0" fill="#ffff00" fill-opacity="0.6" stroke="#000" stroke-width="0.6" stroke-opacity="0.8"/>
<circle cx="572.8" cy="1240.5" r="5.0" fill="#ffff00" fill-opacity="0.6" stroke="#000" stroke-width="0.6" stroke-opacity="0.8"/>
<circle cx="111.3" cy="1133.2" r="5.2" fill="#d40000" fill-opacity="0.92" stroke="#000" stroke-width="0.6" stroke-opacity="0.8"/>
<circle cx="144.8" cy="1135.8" r="5.2" fill="#d40000" fill-opacity="0.92" stroke="#000" stroke-width="0.6" stroke-opacity="0.8"/>
<circle cx="168.2" cy="1122.7" r="5.2" fill="#d40000" fill-opacity="0.92" stroke="#000" stroke-width="0.6" stroke-opacity="0.8"/>
<circle cx="255.2" cy="1073.4" r="5.2" fill="#d40000" fill-opacity="0.92" stroke="#000" stroke-width="0.6" stroke-opacity="0.8"/>
<circle cx="277.2" cy="1066.6" r="5.2" fill="#d40000" fill-opacity="0.92" stroke="#000" stroke-width="0.6" stroke-opacity="0.8"/>
<circle cx="297.7" cy="1046.5" r="5.2" fill="#d40000" fill-opacity="0.92" stroke="#000" stroke-width="0.6" stroke-opacity="0.8"/>
<circle cx="302.3" cy="1050.6" r="5.2" fill="#d40000" fill-opacity="0.92" stroke="#000" stroke-width="0.6" stroke-opacity="0.8"/>
<circle cx="368.6" cy="1007.2" r="5.2" fill="#d40000" fill-opacity="0.92" stroke="#000" stroke-width="0.6" stroke-opacity="0.8"/>
<circle cx="374.4" cy="1003.3" r="5.2" fill="#d40000" fill-opacity="0.92" stroke="#000" stroke-width="0.6" stroke-opacity="0.8"/>
<circle cx="398.8" cy="981.5" r="5.2" fill="#d40000" fill-opacity="0.92" stroke="#000" stroke-width="0.6" stroke-opacity="0.8"/>
<circle cx="416.7" cy="978.9" r="5.2" fill="#d40000" fill-opacity="0.92" stroke="#000" stroke-width="0.6" stroke-opacity="0.8"/>
<circle cx="420.6" cy="978.9" r="5.2" fill="#d40000" fill-opacity="0.92" stroke="#000" stroke-width="0.6" stroke-opacity="0.8"/>
<circle cx="430.4" cy="971.0" r="5.2" fill="#d40000" fill-opacity="0.92" stroke="#000" stroke-width="0.6" stroke-opacity="0.8"/>
<circle cx="435.1" cy="967.3" r="5.2" fill="#d40000" fill-opacity="0.92" stroke="#000" stroke-width="0.6" stroke-opacity="0.8"/>
<circle cx="442.2" cy="955.2" r="5.2" fill="#d40000" fill-opacity="0.92" stroke="#000" stroke-width="0.6" stroke-opacity="0.8"/>
<circle cx="465.3" cy="944.7" r="5.2" fill="#d40000" fill-opacity="0.92" stroke="#000" stroke-width="0.6" stroke-opacity="0.8"/>
<circle cx="475.0" cy="959.4" r="5.2" fill="#d40000" fill-opacity="0.92" stroke="#000" stroke-width="0.6" stroke-opacity="0.8"/>
<circle cx="526.0" cy="942.1" r="5.2" fill="#d40000" fill-opacity="0.92" stroke="#000" stroke-width="0.6" stroke-opacity="0.8"/>
<text x="293.9" y="373.0" font-size="43.5" font-weight="bold" fill="#000">S</text>
<text x="292.3" y="371.4" font-size="43.5" font-weight="bold" fill="#ff4500">S</text>
<text x="294.2" y="532.2" font-size="43.5" font-weight="bold" fill="#000">P</text>
<text x="292.6" y="530.6" font-size="43.5" font-weight="bold" fill="#ffff00">P</text>
<text x="203.9" y="1136.3" font-size="43.5" font-weight="bold" fill="#000">S</text>
<text x="202.3" y="1134.7" font-size="43.5" font-weight="bold" fill="#ff4500">S</text>
<text x="207.1" y="1249.4" font-size="43.5" font-weight="bold" fill="#000">P</text>
<text x="205.5" y="1247.8" font-size="43.5" font-weight="bold" fill="#ffff00">P</text>
<text x="608.9" y="599.6" font-size="44" font-weight="bold" fill="#000">A</text>
<text x="607.5" y="1330.3" font-size="44" font-weight="bold" fill="#000">B</text>
<g transform="translate(0 0)">
<rect x="25" y="0.8" width="167.6" height="251.9" fill="#fff"/>
<path d="M25.0 0.8 L38.2 0.8 L35.5 4.5 L33.0 8.0 L31.5 11.0 L28.5 14.5 L25.0 18.2Z" fill="#c8c8c8" stroke="none"/>
<path d="M38.2 0.8 L35.5 4.5 L33.0 8.0 L31.5 11.0 L28.5 14.5 L25.0 18.2" fill="none" stroke="#000" stroke-width="0.8"/>
<path d="M77.8 13.7 L79.5 12.8 L81.2 12.1 L83.1 11.9 L85.1 11.7 L87.0 11.8 L89.0 11.6 L91.1 11.9 L93.2 11.5 L95.3 11.4 L96.5 12.6 L97.5 14.0 L99.3 15.6 L100.6 17.5 L101.6 18.9 L102.5 20.2 L104.0 21.1 L105.6 21.9 L106.7 23.1 L107.6 24.5 L108.7 26.2 L110.5 27.0 L112.0 28.2 L113.9 29.0 L115.1 30.7 L116.8 31.7 L118.1 33.3 L119.4 34.3 L120.6 35.5 L121.8 36.6 L122.6 38.1 L123.9 39.1 L125.1 40.3 L126.2 41.6 L126.9 43.2 L128.0 44.5 L128.5 46.2 L130.1 47.3 L130.4 49.1 L131.2 50.6 L132.2 51.9 L132.7 53.6 L133.8 54.9 L134.1 56.6 L134.9 58.1 L135.6 59.6 L136.8 60.8 L138.1 62.0 L139.0 63.4 L140.0 64.8 L141.9 65.3 L143.5 66.5 L144.9 67.7 L145.4 69.5 L146.5 71.0 L147.6 72.6 L147.6 74.6 L148.7 76.2 L147.9 78.0 L147.5 80.0 L150.1 81.5 L151.6 82.4 L152.0 84.2 L153.3 85.2 L154.0 86.7 L154.5 88.2 L155.1 89.7 L156.3 91.0 L156.3 92.7 L156.9 94.2 L157.0 95.8 L157.9 97.2 L159.3 98.5 L159.8 100.5 L161.4 101.7 L162.2 103.5 L163.2 105.1 L164.2 106.5 L164.3 108.5 L165.4 109.9 L165.6 111.8 L167.1 113.0 L167.7 114.7 L168.4 116.3 L169.2 117.9 L170.5 119.2 L171.1 120.9 L172.1 122.2 L172.7 123.7 L174.1 124.6 L175.0 126.0 L176.0 127.6 L177.1 129.2 L178.0 130.9 L179.3 132.2 L180.3 133.9 L180.9 135.5 L181.3 137.1 L181.8 138.7 L182.7 140.1 L182.9 141.8 L182.9 143.8 L184.0 145.6 L184.3 147.6 L184.2 149.6 L184.9 151.3 L184.3 153.2 L185.0 154.9 L185.4 156.6 L185.7 158.4 L185.5 160.2 L185.1 161.9 L185.4 163.7 L185.3 165.5 L184.4 167.2 L184.8 169.0 L184.2 170.7 L183.8 172.3 L183.2 173.8 L182.8 175.4 L182.1 176.9 L181.6 178.5 L180.5 179.8 L180.4 181.6 L180.0 183.3 L179.5 184.9 L178.3 186.2 L177.6 187.7 L176.8 189.3 L175.8 190.7 L175.1 192.4 L174.3 193.9 L173.5 195.5 L172.4 196.9 L171.4 198.3 L170.2 199.5 L169.2 200.9 L168.0 202.1 L166.4 203.1 L165.8 204.8 L164.4 205.8 L163.5 207.5 L161.5 207.7 L160.5 209.2 L159.4 210.7 L157.7 211.3 L156.6 212.7 L155.1 213.5 L153.7 214.4 L152.2 215.2 L150.8 216.0 L149.1 216.5 L147.4 216.9 L146.1 218.0 L144.5 218.6 L142.8 218.8 L141.0 218.8 L139.7 220.4 L137.9 220.4 L136.3 221.0 L134.7 221.8 L133.0 221.9 L131.4 222.8 L129.5 223.0 L127.7 223.5 L126.1 224.3 L124.2 224.7 L122.5 225.3 L120.9 225.6 L119.4 226.3 L117.8 226.6 L116.3 227.3 L114.8 227.8 L113.3 228.5 L111.5 227.6 L109.7 227.8 L107.8 227.7 L106.0 227.2 L104.1 227.2 L102.4 226.7 L100.9 225.7 L99.5 224.6 L97.9 223.8 L96.2 223.2 L95.2 221.7 L93.6 221.1 L91.9 220.5 L91.3 218.5 L89.6 218.0 L88.9 216.2 L87.2 215.0 L86.9 213.0 L85.4 211.7 L84.4 210.1 L83.0 208.8 L82.7 207.0 L81.8 205.4 L81.7 203.5 L80.4 202.2 L79.7 200.5 L79.4 198.7 L79.0 197.0 L78.5 195.2 L77.9 193.5 L77.8 191.7 L77.4 189.8 L77.1 187.9 L76.5 186.1 L75.4 184.4 L75.2 182.5 L74.3 180.8 L74.2 178.8 L73.3 177.0 L72.8 175.2 L72.5 173.3 L71.7 171.6 L72.7 169.7 L72.2 168.0 L71.3 166.3 L71.7 164.5 L71.2 162.8 L71.4 161.0 L69.9 159.4 L70.4 157.6 L70.2 155.8 L70.3 154.0 L69.9 152.3 L69.8 150.6 L69.7 148.8 L69.6 147.1 L70.2 145.3 L70.2 143.5 L69.4 141.8 L69.0 139.8 L68.7 137.9 L69.7 135.8 L68.6 133.9 L68.3 131.9 L68.4 129.9 L68.6 128.0 L68.6 126.0 L68.8 124.3 L69.0 122.5 L68.7 120.8 L68.3 119.1 L68.8 117.3 L68.6 115.6 L68.9 113.9 L69.7 112.2 L69.2 110.3 L69.0 108.5 L69.3 106.8 L69.9 105.1 L70.8 103.5 L70.6 101.5 L71.2 99.8 L71.0 97.9 L71.9 96.3 L72.6 94.6 L73.5 92.9 L74.7 91.3 L74.9 89.2 L76.1 87.6 L76.7 85.9 L77.1 84.1 L76.9 82.3 L77.4 80.5 L77.8 78.8 L78.2 77.0 L78.0 75.3 L77.6 73.5 L77.2 71.8 L76.9 70.1 L77.4 68.4 L77.2 66.6 L77.3 64.8 L77.2 63.1 L77.7 61.4 L77.8 59.6 L79.1 57.8 L80.5 56.0 L82.2 54.7 L82.2 52.6 L83.0 51.1 L84.3 50.0 L85.2 48.6 L85.7 46.9 L86.6 45.5 L85.6 43.5 L83.9 42.0 L83.4 40.2 L84.4 38.5 L84.9 36.8 L84.8 35.0 L84.4 33.0 L85.7 31.5 L85.0 29.8 L85.5 28.0 L84.8 26.3 L85.6 24.1 L86.6 21.9 L84.9 21.6 L83.4 20.7 L81.9 20.1 L80.4 19.3 L78.8 17.7 L76.9 16.6Z" fill="#c8c8c8" stroke="#000" stroke-width="1.2" stroke-linejoin="round"/>
<path d="M86.6 21.9 L93.6 22.8 L100.6 26.3 L103.2 30.7 L101.5 32.4 L95.3 31.5 L90.1 28.9 L87.4 26.3Z" fill="#fff" stroke="#000" stroke-width="1.0" stroke-linejoin="round"/>
<path d="M25.3 40.7 L29.0 41.2 L33.1 42.0 L38.0 41.5 L43.6 40.7 L46.0 42.5 L48.9 46.0 L54.0 47.8 L59.4 49.9 L64.0 51.3 L69.9 53.9 L73.0 55.0 L75.2 56.5 L76.5 60.4 M25.3 46.0 L30.0 45.2 L35.8 44.7 L40.0 43.8 L42.5 42.3" fill="none" stroke="#000" stroke-width="1.0"/>
<g fill="none" stroke="#000" stroke-width="0.7"><ellipse cx="63.8" cy="28.6" rx="2.2" ry="1.3" transform="rotate(30 63.8 28.6)"/><path d="M69 22l2-3l3 0l1 2l-2 2l1 2l-3 1l-2-2zM73 17l2-2l3 0l1 2l-2 1l-2 1zM76 20l2-1l2 1l0 2l-2 1l-2-1zM71 26l2-1l1 2l-2 1z"/><ellipse cx="105.4" cy="40.7" rx="0.9" ry="2"/><path d="M104 94l3 1l2 -1M106 97l2 1"/><path d="M130 110.5l0.5 3l1.5 -1"/><path d="M137 124.5l3 -3l1.5 -4l2 -1"/><path d="M158 156l3 -1l3 1.5l2 -2M159 159l2.5 -1l1.5 2"/><path d="M67 87l1 6l-1 5l2 4l-1 5l1 5"/></g>
<g fill="#000" stroke="none"><circle cx="73" cy="65" r="0.8"/><circle cx="69" cy="46" r="0.8"/><circle cx="76" cy="43" r="0.6"/><circle cx="55" cy="35" r="0.5"/></g>
<path d="M136.4 72.8L139.6 78.3L133.2 78.3ZM90.4 83.3L93.6 88.8L87.2 88.8ZM111.2 87.8L114.4 93.3L108.0 93.3ZM160.6 114.0L163.8 119.5L157.4 119.5ZM125.6 120.6L128.8 126.1L122.4 126.1ZM156.1 135.3L159.3 140.8L152.9 140.8ZM77.3 136.6L80.5 142.1L74.1 142.1ZM87.0 138.5L90.2 144.0L83.8 144.0ZM112.0 144.5L115.2 150.0L108.8 150.0ZM119.8 149.8L123.0 155.3L116.6 155.3ZM127.2 155.6L130.4 161.1L124.0 161.1ZM143.5 154.2L146.7 159.7L140.3 159.7ZM151.4 160.0L154.6 165.5L148.2 165.5ZM159.3 166.1L162.5 171.6L156.1 171.6ZM167.7 165.5L170.9 171.0L164.5 171.0ZM180.3 145.8L183.5 151.3L177.1 151.3ZM182.4 169.5L185.6 175.0L179.2 175.0ZM141.7 176.6L144.9 182.1L138.5 182.1Z" fill="#000"/>
<path d="M107.5 63.6L110.7 69.1L104.3 69.1ZM75.7 111.2L78.9 116.7L72.5 116.7ZM71.8 138.0L75.0 143.5L68.6 143.5ZM104.1 146.9L107.3 152.4L100.9 152.4ZM81.0 163.7L84.2 169.2L77.8 169.2ZM109.3 181.3L112.5 186.8L106.1 186.8ZM155.3 198.4L158.5 203.9L152.1 203.9ZM118.8 215.5L122.0 221.0L115.6 221.0Z" fill="#fff" stroke="#000" stroke-width="0.6"/>
<path d="M139.3 126.0 L142.0 133.9 L150.3 134.0 L143.7 139.0 L146.1 147.0 L139.3 142.2 L132.5 147.0 L134.9 139.0 L128.3 134.0 L136.6 133.9Z" fill="#000"/>
<path d="M139.3 133.4 L140.3 136.2 L143.3 136.3 L140.9 138.1 L141.8 141.0 L139.3 139.3 L136.8 141.0 L137.7 138.1 L135.3 136.3 L138.3 136.2Z" fill="#fff"/>
<rect x="25" y="0.8" width="167.6" height="251.9" fill="none" stroke="#000" stroke-width="1.6"/>
</g>
<g transform="translate(4.9 712.6)">
<rect x="25" y="0.8" width="167.6" height="251.9" fill="#fff"/>
<path d="M25.0 0.8 L38.2 0.8 L35.5 4.5 L33.0 8.0 L31.5 11.0 L28.5 14.5 L25.0 18.2Z" fill="#c8c8c8" stroke="none"/>
<path d="M38.2 0.8 L35.5 4.5 L33.0 8.0 L31.5 11.0 L28.5 14.5 L25.0 18.2" fill="none" stroke="#000" stroke-width="0.8"/>
<path d="M77.8 13.7 L79.5 12.8 L81.2 12.1 L83.1 11.9 L85.1 11.7 L87.0 11.8 L89.0 11.6 L91.1 11.9 L93.2 11.5 L95.3 11.4 L96.5 12.6 L97.5 14.0 L99.3 15.6 L100.6 17.5 L101.6 18.9 L102.5 20.2 L104.0 21.1 L105.6 21.9 L106.7 23.1 L107.6 24.5 L108.7 26.2 L110.5 27.0 L112.0 28.2 L113.9 29.0 L115.1 30.7 L116.8 31.7 L118.1 33.3 L119.4 34.3 L120.6 35.5 L121.8 36.6 L122.6 38.1 L123.9 39.1 L125.1 40.3 L126.2 41.6 L126.9 43.2 L128.0 44.5 L128.5 46.2 L130.1 47.3 L130.4 49.1 L131.2 50.6 L132.2 51.9 L132.7 53.6 L133.8 54.9 L134.1 56.6 L134.9 58.1 L135.6 59.6 L136.8 60.8 L138.1 62.0 L139.0 63.4 L140.0 64.8 L141.9 65.3 L143.5 66.5 L144.9 67.7 L145.4 69.5 L146.5 71.0 L147.6 72.6 L147.6 74.6 L148.7 76.2 L147.9 78.0 L147.5 80.0 L150.1 81.5 L151.6 82.4 L152.0 84.2 L153.3 85.2 L154.0 86.7 L154.5 88.2 L155.1 89.7 L156.3 91.0 L156.3 92.7 L156.9 94.2 L157.0 95.8 L157.9 97.2 L159.3 98.5 L159.8 100.5 L161.4 101.7 L162.2 103.5 L163.2 105.1 L164.2 106.5 L164.3 108.5 L165.4 109.9 L165.6 111.8 L167.1 113.0 L167.7 114.7 L168.4 116.3 L169.2 117.9 L170.5 119.2 L171.1 120.9 L172.1 122.2 L172.7 123.7 L174.1 124.6 L175.0 126.0 L176.0 127.6 L177.1 129.2 L178.0 130.9 L179.3 132.2 L180.3 133.9 L180.9 135.5 L181.3 137.1 L181.8 138.7 L182.7 140.1 L182.9 141.8 L182.9 143.8 L184.0 145.6 L184.3 147.6 L184.2 149.6 L184.9 151.3 L184.3 153.2 L185.0 154.9 L185.4 156.6 L185.7 158.4 L185.5 160.2 L185.1 161.9 L185.4 163.7 L185.3 165.5 L184.4 167.2 L184.8 169.0 L184.2 170.7 L183.8 172.3 L183.2 173.8 L182.8 175.4 L182.1 176.9 L181.6 178.5 L180.5 179.8 L180.4 181.6 L180.0 183.3 L179.5 184.9 L178.3 186.2 L177.6 187.7 L176.8 189.3 L175.8 190.7 L175.1 192.4 L174.3 193.9 L173.5 195.5 L172.4 196.9 L171.4 198.3 L170.2 199.5 L169.2 200.9 L168.0 202.1 L166.4 203.1 L165.8 204.8 L164.4 205.8 L163.5 207.5 L161.5 207.7 L160.5 209.2 L159.4 210.7 L157.7 211.3 L156.6 212.7 L155.1 213.5 L153.7 214.4 L152.2 215.2 L150.8 216.0 L149.1 216.5 L147.4 216.9 L146.1 218.0 L144.5 218.6 L142.8 218.8 L141.0 218.8 L139.7 220.4 L137.9 220.4 L136.3 221.0 L134.7 221.8 L133.0 221.9 L131.4 222.8 L129.5 223.0 L127.7 223.5 L126.1 224.3 L124.2 224.7 L122.5 225.3 L120.9 225.6 L119.4 226.3 L117.8 226.6 L116.3 227.3 L114.8 227.8 L113.3 228.5 L111.5 227.6 L109.7 227.8 L107.8 227.7 L106.0 227.2 L104.1 227.2 L102.4 226.7 L100.9 225.7 L99.5 224.6 L97.9 223.8 L96.2 223.2 L95.2 221.7 L93.6 221.1 L91.9 220.5 L91.3 218.5 L89.6 218.0 L88.9 216.2 L87.2 215.0 L86.9 213.0 L85.4 211.7 L84.4 210.1 L83.0 208.8 L82.7 207.0 L81.8 205.4 L81.7 203.5 L80.4 202.2 L79.7 200.5 L79.4 198.7 L79.0 197.0 L78.5 195.2 L77.9 193.5 L77.8 191.7 L77.4 189.8 L77.1 187.9 L76.5 186.1 L75.4 184.4 L75.2 182.5 L74.3 180.8 L74.2 178.8 L73.3 177.0 L72.8 175.2 L72.5 173.3 L71.7 171.6 L72.7 169.7 L72.2 168.0 L71.3 166.3 L71.7 164.5 L71.2 162.8 L71.4 161.0 L69.9 159.4 L70.4 157.6 L70.2 155.8 L70.3 154.0 L69.9 152.3 L69.8 150.6 L69.7 148.8 L69.6 147.1 L70.2 145.3 L70.2 143.5 L69.4 141.8 L69.0 139.8 L68.7 137.9 L69.7 135.8 L68.6 133.9 L68.3 131.9 L68.4 129.9 L68.6 128.0 L68.6 126.0 L68.8 124.3 L69.0 122.5 L68.7 120.8 L68.3 119.1 L68.8 117.3 L68.6 115.6 L68.9 113.9 L69.7 112.2 L69.2 110.3 L69.0 108.5 L69.3 106.8 L69.9 105.1 L70.8 103.5 L70.6 101.5 L71.2 99.8 L71.0 97.9 L71.9 96.3 L72.6 94.6 L73.5 92.9 L74.7 91.3 L74.9 89.2 L76.1 87.6 L76.7 85.9 L77.1 84.1 L76.9 82.3 L77.4 80.5 L77.8 78.8 L78.2 77.0 L78.0 75.3 L77.6 73.5 L77.2 71.8 L76.9 70.1 L77.4 68.4 L77.2 66.6 L77.3 64.8 L77.2 63.1 L77.7 61.4 L77.8 59.6 L79.1 57.8 L80.5 56.0 L82.2 54.7 L82.2 52.6 L83.0 51.1 L84.3 50.0 L85.2 48.6 L85.7 46.9 L86.6 45.5 L85.6 43.5 L83.9 42.0 L83.4 40.2 L84.4 38.5 L84.9 36.8 L84.8 35.0 L84.4 33.0 L85.7 31.5 L85.0 29.8 L85.5 28.0 L84.8 26.3 L85.6 24.1 L86.6 21.9 L84.9 21.6 L83.4 20.7 L81.9 20.1 L80.4 19.3 L78.8 17.7 L76.9 16.6Z" fill="#c8c8c8" stroke="#000" stroke-width="1.2" stroke-linejoin="round"/>
<path d="M86.6 21.9 L93.6 22.8 L100.6 26.3 L103.2 30.7 L101.5 32.4 L95.3 31.5 L90.1 28.9 L87.4 26.3Z" fill="#fff" stroke="#000" stroke-width="1.0" stroke-linejoin="round"/>
<path d="M25.3 40.7 L29.0 41.2 L33.1 42.0 L38.0 41.5 L43.6 40.7 L46.0 42.5 L48.9 46.0 L54.0 47.8 L59.4 49.9 L64.0 51.3 L69.9 53.9 L73.0 55.0 L75.2 56.5 L76.5 60.4 M25.3 46.0 L30.0 45.2 L35.8 44.7 L40.0 43.8 L42.5 42.3" fill="none" stroke="#000" stroke-width="1.0"/>
<g fill="none" stroke="#000" stroke-width="0.7"><ellipse cx="63.8" cy="28.6" rx="2.2" ry="1.3" transform="rotate(30 63.8 28.6)"/><path d="M69 22l2-3l3 0l1 2l-2 2l1 2l-3 1l-2-2zM73 17l2-2l3 0l1 2l-2 1l-2 1zM76 20l2-1l2 1l0 2l-2 1l-2-1zM71 26l2-1l1 2l-2 1z"/><ellipse cx="105.4" cy="40.7" rx="0.9" ry="2"/><path d="M104 94l3 1l2 -1M106 97l2 1"/><path d="M130 110.5l0.5 3l1.5 -1"/><path d="M137 124.5l3 -3l1.5 -4l2 -1"/><path d="M158 156l3 -1l3 1.5l2 -2M159 159l2.5 -1l1.5 2"/><path d="M67 87l1 6l-1 5l2 4l-1 5l1 5"/></g>
<g fill="#000" stroke="none"><circle cx="73" cy="65" r="0.8"/><circle cx="69" cy="46" r="0.8"/><circle cx="76" cy="43" r="0.6"/><circle cx="55" cy="35" r="0.5"/></g>
<path d="M108.1 63.1L111.3 68.6L104.9 68.6ZM137.0 72.3L140.2 77.8L133.8 77.8ZM90.5 83.3L93.7 88.8L87.3 88.8ZM111.5 87.3L114.7 92.8L108.3 92.8ZM135.7 91.7L138.9 97.2L132.5 97.2ZM75.8 110.9L79.0 116.4L72.6 116.4ZM96.8 113.8L100.0 119.3L93.6 119.3ZM161.2 114.1L164.4 119.6L158.0 119.6ZM126.0 120.9L129.2 126.4L122.8 126.4ZM156.2 135.4L159.4 140.9L153.0 140.9ZM72.1 137.7L75.3 143.2L68.9 143.2ZM77.4 136.1L80.6 141.6L74.2 141.6ZM87.6 138.0L90.8 143.5L84.4 143.5ZM104.2 146.4L107.4 151.9L101.0 151.9ZM112.1 144.3L115.3 149.8L108.9 149.8ZM119.9 149.8L123.1 155.3L116.7 155.3ZM136.2 153.5L139.4 159.0L133.0 159.0ZM143.6 153.5L146.8 159.0L140.4 159.0ZM151.5 160.1L154.7 165.6L148.3 165.6ZM162.2 145.9L165.4 151.4L159.0 151.4ZM180.4 145.3L183.6 150.8L177.2 150.8ZM167.8 165.8L171.0 171.3L164.6 171.3ZM173.3 168.5L176.5 174.0L170.1 174.0ZM182.5 169.0L185.7 174.5L179.3 174.5ZM110.0 180.8L113.2 186.3L106.8 186.3Z" fill="#000"/>
<path d="M127.3 155.3L130.5 160.8L124.1 160.8ZM81.3 163.7L84.5 169.2L78.1 169.2ZM141.7 176.1L144.9 181.6L138.5 181.6ZM155.4 198.2L158.6 203.7L152.2 203.7ZM118.9 215.5L122.1 221.0L115.7 221.0Z" fill="#fff" stroke="#000" stroke-width="0.6"/>
<path d="M129.1 71.0 L131.8 78.9 L140.1 79.0 L133.5 84.0 L135.9 92.0 L129.1 87.2 L122.3 92.0 L124.7 84.0 L118.1 79.0 L126.4 78.9Z" fill="#000"/>
<path d="M129.1 78.4 L130.1 81.2 L133.1 81.3 L130.7 83.1 L131.6 86.0 L129.1 84.3 L126.6 86.0 L127.5 83.1 L125.1 81.3 L128.1 81.2Z" fill="#fff"/>
<rect x="25" y="0.8" width="167.6" height="251.9" fill="none" stroke="#000" stroke-width="1.6"/>
</g>
<text x="205" y="27" font-size="26.45">2016-12-24 13:17 UTC (8.9 km depth)</text>
<text x="214" y="743.7" font-size="26.45">2016-08-24 14:25 UTC (26.2 km depth)</text>
</svg></body></html>
